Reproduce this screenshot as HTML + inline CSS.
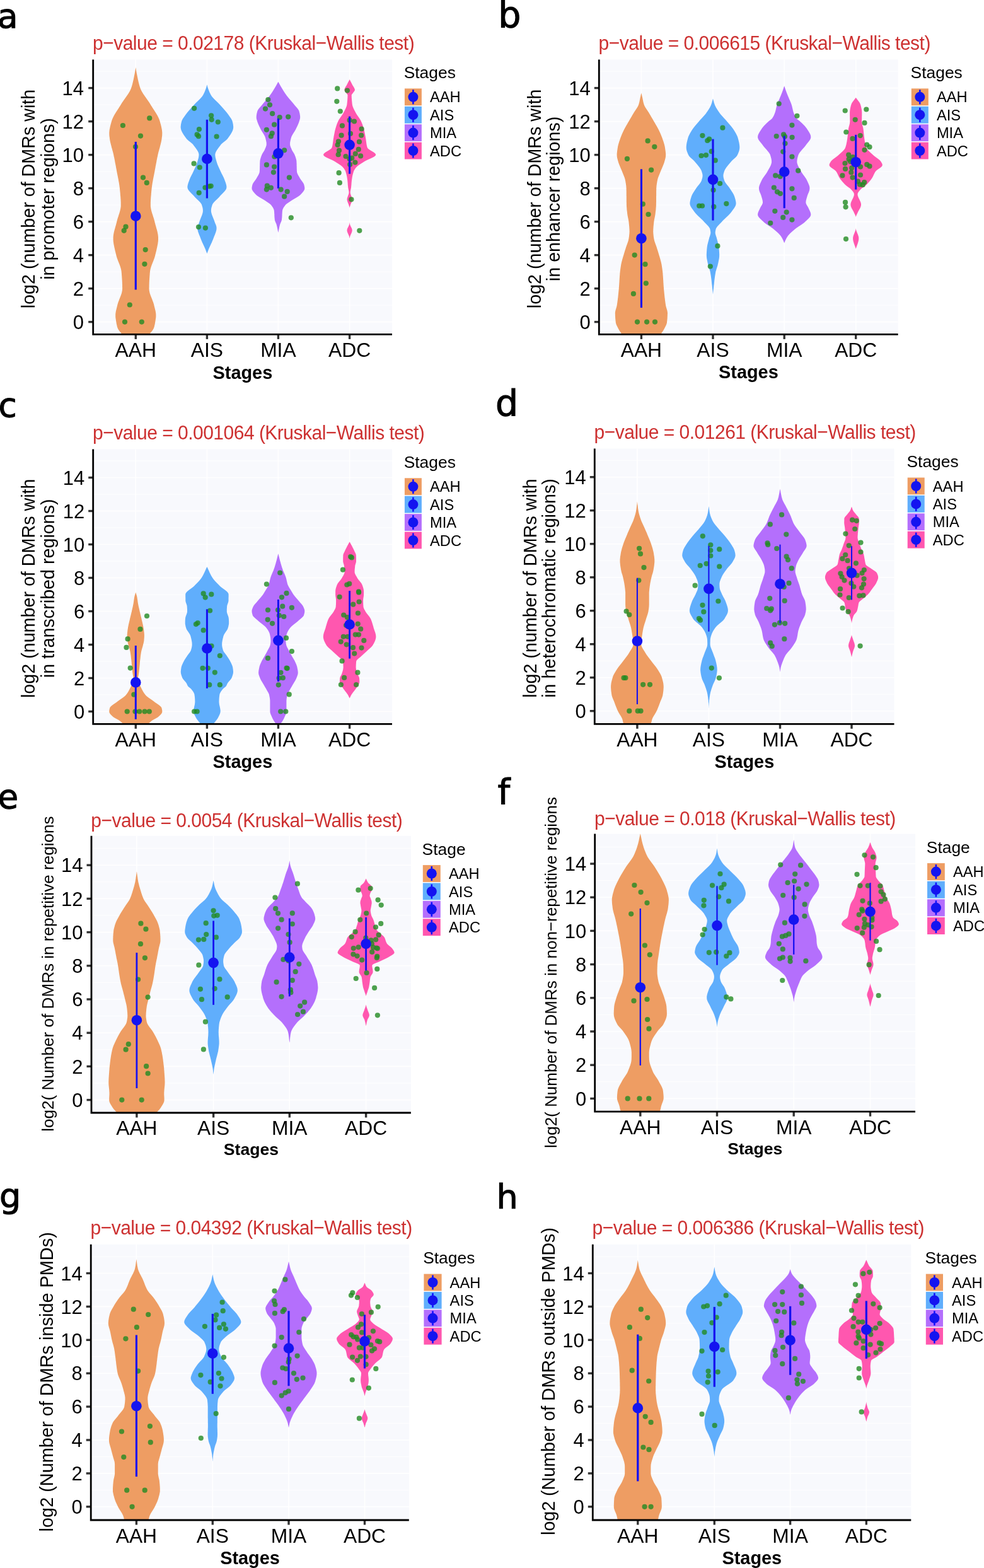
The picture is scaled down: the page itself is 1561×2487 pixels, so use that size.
<!DOCTYPE html>
<html><head><meta charset="utf-8"><title>Violin plots</title>
<style>
html,body{margin:0;padding:0;background:#fff;width:1561px;height:2487px;overflow:hidden}
svg{display:block}
circle.d{fill:#228B22;fill-opacity:.8}
</style></head><body>
<svg xmlns="http://www.w3.org/2000/svg" width="1561" height="2487" viewBox="0 0 1561 2487">
<clipPath id="c0"><rect x="147.7" y="94.5" width="474.3" height="435.9"/></clipPath>
<rect x="147.7" y="94.5" width="474.3" height="435.9" fill="#F8F9FD"/>
<g stroke="#FFFFFF"><line x1="147.7" x2="622" y1="510.6" y2="510.6" stroke-width="1.6"/><line x1="147.7" x2="622" y1="484.1" y2="484.1" stroke-width="0.9"/><line x1="147.7" x2="622" y1="457.6" y2="457.6" stroke-width="1.6"/><line x1="147.7" x2="622" y1="431.1" y2="431.1" stroke-width="0.9"/><line x1="147.7" x2="622" y1="404.6" y2="404.6" stroke-width="1.6"/><line x1="147.7" x2="622" y1="378.1" y2="378.1" stroke-width="0.9"/><line x1="147.7" x2="622" y1="351.6" y2="351.6" stroke-width="1.6"/><line x1="147.7" x2="622" y1="325.1" y2="325.1" stroke-width="0.9"/><line x1="147.7" x2="622" y1="298.6" y2="298.6" stroke-width="1.6"/><line x1="147.7" x2="622" y1="272.1" y2="272.1" stroke-width="0.9"/><line x1="147.7" x2="622" y1="245.6" y2="245.6" stroke-width="1.6"/><line x1="147.7" x2="622" y1="219.1" y2="219.1" stroke-width="0.9"/><line x1="147.7" x2="622" y1="192.6" y2="192.6" stroke-width="1.6"/><line x1="147.7" x2="622" y1="166.1" y2="166.1" stroke-width="0.9"/><line x1="147.7" x2="622" y1="139.6" y2="139.6" stroke-width="1.6"/><line x1="147.7" x2="622" y1="113.1" y2="113.1" stroke-width="0.9"/><line x1="215.3" x2="215.3" y1="94.5" y2="530.4" stroke-width="1.6"/><line x1="328.4" x2="328.4" y1="94.5" y2="530.4" stroke-width="1.6"/><line x1="441.4" x2="441.4" y1="94.5" y2="530.4" stroke-width="1.6"/><line x1="554.6" x2="554.6" y1="94.5" y2="530.4" stroke-width="1.6"/></g>
<g clip-path="url(#c0)">
<path d="M215.3,107 L215.5,108 L215.6,109 L215.8,110 L216,111 L216.1,112 L216.3,113 L216.5,114 L216.6,115 L216.8,116 L217,117 L217.2,118 L217.4,119 L217.6,120 L217.8,121 L218,122 L218.2,123 L218.4,124 L218.6,125 L218.8,126 L219,127 L219.3,128 L219.5,129 L219.7,130 L220,131 L220.2,132 L220.5,133 L220.7,134 L221,135 L221.3,136 L221.6,137 L221.9,138 L222.3,139 L222.6,140 L223,141 L223.4,142 L223.9,143 L224.4,144 L224.9,145 L225.5,146 L226.1,147 L226.7,148 L227.3,149 L228,150 L228.7,151.1 L229.4,152.1 L230.1,153.1 L230.8,154.1 L231.5,155.1 L232.2,156.1 L232.9,157.1 L233.6,158.1 L234.3,159.1 L235,160.1 L235.7,161.1 L236.4,162.1 L237.1,163.1 L237.7,164.1 L238.3,165.1 L238.9,166.1 L239.5,167.1 L240.1,168.1 L240.8,169.1 L241.4,170.1 L242,171.1 L242.7,172.1 L243.3,173.1 L244,174.1 L244.6,175.1 L245.3,176.1 L245.9,177.1 L246.6,178.1 L247.2,179.1 L247.8,180.1 L248.4,181.1 L249,182.1 L249.6,183.1 L250.1,184.1 L250.6,185.1 L251.1,186.1 L251.6,187.1 L252,188.1 L252.5,189.1 L252.8,190.1 L253.2,191.1 L253.5,192.1 L253.8,193.1 L254.1,194.1 L254.3,195.1 L254.6,196.1 L254.9,197.1 L255.2,198.1 L255.4,199.1 L255.7,200.1 L255.9,201.1 L256.1,202.1 L256.3,203.1 L256.5,204.1 L256.7,205.1 L256.9,206.1 L257,207.1 L257.1,208.1 L257.2,209.1 L257.3,210.1 L257.3,211.1 L257.3,212.1 L257.3,213.1 L257.2,214.1 L257.2,215.1 L257.1,216.1 L256.9,217.1 L256.8,218.1 L256.7,219.1 L256.6,220.1 L256.4,221.1 L256.3,222.1 L256.1,223.1 L255.9,224.1 L255.7,225.1 L255.5,226.1 L255.2,227.1 L255,228.1 L254.7,229.1 L254.5,230.1 L254.2,231.1 L253.9,232.1 L253.7,233.2 L253.4,234.2 L253.1,235.2 L252.8,236.2 L252.5,237.2 L252.3,238.2 L252,239.2 L251.7,240.2 L251.4,241.2 L251.2,242.2 L250.9,243.2 L250.7,244.2 L250.5,245.2 L250.3,246.2 L250.1,247.2 L249.9,248.2 L249.6,249.2 L249.4,250.2 L249.2,251.2 L249,252.2 L248.8,253.2 L248.6,254.2 L248.4,255.2 L248.3,256.2 L248.1,257.2 L247.9,258.2 L247.7,259.2 L247.5,260.2 L247.3,261.2 L247.1,262.2 L246.9,263.2 L246.7,264.2 L246.6,265.2 L246.4,266.2 L246.2,267.2 L246,268.2 L245.8,269.2 L245.6,270.2 L245.5,271.2 L245.3,272.2 L245.1,273.2 L244.9,274.2 L244.7,275.2 L244.5,276.2 L244.3,277.2 L244.1,278.2 L243.9,279.2 L243.7,280.2 L243.5,281.2 L243.3,282.2 L243.1,283.2 L242.9,284.2 L242.7,285.2 L242.6,286.2 L242.4,287.2 L242.2,288.2 L242,289.2 L241.8,290.2 L241.7,291.2 L241.5,292.2 L241.4,293.2 L241.2,294.2 L241.1,295.2 L241,296.2 L240.8,297.2 L240.7,298.2 L240.6,299.2 L240.5,300.2 L240.4,301.2 L240.3,302.2 L240.2,303.2 L240.1,304.2 L240,305.2 L239.9,306.2 L239.8,307.2 L239.8,308.2 L239.7,309.2 L239.6,310.2 L239.5,311.2 L239.4,312.2 L239.3,313.2 L239.3,314.3 L239.2,315.3 L239.1,316.3 L239.1,317.3 L239,318.3 L239,319.3 L238.9,320.3 L238.9,321.3 L238.9,322.3 L238.9,323.3 L238.9,324.3 L238.9,325.3 L238.9,326.3 L238.9,327.3 L239,328.3 L239.2,329.3 L239.3,330.3 L239.5,331.3 L239.7,332.3 L239.9,333.3 L240.2,334.3 L240.4,335.3 L240.7,336.3 L241,337.3 L241.3,338.3 L241.6,339.3 L242,340.3 L242.3,341.3 L242.6,342.3 L242.9,343.3 L243.2,344.3 L243.6,345.3 L243.9,346.3 L244.2,347.3 L244.5,348.3 L244.7,349.3 L245,350.3 L245.3,351.3 L245.5,352.3 L245.7,353.3 L246,354.3 L246.3,355.3 L246.5,356.3 L246.8,357.3 L247.1,358.3 L247.4,359.3 L247.7,360.3 L247.9,361.3 L248.2,362.3 L248.5,363.3 L248.8,364.3 L249.1,365.3 L249.3,366.3 L249.6,367.3 L249.8,368.3 L250,369.3 L250.2,370.3 L250.4,371.3 L250.6,372.3 L250.7,373.3 L250.8,374.3 L250.9,375.3 L251,376.3 L251,377.3 L251,378.3 L251,379.3 L251,380.3 L250.9,381.3 L250.9,382.3 L250.8,383.3 L250.6,384.3 L250.5,385.3 L250.4,386.3 L250.2,387.3 L250,388.3 L249.8,389.3 L249.6,390.3 L249.4,391.3 L249.2,392.3 L249,393.3 L248.7,394.3 L248.5,395.3 L248.3,396.4 L248,397.4 L247.8,398.4 L247.5,399.4 L247.3,400.4 L247,401.4 L246.8,402.4 L246.5,403.4 L246.3,404.4 L246.1,405.4 L245.8,406.4 L245.5,407.4 L245.2,408.4 L244.9,409.4 L244.5,410.4 L244.1,411.4 L243.8,412.4 L243.4,413.4 L243,414.4 L242.6,415.4 L242.2,416.4 L241.8,417.4 L241.4,418.4 L241,419.4 L240.6,420.4 L240.3,421.4 L239.9,422.4 L239.6,423.4 L239.3,424.4 L239,425.4 L238.7,426.4 L238.5,427.4 L238.3,428.4 L238.1,429.4 L238,430.4 L237.9,431.4 L237.8,432.4 L237.7,433.4 L237.6,434.4 L237.6,435.4 L237.5,436.4 L237.4,437.4 L237.3,438.4 L237.3,439.4 L237.2,440.4 L237.1,441.4 L237.1,442.4 L237,443.4 L236.9,444.4 L236.9,445.4 L236.8,446.4 L236.8,447.4 L236.7,448.4 L236.7,449.4 L236.7,450.4 L236.6,451.4 L236.6,452.4 L236.6,453.4 L236.6,454.4 L236.6,455.4 L236.5,456.4 L236.5,457.4 L236.6,458.4 L236.6,459.4 L236.7,460.4 L236.9,461.4 L237.1,462.4 L237.3,463.4 L237.5,464.4 L237.8,465.4 L238.1,466.4 L238.5,467.4 L238.8,468.4 L239.2,469.4 L239.6,470.4 L240,471.4 L240.4,472.4 L240.8,473.4 L241.2,474.4 L241.6,475.4 L241.9,476.4 L242.3,477.5 L242.7,478.5 L243.1,479.5 L243.4,480.5 L243.7,481.5 L244,482.5 L244.3,483.5 L244.5,484.5 L244.7,485.5 L245,486.5 L245.2,487.5 L245.5,488.5 L245.7,489.5 L246,490.5 L246.2,491.5 L246.5,492.5 L246.7,493.5 L246.9,494.5 L247,495.5 L247.2,496.5 L247.3,497.5 L247.4,498.5 L247.4,499.5 L247.4,500.5 L247.4,501.5 L247.4,502.5 L247.3,503.5 L247.2,504.5 L247,505.5 L246.9,506.5 L246.7,507.5 L246.6,508.5 L246.4,509.5 L246.3,510.5 L246.1,511.5 L245.9,512.5 L245.8,513.5 L245.6,514.5 L245.3,515.5 L245.1,516.5 L244.9,517.5 L244.6,518.5 L244.3,519.5 L243.9,520.5 L243.5,521.5 L242.9,522.5 L242.3,523.5 L241.6,524.5 L240.8,525.5 L240,526.5 L239.1,527.5 L238.3,528.5 L237.4,529.5 L236.6,530.5 L235.8,531.5 L235,532.5 L234.2,533.5 L233.4,534.5 L232.5,535.5 L231.6,536.5 L230.8,537.5 L229.9,538.5 L229,539.5 L228.2,540.5 L227.3,541.5 L226.5,542.5 L225.6,543.5 L224.7,544.5 L223.9,545.5 L223,546.5 L222.2,547.5 L221.3,548.5 L220.5,549.5 L219.6,550.5 L218.7,551.5 L217.9,552.5 L217,553.5 L216.2,554.5 L215.3,555.5 L215.3,555.5 L214.4,554.5 L213.6,553.5 L212.7,552.5 L211.9,551.5 L211,550.5 L210.1,549.5 L209.3,548.5 L208.4,547.5 L207.6,546.5 L206.7,545.5 L205.9,544.5 L205,543.5 L204.1,542.5 L203.3,541.5 L202.4,540.5 L201.6,539.5 L200.7,538.5 L199.8,537.5 L199,536.5 L198.1,535.5 L197.2,534.5 L196.4,533.5 L195.6,532.5 L194.8,531.5 L194,530.5 L193.2,529.5 L192.3,528.5 L191.5,527.5 L190.6,526.5 L189.8,525.5 L189,524.5 L188.3,523.5 L187.7,522.5 L187.1,521.5 L186.7,520.5 L186.3,519.5 L186,518.5 L185.7,517.5 L185.5,516.5 L185.3,515.5 L185,514.5 L184.8,513.5 L184.7,512.5 L184.5,511.5 L184.3,510.5 L184.2,509.5 L184,508.5 L183.9,507.5 L183.7,506.5 L183.6,505.5 L183.4,504.5 L183.3,503.5 L183.2,502.5 L183.2,501.5 L183.2,500.5 L183.2,499.5 L183.2,498.5 L183.3,497.5 L183.4,496.5 L183.6,495.5 L183.7,494.5 L183.9,493.5 L184.1,492.5 L184.4,491.5 L184.6,490.5 L184.9,489.5 L185.1,488.5 L185.4,487.5 L185.6,486.5 L185.9,485.5 L186.1,484.5 L186.3,483.5 L186.6,482.5 L186.9,481.5 L187.2,480.5 L187.5,479.5 L187.9,478.5 L188.3,477.5 L188.7,476.4 L189,475.4 L189.4,474.4 L189.8,473.4 L190.2,472.4 L190.6,471.4 L191,470.4 L191.4,469.4 L191.8,468.4 L192.1,467.4 L192.5,466.4 L192.8,465.4 L193.1,464.4 L193.3,463.4 L193.5,462.4 L193.7,461.4 L193.9,460.4 L194,459.4 L194,458.4 L194.1,457.4 L194.1,456.4 L194,455.4 L194,454.4 L194,453.4 L194,452.4 L194,451.4 L193.9,450.4 L193.9,449.4 L193.9,448.4 L193.8,447.4 L193.8,446.4 L193.7,445.4 L193.7,444.4 L193.6,443.4 L193.5,442.4 L193.5,441.4 L193.4,440.4 L193.3,439.4 L193.3,438.4 L193.2,437.4 L193.1,436.4 L193,435.4 L193,434.4 L192.9,433.4 L192.8,432.4 L192.7,431.4 L192.6,430.4 L192.5,429.4 L192.3,428.4 L192.1,427.4 L191.9,426.4 L191.6,425.4 L191.3,424.4 L191,423.4 L190.7,422.4 L190.3,421.4 L190,420.4 L189.6,419.4 L189.2,418.4 L188.8,417.4 L188.4,416.4 L188,415.4 L187.6,414.4 L187.2,413.4 L186.8,412.4 L186.5,411.4 L186.1,410.4 L185.7,409.4 L185.4,408.4 L185.1,407.4 L184.8,406.4 L184.5,405.4 L184.3,404.4 L184.1,403.4 L183.8,402.4 L183.6,401.4 L183.3,400.4 L183.1,399.4 L182.8,398.4 L182.6,397.4 L182.3,396.4 L182.1,395.3 L181.9,394.3 L181.6,393.3 L181.4,392.3 L181.2,391.3 L181,390.3 L180.8,389.3 L180.6,388.3 L180.4,387.3 L180.2,386.3 L180.1,385.3 L180,384.3 L179.8,383.3 L179.7,382.3 L179.7,381.3 L179.6,380.3 L179.6,379.3 L179.6,378.3 L179.6,377.3 L179.6,376.3 L179.7,375.3 L179.8,374.3 L179.9,373.3 L180,372.3 L180.2,371.3 L180.4,370.3 L180.6,369.3 L180.8,368.3 L181,367.3 L181.3,366.3 L181.5,365.3 L181.8,364.3 L182.1,363.3 L182.4,362.3 L182.7,361.3 L182.9,360.3 L183.2,359.3 L183.5,358.3 L183.8,357.3 L184.1,356.3 L184.3,355.3 L184.6,354.3 L184.9,353.3 L185.1,352.3 L185.3,351.3 L185.6,350.3 L185.9,349.3 L186.1,348.3 L186.4,347.3 L186.7,346.3 L187,345.3 L187.4,344.3 L187.7,343.3 L188,342.3 L188.3,341.3 L188.6,340.3 L189,339.3 L189.3,338.3 L189.6,337.3 L189.9,336.3 L190.2,335.3 L190.4,334.3 L190.7,333.3 L190.9,332.3 L191.1,331.3 L191.3,330.3 L191.4,329.3 L191.6,328.3 L191.7,327.3 L191.7,326.3 L191.7,325.3 L191.7,324.3 L191.7,323.3 L191.7,322.3 L191.7,321.3 L191.7,320.3 L191.6,319.3 L191.6,318.3 L191.5,317.3 L191.5,316.3 L191.4,315.3 L191.3,314.3 L191.3,313.2 L191.2,312.2 L191.1,311.2 L191,310.2 L190.9,309.2 L190.8,308.2 L190.8,307.2 L190.7,306.2 L190.6,305.2 L190.5,304.2 L190.4,303.2 L190.3,302.2 L190.2,301.2 L190.1,300.2 L190,299.2 L189.9,298.2 L189.8,297.2 L189.6,296.2 L189.5,295.2 L189.4,294.2 L189.2,293.2 L189.1,292.2 L188.9,291.2 L188.8,290.2 L188.6,289.2 L188.4,288.2 L188.2,287.2 L188,286.2 L187.9,285.2 L187.7,284.2 L187.5,283.2 L187.3,282.2 L187.1,281.2 L186.9,280.2 L186.7,279.2 L186.5,278.2 L186.3,277.2 L186.1,276.2 L185.9,275.2 L185.7,274.2 L185.5,273.2 L185.3,272.2 L185.1,271.2 L185,270.2 L184.8,269.2 L184.6,268.2 L184.4,267.2 L184.2,266.2 L184,265.2 L183.9,264.2 L183.7,263.2 L183.5,262.2 L183.3,261.2 L183.1,260.2 L182.9,259.2 L182.7,258.2 L182.5,257.2 L182.3,256.2 L182.2,255.2 L182,254.2 L181.8,253.2 L181.6,252.2 L181.4,251.2 L181.2,250.2 L181,249.2 L180.7,248.2 L180.5,247.2 L180.3,246.2 L180.1,245.2 L179.9,244.2 L179.7,243.2 L179.4,242.2 L179.2,241.2 L178.9,240.2 L178.6,239.2 L178.3,238.2 L178.1,237.2 L177.8,236.2 L177.5,235.2 L177.2,234.2 L176.9,233.2 L176.7,232.1 L176.4,231.1 L176.1,230.1 L175.9,229.1 L175.6,228.1 L175.4,227.1 L175.1,226.1 L174.9,225.1 L174.7,224.1 L174.5,223.1 L174.3,222.1 L174.2,221.1 L174,220.1 L173.9,219.1 L173.8,218.1 L173.7,217.1 L173.5,216.1 L173.4,215.1 L173.4,214.1 L173.3,213.1 L173.3,212.1 L173.3,211.1 L173.3,210.1 L173.4,209.1 L173.5,208.1 L173.6,207.1 L173.7,206.1 L173.9,205.1 L174.1,204.1 L174.3,203.1 L174.5,202.1 L174.7,201.1 L174.9,200.1 L175.2,199.1 L175.4,198.1 L175.7,197.1 L176,196.1 L176.3,195.1 L176.5,194.1 L176.8,193.1 L177.1,192.1 L177.4,191.1 L177.8,190.1 L178.1,189.1 L178.6,188.1 L179,187.1 L179.5,186.1 L180,185.1 L180.5,184.1 L181,183.1 L181.6,182.1 L182.2,181.1 L182.8,180.1 L183.4,179.1 L184,178.1 L184.7,177.1 L185.3,176.1 L186,175.1 L186.6,174.1 L187.3,173.1 L187.9,172.1 L188.6,171.1 L189.2,170.1 L189.8,169.1 L190.5,168.1 L191.1,167.1 L191.7,166.1 L192.3,165.1 L192.9,164.1 L193.5,163.1 L194.2,162.1 L194.9,161.1 L195.6,160.1 L196.3,159.1 L197,158.1 L197.7,157.1 L198.4,156.1 L199.1,155.1 L199.8,154.1 L200.5,153.1 L201.2,152.1 L201.9,151.1 L202.6,150 L203.3,149 L203.9,148 L204.5,147 L205.1,146 L205.7,145 L206.2,144 L206.7,143 L207.2,142 L207.6,141 L208,140 L208.3,139 L208.7,138 L209,137 L209.3,136 L209.6,135 L209.9,134 L210.1,133 L210.4,132 L210.6,131 L210.9,130 L211.1,129 L211.3,128 L211.6,127 L211.8,126 L212,125 L212.2,124 L212.4,123 L212.6,122 L212.8,121 L213,120 L213.2,119 L213.4,118 L213.6,117 L213.8,116 L214,115 L214.1,114 L214.3,113 L214.5,112 L214.6,111 L214.8,110 L215,109 L215.1,108 L215.3,107Z" fill="#EE9D63"/>
<path d="M328.4,134.3 L328.7,135.3 L328.9,136.3 L329.2,137.3 L329.5,138.4 L329.8,139.4 L330.2,140.4 L330.5,141.4 L330.9,142.4 L331.3,143.4 L331.7,144.4 L332.1,145.4 L332.5,146.4 L333,147.4 L333.5,148.4 L334,149.4 L334.5,150.4 L335.1,151.4 L335.8,152.4 L336.5,153.4 L337.4,154.4 L338.3,155.4 L339.2,156.4 L340.2,157.4 L341.2,158.4 L342.2,159.4 L343.3,160.4 L344.3,161.4 L345.4,162.4 L346.4,163.4 L347.3,164.4 L348.3,165.4 L349.2,166.4 L350.1,167.4 L351,168.4 L351.9,169.5 L352.8,170.5 L353.7,171.5 L354.6,172.5 L355.4,173.5 L356.3,174.5 L357.2,175.5 L358,176.5 L358.9,177.5 L359.7,178.5 L360.5,179.5 L361.2,180.5 L362,181.5 L362.7,182.5 L363.4,183.5 L364.1,184.5 L364.8,185.5 L365.5,186.5 L366.2,187.5 L366.9,188.5 L367.4,189.5 L367.9,190.5 L368.4,191.5 L368.7,192.5 L368.9,193.5 L369.2,194.5 L369.4,195.5 L369.6,196.5 L369.8,197.5 L369.9,198.5 L370,199.6 L370.1,200.6 L370.2,201.6 L370.1,202.6 L370,203.6 L369.8,204.6 L369.6,205.6 L369.2,206.6 L368.9,207.6 L368.4,208.6 L367.9,209.6 L367.4,210.6 L366.8,211.6 L366.2,212.6 L365.6,213.6 L364.9,214.6 L364.2,215.6 L363.5,216.6 L362.8,217.6 L362.1,218.6 L361.4,219.6 L360.6,220.6 L359.6,221.6 L358.5,222.6 L357.3,223.6 L356,224.6 L354.7,225.6 L353.5,226.6 L352.3,227.6 L351.2,228.6 L350.3,229.6 L349.5,230.7 L348.7,231.7 L347.9,232.7 L347.2,233.7 L346.4,234.7 L345.7,235.7 L345,236.7 L344.3,237.7 L343.7,238.7 L343.1,239.7 L342.6,240.7 L342.1,241.7 L341.8,242.7 L341.5,243.7 L341.4,244.7 L341.3,245.7 L341.4,246.7 L341.5,247.7 L341.6,248.7 L341.8,249.7 L342,250.7 L342.3,251.7 L342.6,252.7 L342.8,253.7 L343.1,254.7 L343.4,255.7 L343.7,256.7 L344,257.7 L344.3,258.7 L344.7,259.7 L345,260.7 L345.4,261.8 L345.9,262.8 L346.3,263.8 L346.7,264.8 L347.2,265.8 L347.6,266.8 L348.1,267.8 L348.6,268.8 L349,269.8 L349.5,270.8 L349.9,271.8 L350.4,272.8 L350.9,273.8 L351.3,274.8 L351.8,275.8 L352.4,276.8 L352.9,277.8 L353.4,278.8 L353.9,279.8 L354.4,280.8 L354.9,281.8 L355.3,282.8 L355.7,283.8 L356.1,284.8 L356.5,285.8 L356.8,286.8 L357.2,287.8 L357.6,288.8 L357.9,289.8 L358.3,290.8 L358.6,291.9 L358.9,292.9 L359.1,293.9 L359.3,294.9 L359.4,295.9 L359.4,296.9 L359.3,297.9 L359.1,298.9 L358.7,299.9 L358.1,300.9 L357.4,301.9 L356.6,302.9 L355.8,303.9 L354.8,304.9 L353.9,305.9 L352.9,306.9 L351.9,307.9 L350.9,308.9 L349.9,309.9 L349,310.9 L348.2,311.9 L347.3,312.9 L346.3,313.9 L345.3,314.9 L344.3,315.9 L343.2,316.9 L342.1,317.9 L341.1,318.9 L340.1,319.9 L339.2,320.9 L338.4,321.9 L337.7,323 L337.1,324 L336.7,325 L336.4,326 L336.1,327 L335.8,328 L335.5,329 L335.3,330 L335.1,331 L335,332 L334.9,333 L334.9,334 L334.9,335 L335,336 L335.2,337 L335.4,338 L335.7,339 L336,340 L336.3,341 L336.7,342 L337.1,343 L337.5,344 L337.9,345 L338.3,346 L338.7,347 L339.1,348 L339.5,349 L339.9,350 L340.2,351 L340.6,352 L340.9,353.1 L341.3,354.1 L341.7,355.1 L342.2,356.1 L342.6,357.1 L342.9,358.1 L343.2,359.1 L343.4,360.1 L343.5,361.1 L343.5,362.1 L343.5,363.1 L343.4,364.1 L343.2,365.1 L343,366.1 L342.7,367.1 L342.4,368.1 L342.1,369.1 L341.7,370.1 L341.3,371.1 L341,372.1 L340.6,373.1 L340.1,374.1 L339.7,375.1 L339.3,376.1 L339,377.1 L338.6,378.1 L338.2,379.1 L337.8,380.1 L337.4,381.1 L337,382.1 L336.5,383.1 L336.1,384.2 L335.6,385.2 L335.1,386.2 L334.6,387.2 L334.2,388.2 L333.7,389.2 L333.2,390.2 L332.8,391.2 L332.3,392.2 L331.9,393.2 L331.4,394.2 L331,395.2 L330.6,396.2 L330.3,397.2 L329.9,398.2 L329.5,399.2 L329.1,400.2 L328.8,401.2 L328.4,402.2 L328.4,402.2 L328,401.2 L327.7,400.2 L327.3,399.2 L326.9,398.2 L326.5,397.2 L326.2,396.2 L325.8,395.2 L325.4,394.2 L324.9,393.2 L324.5,392.2 L324,391.2 L323.6,390.2 L323.1,389.2 L322.6,388.2 L322.2,387.2 L321.7,386.2 L321.2,385.2 L320.7,384.2 L320.3,383.1 L319.8,382.1 L319.4,381.1 L319,380.1 L318.6,379.1 L318.2,378.1 L317.8,377.1 L317.5,376.1 L317.1,375.1 L316.7,374.1 L316.2,373.1 L315.8,372.1 L315.5,371.1 L315.1,370.1 L314.7,369.1 L314.4,368.1 L314.1,367.1 L313.8,366.1 L313.6,365.1 L313.4,364.1 L313.3,363.1 L313.3,362.1 L313.3,361.1 L313.4,360.1 L313.6,359.1 L313.9,358.1 L314.2,357.1 L314.6,356.1 L315.1,355.1 L315.5,354.1 L315.9,353.1 L316.2,352 L316.6,351 L316.9,350 L317.3,349 L317.7,348 L318.1,347 L318.5,346 L318.9,345 L319.3,344 L319.7,343 L320.1,342 L320.5,341 L320.8,340 L321.1,339 L321.4,338 L321.6,337 L321.8,336 L321.9,335 L321.9,334 L321.9,333 L321.8,332 L321.7,331 L321.5,330 L321.3,329 L321,328 L320.7,327 L320.4,326 L320.1,325 L319.7,324 L319.1,323 L318.4,321.9 L317.6,320.9 L316.7,319.9 L315.7,318.9 L314.7,317.9 L313.6,316.9 L312.5,315.9 L311.5,314.9 L310.5,313.9 L309.5,312.9 L308.6,311.9 L307.8,310.9 L306.9,309.9 L305.9,308.9 L304.9,307.9 L303.9,306.9 L302.9,305.9 L302,304.9 L301,303.9 L300.2,302.9 L299.4,301.9 L298.7,300.9 L298.1,299.9 L297.7,298.9 L297.5,297.9 L297.4,296.9 L297.4,295.9 L297.5,294.9 L297.7,293.9 L297.9,292.9 L298.2,291.9 L298.5,290.8 L298.9,289.8 L299.2,288.8 L299.6,287.8 L300,286.8 L300.3,285.8 L300.7,284.8 L301.1,283.8 L301.5,282.8 L301.9,281.8 L302.4,280.8 L302.9,279.8 L303.4,278.8 L303.9,277.8 L304.4,276.8 L305,275.8 L305.5,274.8 L305.9,273.8 L306.4,272.8 L306.9,271.8 L307.3,270.8 L307.8,269.8 L308.2,268.8 L308.7,267.8 L309.2,266.8 L309.6,265.8 L310.1,264.8 L310.5,263.8 L310.9,262.8 L311.4,261.8 L311.8,260.7 L312.1,259.7 L312.5,258.7 L312.8,257.7 L313.1,256.7 L313.4,255.7 L313.7,254.7 L314,253.7 L314.2,252.7 L314.5,251.7 L314.8,250.7 L315,249.7 L315.2,248.7 L315.3,247.7 L315.4,246.7 L315.5,245.7 L315.4,244.7 L315.3,243.7 L315,242.7 L314.7,241.7 L314.2,240.7 L313.7,239.7 L313.1,238.7 L312.5,237.7 L311.8,236.7 L311.1,235.7 L310.4,234.7 L309.6,233.7 L308.9,232.7 L308.1,231.7 L307.3,230.7 L306.5,229.6 L305.6,228.6 L304.5,227.6 L303.3,226.6 L302.1,225.6 L300.8,224.6 L299.5,223.6 L298.3,222.6 L297.2,221.6 L296.2,220.6 L295.4,219.6 L294.7,218.6 L294,217.6 L293.3,216.6 L292.6,215.6 L291.9,214.6 L291.2,213.6 L290.6,212.6 L290,211.6 L289.4,210.6 L288.9,209.6 L288.4,208.6 L287.9,207.6 L287.6,206.6 L287.2,205.6 L287,204.6 L286.8,203.6 L286.7,202.6 L286.6,201.6 L286.7,200.6 L286.8,199.6 L286.9,198.5 L287,197.5 L287.2,196.5 L287.4,195.5 L287.6,194.5 L287.9,193.5 L288.1,192.5 L288.4,191.5 L288.9,190.5 L289.4,189.5 L289.9,188.5 L290.6,187.5 L291.3,186.5 L292,185.5 L292.7,184.5 L293.4,183.5 L294.1,182.5 L294.8,181.5 L295.6,180.5 L296.3,179.5 L297.1,178.5 L297.9,177.5 L298.8,176.5 L299.6,175.5 L300.5,174.5 L301.4,173.5 L302.2,172.5 L303.1,171.5 L304,170.5 L304.9,169.5 L305.8,168.4 L306.7,167.4 L307.6,166.4 L308.5,165.4 L309.5,164.4 L310.4,163.4 L311.4,162.4 L312.5,161.4 L313.5,160.4 L314.6,159.4 L315.6,158.4 L316.6,157.4 L317.6,156.4 L318.5,155.4 L319.4,154.4 L320.3,153.4 L321,152.4 L321.7,151.4 L322.3,150.4 L322.8,149.4 L323.3,148.4 L323.8,147.4 L324.3,146.4 L324.7,145.4 L325.1,144.4 L325.5,143.4 L325.9,142.4 L326.3,141.4 L326.6,140.4 L327,139.4 L327.3,138.4 L327.6,137.3 L327.9,136.3 L328.1,135.3 L328.4,134.3Z" fill="#60AEFC"/>
<path d="M441.4,129.7 L442,130.7 L442.5,131.7 L443.1,132.7 L443.6,133.7 L444.2,134.7 L444.7,135.7 L445.3,136.7 L445.9,137.7 L446.5,138.7 L447.1,139.7 L447.7,140.7 L448.3,141.7 L448.9,142.7 L449.5,143.7 L450.1,144.7 L450.8,145.7 L451.4,146.7 L452.1,147.7 L452.8,148.7 L453.5,149.7 L454.2,150.7 L454.9,151.7 L455.7,152.7 L456.5,153.7 L457.3,154.7 L458.1,155.7 L459,156.7 L459.8,157.7 L460.7,158.7 L461.6,159.7 L462.4,160.8 L463.3,161.8 L464.1,162.8 L465,163.8 L465.8,164.8 L466.6,165.8 L467.4,166.8 L468.2,167.8 L469.1,168.8 L470,169.8 L470.9,170.8 L471.7,171.8 L472.5,172.8 L473.2,173.8 L473.8,174.8 L474.3,175.8 L474.6,176.8 L474.9,177.8 L475.1,178.8 L475.4,179.8 L475.6,180.8 L475.7,181.8 L475.9,182.8 L476,183.8 L476.1,184.8 L476.1,185.8 L476.1,186.8 L476,187.8 L475.8,188.8 L475.5,189.8 L475.2,190.8 L474.9,191.8 L474.6,192.8 L474.3,193.8 L473.9,194.8 L473.5,195.8 L473.1,196.8 L472.7,197.8 L472.2,198.8 L471.8,199.8 L471.3,200.8 L470.8,201.8 L470.3,202.8 L469.8,203.8 L469.4,204.8 L468.8,205.8 L468.3,206.8 L467.7,207.8 L467.1,208.8 L466.4,209.8 L465.8,210.8 L465.2,211.8 L464.5,212.8 L464,213.8 L463.4,214.8 L462.9,215.8 L462.4,216.8 L462.1,217.8 L461.8,218.8 L461.5,219.8 L461.3,220.8 L461,221.8 L460.8,222.8 L460.6,223.8 L460.4,224.8 L460.2,225.8 L460.1,226.8 L460.1,227.8 L460.1,228.8 L460.1,229.8 L460.3,230.8 L460.6,231.8 L460.9,232.8 L461.3,233.8 L461.7,234.8 L462.2,235.8 L462.6,236.8 L463,237.8 L463.5,238.8 L464.1,239.8 L464.7,240.8 L465.4,241.8 L466,242.8 L466.6,243.8 L467.1,244.8 L467.6,245.8 L467.9,246.8 L468.3,247.8 L468.7,248.8 L469,249.8 L469.3,250.8 L469.6,251.8 L469.9,252.8 L470.1,253.8 L470.3,254.8 L470.4,255.8 L470.4,256.8 L470.5,257.8 L470.5,258.8 L470.6,259.8 L470.6,260.9 L470.6,261.9 L470.6,262.9 L470.7,263.9 L470.7,264.9 L470.7,265.9 L470.7,266.9 L470.8,267.9 L470.8,268.9 L470.8,269.9 L470.9,270.9 L471,271.9 L471.1,272.9 L471.3,273.9 L471.7,274.9 L472.1,275.9 L472.6,276.9 L473.1,277.9 L473.7,278.9 L474.3,279.9 L474.9,280.9 L475.4,281.9 L476,282.9 L476.6,283.9 L477.3,284.9 L478,285.9 L478.8,286.9 L479.5,287.9 L480.2,288.9 L480.9,289.9 L481.5,290.9 L482,291.9 L482.3,292.9 L482.6,293.9 L482.8,294.9 L483,295.9 L483.2,296.9 L483.3,297.9 L483.3,298.9 L483.2,299.9 L482.8,300.9 L482.3,301.9 L481.7,302.9 L481,303.9 L480.1,304.9 L479.3,305.9 L478.4,306.9 L477.5,307.9 L476.5,308.9 L475.4,309.9 L474,310.9 L472.5,311.9 L470.9,312.9 L469.2,313.9 L467.5,314.9 L465.8,315.9 L464.1,316.9 L462.5,317.9 L461,318.9 L459.6,319.9 L458.1,320.9 L456.6,321.9 L455.1,322.9 L453.9,323.9 L452.9,324.9 L452.1,325.9 L451.4,326.9 L450.7,327.9 L450,328.9 L449.4,329.9 L449,330.9 L448.5,331.9 L448.2,332.9 L448,333.9 L447.9,334.9 L447.8,335.9 L447.7,336.9 L447.7,337.9 L447.6,338.9 L447.5,339.9 L447.5,340.9 L447.5,341.9 L447.4,342.9 L447.4,343.9 L447.3,344.9 L447.2,345.9 L447.1,346.9 L447,347.9 L446.9,348.9 L446.6,349.9 L446.3,350.9 L445.9,351.9 L445.4,352.9 L445,353.9 L444.5,354.9 L444.2,355.9 L443.9,356.9 L443.7,357.9 L443.4,358.9 L443.2,359.9 L443,361 L442.8,362 L442.6,363 L442.4,364 L442.2,365 L442,366 L441.8,367 L441.6,368 L441.4,369 L441.4,369 L441.2,368 L441,367 L440.8,366 L440.6,365 L440.4,364 L440.2,363 L440,362 L439.8,361 L439.6,359.9 L439.4,358.9 L439.1,357.9 L438.9,356.9 L438.6,355.9 L438.3,354.9 L437.8,353.9 L437.4,352.9 L436.9,351.9 L436.5,350.9 L436.2,349.9 L435.9,348.9 L435.8,347.9 L435.7,346.9 L435.6,345.9 L435.5,344.9 L435.4,343.9 L435.4,342.9 L435.3,341.9 L435.3,340.9 L435.3,339.9 L435.2,338.9 L435.1,337.9 L435.1,336.9 L435,335.9 L434.9,334.9 L434.8,333.9 L434.6,332.9 L434.3,331.9 L433.8,330.9 L433.4,329.9 L432.8,328.9 L432.1,327.9 L431.4,326.9 L430.7,325.9 L429.9,324.9 L428.9,323.9 L427.7,322.9 L426.2,321.9 L424.7,320.9 L423.2,319.9 L421.8,318.9 L420.3,317.9 L418.7,316.9 L417,315.9 L415.3,314.9 L413.6,313.9 L411.9,312.9 L410.3,311.9 L408.8,310.9 L407.4,309.9 L406.3,308.9 L405.3,307.9 L404.4,306.9 L403.5,305.9 L402.7,304.9 L401.8,303.9 L401.1,302.9 L400.5,301.9 L400,300.9 L399.6,299.9 L399.5,298.9 L399.5,297.9 L399.6,296.9 L399.8,295.9 L400,294.9 L400.2,293.9 L400.5,292.9 L400.8,291.9 L401.3,290.9 L401.9,289.9 L402.6,288.9 L403.3,287.9 L404,286.9 L404.8,285.9 L405.5,284.9 L406.2,283.9 L406.8,282.9 L407.4,281.9 L407.9,280.9 L408.5,279.9 L409.1,278.9 L409.7,277.9 L410.2,276.9 L410.7,275.9 L411.1,274.9 L411.5,273.9 L411.7,272.9 L411.8,271.9 L411.9,270.9 L412,269.9 L412,268.9 L412,267.9 L412.1,266.9 L412.1,265.9 L412.1,264.9 L412.1,263.9 L412.2,262.9 L412.2,261.9 L412.2,260.9 L412.2,259.8 L412.3,258.8 L412.3,257.8 L412.4,256.8 L412.4,255.8 L412.5,254.8 L412.7,253.8 L412.9,252.8 L413.2,251.8 L413.5,250.8 L413.8,249.8 L414.1,248.8 L414.5,247.8 L414.9,246.8 L415.2,245.8 L415.7,244.8 L416.2,243.8 L416.8,242.8 L417.4,241.8 L418.1,240.8 L418.7,239.8 L419.3,238.8 L419.8,237.8 L420.2,236.8 L420.6,235.8 L421.1,234.8 L421.5,233.8 L421.9,232.8 L422.2,231.8 L422.5,230.8 L422.7,229.8 L422.7,228.8 L422.7,227.8 L422.7,226.8 L422.6,225.8 L422.4,224.8 L422.2,223.8 L422,222.8 L421.8,221.8 L421.5,220.8 L421.3,219.8 L421,218.8 L420.7,217.8 L420.4,216.8 L419.9,215.8 L419.4,214.8 L418.8,213.8 L418.3,212.8 L417.6,211.8 L417,210.8 L416.4,209.8 L415.7,208.8 L415.1,207.8 L414.5,206.8 L414,205.8 L413.4,204.8 L413,203.8 L412.5,202.8 L412,201.8 L411.5,200.8 L411,199.8 L410.6,198.8 L410.1,197.8 L409.7,196.8 L409.3,195.8 L408.9,194.8 L408.5,193.8 L408.2,192.8 L407.9,191.8 L407.6,190.8 L407.3,189.8 L407,188.8 L406.8,187.8 L406.7,186.8 L406.7,185.8 L406.7,184.8 L406.8,183.8 L406.9,182.8 L407.1,181.8 L407.2,180.8 L407.4,179.8 L407.7,178.8 L407.9,177.8 L408.2,176.8 L408.5,175.8 L409,174.8 L409.6,173.8 L410.3,172.8 L411.1,171.8 L411.9,170.8 L412.8,169.8 L413.7,168.8 L414.6,167.8 L415.4,166.8 L416.2,165.8 L417,164.8 L417.8,163.8 L418.7,162.8 L419.5,161.8 L420.4,160.8 L421.2,159.7 L422.1,158.7 L423,157.7 L423.8,156.7 L424.7,155.7 L425.5,154.7 L426.3,153.7 L427.1,152.7 L427.9,151.7 L428.6,150.7 L429.3,149.7 L430,148.7 L430.7,147.7 L431.4,146.7 L432,145.7 L432.7,144.7 L433.3,143.7 L433.9,142.7 L434.5,141.7 L435.1,140.7 L435.7,139.7 L436.3,138.7 L436.9,137.7 L437.5,136.7 L438.1,135.7 L438.6,134.7 L439.2,133.7 L439.7,132.7 L440.3,131.7 L440.8,130.7 L441.4,129.7Z" fill="#B46FFC"/>
<path d="M554.6,126 L555.1,127 L555.6,128 L556.1,129 L556.7,130 L557.2,131 L557.7,132 L558.2,133 L558.7,134 L559.2,135 L559.8,136 L560.5,137 L561.1,138 L561.7,139 L562.2,140 L562.6,141 L562.9,142 L562.9,143 L562.5,144 L561.8,145 L561,146 L560.3,147 L559.6,148 L558.7,149 L558,150 L557.7,151 L557.7,152 L557.8,153 L557.8,154 L557.8,155 L557.9,156 L558,157 L558,158 L558.1,159 L558.2,160 L558.3,161 L558.4,162 L558.5,163 L558.6,164.1 L558.7,165.1 L558.9,166.1 L559,167.1 L559.3,168.1 L559.6,169.1 L560,170.1 L560.4,171.1 L560.8,172.1 L561.3,173.1 L561.8,174.1 L562.3,175.1 L562.8,176.1 L563.4,177.1 L563.9,178.1 L564.4,179.1 L565,180.1 L565.6,181.1 L566.2,182.1 L566.9,183.1 L567.6,184.1 L568.3,185.1 L569,186.1 L569.7,187.1 L570.3,188.1 L571,189.1 L571.6,190.1 L572.2,191.1 L572.7,192.1 L573.1,193.1 L573.6,194.1 L574,195.1 L574.4,196.1 L574.8,197.1 L575.1,198.1 L575.5,199.1 L575.8,200.1 L576.1,201.1 L576.4,202.1 L576.7,203.1 L577,204.1 L577.3,205.1 L577.5,206.1 L577.8,207.1 L578,208.1 L578.2,209.1 L578.4,210.1 L578.6,211.1 L578.8,212.1 L579,213.1 L579.2,214.1 L579.4,215.1 L579.6,216.1 L579.8,217.1 L579.9,218.1 L580.1,219.1 L580.3,220.1 L580.4,221.1 L580.6,222.1 L580.7,223.1 L580.8,224.1 L581,225.1 L581.1,226.1 L581.2,227.1 L581.4,228.1 L581.5,229.1 L581.7,230.1 L581.9,231.1 L582.1,232.1 L582.4,233.1 L582.7,234.1 L583.2,235.1 L584.2,236.1 L585.5,237.1 L587,238.1 L588.6,239.1 L590.3,240.1 L592,241.1 L593.5,242.1 L594.7,243.1 L595.6,244.1 L596.1,245.1 L596.1,246.1 L595.4,247.1 L594.3,248.1 L592.7,249.1 L590.8,250.1 L588.7,251.1 L586.5,252.1 L584.2,253.1 L582.1,254.1 L580.1,255.1 L578.3,256.1 L576.7,257.1 L575.2,258.1 L573.6,259.1 L572,260.1 L570.5,261.1 L569,262.1 L567.7,263.1 L566.5,264.1 L565.5,265.1 L564.6,266.1 L563.8,267.1 L563.1,268.1 L562.5,269.1 L561.9,270.1 L561.4,271.1 L561,272.1 L560.7,273.1 L560.4,274.1 L560.1,275.1 L559.8,276.1 L559.6,277.1 L559.3,278.1 L559.1,279.1 L558.9,280.1 L558.7,281.1 L558.6,282.1 L558.4,283.1 L558.3,284.1 L558.1,285.1 L558,286.1 L557.9,287.1 L557.8,288.1 L557.7,289.1 L557.6,290.1 L557.5,291.1 L557.5,292.1 L557.4,293.1 L557.3,294.1 L557.2,295.1 L557.1,296.1 L557,297.1 L556.9,298.1 L556.7,299.1 L556.5,300.1 L556.3,301.1 L556.1,302.1 L555.9,303.1 L555.8,304.1 L555.7,305.1 L555.8,306.1 L555.9,307.1 L556.2,308.1 L556.6,309.1 L556.9,310.1 L557.3,311.1 L557.7,312.2 L558.1,313.2 L558.4,314.2 L558.6,315.2 L558.7,316.2 L558.6,317.2 L558.4,318.2 L558.1,319.2 L557.8,320.2 L557.4,321.2 L557,322.2 L556.6,323.2 L556.2,324.2 L555.9,325.2 L555.6,326.2 L555.2,327.2 L554.9,328.2 L554.7,329.2 L554.6,330.2 L554.6,331.2 L554.6,332.2 L554.6,333.2 L554.6,334.2 L554.6,335.2 L554.6,336.2 L554.6,337.2 L554.6,338.2 L554.6,339.2 L554.6,340.2 L554.6,341.2 L554.6,342.2 L554.6,343.2 L554.6,344.2 L554.6,345.2 L554.6,346.2 L554.6,347.2 L554.6,348.2 L554.6,349.2 L554.6,350.2 L554.6,351.2 L554.6,352.2 L554.7,353.2 L554.8,354.2 L555,355.2 L555.2,356.2 L555.6,357.2 L556,358.2 L556.5,359.2 L557,360.2 L557.5,361.2 L558,362.2 L558.3,363.2 L558.6,364.2 L558.7,365.2 L558.6,366.2 L558.4,367.2 L558.1,368.2 L557.7,369.2 L557.3,370.2 L556.8,371.2 L556.4,372.2 L555.9,373.2 L555.5,374.2 L555.2,375.2 L555,376.2 L554.8,377.2 L554.6,378.2 L554.6,378.2 L554.4,377.2 L554.2,376.2 L554,375.2 L553.7,374.2 L553.3,373.2 L552.8,372.2 L552.4,371.2 L551.9,370.2 L551.5,369.2 L551.1,368.2 L550.8,367.2 L550.6,366.2 L550.5,365.2 L550.6,364.2 L550.9,363.2 L551.2,362.2 L551.7,361.2 L552.2,360.2 L552.7,359.2 L553.2,358.2 L553.6,357.2 L554,356.2 L554.2,355.2 L554.4,354.2 L554.5,353.2 L554.6,352.2 L554.6,351.2 L554.6,350.2 L554.6,349.2 L554.6,348.2 L554.6,347.2 L554.6,346.2 L554.6,345.2 L554.6,344.2 L554.6,343.2 L554.6,342.2 L554.6,341.2 L554.6,340.2 L554.6,339.2 L554.6,338.2 L554.6,337.2 L554.6,336.2 L554.6,335.2 L554.6,334.2 L554.6,333.2 L554.6,332.2 L554.6,331.2 L554.6,330.2 L554.5,329.2 L554.3,328.2 L554,327.2 L553.6,326.2 L553.3,325.2 L553,324.2 L552.6,323.2 L552.2,322.2 L551.8,321.2 L551.4,320.2 L551.1,319.2 L550.8,318.2 L550.6,317.2 L550.5,316.2 L550.6,315.2 L550.8,314.2 L551.1,313.2 L551.5,312.2 L551.9,311.1 L552.3,310.1 L552.6,309.1 L553,308.1 L553.3,307.1 L553.4,306.1 L553.5,305.1 L553.4,304.1 L553.3,303.1 L553.1,302.1 L552.9,301.1 L552.7,300.1 L552.5,299.1 L552.3,298.1 L552.2,297.1 L552.1,296.1 L552,295.1 L551.9,294.1 L551.8,293.1 L551.7,292.1 L551.7,291.1 L551.6,290.1 L551.5,289.1 L551.4,288.1 L551.3,287.1 L551.2,286.1 L551.1,285.1 L550.9,284.1 L550.8,283.1 L550.6,282.1 L550.5,281.1 L550.3,280.1 L550.1,279.1 L549.9,278.1 L549.6,277.1 L549.4,276.1 L549.1,275.1 L548.8,274.1 L548.5,273.1 L548.2,272.1 L547.8,271.1 L547.3,270.1 L546.7,269.1 L546.1,268.1 L545.4,267.1 L544.6,266.1 L543.7,265.1 L542.7,264.1 L541.5,263.1 L540.2,262.1 L538.7,261.1 L537.2,260.1 L535.6,259.1 L534,258.1 L532.5,257.1 L530.9,256.1 L529.1,255.1 L527.1,254.1 L525,253.1 L522.7,252.1 L520.5,251.1 L518.4,250.1 L516.5,249.1 L514.9,248.1 L513.8,247.1 L513.1,246.1 L513.1,245.1 L513.6,244.1 L514.5,243.1 L515.7,242.1 L517.2,241.1 L518.9,240.1 L520.6,239.1 L522.2,238.1 L523.7,237.1 L525,236.1 L526,235.1 L526.5,234.1 L526.8,233.1 L527.1,232.1 L527.3,231.1 L527.5,230.1 L527.7,229.1 L527.8,228.1 L528,227.1 L528.1,226.1 L528.2,225.1 L528.4,224.1 L528.5,223.1 L528.6,222.1 L528.8,221.1 L528.9,220.1 L529.1,219.1 L529.3,218.1 L529.4,217.1 L529.6,216.1 L529.8,215.1 L530,214.1 L530.2,213.1 L530.4,212.1 L530.6,211.1 L530.8,210.1 L531,209.1 L531.2,208.1 L531.4,207.1 L531.7,206.1 L531.9,205.1 L532.2,204.1 L532.5,203.1 L532.8,202.1 L533.1,201.1 L533.4,200.1 L533.7,199.1 L534.1,198.1 L534.4,197.1 L534.8,196.1 L535.2,195.1 L535.6,194.1 L536.1,193.1 L536.5,192.1 L537,191.1 L537.6,190.1 L538.2,189.1 L538.9,188.1 L539.5,187.1 L540.2,186.1 L540.9,185.1 L541.6,184.1 L542.3,183.1 L543,182.1 L543.6,181.1 L544.2,180.1 L544.8,179.1 L545.3,178.1 L545.8,177.1 L546.4,176.1 L546.9,175.1 L547.4,174.1 L547.9,173.1 L548.4,172.1 L548.8,171.1 L549.2,170.1 L549.6,169.1 L549.9,168.1 L550.2,167.1 L550.3,166.1 L550.5,165.1 L550.6,164.1 L550.7,163 L550.8,162 L550.9,161 L551,160 L551.1,159 L551.2,158 L551.2,157 L551.3,156 L551.4,155 L551.4,154 L551.4,153 L551.5,152 L551.5,151 L551.2,150 L550.5,149 L549.6,148 L548.9,147 L548.2,146 L547.4,145 L546.7,144 L546.3,143 L546.3,142 L546.6,141 L547,140 L547.5,139 L548.1,138 L548.7,137 L549.4,136 L550,135 L550.5,134 L551,133 L551.5,132 L552,131 L552.5,130 L553.1,129 L553.6,128 L554.1,127 L554.6,126Z" fill="#FF57AF"/>
<circle class="d" cx="194.9" cy="199" r="4.1"/>
<circle class="d" cx="237.2" cy="187.4" r="4.1"/>
<circle class="d" cx="223" cy="215.6" r="4.1"/>
<circle class="d" cx="215" cy="232.8" r="4.1"/>
<circle class="d" cx="227" cy="281.6" r="4.1"/>
<circle class="d" cx="232.8" cy="289.9" r="4.1"/>
<circle class="d" cx="199.5" cy="359.7" r="4.1"/>
<circle class="d" cx="196.7" cy="365.8" r="4.1"/>
<circle class="d" cx="230.7" cy="396.1" r="4.1"/>
<circle class="d" cx="229.4" cy="418.8" r="4.1"/>
<circle class="d" cx="205.8" cy="483.5" r="4.1"/>
<circle class="d" cx="198" cy="510.6" r="4.1"/>
<circle class="d" cx="224.8" cy="510.6" r="4.1"/>
<circle class="d" cx="308.1" cy="171.8" r="4.1"/>
<circle class="d" cx="335.1" cy="183.3" r="4.1"/>
<circle class="d" cx="335.7" cy="189.8" r="4.1"/>
<circle class="d" cx="345.8" cy="193.5" r="4.1"/>
<circle class="d" cx="315.9" cy="205.1" r="4.1"/>
<circle class="d" cx="312.6" cy="213.4" r="4.1"/>
<circle class="d" cx="315" cy="216.2" r="4.1"/>
<circle class="d" cx="343.6" cy="216.5" r="4.1"/>
<circle class="d" cx="307.6" cy="259.4" r="4.1"/>
<circle class="d" cx="316.8" cy="265.5" r="4.1"/>
<circle class="d" cx="325.5" cy="297.5" r="4.1"/>
<circle class="d" cx="332" cy="295.6" r="4.1"/>
<circle class="d" cx="334.7" cy="295.1" r="4.1"/>
<circle class="d" cx="315.7" cy="305.8" r="4.1"/>
<circle class="d" cx="315" cy="360.1" r="4.1"/>
<circle class="d" cx="325.9" cy="361.6" r="4.1"/>
<circle class="d" cx="425.3" cy="158" r="4.1"/>
<circle class="d" cx="428" cy="166.3" r="4.1"/>
<circle class="d" cx="421" cy="172.6" r="4.1"/>
<circle class="d" cx="432.1" cy="180.2" r="4.1"/>
<circle class="d" cx="443.7" cy="186.1" r="4.1"/>
<circle class="d" cx="457.2" cy="185.3" r="4.1"/>
<circle class="d" cx="435.1" cy="197.7" r="4.1"/>
<circle class="d" cx="422.9" cy="205.8" r="4.1"/>
<circle class="d" cx="431.7" cy="211.4" r="4.1"/>
<circle class="d" cx="429.9" cy="216.2" r="4.1"/>
<circle class="d" cx="451.1" cy="238.3" r="4.1"/>
<circle class="d" cx="435.4" cy="248.5" r="4.1"/>
<circle class="d" cx="422.9" cy="261.4" r="4.1"/>
<circle class="d" cx="435.1" cy="264.6" r="4.1"/>
<circle class="d" cx="433.9" cy="273.3" r="4.1"/>
<circle class="d" cx="458.9" cy="281.6" r="4.1"/>
<circle class="d" cx="423.8" cy="294.7" r="4.1"/>
<circle class="d" cx="422.9" cy="300.6" r="4.1"/>
<circle class="d" cx="429.9" cy="297.8" r="4.1"/>
<circle class="d" cx="445.6" cy="300.6" r="4.1"/>
<circle class="d" cx="455.7" cy="303.9" r="4.1"/>
<circle class="d" cx="451.1" cy="311.7" r="4.1"/>
<circle class="d" cx="461.8" cy="345.3" r="4.1"/>
<circle class="d" cx="535.2" cy="140.4" r="4.1"/>
<circle class="d" cx="550.9" cy="143.6" r="4.1"/>
<circle class="d" cx="534.3" cy="160.8" r="4.1"/>
<circle class="d" cx="539.8" cy="176.5" r="4.1"/>
<circle class="d" cx="554.6" cy="190.7" r="4.1"/>
<circle class="d" cx="562" cy="192.5" r="4.1"/>
<circle class="d" cx="542.9" cy="199.4" r="4.1"/>
<circle class="d" cx="573.6" cy="204.5" r="4.1"/>
<circle class="d" cx="541.6" cy="214.7" r="4.1"/>
<circle class="d" cx="555.9" cy="211.9" r="4.1"/>
<circle class="d" cx="573.1" cy="214.7" r="4.1"/>
<circle class="d" cx="537" cy="224.3" r="4.1"/>
<circle class="d" cx="535.6" cy="229.8" r="4.1"/>
<circle class="d" cx="569.9" cy="224.9" r="4.1"/>
<circle class="d" cx="538" cy="238.7" r="4.1"/>
<circle class="d" cx="536.7" cy="245.2" r="4.1"/>
<circle class="d" cx="568.8" cy="236.9" r="4.1"/>
<circle class="d" cx="563.8" cy="243.9" r="4.1"/>
<circle class="d" cx="548.5" cy="248" r="4.1"/>
<circle class="d" cx="554.6" cy="252.2" r="4.1"/>
<circle class="d" cx="558.3" cy="250.7" r="4.1"/>
<circle class="d" cx="572.1" cy="247.4" r="4.1"/>
<circle class="d" cx="563.4" cy="257.6" r="4.1"/>
<circle class="d" cx="555.1" cy="260.9" r="4.1"/>
<circle class="d" cx="537.6" cy="274.2" r="4.1"/>
<circle class="d" cx="538.9" cy="289.9" r="4.1"/>
<circle class="d" cx="557.4" cy="316.3" r="4.1"/>
<circle class="d" cx="570.3" cy="365.8" r="4.1"/>
</g>
<line x1="215.3" x2="215.3" y1="224.9" y2="459.5" stroke="#1610F0" stroke-width="3.2"/>
<circle cx="215.3" cy="342.7" r="8.3" fill="#1414F0"/>
<line x1="328.4" x2="328.4" y1="189.8" y2="314.5" stroke="#1610F0" stroke-width="3.2"/>
<circle cx="328.4" cy="252" r="8.3" fill="#1414F0"/>
<line x1="441.4" x2="441.4" y1="187.9" y2="298.8" stroke="#1610F0" stroke-width="3.2"/>
<circle cx="441.4" cy="243.3" r="8.3" fill="#1414F0"/>
<line x1="554.6" x2="554.6" y1="184.6" y2="275.7" stroke="#1610F0" stroke-width="3.2"/>
<circle cx="554.6" cy="229.8" r="8.3" fill="#1414F0"/>
<g stroke="#333333" stroke-width="3.4">
<line x1="140.2" x2="147.7" y1="510.6" y2="510.6"/>
<line x1="140.2" x2="147.7" y1="457.6" y2="457.6"/>
<line x1="140.2" x2="147.7" y1="404.6" y2="404.6"/>
<line x1="140.2" x2="147.7" y1="351.6" y2="351.6"/>
<line x1="140.2" x2="147.7" y1="298.6" y2="298.6"/>
<line x1="140.2" x2="147.7" y1="245.6" y2="245.6"/>
<line x1="140.2" x2="147.7" y1="192.6" y2="192.6"/>
<line x1="140.2" x2="147.7" y1="139.6" y2="139.6"/>
<line x1="215.3" x2="215.3" y1="530.4" y2="537.9"/>
<line x1="328.4" x2="328.4" y1="530.4" y2="537.9"/>
<line x1="441.4" x2="441.4" y1="530.4" y2="537.9"/>
<line x1="554.6" x2="554.6" y1="530.4" y2="537.9"/>
</g>
<path d="M147.7,94.5 V530.4 H622" fill="none" stroke="#000" stroke-width="2.8"/>
<g font-family="'Liberation Sans', Arial, Helvetica, sans-serif" font-size="31" fill="#000">
<text x="133.1" y="521.8" text-anchor="end">0</text>
<text x="133.1" y="468.8" text-anchor="end">2</text>
<text x="133.1" y="415.8" text-anchor="end">4</text>
<text x="133.1" y="362.8" text-anchor="end">6</text>
<text x="133.1" y="309.8" text-anchor="end">8</text>
<text x="133.1" y="256.8" text-anchor="end">10</text>
<text x="133.1" y="203.8" text-anchor="end">12</text>
<text x="133.1" y="150.8" text-anchor="end">14</text>
<text x="215.3" y="566" text-anchor="middle" font-size="31.8">AAH</text>
<text x="328.4" y="566" text-anchor="middle" font-size="31.8">AIS</text>
<text x="441.4" y="566" text-anchor="middle" font-size="31.8">MIA</text>
<text x="554.6" y="566" text-anchor="middle" font-size="31.8">ADC</text>
</g>
<text x="384.9" y="600.6" text-anchor="middle" font-family="'Liberation Sans', Arial, Helvetica, sans-serif" font-weight="bold" font-size="28.9">Stages</text>
<text transform="translate(54.9,315.5) rotate(-90)" text-anchor="middle" font-family="'Liberation Sans', Arial, Helvetica, sans-serif" font-size="28.7">log2 (number of DMRs with</text>
<text transform="translate(85.6,315.5) rotate(-90)" text-anchor="middle" font-family="'Liberation Sans', Arial, Helvetica, sans-serif" font-size="28.7">in promoter regions)</text>
<text transform="translate(147,78.9) scale(1,1.07)" font-family="'Liberation Sans', Arial, Helvetica, sans-serif" font-size="30" letter-spacing="-0.5" fill="#CD3131">p−value = 0.02178 (Kruskal−Wallis test)</text>
<text x="-4" y="43.9" font-family="'DejaVu Sans', 'Liberation Sans', sans-serif" font-size="53" fill="#000" stroke="#000" stroke-width="1.1">a</text>
<text x="640.7" y="124.1" font-family="'Liberation Sans', Arial, Helvetica, sans-serif" font-size="26.4">Stages</text>
<rect x="641.9" y="140.4" width="27" height="26.9" fill="#EE9D63"/>
<line x1="655.4" x2="655.4" y1="142.3" y2="165.3" stroke="#1010FF" stroke-width="2.6"/>
<circle cx="655.4" cy="153.8" r="8" fill="#1414F0"/>
<text x="682" y="162.4" font-family="'Liberation Sans', Arial, Helvetica, sans-serif" font-size="23.7">AAH</text>
<rect x="641.9" y="168.8" width="27" height="26.9" fill="#60AEFC"/>
<line x1="655.4" x2="655.4" y1="170.8" y2="193.8" stroke="#1010FF" stroke-width="2.6"/>
<circle cx="655.4" cy="182.2" r="8" fill="#1414F0"/>
<text x="682" y="190.8" font-family="'Liberation Sans', Arial, Helvetica, sans-serif" font-size="23.7">AIS</text>
<rect x="641.9" y="197.2" width="27" height="26.9" fill="#B46FFC"/>
<line x1="655.4" x2="655.4" y1="199.1" y2="222.1" stroke="#1010FF" stroke-width="2.6"/>
<circle cx="655.4" cy="210.6" r="8" fill="#1414F0"/>
<text x="682" y="219.2" font-family="'Liberation Sans', Arial, Helvetica, sans-serif" font-size="23.7">MIA</text>
<rect x="641.9" y="225.6" width="27" height="26.9" fill="#FF57AF"/>
<line x1="655.4" x2="655.4" y1="227.5" y2="250.5" stroke="#1010FF" stroke-width="2.6"/>
<circle cx="655.4" cy="239" r="8" fill="#1414F0"/>
<text x="682" y="247.6" font-family="'Liberation Sans', Arial, Helvetica, sans-serif" font-size="23.7">ADC</text>
<clipPath id="c1"><rect x="950.3" y="94.5" width="474.3" height="435.9"/></clipPath>
<rect x="950.3" y="94.5" width="474.3" height="435.9" fill="#F8F9FD"/>
<g stroke="#FFFFFF"><line x1="950.3" x2="1424.6" y1="510.6" y2="510.6" stroke-width="1.6"/><line x1="950.3" x2="1424.6" y1="484.1" y2="484.1" stroke-width="0.9"/><line x1="950.3" x2="1424.6" y1="457.6" y2="457.6" stroke-width="1.6"/><line x1="950.3" x2="1424.6" y1="431.1" y2="431.1" stroke-width="0.9"/><line x1="950.3" x2="1424.6" y1="404.6" y2="404.6" stroke-width="1.6"/><line x1="950.3" x2="1424.6" y1="378.1" y2="378.1" stroke-width="0.9"/><line x1="950.3" x2="1424.6" y1="351.6" y2="351.6" stroke-width="1.6"/><line x1="950.3" x2="1424.6" y1="325.1" y2="325.1" stroke-width="0.9"/><line x1="950.3" x2="1424.6" y1="298.6" y2="298.6" stroke-width="1.6"/><line x1="950.3" x2="1424.6" y1="272.1" y2="272.1" stroke-width="0.9"/><line x1="950.3" x2="1424.6" y1="245.6" y2="245.6" stroke-width="1.6"/><line x1="950.3" x2="1424.6" y1="219.1" y2="219.1" stroke-width="0.9"/><line x1="950.3" x2="1424.6" y1="192.6" y2="192.6" stroke-width="1.6"/><line x1="950.3" x2="1424.6" y1="166.1" y2="166.1" stroke-width="0.9"/><line x1="950.3" x2="1424.6" y1="139.6" y2="139.6" stroke-width="1.6"/><line x1="950.3" x2="1424.6" y1="113.1" y2="113.1" stroke-width="0.9"/><line x1="1017.4" x2="1017.4" y1="94.5" y2="530.4" stroke-width="1.6"/><line x1="1131" x2="1131" y1="94.5" y2="530.4" stroke-width="1.6"/><line x1="1244.2" x2="1244.2" y1="94.5" y2="530.4" stroke-width="1.6"/><line x1="1357.7" x2="1357.7" y1="94.5" y2="530.4" stroke-width="1.6"/></g>
<g clip-path="url(#c1)">
<path d="M1017.4,147.3 L1017.6,148.3 L1017.8,149.3 L1018.1,150.3 L1018.3,151.3 L1018.5,152.3 L1018.7,153.3 L1019,154.3 L1019.2,155.3 L1019.4,156.3 L1019.6,157.3 L1019.8,158.3 L1020,159.3 L1020.2,160.3 L1020.4,161.3 L1020.6,162.3 L1020.9,163.3 L1021.2,164.3 L1021.4,165.3 L1021.8,166.3 L1022.2,167.3 L1022.6,168.3 L1023.2,169.3 L1023.7,170.3 L1024.4,171.3 L1025,172.3 L1025.7,173.3 L1026.4,174.3 L1027,175.3 L1027.7,176.3 L1028.4,177.3 L1029,178.3 L1029.6,179.3 L1030.2,180.3 L1030.8,181.3 L1031.4,182.3 L1032,183.3 L1032.5,184.3 L1033.1,185.3 L1033.7,186.3 L1034.3,187.3 L1034.9,188.3 L1035.5,189.3 L1036.1,190.3 L1036.6,191.3 L1037.2,192.3 L1037.8,193.3 L1038.4,194.3 L1039,195.3 L1039.5,196.3 L1040.1,197.3 L1040.7,198.3 L1041.3,199.3 L1041.9,200.3 L1042.4,201.3 L1043,202.3 L1043.5,203.3 L1044.1,204.3 L1044.6,205.3 L1045.1,206.3 L1045.6,207.3 L1046,208.3 L1046.5,209.3 L1047,210.3 L1047.4,211.3 L1047.9,212.3 L1048.3,213.3 L1048.7,214.3 L1049.1,215.3 L1049.5,216.3 L1049.9,217.3 L1050.3,218.3 L1050.7,219.3 L1051,220.3 L1051.3,221.3 L1051.7,222.3 L1052,223.3 L1052.4,224.3 L1052.7,225.3 L1053,226.3 L1053.3,227.3 L1053.6,228.3 L1053.9,229.3 L1054.1,230.3 L1054.4,231.3 L1054.6,232.3 L1054.8,233.3 L1054.9,234.3 L1055.1,235.3 L1055.2,236.3 L1055.4,237.3 L1055.5,238.3 L1055.7,239.3 L1055.8,240.3 L1055.9,241.3 L1056,242.3 L1056.1,243.3 L1056.2,244.3 L1056.2,245.3 L1056.2,246.3 L1056.1,247.3 L1056,248.3 L1055.9,249.3 L1055.7,250.3 L1055.5,251.3 L1055.2,252.3 L1055,253.3 L1054.7,254.3 L1054.4,255.3 L1054.1,256.3 L1053.9,257.3 L1053.5,258.3 L1053.2,259.3 L1052.8,260.3 L1052.4,261.3 L1052,262.3 L1051.6,263.3 L1051.2,264.3 L1050.7,265.3 L1050.3,266.4 L1049.8,267.4 L1049.4,268.4 L1048.9,269.4 L1048.5,270.4 L1048.1,271.4 L1047.7,272.4 L1047.3,273.4 L1046.9,274.4 L1046.5,275.4 L1046.1,276.4 L1045.7,277.4 L1045.3,278.4 L1044.9,279.4 L1044.5,280.4 L1044.1,281.4 L1043.8,282.4 L1043.5,283.4 L1043.2,284.4 L1043,285.4 L1042.8,286.4 L1042.6,287.4 L1042.4,288.4 L1042.3,289.4 L1042.1,290.4 L1041.9,291.4 L1041.8,292.4 L1041.7,293.4 L1041.5,294.4 L1041.4,295.4 L1041.4,296.4 L1041.3,297.4 L1041.2,298.4 L1041.2,299.4 L1041.2,300.4 L1041.2,301.4 L1041.1,302.4 L1041.1,303.4 L1041.1,304.4 L1041.1,305.4 L1041.1,306.4 L1041.1,307.4 L1041.1,308.4 L1041.1,309.4 L1041.1,310.4 L1041,311.4 L1041,312.4 L1041,313.4 L1041,314.4 L1041,315.4 L1041,316.4 L1041,317.4 L1041,318.4 L1041,319.4 L1041,320.4 L1040.9,321.4 L1040.9,322.4 L1040.9,323.4 L1040.9,324.4 L1040.9,325.4 L1040.8,326.4 L1040.8,327.4 L1040.7,328.4 L1040.6,329.4 L1040.5,330.4 L1040.5,331.4 L1040.4,332.4 L1040.3,333.4 L1040.2,334.4 L1040,335.4 L1039.9,336.4 L1039.8,337.4 L1039.7,338.4 L1039.6,339.4 L1039.4,340.4 L1039.3,341.4 L1039.1,342.4 L1038.9,343.4 L1038.7,344.4 L1038.5,345.4 L1038.3,346.4 L1038.1,347.4 L1037.9,348.4 L1037.7,349.4 L1037.6,350.4 L1037.4,351.4 L1037.3,352.4 L1037.2,353.4 L1037.1,354.4 L1037,355.4 L1036.9,356.4 L1036.8,357.4 L1036.7,358.4 L1036.6,359.4 L1036.5,360.4 L1036.5,361.4 L1036.4,362.4 L1036.3,363.4 L1036.3,364.4 L1036.3,365.4 L1036.2,366.4 L1036.2,367.4 L1036.3,368.4 L1036.3,369.4 L1036.4,370.4 L1036.5,371.4 L1036.6,372.4 L1036.7,373.4 L1036.8,374.4 L1036.9,375.4 L1037.1,376.4 L1037.2,377.4 L1037.4,378.4 L1037.6,379.4 L1037.8,380.4 L1038,381.4 L1038.3,382.4 L1038.6,383.4 L1039,384.4 L1039.3,385.4 L1039.7,386.4 L1040,387.4 L1040.4,388.4 L1040.8,389.4 L1041.1,390.4 L1041.5,391.4 L1041.8,392.4 L1042.1,393.4 L1042.4,394.4 L1042.7,395.4 L1043.1,396.4 L1043.4,397.4 L1043.7,398.4 L1044,399.4 L1044.3,400.4 L1044.6,401.4 L1044.9,402.4 L1045.2,403.4 L1045.5,404.4 L1045.8,405.4 L1046.1,406.4 L1046.4,407.4 L1046.7,408.4 L1047,409.4 L1047.3,410.4 L1047.6,411.4 L1047.8,412.4 L1048.1,413.4 L1048.4,414.5 L1048.6,415.5 L1048.9,416.5 L1049.1,417.5 L1049.3,418.5 L1049.5,419.5 L1049.7,420.5 L1049.8,421.5 L1050,422.5 L1050.1,423.5 L1050.3,424.5 L1050.4,425.5 L1050.6,426.5 L1050.7,427.5 L1050.8,428.5 L1051,429.5 L1051.1,430.5 L1051.2,431.5 L1051.3,432.5 L1051.4,433.5 L1051.5,434.5 L1051.5,435.5 L1051.6,436.5 L1051.7,437.5 L1051.8,438.5 L1051.8,439.5 L1051.9,440.5 L1052,441.5 L1052,442.5 L1052.1,443.5 L1052.2,444.5 L1052.2,445.5 L1052.3,446.5 L1052.3,447.5 L1052.4,448.5 L1052.5,449.5 L1052.5,450.5 L1052.6,451.5 L1052.7,452.5 L1052.7,453.5 L1052.8,454.5 L1052.9,455.5 L1053,456.5 L1053,457.5 L1053.1,458.5 L1053.2,459.5 L1053.3,460.5 L1053.4,461.5 L1053.5,462.5 L1053.6,463.5 L1053.7,464.5 L1053.8,465.5 L1053.9,466.5 L1054,467.5 L1054.1,468.5 L1054.2,469.5 L1054.3,470.5 L1054.4,471.5 L1054.5,472.5 L1054.7,473.5 L1054.8,474.5 L1054.9,475.5 L1055,476.5 L1055.2,477.5 L1055.3,478.5 L1055.4,479.5 L1055.6,480.5 L1055.7,481.5 L1055.9,482.5 L1056,483.5 L1056.2,484.5 L1056.4,485.5 L1056.6,486.5 L1056.9,487.5 L1057.2,488.5 L1057.5,489.5 L1057.8,490.5 L1058.1,491.5 L1058.4,492.5 L1058.6,493.5 L1058.8,494.5 L1058.9,495.5 L1059,496.5 L1059,497.5 L1058.9,498.5 L1058.9,499.5 L1058.9,500.5 L1058.8,501.5 L1058.8,502.5 L1058.7,503.5 L1058.7,504.5 L1058.6,505.5 L1058.5,506.5 L1058.4,507.5 L1058.3,508.5 L1058.2,509.5 L1058.1,510.5 L1058,511.5 L1057.8,512.5 L1057.5,513.5 L1057.2,514.5 L1056.8,515.5 L1056.3,516.5 L1055.8,517.5 L1055.3,518.5 L1054.8,519.5 L1054.3,520.5 L1053.8,521.5 L1053.2,522.5 L1052.7,523.5 L1052.1,524.5 L1051.4,525.5 L1050.7,526.5 L1050.1,527.5 L1049.4,528.5 L1048.7,529.5 L1047.9,530.5 L1047.2,531.5 L1046.5,532.5 L1045.7,533.5 L1045,534.5 L1044.2,535.5 L1043.4,536.5 L1042.6,537.5 L1041.7,538.5 L1040.8,539.5 L1039.9,540.5 L1038.9,541.5 L1037.8,542.5 L1036.6,543.5 L1035.4,544.5 L1034,545.5 L1032.5,546.5 L1030.9,547.5 L1029.2,548.5 L1027.5,549.5 L1025.8,550.5 L1024.1,551.5 L1022.4,552.5 L1020.7,553.5 L1019,554.5 L1017.4,555.5 L1017.4,555.5 L1015.8,554.5 L1014.1,553.5 L1012.4,552.5 L1010.7,551.5 L1009,550.5 L1007.3,549.5 L1005.6,548.5 L1003.9,547.5 L1002.3,546.5 L1000.8,545.5 L999.4,544.5 L998.2,543.5 L997,542.5 L995.9,541.5 L994.9,540.5 L994,539.5 L993.1,538.5 L992.2,537.5 L991.4,536.5 L990.6,535.5 L989.8,534.5 L989.1,533.5 L988.3,532.5 L987.6,531.5 L986.9,530.5 L986.1,529.5 L985.4,528.5 L984.7,527.5 L984.1,526.5 L983.4,525.5 L982.7,524.5 L982.1,523.5 L981.6,522.5 L981,521.5 L980.5,520.5 L980,519.5 L979.5,518.5 L979,517.5 L978.5,516.5 L978,515.5 L977.6,514.5 L977.3,513.5 L977,512.5 L976.8,511.5 L976.7,510.5 L976.6,509.5 L976.5,508.5 L976.4,507.5 L976.3,506.5 L976.2,505.5 L976.1,504.5 L976.1,503.5 L976,502.5 L976,501.5 L975.9,500.5 L975.9,499.5 L975.9,498.5 L975.8,497.5 L975.8,496.5 L975.9,495.5 L976,494.5 L976.2,493.5 L976.4,492.5 L976.7,491.5 L977,490.5 L977.3,489.5 L977.6,488.5 L977.9,487.5 L978.2,486.5 L978.4,485.5 L978.6,484.5 L978.8,483.5 L978.9,482.5 L979.1,481.5 L979.2,480.5 L979.4,479.5 L979.5,478.5 L979.6,477.5 L979.8,476.5 L979.9,475.5 L980,474.5 L980.1,473.5 L980.3,472.5 L980.4,471.5 L980.5,470.5 L980.6,469.5 L980.7,468.5 L980.8,467.5 L980.9,466.5 L981,465.5 L981.1,464.5 L981.2,463.5 L981.3,462.5 L981.4,461.5 L981.5,460.5 L981.6,459.5 L981.7,458.5 L981.8,457.5 L981.8,456.5 L981.9,455.5 L982,454.5 L982.1,453.5 L982.1,452.5 L982.2,451.5 L982.3,450.5 L982.3,449.5 L982.4,448.5 L982.5,447.5 L982.5,446.5 L982.6,445.5 L982.6,444.5 L982.7,443.5 L982.8,442.5 L982.8,441.5 L982.9,440.5 L983,439.5 L983,438.5 L983.1,437.5 L983.2,436.5 L983.3,435.5 L983.3,434.5 L983.4,433.5 L983.5,432.5 L983.6,431.5 L983.7,430.5 L983.8,429.5 L984,428.5 L984.1,427.5 L984.2,426.5 L984.4,425.5 L984.5,424.5 L984.7,423.5 L984.8,422.5 L985,421.5 L985.1,420.5 L985.3,419.5 L985.5,418.5 L985.7,417.5 L985.9,416.5 L986.2,415.5 L986.4,414.5 L986.7,413.4 L987,412.4 L987.2,411.4 L987.5,410.4 L987.8,409.4 L988.1,408.4 L988.4,407.4 L988.7,406.4 L989,405.4 L989.3,404.4 L989.6,403.4 L989.9,402.4 L990.2,401.4 L990.5,400.4 L990.8,399.4 L991.1,398.4 L991.4,397.4 L991.7,396.4 L992.1,395.4 L992.4,394.4 L992.7,393.4 L993,392.4 L993.3,391.4 L993.7,390.4 L994,389.4 L994.4,388.4 L994.8,387.4 L995.1,386.4 L995.5,385.4 L995.8,384.4 L996.2,383.4 L996.5,382.4 L996.8,381.4 L997,380.4 L997.2,379.4 L997.4,378.4 L997.6,377.4 L997.7,376.4 L997.9,375.4 L998,374.4 L998.1,373.4 L998.2,372.4 L998.3,371.4 L998.4,370.4 L998.5,369.4 L998.5,368.4 L998.6,367.4 L998.6,366.4 L998.5,365.4 L998.5,364.4 L998.5,363.4 L998.4,362.4 L998.3,361.4 L998.3,360.4 L998.2,359.4 L998.1,358.4 L998,357.4 L997.9,356.4 L997.8,355.4 L997.7,354.4 L997.6,353.4 L997.5,352.4 L997.4,351.4 L997.2,350.4 L997.1,349.4 L996.9,348.4 L996.7,347.4 L996.5,346.4 L996.3,345.4 L996.1,344.4 L995.9,343.4 L995.7,342.4 L995.5,341.4 L995.4,340.4 L995.2,339.4 L995.1,338.4 L995,337.4 L994.9,336.4 L994.8,335.4 L994.6,334.4 L994.5,333.4 L994.4,332.4 L994.3,331.4 L994.3,330.4 L994.2,329.4 L994.1,328.4 L994,327.4 L994,326.4 L993.9,325.4 L993.9,324.4 L993.9,323.4 L993.9,322.4 L993.9,321.4 L993.8,320.4 L993.8,319.4 L993.8,318.4 L993.8,317.4 L993.8,316.4 L993.8,315.4 L993.8,314.4 L993.8,313.4 L993.8,312.4 L993.8,311.4 L993.7,310.4 L993.7,309.4 L993.7,308.4 L993.7,307.4 L993.7,306.4 L993.7,305.4 L993.7,304.4 L993.7,303.4 L993.7,302.4 L993.6,301.4 L993.6,300.4 L993.6,299.4 L993.6,298.4 L993.5,297.4 L993.4,296.4 L993.4,295.4 L993.3,294.4 L993.1,293.4 L993,292.4 L992.9,291.4 L992.7,290.4 L992.5,289.4 L992.4,288.4 L992.2,287.4 L992,286.4 L991.8,285.4 L991.6,284.4 L991.3,283.4 L991,282.4 L990.7,281.4 L990.3,280.4 L989.9,279.4 L989.5,278.4 L989.1,277.4 L988.7,276.4 L988.3,275.4 L987.9,274.4 L987.5,273.4 L987.1,272.4 L986.7,271.4 L986.3,270.4 L985.9,269.4 L985.4,268.4 L985,267.4 L984.5,266.4 L984.1,265.3 L983.6,264.3 L983.2,263.3 L982.8,262.3 L982.4,261.3 L982,260.3 L981.6,259.3 L981.3,258.3 L980.9,257.3 L980.7,256.3 L980.4,255.3 L980.1,254.3 L979.8,253.3 L979.6,252.3 L979.3,251.3 L979.1,250.3 L978.9,249.3 L978.8,248.3 L978.7,247.3 L978.6,246.3 L978.6,245.3 L978.6,244.3 L978.7,243.3 L978.8,242.3 L978.9,241.3 L979,240.3 L979.1,239.3 L979.3,238.3 L979.4,237.3 L979.6,236.3 L979.7,235.3 L979.9,234.3 L980,233.3 L980.2,232.3 L980.4,231.3 L980.7,230.3 L980.9,229.3 L981.2,228.3 L981.5,227.3 L981.8,226.3 L982.1,225.3 L982.4,224.3 L982.8,223.3 L983.1,222.3 L983.5,221.3 L983.8,220.3 L984.1,219.3 L984.5,218.3 L984.9,217.3 L985.3,216.3 L985.7,215.3 L986.1,214.3 L986.5,213.3 L986.9,212.3 L987.4,211.3 L987.8,210.3 L988.3,209.3 L988.8,208.3 L989.2,207.3 L989.7,206.3 L990.2,205.3 L990.7,204.3 L991.3,203.3 L991.8,202.3 L992.4,201.3 L992.9,200.3 L993.5,199.3 L994.1,198.3 L994.7,197.3 L995.3,196.3 L995.8,195.3 L996.4,194.3 L997,193.3 L997.6,192.3 L998.2,191.3 L998.7,190.3 L999.3,189.3 L999.9,188.3 L1000.5,187.3 L1001.1,186.3 L1001.7,185.3 L1002.3,184.3 L1002.8,183.3 L1003.4,182.3 L1004,181.3 L1004.6,180.3 L1005.2,179.3 L1005.8,178.3 L1006.4,177.3 L1007.1,176.3 L1007.8,175.3 L1008.4,174.3 L1009.1,173.3 L1009.8,172.3 L1010.4,171.3 L1011.1,170.3 L1011.6,169.3 L1012.2,168.3 L1012.6,167.3 L1013,166.3 L1013.4,165.3 L1013.6,164.3 L1013.9,163.3 L1014.2,162.3 L1014.4,161.3 L1014.6,160.3 L1014.8,159.3 L1015,158.3 L1015.2,157.3 L1015.4,156.3 L1015.6,155.3 L1015.8,154.3 L1016.1,153.3 L1016.3,152.3 L1016.5,151.3 L1016.7,150.3 L1017,149.3 L1017.2,148.3 L1017.4,147.3Z" fill="#EE9D63"/>
<path d="M1131,156.5 L1131.3,157.5 L1131.6,158.5 L1131.8,159.5 L1132.1,160.5 L1132.4,161.5 L1132.6,162.5 L1132.9,163.5 L1133.3,164.5 L1133.6,165.5 L1134,166.5 L1134.4,167.5 L1134.9,168.5 L1135.4,169.5 L1135.9,170.5 L1136.5,171.5 L1137.1,172.5 L1137.7,173.5 L1138.4,174.5 L1139,175.5 L1139.7,176.5 L1140.4,177.5 L1141.1,178.5 L1141.8,179.5 L1142.5,180.5 L1143.3,181.5 L1144.2,182.5 L1145.1,183.5 L1146,184.5 L1146.9,185.5 L1147.8,186.5 L1148.7,187.5 L1149.6,188.5 L1150.6,189.5 L1151.5,190.5 L1152.3,191.5 L1153.2,192.5 L1154,193.5 L1154.9,194.6 L1155.7,195.6 L1156.6,196.6 L1157.5,197.6 L1158.3,198.6 L1159.2,199.6 L1160,200.6 L1160.8,201.6 L1161.6,202.6 L1162.3,203.6 L1163.1,204.6 L1163.7,205.6 L1164.4,206.6 L1165,207.6 L1165.6,208.6 L1166.2,209.6 L1166.8,210.6 L1167.4,211.6 L1167.9,212.6 L1168.4,213.6 L1168.9,214.6 L1169.4,215.6 L1169.8,216.6 L1170.2,217.6 L1170.5,218.6 L1170.8,219.6 L1171,220.6 L1171.3,221.6 L1171.6,222.6 L1171.8,223.6 L1172,224.6 L1172.3,225.6 L1172.5,226.6 L1172.7,227.6 L1172.8,228.6 L1173,229.6 L1173.1,230.6 L1173.2,231.6 L1173.3,232.6 L1173.3,233.6 L1173.3,234.6 L1173.2,235.6 L1173.1,236.6 L1172.9,237.6 L1172.7,238.6 L1172.4,239.6 L1172.1,240.6 L1171.7,241.6 L1171.3,242.6 L1170.9,243.6 L1170.5,244.6 L1170,245.6 L1169.5,246.6 L1168.9,247.6 L1168,248.6 L1167.1,249.6 L1166,250.6 L1164.9,251.6 L1163.7,252.6 L1162.6,253.6 L1161.5,254.6 L1160.6,255.6 L1159.7,256.6 L1158.9,257.6 L1158,258.6 L1157.2,259.6 L1156.3,260.6 L1155.5,261.6 L1154.7,262.6 L1153.9,263.6 L1153.1,264.6 L1152.3,265.6 L1151.7,266.6 L1151,267.6 L1150.4,268.6 L1149.9,269.6 L1149.4,270.6 L1149,271.6 L1148.7,272.6 L1148.4,273.6 L1148.1,274.6 L1147.8,275.6 L1147.6,276.6 L1147.5,277.6 L1147.4,278.6 L1147.5,279.7 L1147.6,280.7 L1147.8,281.7 L1148,282.7 L1148.3,283.7 L1148.6,284.7 L1148.9,285.7 L1149.2,286.7 L1149.7,287.7 L1150.2,288.7 L1150.9,289.7 L1151.6,290.7 L1152.3,291.7 L1153.1,292.7 L1153.9,293.7 L1154.8,294.7 L1155.6,295.7 L1156.3,296.7 L1157.1,297.7 L1157.7,298.7 L1158.4,299.7 L1159,300.7 L1159.7,301.7 L1160.3,302.7 L1161,303.7 L1161.6,304.7 L1162.3,305.7 L1162.9,306.7 L1163.4,307.7 L1164,308.7 L1164.4,309.7 L1164.8,310.7 L1165.2,311.7 L1165.5,312.7 L1165.8,313.7 L1166.1,314.7 L1166.4,315.7 L1166.7,316.7 L1166.9,317.7 L1167.1,318.7 L1167.3,319.7 L1167.5,320.7 L1167.5,321.7 L1167.6,322.7 L1167.5,323.7 L1167.3,324.7 L1167,325.7 L1166.6,326.7 L1166.1,327.7 L1165.5,328.7 L1164.9,329.7 L1164.2,330.7 L1163.5,331.7 L1162.7,332.7 L1162,333.7 L1161.3,334.7 L1160.6,335.7 L1159.8,336.7 L1159,337.7 L1158.2,338.7 L1157.2,339.7 L1156.3,340.7 L1155.3,341.7 L1154.3,342.7 L1153.2,343.7 L1152.1,344.7 L1151.1,345.7 L1150,346.7 L1149,347.7 L1147.9,348.7 L1146.9,349.7 L1146,350.7 L1145.1,351.7 L1144.2,352.7 L1143.2,353.7 L1142.2,354.7 L1141.2,355.7 L1140.3,356.7 L1139.3,357.7 L1138.4,358.7 L1137.6,359.7 L1136.9,360.7 L1136.3,361.7 L1135.8,362.7 L1135.5,363.7 L1135.3,364.8 L1135.1,365.8 L1134.9,366.8 L1134.8,367.8 L1134.7,368.8 L1134.7,369.8 L1134.9,370.8 L1135.1,371.8 L1135.4,372.8 L1135.7,373.8 L1136,374.8 L1136.4,375.8 L1136.7,376.8 L1137,377.8 L1137.2,378.8 L1137.5,379.8 L1137.8,380.8 L1138,381.8 L1138.3,382.8 L1138.6,383.8 L1138.8,384.8 L1139.1,385.8 L1139.3,386.8 L1139.6,387.8 L1139.8,388.8 L1140,389.8 L1140.1,390.8 L1140.3,391.8 L1140.4,392.8 L1140.5,393.8 L1140.6,394.8 L1140.7,395.8 L1140.8,396.8 L1140.8,397.8 L1140.9,398.8 L1141,399.8 L1141,400.8 L1141.1,401.8 L1141.1,402.8 L1141.2,403.8 L1141.2,404.8 L1141.1,405.8 L1141.1,406.8 L1141,407.8 L1140.9,408.8 L1140.8,409.8 L1140.6,410.8 L1140.4,411.8 L1140.2,412.8 L1140,413.8 L1139.8,414.8 L1139.6,415.8 L1139.4,416.8 L1139.2,417.8 L1138.9,418.8 L1138.7,419.8 L1138.5,420.8 L1138.2,421.8 L1137.9,422.8 L1137.6,423.8 L1137.2,424.8 L1136.9,425.8 L1136.6,426.8 L1136.3,427.8 L1136,428.8 L1135.7,429.8 L1135.4,430.8 L1135.2,431.8 L1135.1,432.8 L1134.9,433.8 L1134.7,434.8 L1134.6,435.8 L1134.4,436.8 L1134.2,437.8 L1134.1,438.8 L1134,439.8 L1133.8,440.8 L1133.7,441.8 L1133.6,442.8 L1133.4,443.8 L1133.3,444.8 L1133.2,445.8 L1133.1,446.8 L1133,447.8 L1132.9,448.8 L1132.8,449.9 L1132.7,450.9 L1132.5,451.9 L1132.4,452.9 L1132.3,453.9 L1132.2,454.9 L1132.1,455.9 L1132,456.9 L1131.9,457.9 L1131.8,458.9 L1131.7,459.9 L1131.6,460.9 L1131.5,461.9 L1131.4,462.9 L1131.3,463.9 L1131.2,464.9 L1131.1,465.9 L1131,466.9 L1131,466.9 L1130.9,465.9 L1130.8,464.9 L1130.7,463.9 L1130.6,462.9 L1130.5,461.9 L1130.4,460.9 L1130.3,459.9 L1130.2,458.9 L1130.1,457.9 L1130,456.9 L1129.9,455.9 L1129.8,454.9 L1129.7,453.9 L1129.6,452.9 L1129.5,451.9 L1129.3,450.9 L1129.2,449.9 L1129.1,448.8 L1129,447.8 L1128.9,446.8 L1128.8,445.8 L1128.7,444.8 L1128.6,443.8 L1128.4,442.8 L1128.3,441.8 L1128.2,440.8 L1128,439.8 L1127.9,438.8 L1127.8,437.8 L1127.6,436.8 L1127.4,435.8 L1127.3,434.8 L1127.1,433.8 L1126.9,432.8 L1126.8,431.8 L1126.6,430.8 L1126.3,429.8 L1126,428.8 L1125.7,427.8 L1125.4,426.8 L1125.1,425.8 L1124.8,424.8 L1124.4,423.8 L1124.1,422.8 L1123.8,421.8 L1123.5,420.8 L1123.3,419.8 L1123.1,418.8 L1122.8,417.8 L1122.6,416.8 L1122.4,415.8 L1122.2,414.8 L1122,413.8 L1121.8,412.8 L1121.6,411.8 L1121.4,410.8 L1121.2,409.8 L1121.1,408.8 L1121,407.8 L1120.9,406.8 L1120.9,405.8 L1120.8,404.8 L1120.8,403.8 L1120.9,402.8 L1120.9,401.8 L1121,400.8 L1121,399.8 L1121.1,398.8 L1121.2,397.8 L1121.2,396.8 L1121.3,395.8 L1121.4,394.8 L1121.5,393.8 L1121.6,392.8 L1121.7,391.8 L1121.9,390.8 L1122,389.8 L1122.2,388.8 L1122.4,387.8 L1122.7,386.8 L1122.9,385.8 L1123.2,384.8 L1123.4,383.8 L1123.7,382.8 L1124,381.8 L1124.2,380.8 L1124.5,379.8 L1124.8,378.8 L1125,377.8 L1125.3,376.8 L1125.6,375.8 L1126,374.8 L1126.3,373.8 L1126.6,372.8 L1126.9,371.8 L1127.1,370.8 L1127.3,369.8 L1127.3,368.8 L1127.2,367.8 L1127.1,366.8 L1126.9,365.8 L1126.7,364.8 L1126.5,363.7 L1126.2,362.7 L1125.7,361.7 L1125.1,360.7 L1124.4,359.7 L1123.6,358.7 L1122.7,357.7 L1121.7,356.7 L1120.8,355.7 L1119.8,354.7 L1118.8,353.7 L1117.8,352.7 L1116.9,351.7 L1116,350.7 L1115.1,349.7 L1114.1,348.7 L1113,347.7 L1112,346.7 L1110.9,345.7 L1109.9,344.7 L1108.8,343.7 L1107.7,342.7 L1106.7,341.7 L1105.7,340.7 L1104.8,339.7 L1103.8,338.7 L1103,337.7 L1102.2,336.7 L1101.4,335.7 L1100.7,334.7 L1100,333.7 L1099.3,332.7 L1098.5,331.7 L1097.8,330.7 L1097.1,329.7 L1096.5,328.7 L1095.9,327.7 L1095.4,326.7 L1095,325.7 L1094.7,324.7 L1094.5,323.7 L1094.4,322.7 L1094.5,321.7 L1094.5,320.7 L1094.7,319.7 L1094.9,318.7 L1095.1,317.7 L1095.3,316.7 L1095.6,315.7 L1095.9,314.7 L1096.2,313.7 L1096.5,312.7 L1096.8,311.7 L1097.2,310.7 L1097.6,309.7 L1098,308.7 L1098.6,307.7 L1099.1,306.7 L1099.7,305.7 L1100.4,304.7 L1101,303.7 L1101.7,302.7 L1102.3,301.7 L1103,300.7 L1103.6,299.7 L1104.3,298.7 L1104.9,297.7 L1105.7,296.7 L1106.4,295.7 L1107.2,294.7 L1108.1,293.7 L1108.9,292.7 L1109.7,291.7 L1110.4,290.7 L1111.1,289.7 L1111.8,288.7 L1112.3,287.7 L1112.8,286.7 L1113.1,285.7 L1113.4,284.7 L1113.7,283.7 L1114,282.7 L1114.2,281.7 L1114.4,280.7 L1114.5,279.7 L1114.6,278.6 L1114.5,277.6 L1114.4,276.6 L1114.2,275.6 L1113.9,274.6 L1113.6,273.6 L1113.3,272.6 L1113,271.6 L1112.6,270.6 L1112.1,269.6 L1111.6,268.6 L1111,267.6 L1110.3,266.6 L1109.7,265.6 L1108.9,264.6 L1108.1,263.6 L1107.3,262.6 L1106.5,261.6 L1105.7,260.6 L1104.8,259.6 L1104,258.6 L1103.1,257.6 L1102.3,256.6 L1101.4,255.6 L1100.5,254.6 L1099.4,253.6 L1098.3,252.6 L1097.1,251.6 L1096,250.6 L1094.9,249.6 L1094,248.6 L1093.1,247.6 L1092.5,246.6 L1092,245.6 L1091.5,244.6 L1091.1,243.6 L1090.7,242.6 L1090.3,241.6 L1089.9,240.6 L1089.6,239.6 L1089.3,238.6 L1089.1,237.6 L1088.9,236.6 L1088.8,235.6 L1088.7,234.6 L1088.7,233.6 L1088.7,232.6 L1088.8,231.6 L1088.9,230.6 L1089,229.6 L1089.2,228.6 L1089.3,227.6 L1089.5,226.6 L1089.7,225.6 L1090,224.6 L1090.2,223.6 L1090.4,222.6 L1090.7,221.6 L1091,220.6 L1091.2,219.6 L1091.5,218.6 L1091.8,217.6 L1092.2,216.6 L1092.6,215.6 L1093.1,214.6 L1093.6,213.6 L1094.1,212.6 L1094.6,211.6 L1095.2,210.6 L1095.8,209.6 L1096.4,208.6 L1097,207.6 L1097.6,206.6 L1098.3,205.6 L1098.9,204.6 L1099.7,203.6 L1100.4,202.6 L1101.2,201.6 L1102,200.6 L1102.8,199.6 L1103.7,198.6 L1104.5,197.6 L1105.4,196.6 L1106.3,195.6 L1107.1,194.6 L1108,193.5 L1108.8,192.5 L1109.7,191.5 L1110.5,190.5 L1111.4,189.5 L1112.4,188.5 L1113.3,187.5 L1114.2,186.5 L1115.1,185.5 L1116,184.5 L1116.9,183.5 L1117.8,182.5 L1118.7,181.5 L1119.5,180.5 L1120.2,179.5 L1120.9,178.5 L1121.6,177.5 L1122.3,176.5 L1123,175.5 L1123.6,174.5 L1124.3,173.5 L1124.9,172.5 L1125.5,171.5 L1126.1,170.5 L1126.6,169.5 L1127.1,168.5 L1127.6,167.5 L1128,166.5 L1128.4,165.5 L1128.7,164.5 L1129.1,163.5 L1129.4,162.5 L1129.6,161.5 L1129.9,160.5 L1130.2,159.5 L1130.4,158.5 L1130.7,157.5 L1131,156.5Z" fill="#60AEFC"/>
<path d="M1244.2,136.2 L1244.5,137.2 L1244.9,138.2 L1245.2,139.2 L1245.5,140.2 L1245.9,141.2 L1246.2,142.2 L1246.5,143.2 L1246.9,144.2 L1247.3,145.2 L1247.6,146.2 L1248,147.2 L1248.4,148.2 L1248.8,149.2 L1249.2,150.2 L1249.6,151.2 L1250,152.2 L1250.4,153.2 L1250.9,154.2 L1251.3,155.2 L1251.7,156.2 L1252.1,157.2 L1252.6,158.2 L1253,159.2 L1253.4,160.2 L1253.9,161.2 L1254.3,162.2 L1254.7,163.2 L1255.1,164.2 L1255.4,165.2 L1255.8,166.2 L1256,167.2 L1256.3,168.2 L1256.6,169.2 L1256.8,170.2 L1257,171.2 L1257.3,172.2 L1257.5,173.2 L1257.7,174.2 L1258,175.2 L1258.2,176.2 L1258.5,177.3 L1258.8,178.3 L1259.2,179.3 L1259.6,180.3 L1259.9,181.3 L1260.4,182.3 L1260.8,183.3 L1261.3,184.3 L1261.9,185.3 L1262.5,186.3 L1263.1,187.3 L1263.9,188.3 L1265,189.3 L1266.2,190.3 L1267.6,191.3 L1268.9,192.3 L1269.9,193.3 L1271,194.3 L1272.1,195.3 L1273.1,196.3 L1274.1,197.3 L1275.1,198.3 L1276.1,199.3 L1277,200.3 L1277.8,201.3 L1278.6,202.3 L1279.4,203.3 L1280.1,204.3 L1280.7,205.3 L1281.4,206.3 L1282,207.3 L1282.7,208.3 L1283.3,209.3 L1283.9,210.3 L1284.4,211.3 L1285,212.3 L1285.4,213.3 L1285.8,214.3 L1286.1,215.3 L1286.2,216.3 L1286.3,217.3 L1286.3,218.3 L1286,219.3 L1285.7,220.3 L1285.2,221.3 L1284.6,222.3 L1283.9,223.3 L1283.1,224.3 L1282.4,225.3 L1281.5,226.3 L1280.7,227.3 L1279.9,228.3 L1279.1,229.3 L1278.4,230.3 L1277.7,231.3 L1276.9,232.3 L1276.1,233.3 L1275.2,234.3 L1274.3,235.3 L1273.4,236.3 L1272.5,237.3 L1271.6,238.3 L1270.7,239.4 L1269.8,240.4 L1269,241.4 L1268.3,242.4 L1267.6,243.4 L1267.1,244.4 L1266.6,245.4 L1266.3,246.4 L1266,247.4 L1265.7,248.4 L1265.4,249.4 L1265.2,250.4 L1264.9,251.4 L1264.7,252.4 L1264.6,253.4 L1264.4,254.4 L1264.4,255.4 L1264.3,256.4 L1264.4,257.4 L1264.5,258.4 L1264.8,259.4 L1265.1,260.4 L1265.4,261.4 L1265.8,262.4 L1266.3,263.4 L1266.8,264.4 L1267.3,265.4 L1267.9,266.4 L1268.4,267.4 L1269,268.4 L1269.6,269.4 L1270.1,270.4 L1270.7,271.4 L1271.2,272.4 L1271.8,273.4 L1272.4,274.4 L1273.1,275.4 L1273.8,276.4 L1274.5,277.4 L1275.3,278.4 L1276,279.4 L1276.7,280.4 L1277.4,281.4 L1278.1,282.4 L1278.8,283.4 L1279.3,284.4 L1279.9,285.4 L1280.3,286.4 L1280.8,287.4 L1281.3,288.4 L1281.7,289.4 L1282.2,290.4 L1282.6,291.4 L1283,292.4 L1283.4,293.4 L1283.8,294.4 L1284,295.4 L1284.3,296.4 L1284.4,297.4 L1284.5,298.4 L1284.4,299.4 L1284.3,300.4 L1284.1,301.4 L1283.9,302.5 L1283.5,303.5 L1283.2,304.5 L1282.8,305.5 L1282.3,306.5 L1281.9,307.5 L1281.5,308.5 L1281.1,309.5 L1280.8,310.5 L1280.5,311.5 L1280.2,312.5 L1279.9,313.5 L1279.6,314.5 L1279.3,315.5 L1279.1,316.5 L1278.8,317.5 L1278.6,318.5 L1278.5,319.5 L1278.4,320.5 L1278.4,321.5 L1278.6,322.5 L1279,323.5 L1279.4,324.5 L1280,325.5 L1280.6,326.5 L1281.2,327.5 L1281.8,328.5 L1282.3,329.5 L1282.8,330.5 L1283.2,331.5 L1283.7,332.5 L1284.2,333.5 L1284.7,334.5 L1285.1,335.5 L1285.5,336.5 L1285.9,337.5 L1286.1,338.5 L1286.3,339.5 L1286.3,340.5 L1286.2,341.5 L1285.8,342.5 L1285.3,343.5 L1284.6,344.5 L1283.7,345.5 L1282.8,346.5 L1281.8,347.5 L1280.7,348.5 L1279.7,349.5 L1278.6,350.5 L1277.5,351.5 L1276.5,352.5 L1275.3,353.5 L1274,354.5 L1272.6,355.5 L1271.1,356.5 L1269.6,357.5 L1268.1,358.5 L1266.5,359.5 L1265.1,360.5 L1263.6,361.5 L1262.3,362.5 L1261,363.5 L1259.9,364.6 L1258.7,365.6 L1257.5,366.6 L1256.4,367.6 L1255.2,368.6 L1254.2,369.6 L1253.1,370.6 L1252.2,371.6 L1251.3,372.6 L1250.4,373.6 L1249.7,374.6 L1249,375.6 L1248.4,376.6 L1247.8,377.6 L1247.3,378.6 L1246.8,379.6 L1246.3,380.6 L1245.8,381.6 L1245.4,382.6 L1245,383.6 L1244.6,384.6 L1244.2,385.6 L1244.2,385.6 L1243.8,384.6 L1243.4,383.6 L1243,382.6 L1242.6,381.6 L1242.1,380.6 L1241.6,379.6 L1241.1,378.6 L1240.6,377.6 L1240,376.6 L1239.4,375.6 L1238.7,374.6 L1238,373.6 L1237.1,372.6 L1236.2,371.6 L1235.3,370.6 L1234.2,369.6 L1233.2,368.6 L1232,367.6 L1230.9,366.6 L1229.7,365.6 L1228.5,364.6 L1227.4,363.5 L1226.1,362.5 L1224.8,361.5 L1223.3,360.5 L1221.9,359.5 L1220.3,358.5 L1218.8,357.5 L1217.3,356.5 L1215.8,355.5 L1214.4,354.5 L1213.1,353.5 L1211.9,352.5 L1210.9,351.5 L1209.8,350.5 L1208.7,349.5 L1207.7,348.5 L1206.6,347.5 L1205.6,346.5 L1204.7,345.5 L1203.8,344.5 L1203.1,343.5 L1202.6,342.5 L1202.2,341.5 L1202.1,340.5 L1202.1,339.5 L1202.3,338.5 L1202.5,337.5 L1202.9,336.5 L1203.3,335.5 L1203.7,334.5 L1204.2,333.5 L1204.7,332.5 L1205.2,331.5 L1205.6,330.5 L1206.1,329.5 L1206.6,328.5 L1207.2,327.5 L1207.8,326.5 L1208.4,325.5 L1209,324.5 L1209.4,323.5 L1209.8,322.5 L1210,321.5 L1210,320.5 L1209.9,319.5 L1209.8,318.5 L1209.6,317.5 L1209.3,316.5 L1209.1,315.5 L1208.8,314.5 L1208.5,313.5 L1208.2,312.5 L1207.9,311.5 L1207.6,310.5 L1207.3,309.5 L1206.9,308.5 L1206.5,307.5 L1206.1,306.5 L1205.6,305.5 L1205.2,304.5 L1204.9,303.5 L1204.5,302.5 L1204.3,301.4 L1204.1,300.4 L1204,299.4 L1203.9,298.4 L1204,297.4 L1204.1,296.4 L1204.4,295.4 L1204.6,294.4 L1205,293.4 L1205.4,292.4 L1205.8,291.4 L1206.2,290.4 L1206.7,289.4 L1207.1,288.4 L1207.6,287.4 L1208.1,286.4 L1208.5,285.4 L1209.1,284.4 L1209.6,283.4 L1210.3,282.4 L1211,281.4 L1211.7,280.4 L1212.4,279.4 L1213.1,278.4 L1213.9,277.4 L1214.6,276.4 L1215.3,275.4 L1216,274.4 L1216.6,273.4 L1217.2,272.4 L1217.7,271.4 L1218.3,270.4 L1218.8,269.4 L1219.4,268.4 L1220,267.4 L1220.5,266.4 L1221.1,265.4 L1221.6,264.4 L1222.1,263.4 L1222.6,262.4 L1223,261.4 L1223.3,260.4 L1223.6,259.4 L1223.9,258.4 L1224,257.4 L1224.1,256.4 L1224,255.4 L1224,254.4 L1223.8,253.4 L1223.7,252.4 L1223.5,251.4 L1223.2,250.4 L1223,249.4 L1222.7,248.4 L1222.4,247.4 L1222.1,246.4 L1221.8,245.4 L1221.3,244.4 L1220.8,243.4 L1220.1,242.4 L1219.4,241.4 L1218.6,240.4 L1217.7,239.4 L1216.8,238.3 L1215.9,237.3 L1215,236.3 L1214.1,235.3 L1213.2,234.3 L1212.3,233.3 L1211.5,232.3 L1210.7,231.3 L1210,230.3 L1209.3,229.3 L1208.5,228.3 L1207.7,227.3 L1206.9,226.3 L1206,225.3 L1205.3,224.3 L1204.5,223.3 L1203.8,222.3 L1203.2,221.3 L1202.7,220.3 L1202.4,219.3 L1202.1,218.3 L1202.1,217.3 L1202.2,216.3 L1202.3,215.3 L1202.6,214.3 L1203,213.3 L1203.4,212.3 L1204,211.3 L1204.5,210.3 L1205.1,209.3 L1205.7,208.3 L1206.4,207.3 L1207,206.3 L1207.7,205.3 L1208.3,204.3 L1209,203.3 L1209.8,202.3 L1210.6,201.3 L1211.4,200.3 L1212.3,199.3 L1213.3,198.3 L1214.3,197.3 L1215.3,196.3 L1216.3,195.3 L1217.4,194.3 L1218.5,193.3 L1219.5,192.3 L1220.8,191.3 L1222.2,190.3 L1223.4,189.3 L1224.5,188.3 L1225.3,187.3 L1225.9,186.3 L1226.5,185.3 L1227.1,184.3 L1227.6,183.3 L1228,182.3 L1228.5,181.3 L1228.8,180.3 L1229.2,179.3 L1229.6,178.3 L1229.9,177.3 L1230.2,176.2 L1230.4,175.2 L1230.7,174.2 L1230.9,173.2 L1231.1,172.2 L1231.4,171.2 L1231.6,170.2 L1231.8,169.2 L1232.1,168.2 L1232.4,167.2 L1232.6,166.2 L1233,165.2 L1233.3,164.2 L1233.7,163.2 L1234.1,162.2 L1234.5,161.2 L1235,160.2 L1235.4,159.2 L1235.8,158.2 L1236.3,157.2 L1236.7,156.2 L1237.1,155.2 L1237.5,154.2 L1238,153.2 L1238.4,152.2 L1238.8,151.2 L1239.2,150.2 L1239.6,149.2 L1240,148.2 L1240.4,147.2 L1240.8,146.2 L1241.1,145.2 L1241.5,144.2 L1241.9,143.2 L1242.2,142.2 L1242.5,141.2 L1242.9,140.2 L1243.2,139.2 L1243.5,138.2 L1243.9,137.2 L1244.2,136.2Z" fill="#B46FFC"/>
<path d="M1357.7,154.7 L1358.4,155.7 L1359.1,156.7 L1359.9,157.7 L1360.7,158.7 L1361.4,159.7 L1362.2,160.7 L1362.9,161.7 L1363.6,162.7 L1364.2,163.7 L1364.6,164.7 L1365,165.7 L1365.3,166.7 L1365.6,167.7 L1365.8,168.7 L1366.1,169.7 L1366.3,170.7 L1366.5,171.7 L1366.7,172.7 L1366.9,173.7 L1367,174.7 L1367.1,175.7 L1367.2,176.7 L1367.3,177.7 L1367.3,178.7 L1367.3,179.7 L1367.3,180.7 L1367.3,181.7 L1367.3,182.7 L1367.3,183.7 L1367.2,184.7 L1367.2,185.7 L1367.2,186.7 L1367.2,187.7 L1367.2,188.7 L1367.1,189.7 L1367.1,190.7 L1367.1,191.7 L1367.1,192.7 L1367.2,193.7 L1367.3,194.7 L1367.4,195.7 L1367.6,196.7 L1367.9,197.7 L1368.1,198.7 L1368.4,199.7 L1368.7,200.7 L1368.9,201.7 L1369.2,202.7 L1369.4,203.7 L1369.5,204.7 L1369.7,205.7 L1369.8,206.7 L1369.9,207.7 L1370,208.7 L1370.1,209.7 L1370.2,210.7 L1370.3,211.7 L1370.4,212.7 L1370.5,213.7 L1370.6,214.7 L1370.7,215.7 L1370.8,216.7 L1371,217.7 L1371.1,218.7 L1371.2,219.7 L1371.4,220.7 L1371.5,221.7 L1371.7,222.7 L1371.8,223.7 L1372,224.7 L1372.2,225.7 L1372.4,226.7 L1372.6,227.7 L1372.8,228.7 L1373,229.7 L1373.3,230.7 L1373.6,231.7 L1373.9,232.7 L1374.2,233.7 L1374.6,234.7 L1375.1,235.7 L1375.8,236.7 L1376.6,237.7 L1377.5,238.7 L1378.4,239.7 L1379.5,240.7 L1380.6,241.7 L1381.7,242.7 L1382.8,243.7 L1383.9,244.7 L1385,245.7 L1386.1,246.7 L1387.3,247.7 L1388.6,248.7 L1390,249.7 L1391.3,250.7 L1392.7,251.7 L1394,252.7 L1395.2,253.7 L1396.2,254.7 L1397.1,255.7 L1397.7,256.7 L1398.3,257.7 L1398.9,258.7 L1399.4,259.7 L1399.7,260.7 L1399.8,261.7 L1399.6,262.7 L1399,263.7 L1398.1,264.7 L1396.9,265.7 L1395.5,266.7 L1394,267.7 L1392.6,268.7 L1391.2,269.7 L1390,270.7 L1389.1,271.7 L1388.4,272.7 L1387.8,273.7 L1387.3,274.7 L1386.8,275.7 L1386.3,276.7 L1385.8,277.7 L1385.4,278.7 L1384.9,279.7 L1384.4,280.7 L1383.8,281.7 L1383.2,282.7 L1382.5,283.7 L1381.8,284.7 L1381,285.7 L1380.2,286.7 L1379.4,287.7 L1378.5,288.7 L1377.6,289.8 L1376.7,290.8 L1375.8,291.8 L1374.8,292.8 L1373.7,293.8 L1372.5,294.8 L1371.2,295.8 L1369.8,296.8 L1368.4,297.8 L1367,298.8 L1365.9,299.8 L1365,300.8 L1364.1,301.8 L1363.2,302.8 L1362.4,303.8 L1361.7,304.8 L1361.1,305.8 L1360.7,306.8 L1360.5,307.8 L1360.5,308.8 L1360.6,309.8 L1360.9,310.8 L1361.2,311.8 L1361.6,312.8 L1362,313.8 L1362.5,314.8 L1363,315.8 L1363.5,316.8 L1364,317.8 L1364.4,318.8 L1364.9,319.8 L1365.3,320.8 L1365.6,321.8 L1365.8,322.8 L1366,323.8 L1366,324.8 L1365.9,325.8 L1365.7,326.8 L1365.4,327.8 L1365,328.8 L1364.6,329.8 L1364.1,330.8 L1363.5,331.8 L1362.9,332.8 L1362.4,333.8 L1361.8,334.8 L1361.3,335.8 L1360.8,336.8 L1360.4,337.8 L1359.9,338.8 L1359.4,339.8 L1358.9,340.8 L1358.5,341.8 L1358.1,342.8 L1357.8,343.8 L1357.7,344.8 L1357.7,345.8 L1357.7,346.8 L1357.7,347.8 L1357.7,348.8 L1357.7,349.8 L1357.7,350.8 L1357.7,351.8 L1357.7,352.8 L1357.7,353.8 L1357.7,354.8 L1357.7,355.8 L1357.7,356.8 L1357.7,357.8 L1357.7,358.8 L1357.7,359.8 L1357.7,360.8 L1357.7,361.8 L1357.8,362.8 L1357.9,363.8 L1358.2,364.8 L1358.4,365.8 L1358.8,366.8 L1359.2,367.8 L1359.6,368.8 L1360,369.8 L1360.4,370.8 L1360.8,371.8 L1361.2,372.8 L1361.5,373.8 L1361.8,374.8 L1362.1,375.8 L1362.2,376.8 L1362.3,377.8 L1362.3,378.8 L1362.2,379.8 L1362.1,380.8 L1361.9,381.8 L1361.7,382.8 L1361.4,383.8 L1361.1,384.8 L1360.8,385.8 L1360.5,386.8 L1360.1,387.8 L1359.8,388.8 L1359.4,389.8 L1359,390.8 L1358.7,391.8 L1358.3,392.8 L1358,393.8 L1357.7,394.8 L1357.7,394.8 L1357.4,393.8 L1357.1,392.8 L1356.7,391.8 L1356.4,390.8 L1356,389.8 L1355.6,388.8 L1355.3,387.8 L1354.9,386.8 L1354.6,385.8 L1354.3,384.8 L1354,383.8 L1353.7,382.8 L1353.5,381.8 L1353.3,380.8 L1353.2,379.8 L1353.1,378.8 L1353.1,377.8 L1353.2,376.8 L1353.3,375.8 L1353.6,374.8 L1353.9,373.8 L1354.2,372.8 L1354.6,371.8 L1355,370.8 L1355.4,369.8 L1355.8,368.8 L1356.2,367.8 L1356.6,366.8 L1357,365.8 L1357.2,364.8 L1357.5,363.8 L1357.6,362.8 L1357.7,361.8 L1357.7,360.8 L1357.7,359.8 L1357.7,358.8 L1357.7,357.8 L1357.7,356.8 L1357.7,355.8 L1357.7,354.8 L1357.7,353.8 L1357.7,352.8 L1357.7,351.8 L1357.7,350.8 L1357.7,349.8 L1357.7,348.8 L1357.7,347.8 L1357.7,346.8 L1357.7,345.8 L1357.7,344.8 L1357.6,343.8 L1357.3,342.8 L1356.9,341.8 L1356.5,340.8 L1356,339.8 L1355.5,338.8 L1355,337.8 L1354.6,336.8 L1354.1,335.8 L1353.6,334.8 L1353,333.8 L1352.5,332.8 L1351.9,331.8 L1351.3,330.8 L1350.8,329.8 L1350.4,328.8 L1350,327.8 L1349.7,326.8 L1349.5,325.8 L1349.4,324.8 L1349.4,323.8 L1349.6,322.8 L1349.8,321.8 L1350.1,320.8 L1350.5,319.8 L1351,318.8 L1351.4,317.8 L1351.9,316.8 L1352.4,315.8 L1352.9,314.8 L1353.4,313.8 L1353.8,312.8 L1354.2,311.8 L1354.5,310.8 L1354.8,309.8 L1354.9,308.8 L1354.9,307.8 L1354.7,306.8 L1354.3,305.8 L1353.7,304.8 L1353,303.8 L1352.2,302.8 L1351.3,301.8 L1350.4,300.8 L1349.5,299.8 L1348.4,298.8 L1347,297.8 L1345.6,296.8 L1344.2,295.8 L1342.9,294.8 L1341.7,293.8 L1340.6,292.8 L1339.6,291.8 L1338.7,290.8 L1337.8,289.8 L1336.9,288.7 L1336,287.7 L1335.2,286.7 L1334.4,285.7 L1333.6,284.7 L1332.9,283.7 L1332.2,282.7 L1331.6,281.7 L1331,280.7 L1330.5,279.7 L1330,278.7 L1329.6,277.7 L1329.1,276.7 L1328.6,275.7 L1328.1,274.7 L1327.6,273.7 L1327,272.7 L1326.3,271.7 L1325.4,270.7 L1324.2,269.7 L1322.8,268.7 L1321.4,267.7 L1319.9,266.7 L1318.5,265.7 L1317.3,264.7 L1316.4,263.7 L1315.8,262.7 L1315.6,261.7 L1315.7,260.7 L1316,259.7 L1316.5,258.7 L1317.1,257.7 L1317.7,256.7 L1318.3,255.7 L1319.2,254.7 L1320.2,253.7 L1321.4,252.7 L1322.7,251.7 L1324.1,250.7 L1325.4,249.7 L1326.8,248.7 L1328.1,247.7 L1329.3,246.7 L1330.4,245.7 L1331.5,244.7 L1332.6,243.7 L1333.7,242.7 L1334.8,241.7 L1335.9,240.7 L1337,239.7 L1337.9,238.7 L1338.8,237.7 L1339.6,236.7 L1340.3,235.7 L1340.8,234.7 L1341.2,233.7 L1341.5,232.7 L1341.8,231.7 L1342.1,230.7 L1342.4,229.7 L1342.6,228.7 L1342.8,227.7 L1343,226.7 L1343.2,225.7 L1343.4,224.7 L1343.6,223.7 L1343.7,222.7 L1343.9,221.7 L1344,220.7 L1344.2,219.7 L1344.3,218.7 L1344.4,217.7 L1344.6,216.7 L1344.7,215.7 L1344.8,214.7 L1344.9,213.7 L1345,212.7 L1345.1,211.7 L1345.2,210.7 L1345.3,209.7 L1345.4,208.7 L1345.5,207.7 L1345.6,206.7 L1345.7,205.7 L1345.9,204.7 L1346,203.7 L1346.2,202.7 L1346.5,201.7 L1346.7,200.7 L1347,199.7 L1347.3,198.7 L1347.5,197.7 L1347.8,196.7 L1348,195.7 L1348.1,194.7 L1348.2,193.7 L1348.3,192.7 L1348.3,191.7 L1348.3,190.7 L1348.3,189.7 L1348.2,188.7 L1348.2,187.7 L1348.2,186.7 L1348.2,185.7 L1348.2,184.7 L1348.1,183.7 L1348.1,182.7 L1348.1,181.7 L1348.1,180.7 L1348.1,179.7 L1348.1,178.7 L1348.1,177.7 L1348.2,176.7 L1348.3,175.7 L1348.4,174.7 L1348.5,173.7 L1348.7,172.7 L1348.9,171.7 L1349.1,170.7 L1349.3,169.7 L1349.6,168.7 L1349.8,167.7 L1350.1,166.7 L1350.4,165.7 L1350.8,164.7 L1351.2,163.7 L1351.8,162.7 L1352.5,161.7 L1353.2,160.7 L1354,159.7 L1354.7,158.7 L1355.5,157.7 L1356.3,156.7 L1357,155.7 L1357.7,154.7Z" fill="#FF57AF"/>
<circle class="d" cx="1027.6" cy="223.4" r="4.1"/>
<circle class="d" cx="1038.3" cy="232.8" r="4.1"/>
<circle class="d" cx="994.9" cy="251.8" r="4.1"/>
<circle class="d" cx="1033.1" cy="269.6" r="4.1"/>
<circle class="d" cx="1019.8" cy="323.7" r="4.1"/>
<circle class="d" cx="1028.5" cy="340" r="4.1"/>
<circle class="d" cx="1006.7" cy="404.6" r="4.1"/>
<circle class="d" cx="1023.5" cy="419.2" r="4.1"/>
<circle class="d" cx="1024.8" cy="449.3" r="4.1"/>
<circle class="d" cx="1004.9" cy="465.9" r="4.1"/>
<circle class="d" cx="1011" cy="510.6" r="4.1"/>
<circle class="d" cx="1026.1" cy="510.6" r="4.1"/>
<circle class="d" cx="1039" cy="510.6" r="4.1"/>
<circle class="d" cx="1146.4" cy="202.7" r="4.1"/>
<circle class="d" cx="1114.4" cy="215.1" r="4.1"/>
<circle class="d" cx="1125.1" cy="220.6" r="4.1"/>
<circle class="d" cx="1122.2" cy="223" r="4.1"/>
<circle class="d" cx="1128.8" cy="240.2" r="4.1"/>
<circle class="d" cx="1112.6" cy="247" r="4.1"/>
<circle class="d" cx="1120" cy="246.1" r="4.1"/>
<circle class="d" cx="1134.7" cy="254.4" r="4.1"/>
<circle class="d" cx="1142.1" cy="291" r="4.1"/>
<circle class="d" cx="1131.6" cy="301.5" r="4.1"/>
<circle class="d" cx="1109.2" cy="326.5" r="4.1"/>
<circle class="d" cx="1114" cy="326.5" r="4.1"/>
<circle class="d" cx="1132.3" cy="327.9" r="4.1"/>
<circle class="d" cx="1152.3" cy="323.1" r="4.1"/>
<circle class="d" cx="1138.4" cy="390.2" r="4.1"/>
<circle class="d" cx="1126.8" cy="422.5" r="4.1"/>
<circle class="d" cx="1235.7" cy="164.5" r="4.1"/>
<circle class="d" cx="1264.4" cy="183.8" r="4.1"/>
<circle class="d" cx="1256.4" cy="198.6" r="4.1"/>
<circle class="d" cx="1231.7" cy="216" r="4.1"/>
<circle class="d" cx="1243.1" cy="213.4" r="4.1"/>
<circle class="d" cx="1245" cy="216.5" r="4.1"/>
<circle class="d" cx="1256.6" cy="217.8" r="4.1"/>
<circle class="d" cx="1245.5" cy="227.6" r="4.1"/>
<circle class="d" cx="1242.2" cy="240.6" r="4.1"/>
<circle class="d" cx="1256.4" cy="248.5" r="4.1"/>
<circle class="d" cx="1266.2" cy="270.7" r="4.1"/>
<circle class="d" cx="1230.2" cy="278.4" r="4.1"/>
<circle class="d" cx="1237.6" cy="279.9" r="4.1"/>
<circle class="d" cx="1227.8" cy="297.5" r="4.1"/>
<circle class="d" cx="1233" cy="304.3" r="4.1"/>
<circle class="d" cx="1237.9" cy="307.1" r="4.1"/>
<circle class="d" cx="1256.4" cy="299.3" r="4.1"/>
<circle class="d" cx="1259.7" cy="313.9" r="4.1"/>
<circle class="d" cx="1229.3" cy="334.8" r="4.1"/>
<circle class="d" cx="1247.7" cy="336.6" r="4.1"/>
<circle class="d" cx="1242.2" cy="344.9" r="4.1"/>
<circle class="d" cx="1256.4" cy="348.6" r="4.1"/>
<circle class="d" cx="1222.2" cy="353.8" r="4.1"/>
<circle class="d" cx="1340.7" cy="175.5" r="4.1"/>
<circle class="d" cx="1374.3" cy="173.5" r="4.1"/>
<circle class="d" cx="1356.7" cy="189.8" r="4.1"/>
<circle class="d" cx="1371.5" cy="194.9" r="4.1"/>
<circle class="d" cx="1342.3" cy="209.5" r="4.1"/>
<circle class="d" cx="1364.7" cy="215.1" r="4.1"/>
<circle class="d" cx="1352.5" cy="219.9" r="4.1"/>
<circle class="d" cx="1375.2" cy="229.5" r="4.1"/>
<circle class="d" cx="1379.5" cy="233.2" r="4.1"/>
<circle class="d" cx="1371.5" cy="237.8" r="4.1"/>
<circle class="d" cx="1346.2" cy="245.7" r="4.1"/>
<circle class="d" cx="1353" cy="249.2" r="4.1"/>
<circle class="d" cx="1346.6" cy="252.6" r="4.1"/>
<circle class="d" cx="1349" cy="256.3" r="4.1"/>
<circle class="d" cx="1340.5" cy="259" r="4.1"/>
<circle class="d" cx="1375.2" cy="260.9" r="4.1"/>
<circle class="d" cx="1379.5" cy="263.7" r="4.1"/>
<circle class="d" cx="1365" cy="264.6" r="4.1"/>
<circle class="d" cx="1351.2" cy="266.4" r="4.1"/>
<circle class="d" cx="1341" cy="267.9" r="4.1"/>
<circle class="d" cx="1350.3" cy="273.4" r="4.1"/>
<circle class="d" cx="1336.4" cy="278.4" r="4.1"/>
<circle class="d" cx="1365" cy="277.5" r="4.1"/>
<circle class="d" cx="1352.5" cy="281.6" r="4.1"/>
<circle class="d" cx="1361" cy="287.7" r="4.1"/>
<circle class="d" cx="1371.1" cy="289.2" r="4.1"/>
<circle class="d" cx="1364.1" cy="292.7" r="4.1"/>
<circle class="d" cx="1368.7" cy="293.2" r="4.1"/>
<circle class="d" cx="1341" cy="320.9" r="4.1"/>
<circle class="d" cx="1341.6" cy="328.3" r="4.1"/>
<circle class="d" cx="1342" cy="379.1" r="4.1"/>
</g>
<line x1="1017.4" x2="1017.4" y1="268.3" y2="488.1" stroke="#1610F0" stroke-width="3.2"/>
<circle cx="1017.4" cy="378.2" r="8.3" fill="#1414F0"/>
<line x1="1131" x2="1131" y1="220.6" y2="349.6" stroke="#1610F0" stroke-width="3.2"/>
<circle cx="1131" cy="284.9" r="8.3" fill="#1414F0"/>
<line x1="1244.2" x2="1244.2" y1="215.6" y2="330.2" stroke="#1610F0" stroke-width="3.2"/>
<circle cx="1244.2" cy="272.5" r="8.3" fill="#1414F0"/>
<line x1="1357.7" x2="1357.7" y1="213.8" y2="300.6" stroke="#1610F0" stroke-width="3.2"/>
<circle cx="1357.7" cy="257.2" r="8.3" fill="#1414F0"/>
<g stroke="#333333" stroke-width="3.4">
<line x1="942.8" x2="950.3" y1="510.6" y2="510.6"/>
<line x1="942.8" x2="950.3" y1="457.6" y2="457.6"/>
<line x1="942.8" x2="950.3" y1="404.6" y2="404.6"/>
<line x1="942.8" x2="950.3" y1="351.6" y2="351.6"/>
<line x1="942.8" x2="950.3" y1="298.6" y2="298.6"/>
<line x1="942.8" x2="950.3" y1="245.6" y2="245.6"/>
<line x1="942.8" x2="950.3" y1="192.6" y2="192.6"/>
<line x1="942.8" x2="950.3" y1="139.6" y2="139.6"/>
<line x1="1017.4" x2="1017.4" y1="530.4" y2="537.9"/>
<line x1="1131" x2="1131" y1="530.4" y2="537.9"/>
<line x1="1244.2" x2="1244.2" y1="530.4" y2="537.9"/>
<line x1="1357.7" x2="1357.7" y1="530.4" y2="537.9"/>
</g>
<path d="M950.3,94.5 V530.4 H1424.6" fill="none" stroke="#000" stroke-width="2.8"/>
<g font-family="'Liberation Sans', Arial, Helvetica, sans-serif" font-size="31" fill="#000">
<text x="936.8" y="521.8" text-anchor="end">0</text>
<text x="936.8" y="468.8" text-anchor="end">2</text>
<text x="936.8" y="415.8" text-anchor="end">4</text>
<text x="936.8" y="362.8" text-anchor="end">6</text>
<text x="936.8" y="309.8" text-anchor="end">8</text>
<text x="936.8" y="256.8" text-anchor="end">10</text>
<text x="936.8" y="203.8" text-anchor="end">12</text>
<text x="936.8" y="150.8" text-anchor="end">14</text>
<text x="1017.4" y="566" text-anchor="middle" font-size="31.8">AAH</text>
<text x="1131" y="566" text-anchor="middle" font-size="31.8">AIS</text>
<text x="1244.2" y="566" text-anchor="middle" font-size="31.8">MIA</text>
<text x="1357.7" y="566" text-anchor="middle" font-size="31.8">ADC</text>
</g>
<text x="1187.4" y="600" text-anchor="middle" font-family="'Liberation Sans', Arial, Helvetica, sans-serif" font-weight="bold" font-size="28.9">Stages</text>
<text transform="translate(857.5,315.4) rotate(-90)" text-anchor="middle" font-family="'Liberation Sans', Arial, Helvetica, sans-serif" font-size="28.7">log2 (number of DMRs with</text>
<text transform="translate(888.2,315.4) rotate(-90)" text-anchor="middle" font-family="'Liberation Sans', Arial, Helvetica, sans-serif" font-size="28.7">in enhancer regions)</text>
<text transform="translate(949.6,78.9) scale(1,1.07)" font-family="'Liberation Sans', Arial, Helvetica, sans-serif" font-size="30" letter-spacing="-0.5" fill="#CD3131">p−value = 0.006615 (Kruskal−Wallis test)</text>
<text x="790.2" y="42.8" font-family="'DejaVu Sans', 'Liberation Sans', sans-serif" font-size="57" fill="#000" stroke="#000" stroke-width="1.1">b</text>
<text x="1444.6" y="124.1" font-family="'Liberation Sans', Arial, Helvetica, sans-serif" font-size="26.4">Stages</text>
<rect x="1445.8" y="140.4" width="27" height="26.9" fill="#EE9D63"/>
<line x1="1459.3" x2="1459.3" y1="142.3" y2="165.3" stroke="#1010FF" stroke-width="2.6"/>
<circle cx="1459.3" cy="153.8" r="8" fill="#1414F0"/>
<text x="1485.9" y="162.4" font-family="'Liberation Sans', Arial, Helvetica, sans-serif" font-size="23.7">AAH</text>
<rect x="1445.8" y="168.8" width="27" height="26.9" fill="#60AEFC"/>
<line x1="1459.3" x2="1459.3" y1="170.8" y2="193.8" stroke="#1010FF" stroke-width="2.6"/>
<circle cx="1459.3" cy="182.2" r="8" fill="#1414F0"/>
<text x="1485.9" y="190.8" font-family="'Liberation Sans', Arial, Helvetica, sans-serif" font-size="23.7">AIS</text>
<rect x="1445.8" y="197.2" width="27" height="26.9" fill="#B46FFC"/>
<line x1="1459.3" x2="1459.3" y1="199.1" y2="222.1" stroke="#1010FF" stroke-width="2.6"/>
<circle cx="1459.3" cy="210.6" r="8" fill="#1414F0"/>
<text x="1485.9" y="219.2" font-family="'Liberation Sans', Arial, Helvetica, sans-serif" font-size="23.7">MIA</text>
<rect x="1445.8" y="225.6" width="27" height="26.9" fill="#FF57AF"/>
<line x1="1459.3" x2="1459.3" y1="227.5" y2="250.5" stroke="#1010FF" stroke-width="2.6"/>
<circle cx="1459.3" cy="239" r="8" fill="#1414F0"/>
<text x="1485.9" y="247.6" font-family="'Liberation Sans', Arial, Helvetica, sans-serif" font-size="23.7">ADC</text>
<clipPath id="c2"><rect x="147.7" y="712.4" width="474.3" height="435.9"/></clipPath>
<rect x="147.7" y="712.4" width="474.3" height="435.9" fill="#F8F9FD"/>
<g stroke="#FFFFFF"><line x1="147.7" x2="622" y1="1128.5" y2="1128.5" stroke-width="1.6"/><line x1="147.7" x2="622" y1="1102" y2="1102" stroke-width="0.9"/><line x1="147.7" x2="622" y1="1075.5" y2="1075.5" stroke-width="1.6"/><line x1="147.7" x2="622" y1="1049" y2="1049" stroke-width="0.9"/><line x1="147.7" x2="622" y1="1022.5" y2="1022.5" stroke-width="1.6"/><line x1="147.7" x2="622" y1="996" y2="996" stroke-width="0.9"/><line x1="147.7" x2="622" y1="969.5" y2="969.5" stroke-width="1.6"/><line x1="147.7" x2="622" y1="943" y2="943" stroke-width="0.9"/><line x1="147.7" x2="622" y1="916.5" y2="916.5" stroke-width="1.6"/><line x1="147.7" x2="622" y1="890" y2="890" stroke-width="0.9"/><line x1="147.7" x2="622" y1="863.5" y2="863.5" stroke-width="1.6"/><line x1="147.7" x2="622" y1="837" y2="837" stroke-width="0.9"/><line x1="147.7" x2="622" y1="810.5" y2="810.5" stroke-width="1.6"/><line x1="147.7" x2="622" y1="784" y2="784" stroke-width="0.9"/><line x1="147.7" x2="622" y1="757.5" y2="757.5" stroke-width="1.6"/><line x1="147.7" x2="622" y1="731" y2="731" stroke-width="0.9"/><line x1="215.3" x2="215.3" y1="712.4" y2="1148.3" stroke-width="1.6"/><line x1="328.4" x2="328.4" y1="712.4" y2="1148.3" stroke-width="1.6"/><line x1="441.4" x2="441.4" y1="712.4" y2="1148.3" stroke-width="1.6"/><line x1="554.6" x2="554.6" y1="712.4" y2="1148.3" stroke-width="1.6"/></g>
<g clip-path="url(#c2)">
<path d="M215.3,939.4 L215.6,940.4 L215.9,941.4 L216.2,942.4 L216.5,943.4 L216.8,944.4 L217.1,945.4 L217.3,946.4 L217.5,947.4 L217.7,948.4 L217.8,949.4 L218,950.4 L218.1,951.4 L218.3,952.4 L218.4,953.4 L218.5,954.4 L218.7,955.4 L218.8,956.4 L219,957.4 L219.2,958.4 L219.4,959.4 L219.6,960.4 L219.8,961.5 L220,962.5 L220.2,963.5 L220.5,964.5 L220.7,965.5 L220.9,966.5 L221.2,967.5 L221.4,968.5 L221.6,969.5 L221.8,970.5 L222.1,971.5 L222.3,972.5 L222.6,973.5 L222.8,974.5 L223,975.5 L223.3,976.5 L223.5,977.5 L223.8,978.5 L224,979.5 L224.3,980.5 L224.5,981.5 L224.7,982.5 L224.9,983.5 L225.2,984.5 L225.4,985.5 L225.7,986.5 L225.9,987.5 L226.1,988.5 L226.4,989.5 L226.6,990.5 L226.8,991.5 L227,992.5 L227.2,993.5 L227.4,994.5 L227.6,995.5 L227.7,996.5 L227.9,997.5 L228,998.5 L228.2,999.5 L228.3,1000.5 L228.4,1001.5 L228.5,1002.5 L228.7,1003.5 L228.7,1004.5 L228.8,1005.5 L228.9,1006.5 L228.9,1007.5 L228.9,1008.5 L228.9,1009.5 L228.8,1010.5 L228.8,1011.5 L228.7,1012.5 L228.6,1013.5 L228.5,1014.5 L228.5,1015.5 L228.4,1016.5 L228.2,1017.5 L228,1018.5 L227.8,1019.5 L227.6,1020.5 L227.3,1021.5 L227,1022.5 L226.8,1023.5 L226.6,1024.5 L226.3,1025.5 L226,1026.5 L225.7,1027.5 L225.4,1028.5 L225.1,1029.5 L224.8,1030.5 L224.6,1031.5 L224.3,1032.5 L224.1,1033.5 L223.9,1034.5 L223.7,1035.5 L223.6,1036.5 L223.4,1037.5 L223.3,1038.5 L223.1,1039.5 L223,1040.5 L222.9,1041.5 L222.8,1042.5 L222.7,1043.5 L222.6,1044.5 L222.5,1045.5 L222.3,1046.5 L222.2,1047.5 L222.1,1048.5 L222,1049.5 L221.9,1050.5 L221.8,1051.5 L221.8,1052.5 L221.7,1053.5 L221.6,1054.5 L221.5,1055.5 L221.4,1056.5 L221.3,1057.5 L221.2,1058.5 L221.1,1059.5 L221,1060.5 L220.9,1061.5 L220.8,1062.5 L220.7,1063.5 L220.6,1064.5 L220.5,1065.5 L220.4,1066.5 L220.2,1067.5 L220.1,1068.5 L219.9,1069.5 L219.8,1070.5 L219.6,1071.5 L219.4,1072.5 L219.1,1073.5 L218.8,1074.5 L218.6,1075.5 L218.6,1076.5 L218.8,1077.5 L219,1078.5 L219.3,1079.5 L219.6,1080.5 L219.9,1081.5 L220.2,1082.5 L220.6,1083.5 L221,1084.5 L221.4,1085.5 L221.8,1086.5 L222.2,1087.5 L222.7,1088.5 L223.2,1089.5 L223.7,1090.5 L224.2,1091.5 L224.7,1092.5 L225.2,1093.5 L225.7,1094.5 L226.3,1095.5 L226.8,1096.5 L227.4,1097.5 L228,1098.5 L228.7,1099.5 L229.4,1100.5 L230.2,1101.5 L231,1102.5 L231.9,1103.5 L233,1104.5 L234.3,1105.5 L235.6,1106.5 L237,1107.5 L238.5,1108.5 L239.9,1109.5 L241.4,1110.5 L242.7,1111.5 L244.1,1112.5 L245.3,1113.5 L246.7,1114.5 L248.2,1115.5 L249.7,1116.5 L251.1,1117.5 L252.5,1118.5 L253.7,1119.5 L254.8,1120.5 L255.7,1121.5 L256.3,1122.5 L256.6,1123.5 L256.8,1124.5 L257,1125.5 L257.2,1126.5 L257.3,1127.5 L257.3,1128.5 L257.3,1129.5 L256.9,1130.5 L256.4,1131.5 L255.7,1132.5 L254.8,1133.5 L253.8,1134.5 L252.8,1135.5 L251.7,1136.5 L250.5,1137.5 L248.9,1138.5 L247.1,1139.5 L245.2,1140.5 L243.4,1141.5 L241.7,1142.5 L240.3,1143.5 L239.1,1144.5 L238,1145.5 L236.8,1146.5 L235.5,1147.5 L234.2,1148.5 L232.7,1149.5 L231.3,1150.5 L229.8,1151.5 L228.3,1152.5 L226.8,1153.5 L225.3,1154.5 L223.9,1155.5 L222.4,1156.5 L221,1157.5 L219.6,1158.5 L218.2,1159.5 L216.7,1160.5 L215.3,1161.5 L215.3,1161.5 L213.9,1160.5 L212.4,1159.5 L211,1158.5 L209.6,1157.5 L208.2,1156.5 L206.7,1155.5 L205.3,1154.5 L203.8,1153.5 L202.3,1152.5 L200.8,1151.5 L199.3,1150.5 L197.9,1149.5 L196.4,1148.5 L195.1,1147.5 L193.8,1146.5 L192.6,1145.5 L191.5,1144.5 L190.3,1143.5 L188.9,1142.5 L187.2,1141.5 L185.4,1140.5 L183.5,1139.5 L181.7,1138.5 L180.1,1137.5 L178.9,1136.5 L177.8,1135.5 L176.8,1134.5 L175.8,1133.5 L174.9,1132.5 L174.2,1131.5 L173.7,1130.5 L173.3,1129.5 L173.3,1128.5 L173.3,1127.5 L173.4,1126.5 L173.6,1125.5 L173.8,1124.5 L174,1123.5 L174.3,1122.5 L174.9,1121.5 L175.8,1120.5 L176.9,1119.5 L178.1,1118.5 L179.5,1117.5 L180.9,1116.5 L182.4,1115.5 L183.9,1114.5 L185.3,1113.5 L186.5,1112.5 L187.9,1111.5 L189.2,1110.5 L190.7,1109.5 L192.1,1108.5 L193.6,1107.5 L195,1106.5 L196.3,1105.5 L197.6,1104.5 L198.7,1103.5 L199.6,1102.5 L200.4,1101.5 L201.2,1100.5 L201.9,1099.5 L202.6,1098.5 L203.2,1097.5 L203.8,1096.5 L204.3,1095.5 L204.9,1094.5 L205.4,1093.5 L205.9,1092.5 L206.4,1091.5 L206.9,1090.5 L207.4,1089.5 L207.9,1088.5 L208.4,1087.5 L208.8,1086.5 L209.2,1085.5 L209.6,1084.5 L210,1083.5 L210.4,1082.5 L210.7,1081.5 L211,1080.5 L211.3,1079.5 L211.6,1078.5 L211.8,1077.5 L212,1076.5 L212,1075.5 L211.8,1074.5 L211.5,1073.5 L211.2,1072.5 L211,1071.5 L210.8,1070.5 L210.7,1069.5 L210.5,1068.5 L210.4,1067.5 L210.2,1066.5 L210.1,1065.5 L210,1064.5 L209.9,1063.5 L209.8,1062.5 L209.7,1061.5 L209.6,1060.5 L209.5,1059.5 L209.4,1058.5 L209.3,1057.5 L209.2,1056.5 L209.1,1055.5 L209,1054.5 L208.9,1053.5 L208.8,1052.5 L208.8,1051.5 L208.7,1050.5 L208.6,1049.5 L208.5,1048.5 L208.4,1047.5 L208.3,1046.5 L208.1,1045.5 L208,1044.5 L207.9,1043.5 L207.8,1042.5 L207.7,1041.5 L207.6,1040.5 L207.5,1039.5 L207.3,1038.5 L207.2,1037.5 L207,1036.5 L206.9,1035.5 L206.7,1034.5 L206.5,1033.5 L206.3,1032.5 L206,1031.5 L205.8,1030.5 L205.5,1029.5 L205.2,1028.5 L204.9,1027.5 L204.6,1026.5 L204.3,1025.5 L204,1024.5 L203.8,1023.5 L203.6,1022.5 L203.3,1021.5 L203,1020.5 L202.8,1019.5 L202.6,1018.5 L202.4,1017.5 L202.2,1016.5 L202.1,1015.5 L202.1,1014.5 L202,1013.5 L201.9,1012.5 L201.8,1011.5 L201.8,1010.5 L201.7,1009.5 L201.7,1008.5 L201.7,1007.5 L201.7,1006.5 L201.8,1005.5 L201.9,1004.5 L201.9,1003.5 L202.1,1002.5 L202.2,1001.5 L202.3,1000.5 L202.4,999.5 L202.6,998.5 L202.7,997.5 L202.9,996.5 L203,995.5 L203.2,994.5 L203.4,993.5 L203.6,992.5 L203.8,991.5 L204,990.5 L204.2,989.5 L204.5,988.5 L204.7,987.5 L204.9,986.5 L205.2,985.5 L205.4,984.5 L205.7,983.5 L205.9,982.5 L206.1,981.5 L206.3,980.5 L206.6,979.5 L206.8,978.5 L207.1,977.5 L207.3,976.5 L207.6,975.5 L207.8,974.5 L208,973.5 L208.3,972.5 L208.5,971.5 L208.8,970.5 L209,969.5 L209.2,968.5 L209.4,967.5 L209.7,966.5 L209.9,965.5 L210.1,964.5 L210.4,963.5 L210.6,962.5 L210.8,961.5 L211,960.4 L211.2,959.4 L211.4,958.4 L211.6,957.4 L211.8,956.4 L211.9,955.4 L212.1,954.4 L212.2,953.4 L212.3,952.4 L212.5,951.4 L212.6,950.4 L212.8,949.4 L212.9,948.4 L213.1,947.4 L213.3,946.4 L213.5,945.4 L213.8,944.4 L214.1,943.4 L214.4,942.4 L214.7,941.4 L215,940.4 L215.3,939.4Z" fill="#EE9D63"/>
<path d="M328.4,899 L328.9,900 L329.4,901 L329.8,902 L330.3,903 L330.7,904 L331.2,905 L331.6,906 L332.1,907 L332.5,908 L333,909.1 L333.5,910.1 L334,911.1 L334.5,912.1 L335,913.1 L335.6,914.1 L336.2,915.1 L336.8,916.1 L337.5,917.1 L338.2,918.1 L338.9,919.1 L339.8,920.1 L340.6,921.1 L341.5,922.1 L342.5,923.1 L343.4,924.1 L344.4,925.1 L345.4,926.1 L346.4,927.1 L347.4,928.1 L348.3,929.1 L349.3,930.1 L350.5,931.1 L351.8,932.1 L353.1,933.1 L354.5,934.1 L355.9,935.1 L357.2,936.1 L358.5,937.1 L359.7,938.1 L360.7,939.1 L361.5,940.1 L362.1,941.1 L362.5,942.1 L362.6,943.1 L362.6,944.1 L362.6,945.1 L362.6,946.1 L362.6,947.1 L362.5,948.1 L362.5,949.1 L362.5,950.1 L362.5,951.1 L362.5,952.1 L362.5,953.1 L362.3,954.1 L362.1,955.1 L361.8,956.1 L361.4,957.1 L361.1,958.1 L360.7,959.1 L360.4,960.1 L360.2,961.1 L360.1,962.1 L360,963.1 L360,964.1 L359.9,965.1 L359.8,966.1 L359.8,967.1 L359.8,968.1 L359.8,969.1 L359.8,970.1 L359.9,971.1 L360.1,972.1 L360.4,973.1 L360.8,974.1 L361.1,975.1 L361.5,976.1 L361.9,977.1 L362.2,978.1 L362.5,979.1 L362.7,980.1 L362.8,981.1 L362.9,982.1 L363,983.1 L363,984.1 L363.1,985.1 L363.1,986.1 L363.1,987.1 L363.1,988.1 L363.1,989.1 L363,990.1 L362.8,991.1 L362.6,992.1 L362.4,993.1 L362.2,994.1 L361.9,995.1 L361.6,996.1 L361.3,997.1 L360.9,998.1 L360.3,999.1 L359.7,1000.1 L359,1001.1 L358.3,1002.1 L357.6,1003.1 L357,1004.1 L356.3,1005.1 L355.7,1006.1 L355.2,1007.1 L354.8,1008.1 L354.4,1009.1 L354.2,1010.1 L353.9,1011.1 L353.7,1012.1 L353.4,1013.1 L353.2,1014.1 L353,1015.1 L352.8,1016.1 L352.6,1017.1 L352.5,1018.1 L352.3,1019.1 L352.2,1020.1 L352.2,1021.1 L352.2,1022.1 L352.2,1023.1 L352.2,1024.1 L352.4,1025.1 L352.5,1026.1 L352.7,1027.1 L353,1028.1 L353.2,1029.1 L353.5,1030.1 L353.8,1031.1 L354.1,1032.1 L354.6,1033.1 L355.2,1034.1 L355.9,1035.1 L356.7,1036.1 L357.5,1037.1 L358.2,1038.1 L359,1039.1 L359.7,1040.1 L360.3,1041.1 L361,1042.1 L361.7,1043.1 L362.3,1044.1 L363,1045.1 L363.6,1046.1 L364.2,1047.1 L364.8,1048.1 L365.3,1049.1 L365.8,1050.1 L366.3,1051.1 L366.8,1052.1 L367.2,1053.1 L367.7,1054.1 L368.1,1055.1 L368.5,1056.1 L368.8,1057.1 L369.1,1058.1 L369.3,1059.1 L369.4,1060.1 L369.6,1061.1 L369.7,1062.1 L369.8,1063.1 L369.9,1064.1 L370,1065.1 L370,1066.1 L369.9,1067.1 L369.8,1068.1 L369.6,1069.1 L369.3,1070.1 L369,1071.1 L368.7,1072.1 L368.3,1073.1 L368,1074.1 L367.6,1075.1 L367.1,1076.1 L366.4,1077.1 L365.6,1078.1 L364.8,1079.1 L363.9,1080.1 L363,1081.1 L362.2,1082.1 L361.4,1083.1 L360.8,1084.1 L360.3,1085.1 L359.9,1086.1 L359.4,1087.1 L358.9,1088.1 L358.1,1089.1 L356.9,1090.1 L355.6,1091.1 L354.4,1092.1 L353.4,1093.1 L352.6,1094.1 L351.9,1095.1 L351.1,1096.1 L350.4,1097.1 L349.8,1098.1 L349.3,1099.1 L348.8,1100.1 L348.5,1101.1 L348.3,1102.1 L348.2,1103.1 L348,1104.1 L347.9,1105.1 L347.8,1106.1 L347.7,1107.1 L347.6,1108.1 L347.6,1109.1 L347.5,1110.1 L347.5,1111.1 L347.5,1112.1 L347.4,1113.1 L347.5,1114.1 L347.6,1115.1 L347.7,1116.1 L347.8,1117.1 L348,1118.1 L348.2,1119.1 L348.5,1120.1 L348.7,1121.1 L348.9,1122.1 L349.1,1123.1 L349.3,1124.1 L349.4,1125.1 L349.6,1126.1 L349.7,1127.1 L349.7,1128.1 L349.6,1129.1 L349.5,1130.1 L349.2,1131.1 L348.9,1132.1 L348.5,1133.1 L348.1,1134.1 L347.6,1135.1 L347.1,1136.1 L346.6,1137.1 L346.1,1138.1 L345.6,1139.1 L344.9,1140.1 L344.3,1141.1 L343.5,1142.1 L342.7,1143.1 L341.9,1144.1 L341.1,1145.1 L340.3,1146.1 L339.5,1147.1 L338.6,1148.1 L337.8,1149.1 L336.9,1150.1 L335.9,1151.1 L335,1152.1 L334.1,1153.1 L333.2,1154.1 L332.4,1155.1 L331.6,1156.1 L330.8,1157.1 L330,1158.1 L329.2,1159.1 L328.4,1160.1 L328.4,1160.1 L327.6,1159.1 L326.8,1158.1 L326,1157.1 L325.2,1156.1 L324.4,1155.1 L323.6,1154.1 L322.7,1153.1 L321.8,1152.1 L320.9,1151.1 L319.9,1150.1 L319,1149.1 L318.2,1148.1 L317.3,1147.1 L316.5,1146.1 L315.7,1145.1 L314.9,1144.1 L314.1,1143.1 L313.3,1142.1 L312.5,1141.1 L311.9,1140.1 L311.2,1139.1 L310.7,1138.1 L310.2,1137.1 L309.7,1136.1 L309.2,1135.1 L308.7,1134.1 L308.3,1133.1 L307.9,1132.1 L307.6,1131.1 L307.3,1130.1 L307.2,1129.1 L307.1,1128.1 L307.1,1127.1 L307.2,1126.1 L307.4,1125.1 L307.5,1124.1 L307.7,1123.1 L307.9,1122.1 L308.1,1121.1 L308.3,1120.1 L308.6,1119.1 L308.8,1118.1 L309,1117.1 L309.1,1116.1 L309.2,1115.1 L309.3,1114.1 L309.4,1113.1 L309.3,1112.1 L309.3,1111.1 L309.3,1110.1 L309.2,1109.1 L309.2,1108.1 L309.1,1107.1 L309,1106.1 L308.9,1105.1 L308.8,1104.1 L308.6,1103.1 L308.5,1102.1 L308.3,1101.1 L308,1100.1 L307.5,1099.1 L307,1098.1 L306.4,1097.1 L305.7,1096.1 L304.9,1095.1 L304.2,1094.1 L303.4,1093.1 L302.4,1092.1 L301.2,1091.1 L299.9,1090.1 L298.7,1089.1 L297.9,1088.1 L297.4,1087.1 L296.9,1086.1 L296.5,1085.1 L296,1084.1 L295.4,1083.1 L294.6,1082.1 L293.8,1081.1 L292.9,1080.1 L292,1079.1 L291.2,1078.1 L290.4,1077.1 L289.7,1076.1 L289.2,1075.1 L288.8,1074.1 L288.5,1073.1 L288.1,1072.1 L287.8,1071.1 L287.5,1070.1 L287.2,1069.1 L287,1068.1 L286.9,1067.1 L286.8,1066.1 L286.8,1065.1 L286.9,1064.1 L287,1063.1 L287.1,1062.1 L287.2,1061.1 L287.4,1060.1 L287.5,1059.1 L287.7,1058.1 L288,1057.1 L288.3,1056.1 L288.7,1055.1 L289.1,1054.1 L289.6,1053.1 L290,1052.1 L290.5,1051.1 L291,1050.1 L291.5,1049.1 L292,1048.1 L292.6,1047.1 L293.2,1046.1 L293.8,1045.1 L294.5,1044.1 L295.1,1043.1 L295.8,1042.1 L296.5,1041.1 L297.1,1040.1 L297.8,1039.1 L298.6,1038.1 L299.3,1037.1 L300.1,1036.1 L300.9,1035.1 L301.6,1034.1 L302.2,1033.1 L302.7,1032.1 L303,1031.1 L303.3,1030.1 L303.6,1029.1 L303.8,1028.1 L304.1,1027.1 L304.3,1026.1 L304.4,1025.1 L304.6,1024.1 L304.6,1023.1 L304.6,1022.1 L304.6,1021.1 L304.6,1020.1 L304.5,1019.1 L304.3,1018.1 L304.2,1017.1 L304,1016.1 L303.8,1015.1 L303.6,1014.1 L303.4,1013.1 L303.1,1012.1 L302.9,1011.1 L302.6,1010.1 L302.4,1009.1 L302,1008.1 L301.6,1007.1 L301.1,1006.1 L300.5,1005.1 L299.8,1004.1 L299.2,1003.1 L298.5,1002.1 L297.8,1001.1 L297.1,1000.1 L296.5,999.1 L295.9,998.1 L295.5,997.1 L295.2,996.1 L294.9,995.1 L294.6,994.1 L294.4,993.1 L294.2,992.1 L294,991.1 L293.8,990.1 L293.7,989.1 L293.7,988.1 L293.7,987.1 L293.7,986.1 L293.7,985.1 L293.8,984.1 L293.8,983.1 L293.9,982.1 L294,981.1 L294.1,980.1 L294.3,979.1 L294.6,978.1 L294.9,977.1 L295.3,976.1 L295.7,975.1 L296,974.1 L296.4,973.1 L296.7,972.1 L296.9,971.1 L297,970.1 L297,969.1 L297,968.1 L297,967.1 L297,966.1 L296.9,965.1 L296.8,964.1 L296.8,963.1 L296.7,962.1 L296.6,961.1 L296.4,960.1 L296.1,959.1 L295.7,958.1 L295.4,957.1 L295,956.1 L294.7,955.1 L294.5,954.1 L294.3,953.1 L294.3,952.1 L294.3,951.1 L294.3,950.1 L294.3,949.1 L294.3,948.1 L294.2,947.1 L294.2,946.1 L294.2,945.1 L294.2,944.1 L294.2,943.1 L294.3,942.1 L294.7,941.1 L295.3,940.1 L296.1,939.1 L297.1,938.1 L298.3,937.1 L299.6,936.1 L300.9,935.1 L302.3,934.1 L303.7,933.1 L305,932.1 L306.3,931.1 L307.5,930.1 L308.5,929.1 L309.4,928.1 L310.4,927.1 L311.4,926.1 L312.4,925.1 L313.4,924.1 L314.3,923.1 L315.3,922.1 L316.2,921.1 L317,920.1 L317.9,919.1 L318.6,918.1 L319.3,917.1 L320,916.1 L320.6,915.1 L321.2,914.1 L321.8,913.1 L322.3,912.1 L322.8,911.1 L323.3,910.1 L323.8,909.1 L324.3,908 L324.7,907 L325.2,906 L325.6,905 L326.1,904 L326.5,903 L327,902 L327.4,901 L327.9,900 L328.4,899Z" fill="#60AEFC"/>
<path d="M441.4,878.1 L441.6,879.1 L441.9,880.1 L442.1,881.1 L442.4,882.1 L442.6,883.1 L442.9,884.1 L443.1,885.1 L443.4,886.1 L443.6,887.1 L443.9,888.1 L444.1,889.1 L444.4,890.1 L444.7,891.1 L445,892.1 L445.2,893.1 L445.5,894.1 L445.8,895.1 L446.1,896.1 L446.4,897.1 L446.7,898.1 L447,899.1 L447.3,900.1 L447.7,901.1 L448,902.1 L448.4,903.1 L448.7,904.1 L449.1,905.1 L449.5,906.1 L450,907.1 L450.4,908.1 L450.8,909.1 L451.3,910.1 L451.7,911.1 L452.1,912.1 L452.5,913.1 L452.9,914.1 L453.2,915.1 L453.6,916.1 L453.9,917.1 L454.1,918.1 L454.4,919.1 L454.6,920.1 L454.8,921.1 L455,922.1 L455.3,923.1 L455.5,924.1 L455.7,925.1 L456,926.1 L456.3,927.1 L456.7,928.1 L457.2,929.1 L457.7,930.1 L458.2,931.1 L458.8,932.1 L459.4,933.1 L460,934.1 L460.7,935.1 L461.3,936.1 L461.9,937.1 L462.5,938.1 L463.1,939.1 L463.7,940.1 L464.3,941.1 L464.9,942.1 L465.6,943.1 L466.3,944.1 L467.1,945.1 L467.9,946.1 L468.7,947.1 L469.6,948.1 L470.4,949.1 L471.3,950.1 L472.2,951.1 L473,952.1 L473.9,953.1 L474.7,954.1 L475.5,955.1 L476.4,956.1 L477.3,957.1 L478.2,958.1 L479.1,959.1 L479.8,960.1 L480.5,961.1 L481,962.1 L481.5,963.1 L481.9,964.1 L482.3,965.1 L482.7,966.1 L483,967.1 L483.2,968.1 L483.3,969.1 L483.3,970.1 L483.2,971.1 L483,972.1 L482.8,973.1 L482.5,974.1 L482.2,975.2 L481.9,976.2 L481.3,977.2 L480.4,978.2 L479.4,979.2 L478.3,980.2 L477.2,981.2 L476,982.2 L474.8,983.2 L473.7,984.2 L472.6,985.2 L471.4,986.2 L470.2,987.2 L468.9,988.2 L467.6,989.2 L466.3,990.2 L465.1,991.2 L463.9,992.2 L462.7,993.2 L461.7,994.2 L460.8,995.2 L460,996.2 L459.2,997.2 L458.5,998.2 L457.9,999.2 L457.2,1000.2 L456.7,1001.2 L456.2,1002.2 L455.7,1003.2 L455.3,1004.2 L455,1005.2 L454.7,1006.2 L454.5,1007.2 L454.3,1008.2 L454.1,1009.2 L453.9,1010.2 L453.7,1011.2 L453.6,1012.2 L453.5,1013.2 L453.4,1014.2 L453.4,1015.2 L453.3,1016.2 L453.3,1017.2 L453.4,1018.2 L453.5,1019.2 L453.6,1020.2 L453.8,1021.2 L454,1022.2 L454.2,1023.2 L454.5,1024.2 L454.9,1025.2 L455.3,1026.2 L455.8,1027.2 L456.4,1028.2 L456.9,1029.2 L457.5,1030.2 L458,1031.2 L458.5,1032.2 L459,1033.2 L459.6,1034.2 L460.1,1035.2 L460.6,1036.2 L461.2,1037.2 L461.8,1038.2 L462.3,1039.2 L462.9,1040.2 L463.4,1041.2 L464,1042.2 L464.6,1043.2 L465.2,1044.2 L465.8,1045.2 L466.4,1046.2 L467,1047.2 L467.5,1048.2 L468,1049.2 L468.4,1050.2 L468.9,1051.2 L469.3,1052.2 L469.8,1053.2 L470.2,1054.2 L470.5,1055.2 L470.9,1056.2 L471.2,1057.2 L471.4,1058.2 L471.6,1059.2 L471.8,1060.2 L472,1061.2 L472.2,1062.2 L472.4,1063.2 L472.5,1064.2 L472.6,1065.2 L472.7,1066.2 L472.7,1067.2 L472.6,1068.2 L472.5,1069.2 L472.2,1070.2 L471.9,1071.2 L471.5,1072.2 L471.2,1073.2 L470.8,1074.2 L470.4,1075.2 L470,1076.2 L469.5,1077.2 L469,1078.3 L468.5,1079.3 L467.9,1080.3 L467.3,1081.3 L466.7,1082.3 L466.1,1083.3 L465.5,1084.3 L464.9,1085.3 L464.3,1086.3 L463.7,1087.3 L463.2,1088.3 L462.6,1089.3 L462,1090.3 L461.4,1091.3 L460.8,1092.3 L460.3,1093.3 L459.7,1094.3 L459.2,1095.3 L458.6,1096.3 L458,1097.3 L457.4,1098.3 L456.9,1099.3 L456.4,1100.3 L456,1101.3 L455.8,1102.3 L455.6,1103.3 L455.4,1104.3 L455.2,1105.3 L455,1106.3 L454.8,1107.3 L454.7,1108.3 L454.6,1109.3 L454.5,1110.3 L454.4,1111.3 L454.4,1112.3 L454.4,1113.3 L454.4,1114.3 L454.4,1115.3 L454.4,1116.3 L454.4,1117.3 L454.4,1118.3 L454.4,1119.3 L454.4,1120.3 L454.4,1121.3 L454.4,1122.3 L454.4,1123.3 L454.4,1124.3 L454.4,1125.3 L454.4,1126.3 L454.4,1127.3 L454.4,1128.3 L454.4,1129.3 L454.2,1130.3 L453.9,1131.3 L453.6,1132.3 L453.2,1133.3 L452.8,1134.3 L452.3,1135.3 L451.9,1136.3 L451.5,1137.3 L451,1138.3 L450.6,1139.3 L450.1,1140.3 L449.5,1141.3 L449,1142.3 L448.4,1143.3 L447.7,1144.3 L447.1,1145.3 L446.4,1146.3 L445.5,1147.3 L444.6,1148.3 L443.5,1149.3 L442.4,1150.3 L441.4,1151.3 L441.4,1151.3 L440.4,1150.3 L439.3,1149.3 L438.2,1148.3 L437.3,1147.3 L436.4,1146.3 L435.7,1145.3 L435.1,1144.3 L434.4,1143.3 L433.8,1142.3 L433.3,1141.3 L432.7,1140.3 L432.2,1139.3 L431.8,1138.3 L431.3,1137.3 L430.9,1136.3 L430.5,1135.3 L430,1134.3 L429.6,1133.3 L429.2,1132.3 L428.9,1131.3 L428.6,1130.3 L428.4,1129.3 L428.4,1128.3 L428.4,1127.3 L428.4,1126.3 L428.4,1125.3 L428.4,1124.3 L428.4,1123.3 L428.4,1122.3 L428.4,1121.3 L428.4,1120.3 L428.4,1119.3 L428.4,1118.3 L428.4,1117.3 L428.4,1116.3 L428.4,1115.3 L428.4,1114.3 L428.4,1113.3 L428.4,1112.3 L428.4,1111.3 L428.3,1110.3 L428.2,1109.3 L428.1,1108.3 L428,1107.3 L427.8,1106.3 L427.6,1105.3 L427.4,1104.3 L427.2,1103.3 L427,1102.3 L426.8,1101.3 L426.4,1100.3 L425.9,1099.3 L425.4,1098.3 L424.8,1097.3 L424.2,1096.3 L423.6,1095.3 L423.1,1094.3 L422.5,1093.3 L422,1092.3 L421.4,1091.3 L420.8,1090.3 L420.2,1089.3 L419.6,1088.3 L419.1,1087.3 L418.5,1086.3 L417.9,1085.3 L417.3,1084.3 L416.7,1083.3 L416.1,1082.3 L415.5,1081.3 L414.9,1080.3 L414.3,1079.3 L413.8,1078.3 L413.3,1077.2 L412.8,1076.2 L412.4,1075.2 L412,1074.2 L411.6,1073.2 L411.3,1072.2 L410.9,1071.2 L410.6,1070.2 L410.3,1069.2 L410.2,1068.2 L410.1,1067.2 L410.1,1066.2 L410.2,1065.2 L410.3,1064.2 L410.4,1063.2 L410.6,1062.2 L410.8,1061.2 L411,1060.2 L411.2,1059.2 L411.4,1058.2 L411.6,1057.2 L411.9,1056.2 L412.3,1055.2 L412.6,1054.2 L413,1053.2 L413.5,1052.2 L413.9,1051.2 L414.4,1050.2 L414.8,1049.2 L415.3,1048.2 L415.8,1047.2 L416.4,1046.2 L417,1045.2 L417.6,1044.2 L418.2,1043.2 L418.8,1042.2 L419.4,1041.2 L419.9,1040.2 L420.5,1039.2 L421,1038.2 L421.6,1037.2 L422.2,1036.2 L422.7,1035.2 L423.2,1034.2 L423.8,1033.2 L424.3,1032.2 L424.8,1031.2 L425.3,1030.2 L425.9,1029.2 L426.4,1028.2 L427,1027.2 L427.5,1026.2 L427.9,1025.2 L428.3,1024.2 L428.6,1023.2 L428.8,1022.2 L429,1021.2 L429.2,1020.2 L429.3,1019.2 L429.4,1018.2 L429.5,1017.2 L429.5,1016.2 L429.4,1015.2 L429.4,1014.2 L429.3,1013.2 L429.2,1012.2 L429.1,1011.2 L428.9,1010.2 L428.7,1009.2 L428.5,1008.2 L428.3,1007.2 L428.1,1006.2 L427.8,1005.2 L427.5,1004.2 L427.1,1003.2 L426.6,1002.2 L426.1,1001.2 L425.6,1000.2 L424.9,999.2 L424.3,998.2 L423.6,997.2 L422.8,996.2 L422,995.2 L421.1,994.2 L420.1,993.2 L418.9,992.2 L417.7,991.2 L416.5,990.2 L415.2,989.2 L413.9,988.2 L412.6,987.2 L411.4,986.2 L410.2,985.2 L409.1,984.2 L408,983.2 L406.8,982.2 L405.6,981.2 L404.5,980.2 L403.4,979.2 L402.4,978.2 L401.5,977.2 L400.9,976.2 L400.6,975.2 L400.3,974.1 L400,973.1 L399.8,972.1 L399.6,971.1 L399.5,970.1 L399.5,969.1 L399.6,968.1 L399.8,967.1 L400.1,966.1 L400.5,965.1 L400.9,964.1 L401.3,963.1 L401.8,962.1 L402.3,961.1 L403,960.1 L403.7,959.1 L404.6,958.1 L405.5,957.1 L406.4,956.1 L407.3,955.1 L408.1,954.1 L408.9,953.1 L409.8,952.1 L410.6,951.1 L411.5,950.1 L412.4,949.1 L413.2,948.1 L414.1,947.1 L414.9,946.1 L415.7,945.1 L416.5,944.1 L417.2,943.1 L417.9,942.1 L418.5,941.1 L419.1,940.1 L419.7,939.1 L420.3,938.1 L420.9,937.1 L421.5,936.1 L422.1,935.1 L422.8,934.1 L423.4,933.1 L424,932.1 L424.6,931.1 L425.1,930.1 L425.6,929.1 L426.1,928.1 L426.5,927.1 L426.8,926.1 L427.1,925.1 L427.3,924.1 L427.5,923.1 L427.8,922.1 L428,921.1 L428.2,920.1 L428.4,919.1 L428.7,918.1 L428.9,917.1 L429.2,916.1 L429.6,915.1 L429.9,914.1 L430.3,913.1 L430.7,912.1 L431.1,911.1 L431.5,910.1 L432,909.1 L432.4,908.1 L432.8,907.1 L433.3,906.1 L433.7,905.1 L434.1,904.1 L434.4,903.1 L434.8,902.1 L435.1,901.1 L435.5,900.1 L435.8,899.1 L436.1,898.1 L436.4,897.1 L436.7,896.1 L437,895.1 L437.3,894.1 L437.6,893.1 L437.8,892.1 L438.1,891.1 L438.4,890.1 L438.7,889.1 L438.9,888.1 L439.2,887.1 L439.4,886.1 L439.7,885.1 L439.9,884.1 L440.2,883.1 L440.4,882.1 L440.7,881.1 L440.9,880.1 L441.2,879.1 L441.4,878.1Z" fill="#B46FFC"/>
<path d="M554.6,859.3 L555.1,860.3 L555.7,861.3 L556.2,862.3 L556.8,863.3 L557.3,864.3 L557.9,865.3 L558.4,866.3 L558.9,867.3 L559.4,868.3 L559.9,869.3 L560.5,870.3 L560.9,871.3 L561.4,872.3 L561.9,873.3 L562.3,874.3 L562.8,875.3 L563.3,876.3 L563.8,877.3 L564.2,878.3 L564.6,879.3 L564.8,880.3 L564.9,881.3 L564.9,882.3 L564.9,883.3 L565,884.3 L565,885.3 L565,886.3 L565,887.3 L565,888.3 L565,889.3 L565,890.3 L564.9,891.3 L564.7,892.3 L564.4,893.3 L564.1,894.3 L563.8,895.3 L563.5,896.3 L563.3,897.3 L563.2,898.3 L563.1,899.3 L563,900.3 L562.9,901.3 L562.8,902.3 L562.7,903.3 L562.6,904.4 L562.6,905.4 L562.6,906.4 L562.6,907.4 L562.7,908.4 L563,909.4 L563.4,910.4 L563.9,911.4 L564.4,912.4 L565,913.4 L565.6,914.4 L566.2,915.4 L566.7,916.4 L567.3,917.4 L568,918.4 L568.7,919.4 L569.5,920.4 L570.4,921.4 L571.2,922.4 L572,923.4 L572.8,924.4 L573.5,925.4 L574,926.4 L574.5,927.4 L574.9,928.4 L575.2,929.4 L575.6,930.4 L575.9,931.4 L576.2,932.4 L576.5,933.4 L576.7,934.4 L576.9,935.4 L577,936.4 L577.1,937.4 L577.1,938.4 L577.1,939.4 L577.1,940.4 L577.1,941.4 L577.1,942.4 L577.1,943.4 L577,944.4 L576.9,945.4 L576.8,946.4 L576.6,947.4 L576.4,948.4 L576.3,949.4 L576.2,950.4 L576.1,951.4 L576.1,952.4 L576.1,953.4 L576.1,954.4 L576.1,955.4 L576.2,956.4 L576.2,957.4 L576.2,958.4 L576.3,959.4 L576.4,960.4 L576.4,961.4 L576.5,962.4 L576.7,963.4 L577,964.4 L577.4,965.4 L577.9,966.4 L578.5,967.4 L579.1,968.4 L579.6,969.4 L580.2,970.4 L580.8,971.4 L581.5,972.4 L582.3,973.4 L583.1,974.4 L583.9,975.4 L584.7,976.4 L585.5,977.4 L586.2,978.4 L586.9,979.4 L587.5,980.4 L588,981.4 L588.5,982.4 L588.9,983.4 L589.3,984.4 L589.6,985.4 L590,986.4 L590.3,987.5 L590.6,988.5 L590.9,989.5 L591.2,990.5 L591.5,991.5 L591.8,992.5 L592.1,993.5 L592.4,994.5 L592.6,995.5 L592.9,996.5 L593.2,997.5 L593.6,998.5 L593.9,999.5 L594.3,1000.5 L594.6,1001.5 L595,1002.5 L595.3,1003.5 L595.6,1004.5 L595.8,1005.5 L596.1,1006.5 L596.2,1007.5 L596.3,1008.5 L596.4,1009.5 L596.4,1010.5 L596.3,1011.5 L596.1,1012.5 L595.9,1013.5 L595.6,1014.5 L595.3,1015.5 L594.9,1016.5 L594.5,1017.5 L594,1018.5 L593.5,1019.5 L593,1020.5 L592.5,1021.5 L591.9,1022.5 L591.3,1023.5 L590.6,1024.5 L589.7,1025.5 L588.8,1026.5 L587.7,1027.5 L586.6,1028.5 L585.5,1029.5 L584.3,1030.5 L583.2,1031.5 L582.1,1032.5 L581.1,1033.5 L580,1034.5 L578.9,1035.5 L577.8,1036.5 L576.7,1037.5 L575.6,1038.5 L574.5,1039.5 L573.4,1040.5 L572.4,1041.5 L571.2,1042.5 L569.9,1043.5 L568.7,1044.5 L567.5,1045.5 L566.5,1046.5 L565.7,1047.5 L565.3,1048.5 L565.1,1049.5 L565,1050.5 L564.9,1051.5 L564.9,1052.5 L564.8,1053.5 L564.7,1054.5 L564.7,1055.5 L564.7,1056.5 L564.6,1057.5 L564.6,1058.5 L564.7,1059.5 L564.8,1060.5 L564.9,1061.5 L565.1,1062.5 L565.4,1063.5 L565.6,1064.5 L566,1065.5 L566.3,1066.5 L566.6,1067.5 L566.9,1068.5 L567.3,1069.5 L567.8,1070.5 L568.3,1071.6 L568.9,1072.6 L569.4,1073.6 L569.8,1074.6 L570,1075.6 L570.1,1076.6 L570.2,1077.6 L570.2,1078.6 L570.3,1079.6 L570.3,1080.6 L570.3,1081.6 L570.2,1082.6 L570,1083.6 L569.6,1084.6 L569.1,1085.6 L568.5,1086.6 L567.8,1087.6 L567.1,1088.6 L566.4,1089.6 L565.7,1090.6 L565.1,1091.6 L564.4,1092.6 L563.7,1093.6 L562.9,1094.6 L562.2,1095.6 L561.4,1096.6 L560.6,1097.6 L559.8,1098.6 L559.1,1099.6 L558.4,1100.6 L557.7,1101.6 L557.1,1102.6 L556.6,1103.6 L556.1,1104.6 L555.6,1105.6 L555.1,1106.6 L554.6,1107.6 L554.6,1107.6 L554.1,1106.6 L553.6,1105.6 L553.1,1104.6 L552.6,1103.6 L552.1,1102.6 L551.5,1101.6 L550.8,1100.6 L550.1,1099.6 L549.4,1098.6 L548.6,1097.6 L547.8,1096.6 L547,1095.6 L546.3,1094.6 L545.5,1093.6 L544.8,1092.6 L544.1,1091.6 L543.5,1090.6 L542.8,1089.6 L542.1,1088.6 L541.4,1087.6 L540.7,1086.6 L540.1,1085.6 L539.6,1084.6 L539.2,1083.6 L539,1082.6 L538.9,1081.6 L538.9,1080.6 L538.9,1079.6 L539,1078.6 L539,1077.6 L539.1,1076.6 L539.2,1075.6 L539.4,1074.6 L539.8,1073.6 L540.3,1072.6 L540.9,1071.6 L541.4,1070.5 L541.9,1069.5 L542.3,1068.5 L542.6,1067.5 L542.9,1066.5 L543.2,1065.5 L543.6,1064.5 L543.8,1063.5 L544.1,1062.5 L544.3,1061.5 L544.4,1060.5 L544.5,1059.5 L544.6,1058.5 L544.6,1057.5 L544.5,1056.5 L544.5,1055.5 L544.5,1054.5 L544.4,1053.5 L544.3,1052.5 L544.3,1051.5 L544.2,1050.5 L544.1,1049.5 L543.9,1048.5 L543.5,1047.5 L542.7,1046.5 L541.7,1045.5 L540.5,1044.5 L539.3,1043.5 L538,1042.5 L536.8,1041.5 L535.8,1040.5 L534.7,1039.5 L533.6,1038.5 L532.5,1037.5 L531.4,1036.5 L530.3,1035.5 L529.2,1034.5 L528.1,1033.5 L527.1,1032.5 L526,1031.5 L524.9,1030.5 L523.7,1029.5 L522.6,1028.5 L521.5,1027.5 L520.4,1026.5 L519.5,1025.5 L518.6,1024.5 L517.9,1023.5 L517.3,1022.5 L516.7,1021.5 L516.2,1020.5 L515.7,1019.5 L515.2,1018.5 L514.7,1017.5 L514.3,1016.5 L513.9,1015.5 L513.6,1014.5 L513.3,1013.5 L513.1,1012.5 L512.9,1011.5 L512.8,1010.5 L512.8,1009.5 L512.9,1008.5 L513,1007.5 L513.1,1006.5 L513.4,1005.5 L513.6,1004.5 L513.9,1003.5 L514.2,1002.5 L514.6,1001.5 L514.9,1000.5 L515.3,999.5 L515.6,998.5 L516,997.5 L516.3,996.5 L516.6,995.5 L516.8,994.5 L517.1,993.5 L517.4,992.5 L517.7,991.5 L518,990.5 L518.3,989.5 L518.6,988.5 L518.9,987.5 L519.2,986.4 L519.6,985.4 L519.9,984.4 L520.3,983.4 L520.7,982.4 L521.2,981.4 L521.7,980.4 L522.3,979.4 L523,978.4 L523.7,977.4 L524.5,976.4 L525.3,975.4 L526.1,974.4 L526.9,973.4 L527.7,972.4 L528.4,971.4 L529,970.4 L529.6,969.4 L530.1,968.4 L530.7,967.4 L531.3,966.4 L531.8,965.4 L532.2,964.4 L532.5,963.4 L532.7,962.4 L532.8,961.4 L532.8,960.4 L532.9,959.4 L533,958.4 L533,957.4 L533,956.4 L533.1,955.4 L533.1,954.4 L533.1,953.4 L533.1,952.4 L533.1,951.4 L533,950.4 L532.9,949.4 L532.8,948.4 L532.6,947.4 L532.4,946.4 L532.3,945.4 L532.2,944.4 L532.1,943.4 L532.1,942.4 L532.1,941.4 L532.1,940.4 L532.1,939.4 L532.1,938.4 L532.1,937.4 L532.2,936.4 L532.3,935.4 L532.5,934.4 L532.7,933.4 L533,932.4 L533.3,931.4 L533.6,930.4 L534,929.4 L534.3,928.4 L534.7,927.4 L535.2,926.4 L535.7,925.4 L536.4,924.4 L537.2,923.4 L538,922.4 L538.8,921.4 L539.7,920.4 L540.5,919.4 L541.2,918.4 L541.9,917.4 L542.5,916.4 L543,915.4 L543.6,914.4 L544.2,913.4 L544.8,912.4 L545.3,911.4 L545.8,910.4 L546.2,909.4 L546.5,908.4 L546.6,907.4 L546.6,906.4 L546.6,905.4 L546.6,904.4 L546.5,903.3 L546.4,902.3 L546.3,901.3 L546.2,900.3 L546.1,899.3 L546,898.3 L545.9,897.3 L545.7,896.3 L545.4,895.3 L545.1,894.3 L544.8,893.3 L544.5,892.3 L544.3,891.3 L544.2,890.3 L544.2,889.3 L544.2,888.3 L544.2,887.3 L544.2,886.3 L544.2,885.3 L544.2,884.3 L544.3,883.3 L544.3,882.3 L544.3,881.3 L544.4,880.3 L544.6,879.3 L545,878.3 L545.4,877.3 L545.9,876.3 L546.4,875.3 L546.9,874.3 L547.3,873.3 L547.8,872.3 L548.3,871.3 L548.7,870.3 L549.3,869.3 L549.8,868.3 L550.3,867.3 L550.8,866.3 L551.3,865.3 L551.9,864.3 L552.4,863.3 L553,862.3 L553.5,861.3 L554.1,860.3 L554.6,859.3Z" fill="#FF57AF"/>
<circle class="d" cx="233" cy="977" r="4.1"/>
<circle class="d" cx="222.5" cy="997.9" r="4.1"/>
<circle class="d" cx="202.6" cy="1013.4" r="4.1"/>
<circle class="d" cx="200.5" cy="1026.9" r="4.1"/>
<circle class="d" cx="206.7" cy="1059.6" r="4.1"/>
<circle class="d" cx="212.4" cy="1101.7" r="4.1"/>
<circle class="d" cx="201.7" cy="1128.5" r="4.1"/>
<circle class="d" cx="214.5" cy="1128.5" r="4.1"/>
<circle class="d" cx="221.2" cy="1128.5" r="4.1"/>
<circle class="d" cx="229.5" cy="1128.5" r="4.1"/>
<circle class="d" cx="236.8" cy="1128.5" r="4.1"/>
<circle class="d" cx="322.7" cy="941.4" r="4.1"/>
<circle class="d" cx="335.3" cy="942.7" r="4.1"/>
<circle class="d" cx="325.7" cy="947.6" r="4.1"/>
<circle class="d" cx="333.1" cy="968.5" r="4.1"/>
<circle class="d" cx="313.7" cy="988.1" r="4.1"/>
<circle class="d" cx="310.9" cy="990.1" r="4.1"/>
<circle class="d" cx="322.7" cy="999.7" r="4.1"/>
<circle class="d" cx="335.5" cy="1024.5" r="4.1"/>
<circle class="d" cx="348.8" cy="1040" r="4.1"/>
<circle class="d" cx="321.5" cy="1059.8" r="4.1"/>
<circle class="d" cx="329.9" cy="1059.8" r="4.1"/>
<circle class="d" cx="340.8" cy="1066.6" r="4.1"/>
<circle class="d" cx="332.2" cy="1086.2" r="4.1"/>
<circle class="d" cx="348.8" cy="1086.2" r="4.1"/>
<circle class="d" cx="308.1" cy="1128.5" r="4.1"/>
<circle class="d" cx="312.6" cy="1128.5" r="4.1"/>
<circle class="d" cx="444.2" cy="908.5" r="4.1"/>
<circle class="d" cx="422.9" cy="926.6" r="4.1"/>
<circle class="d" cx="454.5" cy="940.9" r="4.1"/>
<circle class="d" cx="447" cy="947.3" r="4.1"/>
<circle class="d" cx="448.2" cy="961.7" r="4.1"/>
<circle class="d" cx="462.9" cy="963.8" r="4.1"/>
<circle class="d" cx="425" cy="967.5" r="4.1"/>
<circle class="d" cx="441" cy="967.5" r="4.1"/>
<circle class="d" cx="442.8" cy="976.2" r="4.1"/>
<circle class="d" cx="450.3" cy="978" r="4.1"/>
<circle class="d" cx="424.7" cy="982.8" r="4.1"/>
<circle class="d" cx="432" cy="988.8" r="4.1"/>
<circle class="d" cx="454" cy="1011.9" r="4.1"/>
<circle class="d" cx="462.9" cy="1033.1" r="4.1"/>
<circle class="d" cx="425" cy="1043.9" r="4.1"/>
<circle class="d" cx="454.6" cy="1059.6" r="4.1"/>
<circle class="d" cx="455.7" cy="1060.1" r="4.1"/>
<circle class="d" cx="445.4" cy="1066.8" r="4.1"/>
<circle class="d" cx="448.8" cy="1075.2" r="4.1"/>
<circle class="d" cx="442.6" cy="1075.5" r="4.1"/>
<circle class="d" cx="441.8" cy="1086.3" r="4.1"/>
<circle class="d" cx="458.7" cy="1101.4" r="4.1"/>
<circle class="d" cx="445.2" cy="1128.5" r="4.1"/>
<circle class="d" cx="453.3" cy="1128.5" r="4.1"/>
<circle class="d" cx="556.1" cy="883.1" r="4.1"/>
<circle class="d" cx="558" cy="884.4" r="4.1"/>
<circle class="d" cx="543.9" cy="903.7" r="4.1"/>
<circle class="d" cx="550.3" cy="927.5" r="4.1"/>
<circle class="d" cx="554.2" cy="925.9" r="4.1"/>
<circle class="d" cx="569" cy="938.4" r="4.1"/>
<circle class="d" cx="569.2" cy="939.7" r="4.1"/>
<circle class="d" cx="538.7" cy="946.8" r="4.1"/>
<circle class="d" cx="569.6" cy="954.5" r="4.1"/>
<circle class="d" cx="560.2" cy="958.7" r="4.1"/>
<circle class="d" cx="567.9" cy="972.5" r="4.1"/>
<circle class="d" cx="545.2" cy="975.5" r="4.1"/>
<circle class="d" cx="551" cy="979.2" r="4.1"/>
<circle class="d" cx="549" cy="991.8" r="4.1"/>
<circle class="d" cx="567.7" cy="989.6" r="4.1"/>
<circle class="d" cx="572.2" cy="997.7" r="4.1"/>
<circle class="d" cx="563.8" cy="1006.6" r="4.1"/>
<circle class="d" cx="569" cy="1006.6" r="4.1"/>
<circle class="d" cx="544.8" cy="1009.8" r="4.1"/>
<circle class="d" cx="551.6" cy="1009.8" r="4.1"/>
<circle class="d" cx="577.3" cy="1015.9" r="4.1"/>
<circle class="d" cx="540.7" cy="1017.8" r="4.1"/>
<circle class="d" cx="549.7" cy="1022.3" r="4.1"/>
<circle class="d" cx="560" cy="1027.2" r="4.1"/>
<circle class="d" cx="573.5" cy="1027.6" r="4.1"/>
<circle class="d" cx="562.2" cy="1036.6" r="4.1"/>
<circle class="d" cx="542.6" cy="1048.4" r="4.1"/>
<circle class="d" cx="567.4" cy="1066.7" r="4.1"/>
<circle class="d" cx="546.1" cy="1074.9" r="4.1"/>
<circle class="d" cx="540.9" cy="1086" r="4.1"/>
<circle class="d" cx="565.1" cy="1086" r="4.1"/>
</g>
<line x1="215.3" x2="215.3" y1="1024" y2="1140.8" stroke="#1610F0" stroke-width="3.0"/>
<circle cx="215.3" cy="1082.4" r="8.3" fill="#1414F0"/>
<line x1="328.4" x2="328.4" y1="966.3" y2="1091.8" stroke="#1610F0" stroke-width="3.0"/>
<circle cx="328.4" cy="1028.5" r="8.3" fill="#1414F0"/>
<line x1="441.4" x2="441.4" y1="950.9" y2="1080.9" stroke="#1610F0" stroke-width="3.0"/>
<circle cx="441.4" cy="1015.9" r="8.3" fill="#1414F0"/>
<line x1="554.6" x2="554.6" y1="937.1" y2="1044.6" stroke="#1610F0" stroke-width="3.0"/>
<circle cx="554.6" cy="990.5" r="8.3" fill="#1414F0"/>
<g stroke="#333333" stroke-width="3.4">
<line x1="140.2" x2="147.7" y1="1128.5" y2="1128.5"/>
<line x1="140.2" x2="147.7" y1="1075.5" y2="1075.5"/>
<line x1="140.2" x2="147.7" y1="1022.5" y2="1022.5"/>
<line x1="140.2" x2="147.7" y1="969.5" y2="969.5"/>
<line x1="140.2" x2="147.7" y1="916.5" y2="916.5"/>
<line x1="140.2" x2="147.7" y1="863.5" y2="863.5"/>
<line x1="140.2" x2="147.7" y1="810.5" y2="810.5"/>
<line x1="140.2" x2="147.7" y1="757.5" y2="757.5"/>
<line x1="215.3" x2="215.3" y1="1148.3" y2="1155.8"/>
<line x1="328.4" x2="328.4" y1="1148.3" y2="1155.8"/>
<line x1="441.4" x2="441.4" y1="1148.3" y2="1155.8"/>
<line x1="554.6" x2="554.6" y1="1148.3" y2="1155.8"/>
</g>
<path d="M147.7,712.4 V1148.3 H622" fill="none" stroke="#000" stroke-width="2.8"/>
<g font-family="'Liberation Sans', Arial, Helvetica, sans-serif" font-size="31" fill="#000">
<text x="134.2" y="1139.7" text-anchor="end">0</text>
<text x="134.2" y="1086.7" text-anchor="end">2</text>
<text x="134.2" y="1033.7" text-anchor="end">4</text>
<text x="134.2" y="980.7" text-anchor="end">6</text>
<text x="134.2" y="927.7" text-anchor="end">8</text>
<text x="134.2" y="874.7" text-anchor="end">10</text>
<text x="134.2" y="821.7" text-anchor="end">12</text>
<text x="134.2" y="768.7" text-anchor="end">14</text>
<text x="215.3" y="1183.9" text-anchor="middle" font-size="31.8">AAH</text>
<text x="328.4" y="1183.9" text-anchor="middle" font-size="31.8">AIS</text>
<text x="441.4" y="1183.9" text-anchor="middle" font-size="31.8">MIA</text>
<text x="554.6" y="1183.9" text-anchor="middle" font-size="31.8">ADC</text>
</g>
<text x="384.9" y="1217.9" text-anchor="middle" font-family="'Liberation Sans', Arial, Helvetica, sans-serif" font-weight="bold" font-size="28.9">Stages</text>
<text transform="translate(54.9,933.3) rotate(-90)" text-anchor="middle" font-family="'Liberation Sans', Arial, Helvetica, sans-serif" font-size="28.7">log2 (number of DMRs with</text>
<text transform="translate(85.6,933.3) rotate(-90)" text-anchor="middle" font-family="'Liberation Sans', Arial, Helvetica, sans-serif" font-size="28.7">in transcribed regions)</text>
<text transform="translate(147,696.8) scale(1,1.07)" font-family="'Liberation Sans', Arial, Helvetica, sans-serif" font-size="30" letter-spacing="-0.5" fill="#CD3131">p−value = 0.001064 (Kruskal−Wallis test)</text>
<text x="-2.6" y="660.6" font-family="'DejaVu Sans', 'Liberation Sans', sans-serif" font-size="53" fill="#000" stroke="#000" stroke-width="1.1">c</text>
<text x="640.7" y="742" font-family="'Liberation Sans', Arial, Helvetica, sans-serif" font-size="26.4">Stages</text>
<rect x="641.9" y="758.3" width="27" height="26.9" fill="#EE9D63"/>
<line x1="655.4" x2="655.4" y1="760.2" y2="783.2" stroke="#1010FF" stroke-width="2.6"/>
<circle cx="655.4" cy="771.8" r="8" fill="#1414F0"/>
<text x="682" y="780.3" font-family="'Liberation Sans', Arial, Helvetica, sans-serif" font-size="23.7">AAH</text>
<rect x="641.9" y="786.7" width="27" height="26.9" fill="#60AEFC"/>
<line x1="655.4" x2="655.4" y1="788.6" y2="811.6" stroke="#1010FF" stroke-width="2.6"/>
<circle cx="655.4" cy="800.1" r="8" fill="#1414F0"/>
<text x="682" y="808.7" font-family="'Liberation Sans', Arial, Helvetica, sans-serif" font-size="23.7">AIS</text>
<rect x="641.9" y="815.1" width="27" height="26.9" fill="#B46FFC"/>
<line x1="655.4" x2="655.4" y1="817" y2="840" stroke="#1010FF" stroke-width="2.6"/>
<circle cx="655.4" cy="828.5" r="8" fill="#1414F0"/>
<text x="682" y="837.1" font-family="'Liberation Sans', Arial, Helvetica, sans-serif" font-size="23.7">MIA</text>
<rect x="641.9" y="843.5" width="27" height="26.9" fill="#FF57AF"/>
<line x1="655.4" x2="655.4" y1="845.5" y2="868.5" stroke="#1010FF" stroke-width="2.6"/>
<circle cx="655.4" cy="857" r="8" fill="#1414F0"/>
<text x="682" y="865.5" font-family="'Liberation Sans', Arial, Helvetica, sans-serif" font-size="23.7">ADC</text>
<clipPath id="c3"><rect x="943.3" y="711.6" width="475.2" height="436.7"/></clipPath>
<rect x="943.3" y="711.6" width="475.2" height="436.7" fill="#F8F9FD"/>
<g stroke="#FFFFFF"><line x1="943.3" x2="1418.5" y1="1127.7" y2="1127.7" stroke-width="1.6"/><line x1="943.3" x2="1418.5" y1="1101.2" y2="1101.2" stroke-width="0.9"/><line x1="943.3" x2="1418.5" y1="1074.7" y2="1074.7" stroke-width="1.6"/><line x1="943.3" x2="1418.5" y1="1048.2" y2="1048.2" stroke-width="0.9"/><line x1="943.3" x2="1418.5" y1="1021.7" y2="1021.7" stroke-width="1.6"/><line x1="943.3" x2="1418.5" y1="995.2" y2="995.2" stroke-width="0.9"/><line x1="943.3" x2="1418.5" y1="968.7" y2="968.7" stroke-width="1.6"/><line x1="943.3" x2="1418.5" y1="942.2" y2="942.2" stroke-width="0.9"/><line x1="943.3" x2="1418.5" y1="915.7" y2="915.7" stroke-width="1.6"/><line x1="943.3" x2="1418.5" y1="889.2" y2="889.2" stroke-width="0.9"/><line x1="943.3" x2="1418.5" y1="862.7" y2="862.7" stroke-width="1.6"/><line x1="943.3" x2="1418.5" y1="836.2" y2="836.2" stroke-width="0.9"/><line x1="943.3" x2="1418.5" y1="809.7" y2="809.7" stroke-width="1.6"/><line x1="943.3" x2="1418.5" y1="783.2" y2="783.2" stroke-width="0.9"/><line x1="943.3" x2="1418.5" y1="756.7" y2="756.7" stroke-width="1.6"/><line x1="943.3" x2="1418.5" y1="730.2" y2="730.2" stroke-width="0.9"/><line x1="1010.9" x2="1010.9" y1="711.6" y2="1148.3" stroke-width="1.6"/><line x1="1124.4" x2="1124.4" y1="711.6" y2="1148.3" stroke-width="1.6"/><line x1="1237.5" x2="1237.5" y1="711.6" y2="1148.3" stroke-width="1.6"/><line x1="1351" x2="1351" y1="711.6" y2="1148.3" stroke-width="1.6"/></g>
<g clip-path="url(#c3)">
<path d="M1010.9,795.2 L1011,796.2 L1011.1,797.2 L1011.2,798.2 L1011.3,799.2 L1011.4,800.2 L1011.6,801.2 L1011.7,802.3 L1011.8,803.3 L1011.9,804.3 L1012,805.3 L1012.1,806.3 L1012.3,807.3 L1012.4,808.3 L1012.6,809.3 L1012.7,810.3 L1012.9,811.3 L1013.1,812.3 L1013.3,813.3 L1013.6,814.3 L1013.8,815.3 L1014.1,816.3 L1014.4,817.3 L1014.7,818.3 L1015,819.3 L1015.3,820.3 L1015.6,821.3 L1016,822.3 L1016.3,823.3 L1016.7,824.3 L1017,825.3 L1017.4,826.3 L1017.8,827.3 L1018.3,828.3 L1018.7,829.3 L1019.2,830.3 L1019.7,831.3 L1020.1,832.3 L1020.6,833.3 L1021.1,834.3 L1021.5,835.3 L1022,836.3 L1022.4,837.3 L1022.9,838.3 L1023.3,839.3 L1023.7,840.3 L1024.2,841.3 L1024.6,842.3 L1025.1,843.3 L1025.5,844.3 L1026,845.3 L1026.4,846.3 L1026.8,847.4 L1027.2,848.4 L1027.7,849.4 L1028.1,850.4 L1028.5,851.4 L1028.9,852.4 L1029.4,853.4 L1029.8,854.4 L1030.2,855.4 L1030.6,856.4 L1031,857.4 L1031.4,858.4 L1031.8,859.4 L1032.2,860.4 L1032.5,861.4 L1032.9,862.4 L1033.2,863.4 L1033.5,864.4 L1033.8,865.4 L1034.2,866.4 L1034.5,867.4 L1034.8,868.4 L1035.1,869.4 L1035.4,870.4 L1035.6,871.4 L1035.9,872.4 L1036.1,873.4 L1036.4,874.4 L1036.6,875.4 L1036.8,876.4 L1037,877.4 L1037.1,878.4 L1037.3,879.4 L1037.4,880.4 L1037.6,881.4 L1037.8,882.4 L1037.9,883.4 L1038,884.4 L1038.1,885.4 L1038.2,886.4 L1038.3,887.4 L1038.3,888.4 L1038.3,889.4 L1038.3,890.4 L1038.3,891.4 L1038.2,892.4 L1038.1,893.5 L1038,894.5 L1037.9,895.5 L1037.8,896.5 L1037.7,897.5 L1037.5,898.5 L1037.4,899.5 L1037.2,900.5 L1037,901.5 L1036.9,902.5 L1036.7,903.5 L1036.5,904.5 L1036.3,905.5 L1036.1,906.5 L1035.8,907.5 L1035.6,908.5 L1035.3,909.5 L1034.9,910.5 L1034.6,911.5 L1034.3,912.5 L1034,913.5 L1033.8,914.5 L1033.5,915.5 L1033.3,916.5 L1033.1,917.5 L1032.8,918.5 L1032.6,919.5 L1032.4,920.5 L1032.2,921.5 L1032,922.5 L1031.8,923.5 L1031.6,924.5 L1031.4,925.5 L1031.3,926.5 L1031.1,927.5 L1031,928.5 L1030.8,929.5 L1030.7,930.5 L1030.6,931.5 L1030.4,932.5 L1030.3,933.5 L1030.2,934.5 L1030.1,935.5 L1030,936.5 L1029.9,937.5 L1029.8,938.5 L1029.7,939.6 L1029.7,940.6 L1029.7,941.6 L1029.7,942.6 L1029.7,943.6 L1029.7,944.6 L1029.7,945.6 L1029.7,946.6 L1029.7,947.6 L1029.7,948.6 L1029.7,949.6 L1029.7,950.6 L1029.7,951.6 L1029.7,952.6 L1029.7,953.6 L1029.7,954.6 L1029.7,955.6 L1029.7,956.6 L1029.7,957.6 L1029.7,958.6 L1029.7,959.6 L1029.6,960.6 L1029.6,961.6 L1029.5,962.6 L1029.4,963.6 L1029.3,964.6 L1029.2,965.6 L1029,966.6 L1028.9,967.6 L1028.7,968.6 L1028.6,969.6 L1028.4,970.6 L1028.1,971.6 L1027.9,972.6 L1027.6,973.6 L1027.3,974.6 L1027,975.6 L1026.6,976.6 L1026.3,977.6 L1026,978.6 L1025.6,979.6 L1025.3,980.6 L1025,981.6 L1024.7,982.6 L1024.4,983.6 L1024.1,984.7 L1023.7,985.7 L1023.4,986.7 L1023.1,987.7 L1022.7,988.7 L1022.4,989.7 L1022.1,990.7 L1021.8,991.7 L1021.5,992.7 L1021.2,993.7 L1021,994.7 L1020.7,995.7 L1020.5,996.7 L1020.3,997.7 L1020.1,998.7 L1019.9,999.7 L1019.7,1000.7 L1019.6,1001.7 L1019.4,1002.7 L1019.2,1003.7 L1019.1,1004.7 L1018.9,1005.7 L1018.8,1006.7 L1018.6,1007.7 L1018.5,1008.7 L1018.3,1009.7 L1018.2,1010.7 L1018,1011.7 L1017.9,1012.7 L1017.8,1013.7 L1017.6,1014.7 L1017.6,1015.7 L1017.5,1016.7 L1017.4,1017.7 L1017.3,1018.7 L1017.3,1019.7 L1017.2,1020.7 L1017.2,1021.7 L1017.3,1022.7 L1017.5,1023.7 L1017.7,1024.7 L1018.1,1025.7 L1018.6,1026.7 L1019.1,1027.7 L1019.6,1028.7 L1020.2,1029.7 L1020.9,1030.8 L1021.5,1031.8 L1022.2,1032.8 L1022.8,1033.8 L1023.4,1034.8 L1024,1035.8 L1024.6,1036.8 L1025.2,1037.8 L1025.9,1038.8 L1026.6,1039.8 L1027.4,1040.8 L1028.1,1041.8 L1028.9,1042.8 L1029.6,1043.8 L1030.4,1044.8 L1031.1,1045.8 L1031.9,1046.8 L1032.7,1047.8 L1033.4,1048.8 L1034.2,1049.8 L1034.9,1050.8 L1035.7,1051.8 L1036.5,1052.8 L1037.3,1053.8 L1038.1,1054.8 L1038.9,1055.8 L1039.7,1056.8 L1040.5,1057.8 L1041.2,1058.8 L1041.9,1059.8 L1042.6,1060.8 L1043.2,1061.8 L1043.9,1062.8 L1044.5,1063.8 L1045.1,1064.8 L1045.7,1065.8 L1046.3,1066.8 L1046.9,1067.8 L1047.5,1068.8 L1048,1069.8 L1048.5,1070.8 L1049,1071.8 L1049.4,1072.8 L1049.7,1073.8 L1050,1074.8 L1050.3,1075.8 L1050.6,1076.9 L1050.9,1077.9 L1051.2,1078.9 L1051.4,1079.9 L1051.7,1080.9 L1051.9,1081.9 L1052.1,1082.9 L1052.3,1083.9 L1052.4,1084.9 L1052.5,1085.9 L1052.6,1086.9 L1052.7,1087.9 L1052.7,1088.9 L1052.7,1089.9 L1052.7,1090.9 L1052.6,1091.9 L1052.5,1092.9 L1052.5,1093.9 L1052.4,1094.9 L1052.3,1095.9 L1052.2,1096.9 L1052,1097.9 L1051.9,1098.9 L1051.8,1099.9 L1051.6,1100.9 L1051.5,1101.9 L1051.3,1102.9 L1051,1103.9 L1050.7,1104.9 L1050.4,1105.9 L1050,1106.9 L1049.6,1107.9 L1049.2,1108.9 L1048.8,1109.9 L1048.3,1110.9 L1047.9,1111.9 L1047.5,1112.9 L1047.1,1113.9 L1046.8,1114.9 L1046.4,1115.9 L1046,1116.9 L1045.7,1117.9 L1045.3,1118.9 L1044.9,1119.9 L1044.5,1120.9 L1044.1,1122 L1043.7,1123 L1043.3,1124 L1042.9,1125 L1042.5,1126 L1042,1127 L1041.5,1128 L1041,1129 L1040.5,1130 L1039.9,1131 L1039.3,1132 L1038.7,1133 L1038.1,1134 L1037.4,1135 L1036.8,1136 L1036.3,1137 L1035.7,1138 L1035.2,1139 L1034.8,1140 L1034.4,1141 L1034.2,1142 L1033.9,1143 L1033.7,1144 L1033.5,1145 L1033.2,1146 L1032.9,1147 L1032.6,1148 L1032.1,1149 L1031.6,1150 L1031,1151 L1030.3,1152 L1029.5,1153 L1028.7,1154 L1027.9,1155 L1027,1156 L1026.1,1157 L1025.1,1158 L1024,1159 L1022.9,1160 L1021.6,1161 L1020.3,1162 L1019,1163 L1017.6,1164 L1016.2,1165 L1014.9,1166 L1013.5,1167 L1012.2,1168.1 L1010.9,1169.1 L1010.9,1169.1 L1009.6,1168.1 L1008.3,1167 L1006.9,1166 L1005.6,1165 L1004.2,1164 L1002.8,1163 L1001.5,1162 L1000.2,1161 L998.9,1160 L997.8,1159 L996.7,1158 L995.7,1157 L994.8,1156 L993.9,1155 L993.1,1154 L992.3,1153 L991.5,1152 L990.8,1151 L990.2,1150 L989.7,1149 L989.2,1148 L988.9,1147 L988.6,1146 L988.3,1145 L988.1,1144 L987.9,1143 L987.6,1142 L987.4,1141 L987,1140 L986.6,1139 L986.1,1138 L985.5,1137 L985,1136 L984.4,1135 L983.7,1134 L983.1,1133 L982.5,1132 L981.9,1131 L981.3,1130 L980.8,1129 L980.3,1128 L979.8,1127 L979.3,1126 L978.9,1125 L978.5,1124 L978.1,1123 L977.7,1122 L977.3,1120.9 L976.9,1119.9 L976.5,1118.9 L976.1,1117.9 L975.8,1116.9 L975.4,1115.9 L975,1114.9 L974.7,1113.9 L974.3,1112.9 L973.9,1111.9 L973.5,1110.9 L973,1109.9 L972.6,1108.9 L972.2,1107.9 L971.8,1106.9 L971.4,1105.9 L971.1,1104.9 L970.8,1103.9 L970.5,1102.9 L970.3,1101.9 L970.2,1100.9 L970,1099.9 L969.9,1098.9 L969.8,1097.9 L969.6,1096.9 L969.5,1095.9 L969.4,1094.9 L969.3,1093.9 L969.3,1092.9 L969.2,1091.9 L969.1,1090.9 L969.1,1089.9 L969.1,1088.9 L969.1,1087.9 L969.2,1086.9 L969.3,1085.9 L969.4,1084.9 L969.5,1083.9 L969.7,1082.9 L969.9,1081.9 L970.1,1080.9 L970.4,1079.9 L970.6,1078.9 L970.9,1077.9 L971.2,1076.9 L971.5,1075.8 L971.8,1074.8 L972.1,1073.8 L972.4,1072.8 L972.8,1071.8 L973.3,1070.8 L973.8,1069.8 L974.3,1068.8 L974.9,1067.8 L975.5,1066.8 L976.1,1065.8 L976.7,1064.8 L977.3,1063.8 L977.9,1062.8 L978.6,1061.8 L979.2,1060.8 L979.9,1059.8 L980.6,1058.8 L981.3,1057.8 L982.1,1056.8 L982.9,1055.8 L983.7,1054.8 L984.5,1053.8 L985.3,1052.8 L986.1,1051.8 L986.9,1050.8 L987.6,1049.8 L988.4,1048.8 L989.1,1047.8 L989.9,1046.8 L990.7,1045.8 L991.4,1044.8 L992.2,1043.8 L992.9,1042.8 L993.7,1041.8 L994.4,1040.8 L995.2,1039.8 L995.9,1038.8 L996.6,1037.8 L997.2,1036.8 L997.8,1035.8 L998.4,1034.8 L999,1033.8 L999.6,1032.8 L1000.3,1031.8 L1000.9,1030.8 L1001.6,1029.7 L1002.2,1028.7 L1002.7,1027.7 L1003.2,1026.7 L1003.7,1025.7 L1004.1,1024.7 L1004.3,1023.7 L1004.5,1022.7 L1004.6,1021.7 L1004.6,1020.7 L1004.5,1019.7 L1004.5,1018.7 L1004.4,1017.7 L1004.3,1016.7 L1004.2,1015.7 L1004.2,1014.7 L1004,1013.7 L1003.9,1012.7 L1003.8,1011.7 L1003.6,1010.7 L1003.5,1009.7 L1003.3,1008.7 L1003.2,1007.7 L1003,1006.7 L1002.9,1005.7 L1002.7,1004.7 L1002.6,1003.7 L1002.4,1002.7 L1002.2,1001.7 L1002.1,1000.7 L1001.9,999.7 L1001.7,998.7 L1001.5,997.7 L1001.3,996.7 L1001.1,995.7 L1000.8,994.7 L1000.6,993.7 L1000.3,992.7 L1000,991.7 L999.7,990.7 L999.4,989.7 L999.1,988.7 L998.7,987.7 L998.4,986.7 L998.1,985.7 L997.7,984.7 L997.4,983.6 L997.1,982.6 L996.8,981.6 L996.5,980.6 L996.2,979.6 L995.8,978.6 L995.5,977.6 L995.2,976.6 L994.8,975.6 L994.5,974.6 L994.2,973.6 L993.9,972.6 L993.7,971.6 L993.4,970.6 L993.2,969.6 L993.1,968.6 L992.9,967.6 L992.8,966.6 L992.6,965.6 L992.5,964.6 L992.4,963.6 L992.3,962.6 L992.2,961.6 L992.2,960.6 L992.1,959.6 L992.1,958.6 L992.1,957.6 L992.1,956.6 L992.1,955.6 L992.1,954.6 L992.1,953.6 L992.1,952.6 L992.1,951.6 L992.1,950.6 L992.1,949.6 L992.1,948.6 L992.1,947.6 L992.1,946.6 L992.1,945.6 L992.1,944.6 L992.1,943.6 L992.1,942.6 L992.1,941.6 L992.1,940.6 L992.1,939.6 L992,938.5 L991.9,937.5 L991.8,936.5 L991.7,935.5 L991.6,934.5 L991.5,933.5 L991.4,932.5 L991.2,931.5 L991.1,930.5 L991,929.5 L990.8,928.5 L990.7,927.5 L990.5,926.5 L990.4,925.5 L990.2,924.5 L990,923.5 L989.8,922.5 L989.6,921.5 L989.4,920.5 L989.2,919.5 L989,918.5 L988.7,917.5 L988.5,916.5 L988.3,915.5 L988,914.5 L987.8,913.5 L987.5,912.5 L987.2,911.5 L986.9,910.5 L986.5,909.5 L986.2,908.5 L986,907.5 L985.7,906.5 L985.5,905.5 L985.3,904.5 L985.1,903.5 L984.9,902.5 L984.8,901.5 L984.6,900.5 L984.4,899.5 L984.3,898.5 L984.1,897.5 L984,896.5 L983.9,895.5 L983.8,894.5 L983.7,893.5 L983.6,892.4 L983.5,891.4 L983.5,890.4 L983.5,889.4 L983.5,888.4 L983.5,887.4 L983.6,886.4 L983.7,885.4 L983.8,884.4 L983.9,883.4 L984,882.4 L984.2,881.4 L984.4,880.4 L984.5,879.4 L984.7,878.4 L984.8,877.4 L985,876.4 L985.2,875.4 L985.4,874.4 L985.7,873.4 L985.9,872.4 L986.2,871.4 L986.4,870.4 L986.7,869.4 L987,868.4 L987.3,867.4 L987.6,866.4 L988,865.4 L988.3,864.4 L988.6,863.4 L988.9,862.4 L989.3,861.4 L989.6,860.4 L990,859.4 L990.4,858.4 L990.8,857.4 L991.2,856.4 L991.6,855.4 L992,854.4 L992.4,853.4 L992.9,852.4 L993.3,851.4 L993.7,850.4 L994.1,849.4 L994.6,848.4 L995,847.4 L995.4,846.3 L995.8,845.3 L996.3,844.3 L996.7,843.3 L997.2,842.3 L997.6,841.3 L998.1,840.3 L998.5,839.3 L998.9,838.3 L999.4,837.3 L999.8,836.3 L1000.3,835.3 L1000.7,834.3 L1001.2,833.3 L1001.7,832.3 L1002.1,831.3 L1002.6,830.3 L1003.1,829.3 L1003.5,828.3 L1004,827.3 L1004.4,826.3 L1004.8,825.3 L1005.1,824.3 L1005.5,823.3 L1005.8,822.3 L1006.2,821.3 L1006.5,820.3 L1006.8,819.3 L1007.1,818.3 L1007.4,817.3 L1007.7,816.3 L1008,815.3 L1008.2,814.3 L1008.5,813.3 L1008.7,812.3 L1008.9,811.3 L1009.1,810.3 L1009.2,809.3 L1009.4,808.3 L1009.5,807.3 L1009.7,806.3 L1009.8,805.3 L1009.9,804.3 L1010,803.3 L1010.1,802.3 L1010.2,801.2 L1010.4,800.2 L1010.5,799.2 L1010.6,798.2 L1010.7,797.2 L1010.8,796.2 L1010.9,795.2Z" fill="#EE9D63"/>
<path d="M1124.4,802.7 L1124.5,803.7 L1124.7,804.7 L1124.8,805.7 L1124.9,806.7 L1125.1,807.7 L1125.2,808.7 L1125.3,809.7 L1125.5,810.7 L1125.6,811.7 L1125.8,812.7 L1126,813.7 L1126.2,814.7 L1126.5,815.7 L1126.7,816.7 L1127,817.7 L1127.4,818.7 L1127.7,819.7 L1128.1,820.7 L1128.5,821.7 L1128.9,822.7 L1129.4,823.7 L1129.8,824.7 L1130.3,825.7 L1130.8,826.7 L1131.4,827.7 L1132,828.7 L1132.7,829.7 L1133.4,830.7 L1134.2,831.7 L1135,832.7 L1135.8,833.7 L1136.7,834.7 L1137.5,835.7 L1138.3,836.7 L1139.2,837.7 L1140,838.7 L1140.8,839.7 L1141.7,840.7 L1142.6,841.7 L1143.5,842.7 L1144.4,843.7 L1145.3,844.7 L1146.2,845.7 L1147.1,846.7 L1148,847.7 L1148.8,848.7 L1149.7,849.7 L1150.5,850.7 L1151.3,851.7 L1152.1,852.7 L1152.9,853.7 L1153.7,854.7 L1154.5,855.7 L1155.3,856.7 L1156,857.7 L1156.8,858.7 L1157.5,859.7 L1158.2,860.7 L1158.9,861.7 L1159.5,862.7 L1160.2,863.7 L1160.8,864.7 L1161.4,865.7 L1162,866.7 L1162.7,867.7 L1163.2,868.7 L1163.8,869.7 L1164.2,870.7 L1164.7,871.7 L1165,872.8 L1165.3,873.8 L1165.6,874.8 L1165.8,875.8 L1166.1,876.8 L1166.3,877.8 L1166.4,878.8 L1166.5,879.8 L1166.6,880.8 L1166.5,881.8 L1166.3,882.8 L1166,883.8 L1165.7,884.8 L1165.2,885.8 L1164.7,886.8 L1164.2,887.8 L1163.6,888.8 L1163,889.8 L1162.5,890.8 L1161.9,891.8 L1161.2,892.8 L1160.5,893.8 L1159.7,894.8 L1158.8,895.8 L1158,896.8 L1157,897.8 L1156.1,898.8 L1155.2,899.8 L1154.4,900.8 L1153.5,901.8 L1152.8,902.8 L1152.1,903.8 L1151.4,904.8 L1150.6,905.8 L1149.9,906.8 L1149.2,907.8 L1148.5,908.8 L1147.8,909.8 L1147.2,910.8 L1146.6,911.8 L1146,912.8 L1145.5,913.8 L1145,914.8 L1144.6,915.8 L1144.2,916.8 L1143.7,917.8 L1143.3,918.8 L1142.9,919.8 L1142.5,920.8 L1142.2,921.8 L1141.9,922.8 L1141.7,923.8 L1141.5,924.8 L1141.4,925.8 L1141.4,926.8 L1141.4,927.8 L1141.4,928.8 L1141.5,929.8 L1141.5,930.8 L1141.6,931.8 L1141.7,932.8 L1141.9,933.8 L1142.1,934.8 L1142.4,935.8 L1142.8,936.8 L1143.2,937.8 L1143.7,938.8 L1144.1,939.8 L1144.6,940.8 L1145,941.8 L1145.4,942.8 L1145.9,943.8 L1146.4,944.8 L1146.9,945.8 L1147.4,946.8 L1148,947.8 L1148.6,948.8 L1149.1,949.8 L1149.6,950.8 L1150.1,951.8 L1150.6,952.8 L1151,953.8 L1151.3,954.8 L1151.7,955.8 L1152.1,956.8 L1152.4,957.8 L1152.8,958.8 L1153.1,959.8 L1153.4,960.8 L1153.8,961.8 L1154,962.8 L1154.3,963.8 L1154.5,964.8 L1154.7,965.8 L1154.8,966.8 L1154.9,967.8 L1154.9,968.8 L1154.8,969.8 L1154.6,970.8 L1154.4,971.8 L1154,972.8 L1153.6,973.8 L1153.1,974.8 L1152.6,975.8 L1152,976.8 L1151.4,977.8 L1150.8,978.8 L1150.2,979.8 L1149.6,980.9 L1148.9,981.9 L1148.1,982.9 L1147.2,983.9 L1146.2,984.9 L1145.1,985.9 L1143.9,986.9 L1142.7,987.9 L1141.5,988.9 L1140.3,989.9 L1139.2,990.9 L1138,991.9 L1137,992.9 L1136.1,993.9 L1135.2,994.9 L1134.5,995.9 L1133.8,996.9 L1133.1,997.9 L1132.5,998.9 L1131.8,999.9 L1131.2,1000.9 L1130.7,1001.9 L1130.2,1002.9 L1129.7,1003.9 L1129.3,1004.9 L1128.9,1005.9 L1128.6,1006.9 L1128.2,1007.9 L1127.9,1008.9 L1127.6,1009.9 L1127.4,1010.9 L1127.1,1011.9 L1127,1012.9 L1126.8,1013.9 L1126.8,1014.9 L1126.7,1015.9 L1126.7,1016.9 L1126.7,1017.9 L1126.6,1018.9 L1126.6,1019.9 L1126.6,1020.9 L1126.6,1021.9 L1126.7,1022.9 L1126.8,1023.9 L1127,1024.9 L1127.3,1025.9 L1127.6,1026.9 L1128,1027.9 L1128.4,1028.9 L1128.8,1029.9 L1129.2,1030.9 L1129.6,1031.9 L1130,1032.9 L1130.4,1033.9 L1130.8,1034.9 L1131.2,1035.9 L1131.5,1036.9 L1131.9,1037.9 L1132.3,1038.9 L1132.6,1039.9 L1133,1040.9 L1133.4,1041.9 L1133.8,1042.9 L1134.2,1043.9 L1134.5,1044.9 L1134.8,1045.9 L1135.1,1046.9 L1135.4,1047.9 L1135.6,1048.9 L1135.8,1049.9 L1136.1,1050.9 L1136.3,1051.9 L1136.5,1052.9 L1136.7,1053.9 L1136.9,1054.9 L1137.1,1055.9 L1137.2,1056.9 L1137.4,1057.9 L1137.5,1058.9 L1137.6,1059.9 L1137.6,1060.9 L1137.7,1061.9 L1137.7,1062.9 L1137.6,1063.9 L1137.5,1064.9 L1137.4,1065.9 L1137.3,1066.9 L1137.1,1067.9 L1137,1068.9 L1136.8,1069.9 L1136.6,1070.9 L1136.4,1071.9 L1136.2,1072.9 L1135.9,1073.9 L1135.7,1074.9 L1135.4,1075.9 L1135.1,1076.9 L1134.7,1077.9 L1134.3,1078.9 L1133.8,1079.9 L1133.4,1080.9 L1132.9,1081.9 L1132.4,1082.9 L1131.9,1083.9 L1131.5,1084.9 L1131,1085.9 L1130.7,1086.9 L1130.3,1087.9 L1130,1089 L1129.6,1090 L1129.3,1091 L1128.9,1092 L1128.6,1093 L1128.3,1094 L1128,1095 L1127.7,1096 L1127.4,1097 L1127.1,1098 L1126.9,1099 L1126.7,1100 L1126.5,1101 L1126.3,1102 L1126.2,1103 L1126,1104 L1125.9,1105 L1125.7,1106 L1125.6,1107 L1125.5,1108 L1125.4,1109 L1125.2,1110 L1125.1,1111 L1125,1112 L1125,1113 L1124.9,1114 L1124.8,1115 L1124.7,1116 L1124.7,1117 L1124.6,1118 L1124.6,1119 L1124.5,1120 L1124.5,1121 L1124.5,1122 L1124.4,1123 L1124.4,1124 L1124.4,1124 L1124.4,1123 L1124.3,1122 L1124.3,1121 L1124.3,1120 L1124.2,1119 L1124.2,1118 L1124.1,1117 L1124.1,1116 L1124,1115 L1123.9,1114 L1123.8,1113 L1123.8,1112 L1123.7,1111 L1123.6,1110 L1123.4,1109 L1123.3,1108 L1123.2,1107 L1123.1,1106 L1122.9,1105 L1122.8,1104 L1122.6,1103 L1122.5,1102 L1122.3,1101 L1122.1,1100 L1121.9,1099 L1121.7,1098 L1121.4,1097 L1121.1,1096 L1120.8,1095 L1120.5,1094 L1120.2,1093 L1119.9,1092 L1119.5,1091 L1119.2,1090 L1118.8,1089 L1118.5,1087.9 L1118.1,1086.9 L1117.8,1085.9 L1117.3,1084.9 L1116.9,1083.9 L1116.4,1082.9 L1115.9,1081.9 L1115.4,1080.9 L1115,1079.9 L1114.5,1078.9 L1114.1,1077.9 L1113.7,1076.9 L1113.4,1075.9 L1113.1,1074.9 L1112.9,1073.9 L1112.6,1072.9 L1112.4,1071.9 L1112.2,1070.9 L1112,1069.9 L1111.8,1068.9 L1111.7,1067.9 L1111.5,1066.9 L1111.4,1065.9 L1111.3,1064.9 L1111.2,1063.9 L1111.1,1062.9 L1111.1,1061.9 L1111.2,1060.9 L1111.2,1059.9 L1111.3,1058.9 L1111.4,1057.9 L1111.6,1056.9 L1111.7,1055.9 L1111.9,1054.9 L1112.1,1053.9 L1112.3,1052.9 L1112.5,1051.9 L1112.7,1050.9 L1113,1049.9 L1113.2,1048.9 L1113.4,1047.9 L1113.7,1046.9 L1114,1045.9 L1114.3,1044.9 L1114.6,1043.9 L1115,1042.9 L1115.4,1041.9 L1115.8,1040.9 L1116.2,1039.9 L1116.5,1038.9 L1116.9,1037.9 L1117.3,1036.9 L1117.6,1035.9 L1118,1034.9 L1118.4,1033.9 L1118.8,1032.9 L1119.2,1031.9 L1119.6,1030.9 L1120,1029.9 L1120.4,1028.9 L1120.8,1027.9 L1121.2,1026.9 L1121.5,1025.9 L1121.8,1024.9 L1122,1023.9 L1122.1,1022.9 L1122.2,1021.9 L1122.2,1020.9 L1122.2,1019.9 L1122.2,1018.9 L1122.1,1017.9 L1122.1,1016.9 L1122.1,1015.9 L1122,1014.9 L1122,1013.9 L1121.8,1012.9 L1121.7,1011.9 L1121.4,1010.9 L1121.2,1009.9 L1120.9,1008.9 L1120.6,1007.9 L1120.2,1006.9 L1119.9,1005.9 L1119.5,1004.9 L1119.1,1003.9 L1118.6,1002.9 L1118.1,1001.9 L1117.6,1000.9 L1117,999.9 L1116.3,998.9 L1115.7,997.9 L1115,996.9 L1114.3,995.9 L1113.6,994.9 L1112.7,993.9 L1111.8,992.9 L1110.8,991.9 L1109.6,990.9 L1108.5,989.9 L1107.3,988.9 L1106.1,987.9 L1104.9,986.9 L1103.7,985.9 L1102.6,984.9 L1101.6,983.9 L1100.7,982.9 L1099.9,981.9 L1099.2,980.9 L1098.6,979.8 L1098,978.8 L1097.4,977.8 L1096.8,976.8 L1096.2,975.8 L1095.7,974.8 L1095.2,973.8 L1094.8,972.8 L1094.4,971.8 L1094.2,970.8 L1094,969.8 L1093.9,968.8 L1093.9,967.8 L1094,966.8 L1094.1,965.8 L1094.3,964.8 L1094.5,963.8 L1094.8,962.8 L1095,961.8 L1095.4,960.8 L1095.7,959.8 L1096,958.8 L1096.4,957.8 L1096.7,956.8 L1097.1,955.8 L1097.5,954.8 L1097.8,953.8 L1098.2,952.8 L1098.7,951.8 L1099.2,950.8 L1099.7,949.8 L1100.2,948.8 L1100.8,947.8 L1101.4,946.8 L1101.9,945.8 L1102.4,944.8 L1102.9,943.8 L1103.4,942.8 L1103.8,941.8 L1104.2,940.8 L1104.7,939.8 L1105.1,938.8 L1105.6,937.8 L1106,936.8 L1106.4,935.8 L1106.7,934.8 L1106.9,933.8 L1107.1,932.8 L1107.2,931.8 L1107.3,930.8 L1107.3,929.8 L1107.4,928.8 L1107.4,927.8 L1107.4,926.8 L1107.4,925.8 L1107.3,924.8 L1107.1,923.8 L1106.9,922.8 L1106.6,921.8 L1106.3,920.8 L1105.9,919.8 L1105.5,918.8 L1105.1,917.8 L1104.6,916.8 L1104.2,915.8 L1103.8,914.8 L1103.3,913.8 L1102.8,912.8 L1102.2,911.8 L1101.6,910.8 L1101,909.8 L1100.3,908.8 L1099.6,907.8 L1098.9,906.8 L1098.2,905.8 L1097.4,904.8 L1096.7,903.8 L1096,902.8 L1095.3,901.8 L1094.4,900.8 L1093.6,899.8 L1092.7,898.8 L1091.8,897.8 L1090.8,896.8 L1090,895.8 L1089.1,894.8 L1088.3,893.8 L1087.6,892.8 L1086.9,891.8 L1086.3,890.8 L1085.8,889.8 L1085.2,888.8 L1084.6,887.8 L1084.1,886.8 L1083.6,885.8 L1083.1,884.8 L1082.8,883.8 L1082.5,882.8 L1082.3,881.8 L1082.2,880.8 L1082.3,879.8 L1082.4,878.8 L1082.5,877.8 L1082.7,876.8 L1083,875.8 L1083.2,874.8 L1083.5,873.8 L1083.8,872.8 L1084.1,871.7 L1084.6,870.7 L1085,869.7 L1085.6,868.7 L1086.1,867.7 L1086.8,866.7 L1087.4,865.7 L1088,864.7 L1088.6,863.7 L1089.3,862.7 L1089.9,861.7 L1090.6,860.7 L1091.3,859.7 L1092,858.7 L1092.8,857.7 L1093.5,856.7 L1094.3,855.7 L1095.1,854.7 L1095.9,853.7 L1096.7,852.7 L1097.5,851.7 L1098.3,850.7 L1099.1,849.7 L1100,848.7 L1100.8,847.7 L1101.7,846.7 L1102.6,845.7 L1103.5,844.7 L1104.4,843.7 L1105.3,842.7 L1106.2,841.7 L1107.1,840.7 L1108,839.7 L1108.8,838.7 L1109.6,837.7 L1110.5,836.7 L1111.3,835.7 L1112.1,834.7 L1113,833.7 L1113.8,832.7 L1114.6,831.7 L1115.4,830.7 L1116.1,829.7 L1116.8,828.7 L1117.4,827.7 L1118,826.7 L1118.5,825.7 L1119,824.7 L1119.4,823.7 L1119.9,822.7 L1120.3,821.7 L1120.7,820.7 L1121.1,819.7 L1121.4,818.7 L1121.8,817.7 L1122.1,816.7 L1122.3,815.7 L1122.6,814.7 L1122.8,813.7 L1123,812.7 L1123.2,811.7 L1123.3,810.7 L1123.5,809.7 L1123.6,808.7 L1123.7,807.7 L1123.9,806.7 L1124,805.7 L1124.1,804.7 L1124.3,803.7 L1124.4,802.7Z" fill="#60AEFC"/>
<path d="M1237.5,775.5 L1237.7,776.5 L1237.9,777.5 L1238.1,778.5 L1238.3,779.5 L1238.4,780.5 L1238.6,781.5 L1238.8,782.5 L1239,783.5 L1239.2,784.5 L1239.4,785.5 L1239.6,786.5 L1239.8,787.5 L1240,788.5 L1240.3,789.5 L1240.6,790.5 L1240.9,791.5 L1241.2,792.5 L1241.6,793.5 L1242.1,794.5 L1242.5,795.5 L1243.1,796.5 L1243.6,797.5 L1244.1,798.5 L1244.7,799.5 L1245.3,800.5 L1245.8,801.5 L1246.4,802.5 L1246.9,803.5 L1247.4,804.5 L1247.9,805.5 L1248.5,806.5 L1249,807.5 L1249.5,808.5 L1250,809.5 L1250.5,810.5 L1251,811.5 L1251.5,812.5 L1252,813.5 L1252.5,814.5 L1253,815.5 L1253.5,816.5 L1253.9,817.5 L1254.4,818.5 L1254.8,819.5 L1255.1,820.5 L1255.5,821.5 L1255.9,822.5 L1256.2,823.5 L1256.6,824.5 L1257,825.5 L1257.4,826.5 L1257.8,827.5 L1258.2,828.5 L1258.6,829.5 L1259.1,830.5 L1259.7,831.5 L1260.3,832.5 L1260.9,833.5 L1261.6,834.5 L1262.3,835.5 L1263,836.5 L1263.8,837.5 L1264.5,838.5 L1265.3,839.5 L1266.1,840.5 L1266.8,841.5 L1267.6,842.5 L1268.3,843.5 L1269,844.5 L1269.8,845.5 L1270.6,846.5 L1271.4,847.5 L1272.2,848.5 L1273,849.5 L1273.8,850.5 L1274.5,851.5 L1275.3,852.5 L1275.9,853.5 L1276.5,854.5 L1277,855.5 L1277.4,856.5 L1277.7,857.5 L1278.1,858.5 L1278.4,859.5 L1278.7,860.5 L1279,861.5 L1279.2,862.5 L1279.4,863.5 L1279.5,864.5 L1279.6,865.5 L1279.5,866.5 L1279.3,867.5 L1278.9,868.5 L1278.4,869.5 L1277.8,870.5 L1277.2,871.5 L1276.5,872.5 L1275.8,873.5 L1275.1,874.5 L1274.4,875.5 L1273.9,876.5 L1273.3,877.5 L1272.7,878.5 L1272.1,879.5 L1271.4,880.5 L1270.8,881.5 L1270.1,882.5 L1269.5,883.5 L1268.9,884.5 L1268.2,885.5 L1267.7,886.5 L1267.1,887.5 L1266.6,888.6 L1266.1,889.6 L1265.6,890.6 L1265.1,891.6 L1264.7,892.6 L1264.2,893.6 L1263.8,894.6 L1263.4,895.6 L1263.1,896.6 L1262.8,897.6 L1262.6,898.6 L1262.4,899.6 L1262.2,900.6 L1262,901.6 L1261.8,902.6 L1261.7,903.6 L1261.6,904.6 L1261.6,905.6 L1261.6,906.6 L1261.6,907.6 L1261.8,908.6 L1262,909.6 L1262.3,910.6 L1262.6,911.6 L1262.9,912.6 L1263.2,913.6 L1263.6,914.6 L1263.9,915.6 L1264.2,916.6 L1264.5,917.6 L1264.8,918.6 L1265.1,919.6 L1265.5,920.6 L1265.8,921.6 L1266.2,922.6 L1266.6,923.6 L1266.9,924.6 L1267.3,925.6 L1267.6,926.6 L1268,927.6 L1268.3,928.6 L1268.6,929.6 L1268.9,930.6 L1269.1,931.6 L1269.4,932.6 L1269.7,933.6 L1269.9,934.6 L1270.2,935.6 L1270.5,936.6 L1270.8,937.6 L1271,938.6 L1271.3,939.6 L1271.6,940.6 L1272,941.6 L1272.3,942.6 L1272.7,943.6 L1273.1,944.6 L1273.6,945.6 L1274.1,946.6 L1274.6,947.6 L1275.1,948.6 L1275.6,949.6 L1276.1,950.6 L1276.5,951.6 L1276.9,952.6 L1277.2,953.6 L1277.4,954.6 L1277.6,955.6 L1277.7,956.6 L1277.9,957.6 L1278,958.6 L1278.2,959.6 L1278.3,960.6 L1278.4,961.6 L1278.5,962.6 L1278.6,963.6 L1278.6,964.6 L1278.7,965.6 L1278.7,966.6 L1278.6,967.6 L1278.5,968.6 L1278.4,969.6 L1278.2,970.6 L1278,971.6 L1277.7,972.6 L1277.5,973.6 L1277.3,974.6 L1277,975.6 L1276.6,976.6 L1276.2,977.6 L1275.7,978.6 L1275.2,979.6 L1274.6,980.6 L1274.1,981.6 L1273.5,982.6 L1273,983.6 L1272.5,984.6 L1272,985.6 L1271.5,986.6 L1271.1,987.6 L1270.7,988.6 L1270.3,989.6 L1269.9,990.6 L1269.5,991.6 L1269.1,992.6 L1268.7,993.6 L1268.3,994.6 L1268,995.6 L1267.6,996.6 L1267.3,997.6 L1267,998.6 L1266.7,999.6 L1266.4,1000.6 L1266.2,1001.6 L1266,1002.6 L1265.8,1003.6 L1265.6,1004.6 L1265.5,1005.6 L1265.3,1006.6 L1265.2,1007.6 L1265,1008.6 L1264.8,1009.6 L1264.6,1010.6 L1264.4,1011.6 L1264.1,1012.7 L1263.8,1013.7 L1263.5,1014.7 L1263.1,1015.7 L1262.6,1016.7 L1262.1,1017.7 L1261.5,1018.7 L1261,1019.7 L1260.3,1020.7 L1259.7,1021.7 L1259,1022.7 L1258.4,1023.7 L1257.7,1024.7 L1257,1025.7 L1256.3,1026.7 L1255.6,1027.7 L1254.8,1028.7 L1254,1029.7 L1253.2,1030.7 L1252.3,1031.7 L1251.4,1032.7 L1250.5,1033.7 L1249.6,1034.7 L1248.8,1035.7 L1248,1036.7 L1247.2,1037.7 L1246.5,1038.7 L1245.9,1039.7 L1245.4,1040.7 L1244.9,1041.7 L1244.4,1042.7 L1243.9,1043.7 L1243.5,1044.7 L1243.1,1045.7 L1242.7,1046.7 L1242.3,1047.7 L1241.9,1048.7 L1241.5,1049.7 L1241.1,1050.7 L1240.8,1051.7 L1240.4,1052.7 L1240.1,1053.7 L1239.7,1054.7 L1239.4,1055.7 L1239.1,1056.7 L1238.9,1057.7 L1238.6,1058.7 L1238.4,1059.7 L1238.3,1060.7 L1238.1,1061.7 L1237.9,1062.7 L1237.8,1063.7 L1237.7,1064.7 L1237.5,1065.7 L1237.5,1065.7 L1237.3,1064.7 L1237.2,1063.7 L1237.1,1062.7 L1236.9,1061.7 L1236.7,1060.7 L1236.6,1059.7 L1236.4,1058.7 L1236.1,1057.7 L1235.9,1056.7 L1235.6,1055.7 L1235.3,1054.7 L1234.9,1053.7 L1234.6,1052.7 L1234.2,1051.7 L1233.9,1050.7 L1233.5,1049.7 L1233.1,1048.7 L1232.7,1047.7 L1232.3,1046.7 L1231.9,1045.7 L1231.5,1044.7 L1231.1,1043.7 L1230.6,1042.7 L1230.1,1041.7 L1229.6,1040.7 L1229.1,1039.7 L1228.5,1038.7 L1227.8,1037.7 L1227,1036.7 L1226.2,1035.7 L1225.4,1034.7 L1224.5,1033.7 L1223.6,1032.7 L1222.7,1031.7 L1221.8,1030.7 L1221,1029.7 L1220.2,1028.7 L1219.4,1027.7 L1218.7,1026.7 L1218,1025.7 L1217.3,1024.7 L1216.6,1023.7 L1216,1022.7 L1215.3,1021.7 L1214.7,1020.7 L1214,1019.7 L1213.5,1018.7 L1212.9,1017.7 L1212.4,1016.7 L1211.9,1015.7 L1211.5,1014.7 L1211.2,1013.7 L1210.9,1012.7 L1210.6,1011.6 L1210.4,1010.6 L1210.2,1009.6 L1210,1008.6 L1209.8,1007.6 L1209.7,1006.6 L1209.5,1005.6 L1209.4,1004.6 L1209.2,1003.6 L1209,1002.6 L1208.8,1001.6 L1208.6,1000.6 L1208.3,999.6 L1208,998.6 L1207.7,997.6 L1207.4,996.6 L1207,995.6 L1206.7,994.6 L1206.3,993.6 L1205.9,992.6 L1205.5,991.6 L1205.1,990.6 L1204.7,989.6 L1204.3,988.6 L1203.9,987.6 L1203.5,986.6 L1203,985.6 L1202.5,984.6 L1202,983.6 L1201.5,982.6 L1200.9,981.6 L1200.4,980.6 L1199.8,979.6 L1199.3,978.6 L1198.8,977.6 L1198.4,976.6 L1198,975.6 L1197.7,974.6 L1197.5,973.6 L1197.3,972.6 L1197,971.6 L1196.8,970.6 L1196.6,969.6 L1196.5,968.6 L1196.4,967.6 L1196.3,966.6 L1196.3,965.6 L1196.4,964.6 L1196.4,963.6 L1196.5,962.6 L1196.6,961.6 L1196.7,960.6 L1196.8,959.6 L1197,958.6 L1197.1,957.6 L1197.3,956.6 L1197.4,955.6 L1197.6,954.6 L1197.8,953.6 L1198.1,952.6 L1198.5,951.6 L1198.9,950.6 L1199.4,949.6 L1199.9,948.6 L1200.4,947.6 L1200.9,946.6 L1201.4,945.6 L1201.9,944.6 L1202.3,943.6 L1202.7,942.6 L1203,941.6 L1203.4,940.6 L1203.7,939.6 L1204,938.6 L1204.2,937.6 L1204.5,936.6 L1204.8,935.6 L1205.1,934.6 L1205.3,933.6 L1205.6,932.6 L1205.9,931.6 L1206.1,930.6 L1206.4,929.6 L1206.7,928.6 L1207,927.6 L1207.4,926.6 L1207.7,925.6 L1208.1,924.6 L1208.4,923.6 L1208.8,922.6 L1209.2,921.6 L1209.5,920.6 L1209.9,919.6 L1210.2,918.6 L1210.5,917.6 L1210.8,916.6 L1211.1,915.6 L1211.4,914.6 L1211.8,913.6 L1212.1,912.6 L1212.4,911.6 L1212.7,910.6 L1213,909.6 L1213.2,908.6 L1213.4,907.6 L1213.4,906.6 L1213.4,905.6 L1213.4,904.6 L1213.3,903.6 L1213.2,902.6 L1213,901.6 L1212.8,900.6 L1212.6,899.6 L1212.4,898.6 L1212.2,897.6 L1211.9,896.6 L1211.6,895.6 L1211.2,894.6 L1210.8,893.6 L1210.3,892.6 L1209.9,891.6 L1209.4,890.6 L1208.9,889.6 L1208.4,888.6 L1207.9,887.5 L1207.3,886.5 L1206.8,885.5 L1206.1,884.5 L1205.5,883.5 L1204.9,882.5 L1204.2,881.5 L1203.6,880.5 L1202.9,879.5 L1202.3,878.5 L1201.7,877.5 L1201.1,876.5 L1200.6,875.5 L1199.9,874.5 L1199.2,873.5 L1198.5,872.5 L1197.8,871.5 L1197.2,870.5 L1196.6,869.5 L1196.1,868.5 L1195.7,867.5 L1195.5,866.5 L1195.4,865.5 L1195.5,864.5 L1195.6,863.5 L1195.8,862.5 L1196,861.5 L1196.3,860.5 L1196.6,859.5 L1196.9,858.5 L1197.3,857.5 L1197.6,856.5 L1198,855.5 L1198.5,854.5 L1199.1,853.5 L1199.7,852.5 L1200.5,851.5 L1201.2,850.5 L1202,849.5 L1202.8,848.5 L1203.6,847.5 L1204.4,846.5 L1205.2,845.5 L1206,844.5 L1206.7,843.5 L1207.4,842.5 L1208.2,841.5 L1208.9,840.5 L1209.7,839.5 L1210.5,838.5 L1211.2,837.5 L1212,836.5 L1212.7,835.5 L1213.4,834.5 L1214.1,833.5 L1214.7,832.5 L1215.3,831.5 L1215.9,830.5 L1216.4,829.5 L1216.8,828.5 L1217.2,827.5 L1217.6,826.5 L1218,825.5 L1218.4,824.5 L1218.8,823.5 L1219.1,822.5 L1219.5,821.5 L1219.9,820.5 L1220.2,819.5 L1220.6,818.5 L1221.1,817.5 L1221.5,816.5 L1222,815.5 L1222.5,814.5 L1223,813.5 L1223.5,812.5 L1224,811.5 L1224.5,810.5 L1225,809.5 L1225.5,808.5 L1226,807.5 L1226.5,806.5 L1227.1,805.5 L1227.6,804.5 L1228.1,803.5 L1228.6,802.5 L1229.2,801.5 L1229.7,800.5 L1230.3,799.5 L1230.9,798.5 L1231.4,797.5 L1231.9,796.5 L1232.5,795.5 L1232.9,794.5 L1233.4,793.5 L1233.8,792.5 L1234.1,791.5 L1234.4,790.5 L1234.7,789.5 L1235,788.5 L1235.2,787.5 L1235.4,786.5 L1235.6,785.5 L1235.8,784.5 L1236,783.5 L1236.2,782.5 L1236.4,781.5 L1236.6,780.5 L1236.7,779.5 L1236.9,778.5 L1237.1,777.5 L1237.3,776.5 L1237.5,775.5Z" fill="#B46FFC"/>
<path d="M1351,803.4 L1351.3,804.5 L1351.7,805.5 L1352,806.5 L1352.3,807.5 L1352.7,808.5 L1353.2,809.5 L1353.7,810.5 L1354.4,811.5 L1355.2,812.5 L1356.1,813.5 L1356.9,814.5 L1357.7,815.5 L1358.5,816.5 L1359.4,817.5 L1360.3,818.5 L1361.2,819.5 L1361.9,820.5 L1362.4,821.5 L1362.7,822.5 L1362.7,823.5 L1362.7,824.5 L1362.7,825.5 L1362.7,826.5 L1362.8,827.5 L1362.8,828.5 L1362.8,829.5 L1362.7,830.5 L1362.6,831.5 L1362.5,832.5 L1362.3,833.5 L1362.1,834.5 L1362,835.5 L1361.8,836.5 L1361.7,837.5 L1361.6,838.6 L1361.5,839.6 L1361.4,840.6 L1361.3,841.6 L1361.2,842.6 L1361.1,843.6 L1361,844.6 L1360.9,845.6 L1360.8,846.6 L1360.8,847.6 L1360.7,848.6 L1360.6,849.6 L1360.6,850.6 L1360.5,851.6 L1360.5,852.6 L1360.6,853.6 L1360.7,854.6 L1360.9,855.6 L1361.2,856.6 L1361.6,857.6 L1362,858.6 L1362.4,859.6 L1362.8,860.6 L1363.2,861.6 L1363.6,862.6 L1363.9,863.6 L1364.2,864.6 L1364.5,865.6 L1364.9,866.6 L1365.2,867.6 L1365.6,868.6 L1366,869.6 L1366.3,870.6 L1366.8,871.7 L1367.2,872.7 L1367.7,873.7 L1368.2,874.7 L1368.7,875.7 L1369.2,876.7 L1369.6,877.7 L1370,878.7 L1370.3,879.7 L1370.5,880.7 L1370.7,881.7 L1370.9,882.7 L1371.1,883.7 L1371.2,884.7 L1371.4,885.7 L1371.6,886.7 L1371.8,887.7 L1372,888.7 L1372.1,889.7 L1372.3,890.7 L1372.5,891.7 L1372.7,892.7 L1372.9,893.7 L1373.2,894.7 L1373.6,895.7 L1374.4,896.7 L1375.7,897.7 L1377.2,898.7 L1378.8,899.7 L1380.4,900.7 L1381.9,901.7 L1383.3,902.7 L1384.8,903.7 L1386.3,904.7 L1387.8,905.8 L1389.2,906.8 L1390.3,907.8 L1391,908.8 L1391.5,909.8 L1391.9,910.8 L1392.3,911.8 L1392.7,912.8 L1392.9,913.8 L1393.1,914.8 L1393.1,915.8 L1393.1,916.8 L1392.9,917.8 L1392.6,918.8 L1392.3,919.8 L1391.9,920.8 L1391.4,921.8 L1391,922.8 L1390.5,923.8 L1390.1,924.8 L1389.6,925.8 L1388.9,926.8 L1388.3,927.8 L1387.6,928.8 L1386.8,929.8 L1386,930.8 L1385.3,931.8 L1384.5,932.8 L1383.8,933.8 L1383.1,934.8 L1382.3,935.8 L1381.6,936.8 L1380.9,937.8 L1380.1,938.9 L1379.3,939.9 L1378.5,940.9 L1377.6,941.9 L1376.7,942.9 L1375.6,943.9 L1374.5,944.9 L1373.3,945.9 L1372.1,946.9 L1370.9,947.9 L1369.8,948.9 L1368.6,949.9 L1367.4,950.9 L1366.1,951.9 L1364.9,952.9 L1363.8,953.9 L1362.9,954.9 L1362.4,955.9 L1362.1,956.9 L1361.9,957.9 L1361.7,958.9 L1361.6,959.9 L1361.4,960.9 L1361.2,961.9 L1361,962.9 L1360.8,963.9 L1360.6,964.9 L1360.4,965.9 L1360.1,966.9 L1359.9,967.9 L1359.5,968.9 L1359.1,969.9 L1358.4,970.9 L1357.6,971.9 L1356.7,973 L1355.8,974 L1355,975 L1354.4,976 L1354,977 L1353.5,978 L1353.2,979 L1352.9,980 L1352.6,981 L1352.3,982 L1352.1,983 L1351.8,984 L1351.6,985 L1351.4,986 L1351.2,987 L1351.1,988 L1351,989 L1351,990 L1351,991 L1351,992 L1351,993 L1351,994 L1351,995 L1351,996 L1351,997 L1351,998 L1351,999 L1351,1000 L1351,1001 L1351,1002 L1351,1003 L1351,1004 L1351,1005 L1351,1006.1 L1351,1007.1 L1351.2,1008.1 L1351.5,1009.1 L1351.8,1010.1 L1352.2,1011.1 L1352.5,1012.1 L1352.9,1013.1 L1353.2,1014.1 L1353.5,1015.1 L1353.9,1016.1 L1354.2,1017.1 L1354.6,1018.1 L1355,1019.1 L1355.3,1020.1 L1355.6,1021.1 L1355.8,1022.1 L1356,1023.1 L1356,1024.1 L1356,1025.1 L1355.8,1026.1 L1355.5,1027.1 L1355.2,1028.1 L1354.8,1029.1 L1354.4,1030.1 L1354,1031.1 L1353.6,1032.1 L1353.3,1033.1 L1353,1034.1 L1352.7,1035.1 L1352.5,1036.1 L1352.2,1037.1 L1352,1038.1 L1351.7,1039.1 L1351.5,1040.2 L1351.2,1041.2 L1351,1042.2 L1351,1042.2 L1350.8,1041.2 L1350.5,1040.2 L1350.3,1039.1 L1350,1038.1 L1349.8,1037.1 L1349.5,1036.1 L1349.3,1035.1 L1349,1034.1 L1348.7,1033.1 L1348.4,1032.1 L1348,1031.1 L1347.6,1030.1 L1347.2,1029.1 L1346.8,1028.1 L1346.5,1027.1 L1346.2,1026.1 L1346,1025.1 L1346,1024.1 L1346,1023.1 L1346.2,1022.1 L1346.4,1021.1 L1346.7,1020.1 L1347,1019.1 L1347.4,1018.1 L1347.8,1017.1 L1348.1,1016.1 L1348.5,1015.1 L1348.8,1014.1 L1349.1,1013.1 L1349.5,1012.1 L1349.8,1011.1 L1350.2,1010.1 L1350.5,1009.1 L1350.8,1008.1 L1351,1007.1 L1351,1006.1 L1351,1005 L1351,1004 L1351,1003 L1351,1002 L1351,1001 L1351,1000 L1351,999 L1351,998 L1351,997 L1351,996 L1351,995 L1351,994 L1351,993 L1351,992 L1351,991 L1351,990 L1351,989 L1350.9,988 L1350.8,987 L1350.6,986 L1350.4,985 L1350.2,984 L1349.9,983 L1349.7,982 L1349.4,981 L1349.1,980 L1348.8,979 L1348.5,978 L1348,977 L1347.6,976 L1347,975 L1346.2,974 L1345.3,973 L1344.4,971.9 L1343.6,970.9 L1342.9,969.9 L1342.5,968.9 L1342.1,967.9 L1341.9,966.9 L1341.6,965.9 L1341.4,964.9 L1341.2,963.9 L1341,962.9 L1340.8,961.9 L1340.6,960.9 L1340.4,959.9 L1340.3,958.9 L1340.1,957.9 L1339.9,956.9 L1339.6,955.9 L1339.1,954.9 L1338.2,953.9 L1337.1,952.9 L1335.9,951.9 L1334.6,950.9 L1333.4,949.9 L1332.2,948.9 L1331.1,947.9 L1329.9,946.9 L1328.7,945.9 L1327.5,944.9 L1326.4,943.9 L1325.3,942.9 L1324.4,941.9 L1323.5,940.9 L1322.7,939.9 L1321.9,938.9 L1321.1,937.8 L1320.4,936.8 L1319.7,935.8 L1318.9,934.8 L1318.2,933.8 L1317.5,932.8 L1316.7,931.8 L1316,930.8 L1315.2,929.8 L1314.4,928.8 L1313.7,927.8 L1313.1,926.8 L1312.4,925.8 L1311.9,924.8 L1311.5,923.8 L1311,922.8 L1310.6,921.8 L1310.1,920.8 L1309.7,919.8 L1309.4,918.8 L1309.1,917.8 L1308.9,916.8 L1308.9,915.8 L1308.9,914.8 L1309.1,913.8 L1309.3,912.8 L1309.7,911.8 L1310.1,910.8 L1310.5,909.8 L1311,908.8 L1311.7,907.8 L1312.8,906.8 L1314.2,905.8 L1315.7,904.7 L1317.2,903.7 L1318.7,902.7 L1320.1,901.7 L1321.6,900.7 L1323.2,899.7 L1324.8,898.7 L1326.3,897.7 L1327.6,896.7 L1328.4,895.7 L1328.8,894.7 L1329.1,893.7 L1329.3,892.7 L1329.5,891.7 L1329.7,890.7 L1329.9,889.7 L1330,888.7 L1330.2,887.7 L1330.4,886.7 L1330.6,885.7 L1330.8,884.7 L1330.9,883.7 L1331.1,882.7 L1331.3,881.7 L1331.5,880.7 L1331.7,879.7 L1332,878.7 L1332.4,877.7 L1332.8,876.7 L1333.3,875.7 L1333.8,874.7 L1334.3,873.7 L1334.8,872.7 L1335.2,871.7 L1335.7,870.6 L1336,869.6 L1336.4,868.6 L1336.8,867.6 L1337.1,866.6 L1337.5,865.6 L1337.8,864.6 L1338.1,863.6 L1338.4,862.6 L1338.8,861.6 L1339.2,860.6 L1339.6,859.6 L1340,858.6 L1340.4,857.6 L1340.8,856.6 L1341.1,855.6 L1341.3,854.6 L1341.4,853.6 L1341.5,852.6 L1341.5,851.6 L1341.4,850.6 L1341.4,849.6 L1341.3,848.6 L1341.2,847.6 L1341.2,846.6 L1341.1,845.6 L1341,844.6 L1340.9,843.6 L1340.8,842.6 L1340.7,841.6 L1340.6,840.6 L1340.5,839.6 L1340.4,838.6 L1340.3,837.5 L1340.2,836.5 L1340,835.5 L1339.9,834.5 L1339.7,833.5 L1339.5,832.5 L1339.4,831.5 L1339.3,830.5 L1339.2,829.5 L1339.2,828.5 L1339.2,827.5 L1339.3,826.5 L1339.3,825.5 L1339.3,824.5 L1339.3,823.5 L1339.3,822.5 L1339.6,821.5 L1340.1,820.5 L1340.8,819.5 L1341.7,818.5 L1342.6,817.5 L1343.5,816.5 L1344.3,815.5 L1345.1,814.5 L1345.9,813.5 L1346.8,812.5 L1347.6,811.5 L1348.3,810.5 L1348.8,809.5 L1349.3,808.5 L1349.7,807.5 L1350,806.5 L1350.3,805.5 L1350.7,804.5 L1351,803.4Z" fill="#FF57AF"/>
<circle class="d" cx="1014.1" cy="869.8" r="4.1"/>
<circle class="d" cx="1016" cy="878.4" r="4.1"/>
<circle class="d" cx="1021.5" cy="900.1" r="4.1"/>
<circle class="d" cx="1013.3" cy="920.6" r="4.1"/>
<circle class="d" cx="993.6" cy="969.5" r="4.1"/>
<circle class="d" cx="998.3" cy="975" r="4.1"/>
<circle class="d" cx="989.6" cy="1075.2" r="4.1"/>
<circle class="d" cx="992.3" cy="1075.2" r="4.1"/>
<circle class="d" cx="1020.1" cy="1085.8" r="4.1"/>
<circle class="d" cx="1031" cy="1085.8" r="4.1"/>
<circle class="d" cx="998.3" cy="1127.7" r="4.1"/>
<circle class="d" cx="1011.7" cy="1127.7" r="4.1"/>
<circle class="d" cx="1016.5" cy="1127.7" r="4.1"/>
<circle class="d" cx="1114.8" cy="850.3" r="4.1"/>
<circle class="d" cx="1127.3" cy="864.3" r="4.1"/>
<circle class="d" cx="1141.2" cy="871.2" r="4.1"/>
<circle class="d" cx="1127.3" cy="873.1" r="4.1"/>
<circle class="d" cx="1127.3" cy="881.5" r="4.1"/>
<circle class="d" cx="1120.6" cy="894.1" r="4.1"/>
<circle class="d" cx="1110.7" cy="897" r="4.1"/>
<circle class="d" cx="1141.2" cy="898.5" r="4.1"/>
<circle class="d" cx="1102.6" cy="928.7" r="4.1"/>
<circle class="d" cx="1139.4" cy="953.5" r="4.1"/>
<circle class="d" cx="1114.5" cy="959.8" r="4.1"/>
<circle class="d" cx="1116.3" cy="970.4" r="4.1"/>
<circle class="d" cx="1108.9" cy="981" r="4.1"/>
<circle class="d" cx="1111" cy="983.7" r="4.1"/>
<circle class="d" cx="1128.8" cy="1059.6" r="4.1"/>
<circle class="d" cx="1140.9" cy="1075.3" r="4.1"/>
<circle class="d" cx="1240.1" cy="816.4" r="4.1"/>
<circle class="d" cx="1221.8" cy="831.7" r="4.1"/>
<circle class="d" cx="1247.3" cy="847.6" r="4.1"/>
<circle class="d" cx="1217.5" cy="861.4" r="4.1"/>
<circle class="d" cx="1218.2" cy="864" r="4.1"/>
<circle class="d" cx="1232.2" cy="870" r="4.1"/>
<circle class="d" cx="1247.6" cy="882.7" r="4.1"/>
<circle class="d" cx="1250" cy="887.9" r="4.1"/>
<circle class="d" cx="1255.7" cy="901.4" r="4.1"/>
<circle class="d" cx="1251.5" cy="924.9" r="4.1"/>
<circle class="d" cx="1243.7" cy="931" r="4.1"/>
<circle class="d" cx="1221.2" cy="949.1" r="4.1"/>
<circle class="d" cx="1244.7" cy="952.9" r="4.1"/>
<circle class="d" cx="1216.2" cy="965" r="4.1"/>
<circle class="d" cx="1223.8" cy="965.7" r="4.1"/>
<circle class="d" cx="1222.1" cy="968.3" r="4.1"/>
<circle class="d" cx="1228.9" cy="990.8" r="4.1"/>
<circle class="d" cx="1236.9" cy="987.9" r="4.1"/>
<circle class="d" cx="1245.2" cy="988.8" r="4.1"/>
<circle class="d" cx="1244.3" cy="1013.4" r="4.1"/>
<circle class="d" cx="1222.1" cy="1019.7" r="4.1"/>
<circle class="d" cx="1224.7" cy="1024.9" r="4.1"/>
<circle class="d" cx="1352.1" cy="824.7" r="4.1"/>
<circle class="d" cx="1358.8" cy="826.1" r="4.1"/>
<circle class="d" cx="1356.2" cy="839" r="4.1"/>
<circle class="d" cx="1341.4" cy="846.6" r="4.1"/>
<circle class="d" cx="1365.5" cy="860.6" r="4.1"/>
<circle class="d" cx="1346.7" cy="865.3" r="4.1"/>
<circle class="d" cx="1365.5" cy="875.5" r="4.1"/>
<circle class="d" cx="1341.2" cy="880" r="4.1"/>
<circle class="d" cx="1336.4" cy="886.2" r="4.1"/>
<circle class="d" cx="1344.6" cy="889.2" r="4.1"/>
<circle class="d" cx="1357.9" cy="893.3" r="4.1"/>
<circle class="d" cx="1347" cy="901.5" r="4.1"/>
<circle class="d" cx="1370.8" cy="904.1" r="4.1"/>
<circle class="d" cx="1367.5" cy="909" r="4.1"/>
<circle class="d" cx="1333.4" cy="909.6" r="4.1"/>
<circle class="d" cx="1359.6" cy="912.7" r="4.1"/>
<circle class="d" cx="1335.6" cy="915" r="4.1"/>
<circle class="d" cx="1370.6" cy="918.1" r="4.1"/>
<circle class="d" cx="1339.5" cy="920.6" r="4.1"/>
<circle class="d" cx="1350.4" cy="925" r="4.1"/>
<circle class="d" cx="1354.3" cy="930.6" r="4.1"/>
<circle class="d" cx="1370" cy="926.5" r="4.1"/>
<circle class="d" cx="1367" cy="932.3" r="4.1"/>
<circle class="d" cx="1333" cy="934.2" r="4.1"/>
<circle class="d" cx="1332.5" cy="943.5" r="4.1"/>
<circle class="d" cx="1346.7" cy="948" r="4.1"/>
<circle class="d" cx="1363.3" cy="944.9" r="4.1"/>
<circle class="d" cx="1369.4" cy="944.4" r="4.1"/>
<circle class="d" cx="1336.6" cy="964.5" r="4.1"/>
<circle class="d" cx="1345.6" cy="970.2" r="4.1"/>
<circle class="d" cx="1364.6" cy="1024.6" r="4.1"/>
</g>
<line x1="1010.9" x2="1010.9" y1="916.7" y2="1117" stroke="#1610F0" stroke-width="2.1"/>
<circle cx="1010.9" cy="1016.8" r="8.3" fill="#1414F0"/>
<line x1="1124.4" x2="1124.4" y1="865.8" y2="1001.7" stroke="#1610F0" stroke-width="2.1"/>
<circle cx="1124.4" cy="933.9" r="8.3" fill="#1414F0"/>
<line x1="1237.5" x2="1237.5" y1="863.7" y2="988.6" stroke="#1610F0" stroke-width="2.1"/>
<circle cx="1237.5" cy="926.2" r="8.3" fill="#1414F0"/>
<line x1="1351" x2="1351" y1="866.2" y2="951.4" stroke="#1610F0" stroke-width="2.1"/>
<circle cx="1351" cy="908.8" r="8.3" fill="#1414F0"/>
<g stroke="#333333" stroke-width="3.4">
<line x1="935.8" x2="943.3" y1="1127.7" y2="1127.7"/>
<line x1="935.8" x2="943.3" y1="1074.7" y2="1074.7"/>
<line x1="935.8" x2="943.3" y1="1021.7" y2="1021.7"/>
<line x1="935.8" x2="943.3" y1="968.7" y2="968.7"/>
<line x1="935.8" x2="943.3" y1="915.7" y2="915.7"/>
<line x1="935.8" x2="943.3" y1="862.7" y2="862.7"/>
<line x1="935.8" x2="943.3" y1="809.7" y2="809.7"/>
<line x1="935.8" x2="943.3" y1="756.7" y2="756.7"/>
<line x1="1010.9" x2="1010.9" y1="1148.3" y2="1155.8"/>
<line x1="1124.4" x2="1124.4" y1="1148.3" y2="1155.8"/>
<line x1="1237.5" x2="1237.5" y1="1148.3" y2="1155.8"/>
<line x1="1351" x2="1351" y1="1148.3" y2="1155.8"/>
</g>
<path d="M943.3,711.6 V1148.3 H1418.5" fill="none" stroke="#000" stroke-width="2.8"/>
<g font-family="'Liberation Sans', Arial, Helvetica, sans-serif" font-size="31" fill="#000">
<text x="929.8" y="1138.9" text-anchor="end">0</text>
<text x="929.8" y="1085.9" text-anchor="end">2</text>
<text x="929.8" y="1032.9" text-anchor="end">4</text>
<text x="929.8" y="979.9" text-anchor="end">6</text>
<text x="929.8" y="926.9" text-anchor="end">8</text>
<text x="929.8" y="873.9" text-anchor="end">10</text>
<text x="929.8" y="820.9" text-anchor="end">12</text>
<text x="929.8" y="767.9" text-anchor="end">14</text>
<text x="1010.9" y="1183.9" text-anchor="middle" font-size="31.8">AAH</text>
<text x="1124.4" y="1183.9" text-anchor="middle" font-size="31.8">AIS</text>
<text x="1237.5" y="1183.9" text-anchor="middle" font-size="31.8">MIA</text>
<text x="1351" y="1183.9" text-anchor="middle" font-size="31.8">ADC</text>
</g>
<text x="1180.9" y="1217.9" text-anchor="middle" font-family="'Liberation Sans', Arial, Helvetica, sans-serif" font-weight="bold" font-size="28.9">Stages</text>
<text transform="translate(850.5,933) rotate(-90)" text-anchor="middle" font-family="'Liberation Sans', Arial, Helvetica, sans-serif" font-size="28.7">log2 (number of DMRs with</text>
<text transform="translate(881.2,933) rotate(-90)" text-anchor="middle" font-family="'Liberation Sans', Arial, Helvetica, sans-serif" font-size="28.7">in heterochromatic regions)</text>
<text transform="translate(942.6,696) scale(1,1.07)" font-family="'Liberation Sans', Arial, Helvetica, sans-serif" font-size="30" letter-spacing="-0.5" fill="#CD3131">p−value = 0.01261 (Kruskal−Wallis test)</text>
<text x="786.1" y="659.4" font-family="'DejaVu Sans', 'Liberation Sans', sans-serif" font-size="57" fill="#000" stroke="#000" stroke-width="1.1">d</text>
<text x="1438.5" y="741.2" font-family="'Liberation Sans', Arial, Helvetica, sans-serif" font-size="26.4">Stages</text>
<rect x="1439.7" y="757.5" width="27" height="26.9" fill="#EE9D63"/>
<line x1="1453.2" x2="1453.2" y1="759.5" y2="782.5" stroke="#1010FF" stroke-width="2.6"/>
<circle cx="1453.2" cy="771" r="8" fill="#1414F0"/>
<text x="1479.8" y="779.5" font-family="'Liberation Sans', Arial, Helvetica, sans-serif" font-size="23.7">AAH</text>
<rect x="1439.7" y="785.9" width="27" height="26.9" fill="#60AEFC"/>
<line x1="1453.2" x2="1453.2" y1="787.9" y2="810.9" stroke="#1010FF" stroke-width="2.6"/>
<circle cx="1453.2" cy="799.4" r="8" fill="#1414F0"/>
<text x="1479.8" y="807.9" font-family="'Liberation Sans', Arial, Helvetica, sans-serif" font-size="23.7">AIS</text>
<rect x="1439.7" y="814.3" width="27" height="26.9" fill="#B46FFC"/>
<line x1="1453.2" x2="1453.2" y1="816.2" y2="839.2" stroke="#1010FF" stroke-width="2.6"/>
<circle cx="1453.2" cy="827.8" r="8" fill="#1414F0"/>
<text x="1479.8" y="836.3" font-family="'Liberation Sans', Arial, Helvetica, sans-serif" font-size="23.7">MIA</text>
<rect x="1439.7" y="842.7" width="27" height="26.9" fill="#FF57AF"/>
<line x1="1453.2" x2="1453.2" y1="844.7" y2="867.7" stroke="#1010FF" stroke-width="2.6"/>
<circle cx="1453.2" cy="856.2" r="8" fill="#1414F0"/>
<text x="1479.8" y="864.7" font-family="'Liberation Sans', Arial, Helvetica, sans-serif" font-size="23.7">ADC</text>
<clipPath id="c4"><rect x="145" y="1325.8" width="506.9" height="439.2"/></clipPath>
<rect x="145" y="1325.8" width="506.9" height="439.2" fill="#F8F9FD"/>
<g stroke="#FFFFFF"><line x1="145" x2="651.9" y1="1744.6" y2="1744.6" stroke-width="1.6"/><line x1="145" x2="651.9" y1="1718" y2="1718" stroke-width="0.9"/><line x1="145" x2="651.9" y1="1691.4" y2="1691.4" stroke-width="1.6"/><line x1="145" x2="651.9" y1="1664.8" y2="1664.8" stroke-width="0.9"/><line x1="145" x2="651.9" y1="1638.2" y2="1638.2" stroke-width="1.6"/><line x1="145" x2="651.9" y1="1611.6" y2="1611.6" stroke-width="0.9"/><line x1="145" x2="651.9" y1="1585" y2="1585" stroke-width="1.6"/><line x1="145" x2="651.9" y1="1558.4" y2="1558.4" stroke-width="0.9"/><line x1="145" x2="651.9" y1="1531.8" y2="1531.8" stroke-width="1.6"/><line x1="145" x2="651.9" y1="1505.2" y2="1505.2" stroke-width="0.9"/><line x1="145" x2="651.9" y1="1478.6" y2="1478.6" stroke-width="1.6"/><line x1="145" x2="651.9" y1="1452" y2="1452" stroke-width="0.9"/><line x1="145" x2="651.9" y1="1425.4" y2="1425.4" stroke-width="1.6"/><line x1="145" x2="651.9" y1="1398.8" y2="1398.8" stroke-width="0.9"/><line x1="145" x2="651.9" y1="1372.2" y2="1372.2" stroke-width="1.6"/><line x1="145" x2="651.9" y1="1345.6" y2="1345.6" stroke-width="0.9"/><line x1="216.9" x2="216.9" y1="1325.8" y2="1765" stroke-width="1.6"/><line x1="338.6" x2="338.6" y1="1325.8" y2="1765" stroke-width="1.6"/><line x1="459.3" x2="459.3" y1="1325.8" y2="1765" stroke-width="1.6"/><line x1="580.6" x2="580.6" y1="1325.8" y2="1765" stroke-width="1.6"/></g>
<g clip-path="url(#c4)">
<path d="M216.9,1382.1 L217,1383.1 L217.2,1384.1 L217.3,1385.1 L217.4,1386.1 L217.6,1387.1 L217.7,1388.1 L217.8,1389.1 L218,1390.1 L218.1,1391.1 L218.3,1392.1 L218.4,1393.1 L218.5,1394.1 L218.7,1395.1 L218.9,1396.1 L219,1397.1 L219.2,1398.1 L219.4,1399.1 L219.6,1400.1 L219.9,1401.1 L220.1,1402.1 L220.4,1403.1 L220.6,1404.1 L220.9,1405.2 L221.2,1406.2 L221.5,1407.2 L221.8,1408.2 L222.1,1409.2 L222.4,1410.2 L222.7,1411.2 L223,1412.2 L223.3,1413.2 L223.6,1414.2 L223.9,1415.2 L224.2,1416.2 L224.5,1417.2 L224.9,1418.2 L225.2,1419.2 L225.5,1420.2 L225.9,1421.2 L226.3,1422.2 L226.7,1423.2 L227.1,1424.2 L227.5,1425.2 L228,1426.2 L228.5,1427.2 L229.1,1428.2 L229.7,1429.2 L230.4,1430.2 L231.1,1431.2 L231.8,1432.2 L232.5,1433.2 L233.2,1434.2 L233.9,1435.2 L234.6,1436.2 L235.2,1437.2 L235.9,1438.2 L236.5,1439.2 L237.2,1440.2 L237.8,1441.2 L238.4,1442.2 L239.1,1443.2 L239.7,1444.2 L240.3,1445.2 L241,1446.2 L241.6,1447.2 L242.2,1448.2 L242.8,1449.2 L243.4,1450.2 L243.9,1451.2 L244.5,1452.2 L245,1453.2 L245.6,1454.2 L246.1,1455.2 L246.7,1456.2 L247.2,1457.2 L247.8,1458.2 L248.3,1459.2 L248.8,1460.2 L249.3,1461.2 L249.7,1462.2 L250.1,1463.2 L250.5,1464.2 L250.8,1465.2 L251.2,1466.2 L251.5,1467.2 L251.8,1468.2 L252,1469.2 L252.3,1470.2 L252.6,1471.2 L252.8,1472.2 L253.1,1473.2 L253.3,1474.2 L253.5,1475.2 L253.6,1476.2 L253.7,1477.2 L253.8,1478.2 L253.9,1479.2 L254,1480.2 L254.1,1481.2 L254.2,1482.2 L254.2,1483.2 L254.3,1484.2 L254.4,1485.2 L254.4,1486.2 L254.4,1487.2 L254.5,1488.2 L254.5,1489.2 L254.5,1490.2 L254.5,1491.2 L254.5,1492.2 L254.4,1493.2 L254.3,1494.2 L254.1,1495.2 L253.9,1496.2 L253.6,1497.2 L253.4,1498.2 L253.1,1499.2 L252.9,1500.2 L252.6,1501.2 L252.3,1502.2 L252.1,1503.2 L251.9,1504.3 L251.7,1505.3 L251.5,1506.3 L251.3,1507.3 L251.1,1508.3 L250.9,1509.3 L250.7,1510.3 L250.6,1511.3 L250.4,1512.3 L250.2,1513.3 L250,1514.3 L249.8,1515.3 L249.6,1516.3 L249.4,1517.3 L249.2,1518.3 L249.1,1519.3 L248.9,1520.3 L248.6,1521.3 L248.4,1522.3 L248.2,1523.3 L248,1524.3 L247.8,1525.3 L247.6,1526.3 L247.4,1527.3 L247.2,1528.3 L247,1529.3 L246.9,1530.3 L246.7,1531.3 L246.5,1532.3 L246.4,1533.3 L246.2,1534.3 L246,1535.3 L245.9,1536.3 L245.8,1537.3 L245.6,1538.3 L245.5,1539.3 L245.3,1540.3 L245.2,1541.3 L245.1,1542.3 L244.9,1543.3 L244.8,1544.3 L244.6,1545.3 L244.5,1546.3 L244.3,1547.3 L244.1,1548.3 L244,1549.3 L243.8,1550.3 L243.6,1551.3 L243.5,1552.3 L243.3,1553.3 L243.1,1554.3 L242.9,1555.3 L242.7,1556.3 L242.5,1557.3 L242.3,1558.3 L242.1,1559.3 L241.9,1560.3 L241.6,1561.3 L241.4,1562.3 L241.1,1563.3 L240.8,1564.3 L240.6,1565.3 L240.3,1566.3 L240,1567.3 L239.7,1568.3 L239.4,1569.3 L239.2,1570.3 L238.9,1571.3 L238.6,1572.3 L238.4,1573.3 L238.1,1574.3 L237.9,1575.3 L237.6,1576.3 L237.4,1577.3 L237.1,1578.3 L236.8,1579.3 L236.6,1580.3 L236.3,1581.3 L236.1,1582.3 L235.9,1583.3 L235.6,1584.3 L235.4,1585.3 L235.1,1586.3 L234.9,1587.3 L234.6,1588.3 L234.4,1589.3 L234.1,1590.3 L233.9,1591.3 L233.6,1592.3 L233.4,1593.3 L233.2,1594.3 L233,1595.3 L232.8,1596.3 L232.7,1597.3 L232.6,1598.3 L232.4,1599.3 L232.3,1600.3 L232.2,1601.3 L232.1,1602.3 L232,1603.3 L231.9,1604.4 L231.8,1605.4 L231.7,1606.4 L231.7,1607.4 L231.6,1608.4 L231.6,1609.4 L231.5,1610.4 L231.5,1611.4 L231.6,1612.4 L231.6,1613.4 L231.7,1614.4 L231.9,1615.4 L232,1616.4 L232.2,1617.4 L232.3,1618.4 L232.5,1619.4 L232.7,1620.4 L233,1621.4 L233.3,1622.4 L233.7,1623.4 L234.2,1624.4 L234.8,1625.4 L235.4,1626.4 L236.1,1627.4 L236.8,1628.4 L237.5,1629.4 L238.3,1630.4 L239.1,1631.4 L239.8,1632.4 L240.6,1633.4 L241.3,1634.4 L242,1635.4 L242.6,1636.4 L243.2,1637.4 L243.8,1638.4 L244.4,1639.4 L244.9,1640.4 L245.5,1641.4 L246,1642.4 L246.6,1643.4 L247.1,1644.4 L247.6,1645.4 L248.1,1646.4 L248.6,1647.4 L249.1,1648.4 L249.6,1649.4 L250.1,1650.4 L250.5,1651.4 L251,1652.4 L251.5,1653.4 L251.9,1654.4 L252.4,1655.4 L252.8,1656.4 L253.3,1657.4 L253.7,1658.4 L254.1,1659.4 L254.4,1660.4 L254.8,1661.4 L255.1,1662.4 L255.4,1663.4 L255.6,1664.4 L255.9,1665.4 L256.1,1666.4 L256.3,1667.4 L256.5,1668.4 L256.8,1669.4 L256.9,1670.4 L257.1,1671.4 L257.3,1672.4 L257.5,1673.4 L257.7,1674.4 L257.8,1675.4 L258,1676.4 L258.1,1677.4 L258.3,1678.4 L258.4,1679.4 L258.6,1680.4 L258.7,1681.4 L258.8,1682.4 L258.9,1683.4 L259.1,1684.4 L259.2,1685.4 L259.3,1686.4 L259.4,1687.4 L259.5,1688.4 L259.7,1689.4 L259.8,1690.4 L259.9,1691.4 L260,1692.4 L260.1,1693.4 L260.2,1694.4 L260.3,1695.4 L260.3,1696.4 L260.4,1697.4 L260.5,1698.4 L260.6,1699.4 L260.6,1700.4 L260.7,1701.4 L260.8,1702.4 L260.9,1703.4 L260.9,1704.5 L261,1705.5 L261.1,1706.5 L261.1,1707.5 L261.2,1708.5 L261.3,1709.5 L261.3,1710.5 L261.4,1711.5 L261.4,1712.5 L261.4,1713.5 L261.5,1714.5 L261.5,1715.5 L261.5,1716.5 L261.5,1717.5 L261.5,1718.5 L261.4,1719.5 L261.4,1720.5 L261.3,1721.5 L261.2,1722.5 L261.1,1723.5 L261,1724.5 L260.9,1725.5 L260.8,1726.5 L260.7,1727.5 L260.6,1728.5 L260.5,1729.5 L260.5,1730.5 L260.4,1731.5 L260.3,1732.5 L260.3,1733.5 L260.3,1734.5 L260.3,1735.5 L260.3,1736.5 L260.4,1737.5 L260.4,1738.5 L260.5,1739.5 L260.5,1740.5 L260.6,1741.5 L260.6,1742.5 L260.6,1743.5 L260.6,1744.5 L260.6,1745.5 L260.4,1746.5 L260.2,1747.5 L259.8,1748.5 L259.4,1749.5 L258.9,1750.5 L258.3,1751.5 L257.8,1752.5 L257.1,1753.5 L256.5,1754.5 L255.9,1755.5 L255.3,1756.5 L254.6,1757.5 L253.9,1758.5 L253.1,1759.5 L252.2,1760.5 L251.3,1761.5 L250.3,1762.5 L249.4,1763.5 L248.5,1764.5 L247.5,1765.5 L246.6,1766.5 L245.7,1767.5 L244.8,1768.5 L243.9,1769.5 L242.9,1770.5 L241.9,1771.5 L240.8,1772.5 L239.6,1773.5 L238.4,1774.5 L237,1775.5 L235.5,1776.5 L233.8,1777.5 L231.9,1778.5 L229.8,1779.5 L227.7,1780.5 L225.5,1781.5 L223.3,1782.5 L221.1,1783.5 L219,1784.5 L216.9,1785.5 L216.9,1785.5 L214.8,1784.5 L212.7,1783.5 L210.5,1782.5 L208.3,1781.5 L206.1,1780.5 L204,1779.5 L201.9,1778.5 L200,1777.5 L198.3,1776.5 L196.8,1775.5 L195.4,1774.5 L194.2,1773.5 L193,1772.5 L191.9,1771.5 L190.9,1770.5 L189.9,1769.5 L189,1768.5 L188.1,1767.5 L187.2,1766.5 L186.3,1765.5 L185.3,1764.5 L184.4,1763.5 L183.5,1762.5 L182.5,1761.5 L181.6,1760.5 L180.7,1759.5 L179.9,1758.5 L179.2,1757.5 L178.5,1756.5 L177.9,1755.5 L177.3,1754.5 L176.7,1753.5 L176,1752.5 L175.5,1751.5 L174.9,1750.5 L174.4,1749.5 L174,1748.5 L173.6,1747.5 L173.4,1746.5 L173.2,1745.5 L173.2,1744.5 L173.2,1743.5 L173.2,1742.5 L173.2,1741.5 L173.3,1740.5 L173.3,1739.5 L173.4,1738.5 L173.4,1737.5 L173.5,1736.5 L173.5,1735.5 L173.5,1734.5 L173.5,1733.5 L173.5,1732.5 L173.4,1731.5 L173.3,1730.5 L173.3,1729.5 L173.2,1728.5 L173.1,1727.5 L173,1726.5 L172.9,1725.5 L172.8,1724.5 L172.7,1723.5 L172.6,1722.5 L172.5,1721.5 L172.4,1720.5 L172.4,1719.5 L172.3,1718.5 L172.3,1717.5 L172.3,1716.5 L172.3,1715.5 L172.3,1714.5 L172.4,1713.5 L172.4,1712.5 L172.4,1711.5 L172.5,1710.5 L172.5,1709.5 L172.6,1708.5 L172.7,1707.5 L172.7,1706.5 L172.8,1705.5 L172.9,1704.5 L172.9,1703.4 L173,1702.4 L173.1,1701.4 L173.2,1700.4 L173.2,1699.4 L173.3,1698.4 L173.4,1697.4 L173.5,1696.4 L173.5,1695.4 L173.6,1694.4 L173.7,1693.4 L173.8,1692.4 L173.9,1691.4 L174,1690.4 L174.1,1689.4 L174.3,1688.4 L174.4,1687.4 L174.5,1686.4 L174.6,1685.4 L174.7,1684.4 L174.9,1683.4 L175,1682.4 L175.1,1681.4 L175.2,1680.4 L175.4,1679.4 L175.5,1678.4 L175.7,1677.4 L175.8,1676.4 L176,1675.4 L176.1,1674.4 L176.3,1673.4 L176.5,1672.4 L176.7,1671.4 L176.9,1670.4 L177,1669.4 L177.3,1668.4 L177.5,1667.4 L177.7,1666.4 L177.9,1665.4 L178.2,1664.4 L178.4,1663.4 L178.7,1662.4 L179,1661.4 L179.4,1660.4 L179.7,1659.4 L180.1,1658.4 L180.5,1657.4 L181,1656.4 L181.4,1655.4 L181.9,1654.4 L182.3,1653.4 L182.8,1652.4 L183.3,1651.4 L183.7,1650.4 L184.2,1649.4 L184.7,1648.4 L185.2,1647.4 L185.7,1646.4 L186.2,1645.4 L186.7,1644.4 L187.2,1643.4 L187.8,1642.4 L188.3,1641.4 L188.9,1640.4 L189.4,1639.4 L190,1638.4 L190.6,1637.4 L191.2,1636.4 L191.8,1635.4 L192.5,1634.4 L193.2,1633.4 L194,1632.4 L194.7,1631.4 L195.5,1630.4 L196.3,1629.4 L197,1628.4 L197.7,1627.4 L198.4,1626.4 L199,1625.4 L199.6,1624.4 L200.1,1623.4 L200.5,1622.4 L200.8,1621.4 L201.1,1620.4 L201.3,1619.4 L201.5,1618.4 L201.6,1617.4 L201.8,1616.4 L201.9,1615.4 L202.1,1614.4 L202.2,1613.4 L202.2,1612.4 L202.3,1611.4 L202.3,1610.4 L202.2,1609.4 L202.2,1608.4 L202.1,1607.4 L202.1,1606.4 L202,1605.4 L201.9,1604.4 L201.8,1603.3 L201.7,1602.3 L201.6,1601.3 L201.5,1600.3 L201.4,1599.3 L201.2,1598.3 L201.1,1597.3 L201,1596.3 L200.8,1595.3 L200.6,1594.3 L200.4,1593.3 L200.2,1592.3 L199.9,1591.3 L199.7,1590.3 L199.4,1589.3 L199.2,1588.3 L198.9,1587.3 L198.7,1586.3 L198.4,1585.3 L198.2,1584.3 L197.9,1583.3 L197.7,1582.3 L197.5,1581.3 L197.2,1580.3 L197,1579.3 L196.7,1578.3 L196.4,1577.3 L196.2,1576.3 L195.9,1575.3 L195.7,1574.3 L195.4,1573.3 L195.2,1572.3 L194.9,1571.3 L194.6,1570.3 L194.4,1569.3 L194.1,1568.3 L193.8,1567.3 L193.5,1566.3 L193.2,1565.3 L193,1564.3 L192.7,1563.3 L192.4,1562.3 L192.2,1561.3 L191.9,1560.3 L191.7,1559.3 L191.5,1558.3 L191.3,1557.3 L191.1,1556.3 L190.9,1555.3 L190.7,1554.3 L190.5,1553.3 L190.3,1552.3 L190.2,1551.3 L190,1550.3 L189.8,1549.3 L189.7,1548.3 L189.5,1547.3 L189.3,1546.3 L189.2,1545.3 L189,1544.3 L188.9,1543.3 L188.7,1542.3 L188.6,1541.3 L188.5,1540.3 L188.3,1539.3 L188.2,1538.3 L188,1537.3 L187.9,1536.3 L187.8,1535.3 L187.6,1534.3 L187.4,1533.3 L187.3,1532.3 L187.1,1531.3 L186.9,1530.3 L186.8,1529.3 L186.6,1528.3 L186.4,1527.3 L186.2,1526.3 L186,1525.3 L185.8,1524.3 L185.6,1523.3 L185.4,1522.3 L185.2,1521.3 L184.9,1520.3 L184.7,1519.3 L184.6,1518.3 L184.4,1517.3 L184.2,1516.3 L184,1515.3 L183.8,1514.3 L183.6,1513.3 L183.4,1512.3 L183.2,1511.3 L183.1,1510.3 L182.9,1509.3 L182.7,1508.3 L182.5,1507.3 L182.3,1506.3 L182.1,1505.3 L181.9,1504.3 L181.7,1503.2 L181.5,1502.2 L181.2,1501.2 L180.9,1500.2 L180.7,1499.2 L180.4,1498.2 L180.2,1497.2 L179.9,1496.2 L179.7,1495.2 L179.5,1494.2 L179.4,1493.2 L179.3,1492.2 L179.3,1491.2 L179.3,1490.2 L179.3,1489.2 L179.3,1488.2 L179.4,1487.2 L179.4,1486.2 L179.4,1485.2 L179.5,1484.2 L179.6,1483.2 L179.6,1482.2 L179.7,1481.2 L179.8,1480.2 L179.9,1479.2 L180,1478.2 L180.1,1477.2 L180.2,1476.2 L180.3,1475.2 L180.5,1474.2 L180.7,1473.2 L181,1472.2 L181.2,1471.2 L181.5,1470.2 L181.8,1469.2 L182,1468.2 L182.3,1467.2 L182.6,1466.2 L183,1465.2 L183.3,1464.2 L183.7,1463.2 L184.1,1462.2 L184.5,1461.2 L185,1460.2 L185.5,1459.2 L186,1458.2 L186.6,1457.2 L187.1,1456.2 L187.7,1455.2 L188.2,1454.2 L188.8,1453.2 L189.3,1452.2 L189.9,1451.2 L190.4,1450.2 L191,1449.2 L191.6,1448.2 L192.2,1447.2 L192.8,1446.2 L193.5,1445.2 L194.1,1444.2 L194.7,1443.2 L195.4,1442.2 L196,1441.2 L196.6,1440.2 L197.3,1439.2 L197.9,1438.2 L198.6,1437.2 L199.2,1436.2 L199.9,1435.2 L200.6,1434.2 L201.3,1433.2 L202,1432.2 L202.7,1431.2 L203.4,1430.2 L204.1,1429.2 L204.7,1428.2 L205.3,1427.2 L205.8,1426.2 L206.3,1425.2 L206.7,1424.2 L207.1,1423.2 L207.5,1422.2 L207.9,1421.2 L208.3,1420.2 L208.6,1419.2 L208.9,1418.2 L209.3,1417.2 L209.6,1416.2 L209.9,1415.2 L210.2,1414.2 L210.5,1413.2 L210.8,1412.2 L211.1,1411.2 L211.4,1410.2 L211.7,1409.2 L212,1408.2 L212.3,1407.2 L212.6,1406.2 L212.9,1405.2 L213.2,1404.1 L213.4,1403.1 L213.7,1402.1 L213.9,1401.1 L214.2,1400.1 L214.4,1399.1 L214.6,1398.1 L214.8,1397.1 L214.9,1396.1 L215.1,1395.1 L215.3,1394.1 L215.4,1393.1 L215.5,1392.1 L215.7,1391.1 L215.8,1390.1 L216,1389.1 L216.1,1388.1 L216.2,1387.1 L216.4,1386.1 L216.5,1385.1 L216.6,1384.1 L216.8,1383.1 L216.9,1382.1Z" fill="#EE9D63"/>
<path d="M338.6,1396.6 L338.8,1397.6 L339,1398.6 L339.2,1399.6 L339.4,1400.6 L339.6,1401.6 L339.8,1402.6 L340,1403.6 L340.2,1404.6 L340.5,1405.6 L340.7,1406.6 L341,1407.6 L341.4,1408.6 L341.7,1409.6 L342.1,1410.6 L342.6,1411.6 L343,1412.6 L343.5,1413.6 L344,1414.6 L344.5,1415.6 L345,1416.6 L345.5,1417.6 L346,1418.6 L346.6,1419.6 L347.2,1420.6 L347.8,1421.6 L348.4,1422.6 L349.1,1423.6 L349.9,1424.6 L350.7,1425.6 L351.6,1426.6 L352.5,1427.6 L353.6,1428.6 L354.8,1429.6 L355.9,1430.6 L357.1,1431.6 L358.3,1432.6 L359.4,1433.6 L360.6,1434.6 L361.6,1435.6 L362.6,1436.6 L363.6,1437.6 L364.6,1438.6 L365.6,1439.6 L366.5,1440.6 L367.5,1441.6 L368.4,1442.6 L369.3,1443.6 L370.1,1444.6 L371,1445.6 L371.8,1446.6 L372.6,1447.6 L373.4,1448.6 L374.3,1449.6 L375.1,1450.6 L375.9,1451.6 L376.6,1452.6 L377.3,1453.6 L378,1454.6 L378.6,1455.6 L379.1,1456.6 L379.6,1457.6 L380,1458.6 L380.3,1459.6 L380.7,1460.6 L381,1461.6 L381.4,1462.6 L381.7,1463.6 L381.9,1464.6 L382.2,1465.6 L382.4,1466.6 L382.6,1467.6 L382.8,1468.6 L383,1469.6 L383.1,1470.6 L383.3,1471.6 L383.4,1472.6 L383.6,1473.6 L383.7,1474.6 L383.8,1475.6 L383.9,1476.6 L383.9,1477.6 L383.9,1478.6 L383.8,1479.6 L383.6,1480.6 L383.2,1481.6 L382.8,1482.6 L382.4,1483.6 L381.9,1484.6 L381.3,1485.6 L380.8,1486.6 L380.1,1487.6 L379.3,1488.6 L378.4,1489.6 L377.3,1490.6 L376.2,1491.6 L375,1492.6 L373.9,1493.6 L372.8,1494.6 L371.8,1495.6 L370.8,1496.6 L369.9,1497.6 L368.9,1498.6 L367.9,1499.6 L366.9,1500.6 L366,1501.6 L365.1,1502.6 L364.2,1503.6 L363.4,1504.6 L362.6,1505.6 L361.7,1506.6 L360.9,1507.6 L360,1508.6 L359.2,1509.6 L358.4,1510.6 L357.7,1511.6 L357,1512.6 L356.4,1513.6 L356,1514.6 L355.6,1515.6 L355.4,1516.6 L355.1,1517.6 L354.9,1518.6 L354.7,1519.6 L354.5,1520.6 L354.3,1521.6 L354.2,1522.6 L354.2,1523.6 L354.1,1524.6 L354.2,1525.6 L354.2,1526.6 L354.3,1527.6 L354.5,1528.6 L354.6,1529.6 L354.8,1530.6 L354.9,1531.6 L355.2,1532.6 L355.7,1533.6 L356.2,1534.6 L356.8,1535.6 L357.5,1536.6 L358.3,1537.6 L359,1538.6 L359.8,1539.6 L360.5,1540.6 L361.2,1541.6 L361.9,1542.6 L362.6,1543.6 L363.3,1544.6 L364,1545.6 L364.8,1546.6 L365.6,1547.6 L366.3,1548.6 L367.1,1549.6 L367.8,1550.6 L368.6,1551.6 L369.3,1552.6 L370,1553.6 L370.6,1554.6 L371.2,1555.6 L371.8,1556.6 L372.3,1557.6 L372.7,1558.6 L373.2,1559.6 L373.6,1560.6 L374.1,1561.6 L374.6,1562.6 L375,1563.6 L375.4,1564.6 L375.8,1565.6 L376.1,1566.6 L376.4,1567.6 L376.6,1568.6 L376.7,1569.6 L376.8,1570.6 L376.8,1571.6 L376.7,1572.6 L376.5,1573.6 L376.2,1574.6 L375.9,1575.6 L375.5,1576.6 L375.1,1577.6 L374.6,1578.6 L374.1,1579.6 L373.6,1580.6 L373,1581.6 L372.5,1582.6 L372,1583.6 L371.4,1584.6 L370.8,1585.6 L370.1,1586.6 L369.4,1587.6 L368.5,1588.6 L367.7,1589.6 L366.8,1590.6 L365.8,1591.6 L364.9,1592.6 L364,1593.6 L363.1,1594.6 L362.3,1595.6 L361.5,1596.6 L360.7,1597.6 L360,1598.6 L359.2,1599.6 L358.5,1600.6 L357.8,1601.6 L357,1602.6 L356.3,1603.6 L355.6,1604.6 L354.9,1605.6 L354.3,1606.6 L353.7,1607.6 L353.1,1608.6 L352.6,1609.6 L352.1,1610.6 L351.7,1611.6 L351.2,1612.6 L350.8,1613.6 L350.4,1614.6 L350,1615.6 L349.7,1616.6 L349.3,1617.6 L349,1618.6 L348.7,1619.6 L348.4,1620.6 L348.1,1621.6 L347.9,1622.6 L347.8,1623.6 L347.6,1624.6 L347.5,1625.6 L347.4,1626.6 L347.3,1627.6 L347.2,1628.6 L347.1,1629.6 L347,1630.6 L347,1631.6 L346.9,1632.6 L346.8,1633.6 L346.8,1634.6 L346.8,1635.6 L346.7,1636.6 L346.7,1637.6 L346.8,1638.6 L346.8,1639.6 L346.8,1640.6 L346.9,1641.6 L346.9,1642.6 L347,1643.6 L347.1,1644.6 L347.2,1645.6 L347.3,1646.6 L347.3,1647.6 L347.4,1648.6 L347.5,1649.6 L347.5,1650.6 L347.6,1651.6 L347.6,1652.6 L347.6,1653.6 L347.6,1654.6 L347.6,1655.6 L347.5,1656.6 L347.4,1657.6 L347.3,1658.6 L347.2,1659.6 L347,1660.6 L346.9,1661.6 L346.8,1662.6 L346.6,1663.6 L346.5,1664.6 L346.3,1665.6 L346.2,1666.6 L346,1667.6 L345.8,1668.6 L345.5,1669.6 L345.3,1670.6 L345,1671.6 L344.8,1672.6 L344.5,1673.6 L344.3,1674.6 L344,1675.6 L343.7,1676.6 L343.5,1677.6 L343.2,1678.6 L343,1679.6 L342.7,1680.6 L342.5,1681.6 L342.3,1682.6 L342.1,1683.6 L341.8,1684.6 L341.6,1685.6 L341.4,1686.6 L341.2,1687.6 L340.9,1688.6 L340.7,1689.6 L340.5,1690.6 L340.3,1691.6 L340.1,1692.6 L339.9,1693.6 L339.7,1694.6 L339.6,1695.6 L339.4,1696.6 L339.3,1697.6 L339.2,1698.6 L339.1,1699.6 L339,1700.6 L338.9,1701.6 L338.8,1702.6 L338.7,1703.6 L338.6,1704.6 L338.6,1704.6 L338.5,1703.6 L338.4,1702.6 L338.3,1701.6 L338.2,1700.6 L338.1,1699.6 L338,1698.6 L337.9,1697.6 L337.8,1696.6 L337.6,1695.6 L337.5,1694.6 L337.3,1693.6 L337.1,1692.6 L336.9,1691.6 L336.7,1690.6 L336.5,1689.6 L336.3,1688.6 L336,1687.6 L335.8,1686.6 L335.6,1685.6 L335.4,1684.6 L335.1,1683.6 L334.9,1682.6 L334.7,1681.6 L334.5,1680.6 L334.2,1679.6 L334,1678.6 L333.7,1677.6 L333.5,1676.6 L333.2,1675.6 L332.9,1674.6 L332.7,1673.6 L332.4,1672.6 L332.2,1671.6 L331.9,1670.6 L331.7,1669.6 L331.4,1668.6 L331.2,1667.6 L331,1666.6 L330.9,1665.6 L330.7,1664.6 L330.6,1663.6 L330.4,1662.6 L330.3,1661.6 L330.2,1660.6 L330,1659.6 L329.9,1658.6 L329.8,1657.6 L329.7,1656.6 L329.6,1655.6 L329.6,1654.6 L329.6,1653.6 L329.6,1652.6 L329.6,1651.6 L329.7,1650.6 L329.7,1649.6 L329.8,1648.6 L329.9,1647.6 L329.9,1646.6 L330,1645.6 L330.1,1644.6 L330.2,1643.6 L330.3,1642.6 L330.3,1641.6 L330.4,1640.6 L330.4,1639.6 L330.4,1638.6 L330.5,1637.6 L330.5,1636.6 L330.4,1635.6 L330.4,1634.6 L330.4,1633.6 L330.3,1632.6 L330.2,1631.6 L330.2,1630.6 L330.1,1629.6 L330,1628.6 L329.9,1627.6 L329.8,1626.6 L329.7,1625.6 L329.6,1624.6 L329.4,1623.6 L329.3,1622.6 L329.1,1621.6 L328.8,1620.6 L328.5,1619.6 L328.2,1618.6 L327.9,1617.6 L327.5,1616.6 L327.2,1615.6 L326.8,1614.6 L326.4,1613.6 L326,1612.6 L325.5,1611.6 L325.1,1610.6 L324.6,1609.6 L324.1,1608.6 L323.5,1607.6 L322.9,1606.6 L322.3,1605.6 L321.6,1604.6 L320.9,1603.6 L320.2,1602.6 L319.4,1601.6 L318.7,1600.6 L318,1599.6 L317.2,1598.6 L316.5,1597.6 L315.7,1596.6 L314.9,1595.6 L314.1,1594.6 L313.2,1593.6 L312.3,1592.6 L311.4,1591.6 L310.4,1590.6 L309.5,1589.6 L308.7,1588.6 L307.8,1587.6 L307.1,1586.6 L306.4,1585.6 L305.8,1584.6 L305.2,1583.6 L304.7,1582.6 L304.2,1581.6 L303.6,1580.6 L303.1,1579.6 L302.6,1578.6 L302.1,1577.6 L301.7,1576.6 L301.3,1575.6 L301,1574.6 L300.7,1573.6 L300.5,1572.6 L300.4,1571.6 L300.4,1570.6 L300.5,1569.6 L300.6,1568.6 L300.8,1567.6 L301.1,1566.6 L301.4,1565.6 L301.8,1564.6 L302.2,1563.6 L302.6,1562.6 L303.1,1561.6 L303.6,1560.6 L304,1559.6 L304.5,1558.6 L304.9,1557.6 L305.4,1556.6 L306,1555.6 L306.6,1554.6 L307.2,1553.6 L307.9,1552.6 L308.6,1551.6 L309.4,1550.6 L310.1,1549.6 L310.9,1548.6 L311.6,1547.6 L312.4,1546.6 L313.2,1545.6 L313.9,1544.6 L314.6,1543.6 L315.3,1542.6 L316,1541.6 L316.7,1540.6 L317.4,1539.6 L318.2,1538.6 L318.9,1537.6 L319.7,1536.6 L320.4,1535.6 L321,1534.6 L321.5,1533.6 L322,1532.6 L322.3,1531.6 L322.4,1530.6 L322.6,1529.6 L322.7,1528.6 L322.9,1527.6 L323,1526.6 L323,1525.6 L323.1,1524.6 L323,1523.6 L323,1522.6 L322.9,1521.6 L322.7,1520.6 L322.5,1519.6 L322.3,1518.6 L322.1,1517.6 L321.8,1516.6 L321.6,1515.6 L321.2,1514.6 L320.8,1513.6 L320.2,1512.6 L319.5,1511.6 L318.8,1510.6 L318,1509.6 L317.2,1508.6 L316.3,1507.6 L315.5,1506.6 L314.6,1505.6 L313.8,1504.6 L313,1503.6 L312.1,1502.6 L311.2,1501.6 L310.3,1500.6 L309.3,1499.6 L308.3,1498.6 L307.3,1497.6 L306.4,1496.6 L305.4,1495.6 L304.4,1494.6 L303.3,1493.6 L302.2,1492.6 L301,1491.6 L299.9,1490.6 L298.8,1489.6 L297.9,1488.6 L297.1,1487.6 L296.4,1486.6 L295.9,1485.6 L295.3,1484.6 L294.8,1483.6 L294.4,1482.6 L294,1481.6 L293.6,1480.6 L293.4,1479.6 L293.3,1478.6 L293.3,1477.6 L293.3,1476.6 L293.4,1475.6 L293.5,1474.6 L293.6,1473.6 L293.8,1472.6 L293.9,1471.6 L294.1,1470.6 L294.2,1469.6 L294.4,1468.6 L294.6,1467.6 L294.8,1466.6 L295,1465.6 L295.3,1464.6 L295.5,1463.6 L295.8,1462.6 L296.2,1461.6 L296.5,1460.6 L296.9,1459.6 L297.2,1458.6 L297.6,1457.6 L298.1,1456.6 L298.6,1455.6 L299.2,1454.6 L299.9,1453.6 L300.6,1452.6 L301.3,1451.6 L302.1,1450.6 L302.9,1449.6 L303.8,1448.6 L304.6,1447.6 L305.4,1446.6 L306.2,1445.6 L307.1,1444.6 L307.9,1443.6 L308.8,1442.6 L309.7,1441.6 L310.7,1440.6 L311.6,1439.6 L312.6,1438.6 L313.6,1437.6 L314.6,1436.6 L315.6,1435.6 L316.6,1434.6 L317.8,1433.6 L318.9,1432.6 L320.1,1431.6 L321.3,1430.6 L322.4,1429.6 L323.6,1428.6 L324.7,1427.6 L325.6,1426.6 L326.5,1425.6 L327.3,1424.6 L328.1,1423.6 L328.8,1422.6 L329.4,1421.6 L330,1420.6 L330.6,1419.6 L331.2,1418.6 L331.7,1417.6 L332.2,1416.6 L332.7,1415.6 L333.2,1414.6 L333.7,1413.6 L334.2,1412.6 L334.6,1411.6 L335.1,1410.6 L335.5,1409.6 L335.8,1408.6 L336.2,1407.6 L336.5,1406.6 L336.7,1405.6 L337,1404.6 L337.2,1403.6 L337.4,1402.6 L337.6,1401.6 L337.8,1400.6 L338,1399.6 L338.2,1398.6 L338.4,1397.6 L338.6,1396.6Z" fill="#60AEFC"/>
<path d="M459.3,1365 L459.5,1366 L459.6,1367 L459.8,1368 L459.9,1369 L460.1,1370 L460.3,1371 L460.5,1372 L460.7,1373 L461,1374 L461.3,1375 L461.6,1376 L461.9,1377 L462.3,1378 L462.7,1379 L463,1380 L463.4,1381 L463.8,1382 L464.2,1383 L464.6,1384 L464.9,1385 L465.2,1386 L465.6,1387 L465.9,1388 L466.2,1389 L466.5,1390 L466.8,1391 L467.1,1392 L467.4,1393.1 L467.7,1394.1 L468,1395.1 L468.3,1396.1 L468.6,1397.1 L468.9,1398.1 L469.2,1399.1 L469.5,1400.1 L469.9,1401.1 L470.2,1402.1 L470.6,1403.1 L470.9,1404.1 L471.2,1405.1 L471.6,1406.1 L471.9,1407.1 L472.3,1408.1 L472.7,1409.1 L473,1410.1 L473.4,1411.1 L473.8,1412.1 L474.1,1413.1 L474.4,1414.1 L474.8,1415.1 L475.1,1416.1 L475.5,1417.1 L475.8,1418.1 L476.2,1419.1 L476.7,1420.1 L477.2,1421.1 L477.7,1422.1 L478.3,1423.1 L479,1424.2 L479.9,1425.2 L480.8,1426.2 L481.8,1427.2 L482.8,1428.2 L483.7,1429.2 L484.6,1430.2 L485.5,1431.2 L486.5,1432.2 L487.5,1433.2 L488.6,1434.2 L489.6,1435.2 L490.6,1436.2 L491.5,1437.2 L492.5,1438.2 L493.3,1439.2 L494.1,1440.2 L494.8,1441.2 L495.4,1442.2 L496,1443.2 L496.5,1444.2 L496.9,1445.2 L497.4,1446.2 L497.8,1447.2 L498.2,1448.2 L498.5,1449.2 L498.8,1450.2 L499.1,1451.2 L499.3,1452.2 L499.6,1453.2 L499.8,1454.2 L500,1455.2 L500.1,1456.3 L500.1,1457.3 L500.1,1458.3 L499.9,1459.3 L499.6,1460.3 L499.3,1461.3 L498.9,1462.3 L498.5,1463.3 L498,1464.3 L497.5,1465.3 L497,1466.3 L496.6,1467.3 L496.1,1468.3 L495.5,1469.3 L494.9,1470.3 L494.2,1471.3 L493.5,1472.3 L492.8,1473.3 L492.1,1474.3 L491.4,1475.3 L490.7,1476.3 L490,1477.3 L489.4,1478.3 L488.8,1479.3 L488.1,1480.3 L487.5,1481.3 L486.9,1482.3 L486.3,1483.3 L485.6,1484.3 L485.1,1485.3 L484.5,1486.3 L484,1487.4 L483.5,1488.4 L483,1489.4 L482.6,1490.4 L482.1,1491.4 L481.7,1492.4 L481.2,1493.4 L480.8,1494.4 L480.4,1495.4 L480,1496.4 L479.7,1497.4 L479.5,1498.4 L479.3,1499.4 L479.2,1500.4 L479.2,1501.4 L479.3,1502.4 L479.4,1503.4 L479.6,1504.4 L479.7,1505.4 L480,1506.4 L480.4,1507.4 L480.9,1508.4 L481.5,1509.4 L482.1,1510.4 L482.8,1511.4 L483.5,1512.4 L484.2,1513.4 L484.9,1514.4 L485.6,1515.4 L486.2,1516.4 L486.8,1517.4 L487.4,1518.4 L488,1519.5 L488.6,1520.5 L489.2,1521.5 L489.9,1522.5 L490.5,1523.5 L491.1,1524.5 L491.8,1525.5 L492.4,1526.5 L492.9,1527.5 L493.5,1528.5 L494,1529.5 L494.5,1530.5 L494.9,1531.5 L495.3,1532.5 L495.7,1533.5 L496.1,1534.5 L496.4,1535.5 L496.7,1536.5 L497.1,1537.5 L497.4,1538.5 L497.7,1539.5 L498,1540.5 L498.3,1541.5 L498.6,1542.5 L498.9,1543.5 L499.2,1544.5 L499.5,1545.5 L499.9,1546.5 L500.2,1547.5 L500.6,1548.5 L501,1549.5 L501.4,1550.6 L501.8,1551.6 L502.1,1552.6 L502.5,1553.6 L502.8,1554.6 L503.1,1555.6 L503.3,1556.6 L503.5,1557.6 L503.6,1558.6 L503.8,1559.6 L503.9,1560.6 L504,1561.6 L504.1,1562.6 L504.2,1563.6 L504.3,1564.6 L504.4,1565.6 L504.4,1566.6 L504.4,1567.6 L504.3,1568.6 L504.2,1569.6 L504.1,1570.6 L504,1571.6 L503.8,1572.6 L503.6,1573.6 L503.4,1574.6 L503.2,1575.6 L502.9,1576.6 L502.7,1577.6 L502.4,1578.6 L502.1,1579.6 L501.8,1580.6 L501.5,1581.7 L501.3,1582.7 L501,1583.7 L500.6,1584.7 L500.3,1585.7 L499.9,1586.7 L499.5,1587.7 L499.1,1588.7 L498.6,1589.7 L498.1,1590.7 L497.6,1591.7 L497,1592.7 L496.5,1593.7 L495.9,1594.7 L495.3,1595.7 L494.6,1596.7 L494,1597.7 L493.4,1598.7 L492.7,1599.7 L491.9,1600.7 L491.1,1601.7 L490.3,1602.7 L489.4,1603.7 L488.6,1604.7 L487.7,1605.7 L486.8,1606.7 L485.8,1607.7 L484.9,1608.7 L483.9,1609.7 L483,1610.7 L482,1611.7 L481,1612.7 L479.9,1613.8 L478.8,1614.8 L477.6,1615.8 L476.5,1616.8 L475.4,1617.8 L474.3,1618.8 L473.2,1619.8 L472.2,1620.8 L471.3,1621.8 L470.5,1622.8 L469.7,1623.8 L468.9,1624.8 L468.1,1625.8 L467.4,1626.8 L466.6,1627.8 L465.9,1628.8 L465.2,1629.8 L464.5,1630.8 L463.9,1631.8 L463.4,1632.8 L462.9,1633.8 L462.4,1634.8 L462,1635.8 L461.7,1636.8 L461.5,1637.8 L461.2,1638.8 L461.1,1639.8 L460.9,1640.8 L460.7,1641.8 L460.6,1642.8 L460.5,1643.8 L460.3,1644.9 L460.2,1645.9 L460.1,1646.9 L460,1647.9 L459.9,1648.9 L459.8,1649.9 L459.7,1650.9 L459.6,1651.9 L459.4,1652.9 L459.3,1653.9 L459.3,1653.9 L459.2,1652.9 L459,1651.9 L458.9,1650.9 L458.8,1649.9 L458.7,1648.9 L458.6,1647.9 L458.5,1646.9 L458.4,1645.9 L458.3,1644.9 L458.1,1643.8 L458,1642.8 L457.9,1641.8 L457.7,1640.8 L457.5,1639.8 L457.4,1638.8 L457.1,1637.8 L456.9,1636.8 L456.6,1635.8 L456.2,1634.8 L455.7,1633.8 L455.2,1632.8 L454.7,1631.8 L454.1,1630.8 L453.4,1629.8 L452.7,1628.8 L452,1627.8 L451.2,1626.8 L450.5,1625.8 L449.7,1624.8 L448.9,1623.8 L448.1,1622.8 L447.3,1621.8 L446.4,1620.8 L445.4,1619.8 L444.3,1618.8 L443.2,1617.8 L442.1,1616.8 L441,1615.8 L439.8,1614.8 L438.7,1613.8 L437.6,1612.7 L436.6,1611.7 L435.6,1610.7 L434.7,1609.7 L433.7,1608.7 L432.8,1607.7 L431.8,1606.7 L430.9,1605.7 L430,1604.7 L429.2,1603.7 L428.3,1602.7 L427.5,1601.7 L426.7,1600.7 L425.9,1599.7 L425.2,1598.7 L424.6,1597.7 L424,1596.7 L423.3,1595.7 L422.7,1594.7 L422.1,1593.7 L421.6,1592.7 L421,1591.7 L420.5,1590.7 L420,1589.7 L419.5,1588.7 L419.1,1587.7 L418.7,1586.7 L418.3,1585.7 L418,1584.7 L417.6,1583.7 L417.3,1582.7 L417.1,1581.7 L416.8,1580.6 L416.5,1579.6 L416.2,1578.6 L415.9,1577.6 L415.7,1576.6 L415.4,1575.6 L415.2,1574.6 L415,1573.6 L414.8,1572.6 L414.6,1571.6 L414.5,1570.6 L414.4,1569.6 L414.3,1568.6 L414.2,1567.6 L414.2,1566.6 L414.2,1565.6 L414.3,1564.6 L414.4,1563.6 L414.5,1562.6 L414.6,1561.6 L414.7,1560.6 L414.8,1559.6 L415,1558.6 L415.1,1557.6 L415.3,1556.6 L415.5,1555.6 L415.8,1554.6 L416.1,1553.6 L416.5,1552.6 L416.8,1551.6 L417.2,1550.6 L417.6,1549.5 L418,1548.5 L418.4,1547.5 L418.7,1546.5 L419.1,1545.5 L419.4,1544.5 L419.7,1543.5 L420,1542.5 L420.3,1541.5 L420.6,1540.5 L420.9,1539.5 L421.2,1538.5 L421.5,1537.5 L421.9,1536.5 L422.2,1535.5 L422.5,1534.5 L422.9,1533.5 L423.3,1532.5 L423.7,1531.5 L424.1,1530.5 L424.6,1529.5 L425.1,1528.5 L425.7,1527.5 L426.2,1526.5 L426.8,1525.5 L427.5,1524.5 L428.1,1523.5 L428.7,1522.5 L429.4,1521.5 L430,1520.5 L430.6,1519.5 L431.2,1518.4 L431.8,1517.4 L432.4,1516.4 L433,1515.4 L433.7,1514.4 L434.4,1513.4 L435.1,1512.4 L435.8,1511.4 L436.5,1510.4 L437.1,1509.4 L437.7,1508.4 L438.2,1507.4 L438.6,1506.4 L438.9,1505.4 L439,1504.4 L439.2,1503.4 L439.3,1502.4 L439.4,1501.4 L439.4,1500.4 L439.3,1499.4 L439.1,1498.4 L438.9,1497.4 L438.6,1496.4 L438.2,1495.4 L437.8,1494.4 L437.4,1493.4 L436.9,1492.4 L436.5,1491.4 L436,1490.4 L435.6,1489.4 L435.1,1488.4 L434.6,1487.4 L434.1,1486.3 L433.5,1485.3 L433,1484.3 L432.3,1483.3 L431.7,1482.3 L431.1,1481.3 L430.5,1480.3 L429.8,1479.3 L429.2,1478.3 L428.6,1477.3 L427.9,1476.3 L427.2,1475.3 L426.5,1474.3 L425.8,1473.3 L425.1,1472.3 L424.4,1471.3 L423.7,1470.3 L423.1,1469.3 L422.5,1468.3 L422,1467.3 L421.6,1466.3 L421.1,1465.3 L420.6,1464.3 L420.1,1463.3 L419.7,1462.3 L419.3,1461.3 L419,1460.3 L418.7,1459.3 L418.5,1458.3 L418.5,1457.3 L418.5,1456.3 L418.6,1455.2 L418.8,1454.2 L419,1453.2 L419.3,1452.2 L419.5,1451.2 L419.8,1450.2 L420.1,1449.2 L420.4,1448.2 L420.8,1447.2 L421.2,1446.2 L421.7,1445.2 L422.1,1444.2 L422.6,1443.2 L423.2,1442.2 L423.8,1441.2 L424.5,1440.2 L425.3,1439.2 L426.1,1438.2 L427.1,1437.2 L428,1436.2 L429,1435.2 L430,1434.2 L431.1,1433.2 L432.1,1432.2 L433.1,1431.2 L434,1430.2 L434.9,1429.2 L435.8,1428.2 L436.8,1427.2 L437.8,1426.2 L438.7,1425.2 L439.6,1424.2 L440.3,1423.1 L440.9,1422.1 L441.4,1421.1 L441.9,1420.1 L442.4,1419.1 L442.8,1418.1 L443.1,1417.1 L443.5,1416.1 L443.8,1415.1 L444.2,1414.1 L444.5,1413.1 L444.8,1412.1 L445.2,1411.1 L445.6,1410.1 L445.9,1409.1 L446.3,1408.1 L446.7,1407.1 L447,1406.1 L447.4,1405.1 L447.7,1404.1 L448,1403.1 L448.4,1402.1 L448.7,1401.1 L449.1,1400.1 L449.4,1399.1 L449.7,1398.1 L450,1397.1 L450.3,1396.1 L450.6,1395.1 L450.9,1394.1 L451.2,1393.1 L451.5,1392 L451.8,1391 L452.1,1390 L452.4,1389 L452.7,1388 L453,1387 L453.4,1386 L453.7,1385 L454,1384 L454.4,1383 L454.8,1382 L455.2,1381 L455.6,1380 L455.9,1379 L456.3,1378 L456.7,1377 L457,1376 L457.3,1375 L457.6,1374 L457.9,1373 L458.1,1372 L458.3,1371 L458.5,1370 L458.7,1369 L458.8,1368 L459,1367 L459.1,1366 L459.3,1365Z" fill="#B46FFC"/>
<path d="M580.6,1393.5 L581.1,1394.5 L581.5,1395.5 L582,1396.5 L582.5,1397.5 L583,1398.5 L583.6,1399.5 L584.3,1400.5 L585.3,1401.5 L586.5,1402.5 L587.7,1403.5 L588.7,1404.5 L589.4,1405.5 L589.6,1406.5 L589.7,1407.5 L589.8,1408.5 L589.9,1409.5 L589.9,1410.5 L589.9,1411.5 L589.7,1412.5 L589.2,1413.5 L588.6,1414.6 L588,1415.6 L587.5,1416.6 L587.2,1417.6 L586.9,1418.6 L586.7,1419.6 L586.5,1420.6 L586.6,1421.6 L586.9,1422.6 L587.4,1423.6 L587.9,1424.6 L588.2,1425.6 L588.5,1426.6 L588.9,1427.6 L589.2,1428.6 L589.5,1429.6 L589.6,1430.6 L589.7,1431.6 L589.7,1432.6 L589.6,1433.6 L589.4,1434.6 L589.2,1435.6 L589.1,1436.6 L588.9,1437.6 L588.7,1438.6 L588.5,1439.7 L588.3,1440.7 L588.1,1441.7 L587.9,1442.7 L587.8,1443.7 L587.8,1444.7 L587.9,1445.7 L588,1446.7 L588.2,1447.7 L588.4,1448.7 L588.6,1449.7 L588.8,1450.7 L589.1,1451.7 L589.4,1452.7 L589.9,1453.7 L590.3,1454.7 L590.9,1455.7 L591.4,1456.7 L591.9,1457.7 L592.3,1458.7 L592.7,1459.7 L593,1460.7 L593.3,1461.7 L593.6,1462.7 L593.8,1463.7 L594.1,1464.8 L594.4,1465.8 L594.6,1466.8 L595,1467.8 L595.3,1468.8 L595.6,1469.8 L595.9,1470.8 L596.2,1471.8 L596.5,1472.8 L597,1473.8 L597.4,1474.8 L598.1,1475.8 L599,1476.8 L600.1,1477.8 L601.2,1478.8 L602.3,1479.8 L603.4,1480.8 L604.6,1481.8 L605.8,1482.8 L607.1,1483.8 L608.2,1484.8 L609.1,1485.8 L609.8,1486.8 L610.4,1487.8 L610.8,1488.9 L611.2,1489.9 L611.5,1490.9 L611.8,1491.9 L612.2,1492.9 L612.5,1493.9 L613,1494.9 L613.5,1495.9 L614.1,1496.9 L615.1,1497.9 L616.1,1498.9 L617.3,1499.9 L618.6,1500.9 L619.8,1501.9 L620.9,1502.9 L621.9,1503.9 L622.6,1504.9 L623.3,1505.9 L624,1506.9 L624.6,1507.9 L625.1,1508.9 L625.5,1509.9 L625.6,1510.9 L625.3,1511.9 L624.4,1512.9 L623.1,1514 L621.6,1515 L619.9,1516 L618.2,1517 L616.6,1518 L614.8,1519 L612.8,1520 L610.7,1521 L608.6,1522 L606.4,1523 L604.3,1524 L602.3,1525 L600,1526 L597.4,1527 L594.9,1528 L592.7,1529 L591.1,1530 L590.4,1531 L590.4,1532 L590.4,1533 L590.6,1534 L590.7,1535 L590.9,1536 L591.1,1537 L591.3,1538 L591.4,1539.1 L591.5,1540.1 L591.6,1541.1 L591.6,1542.1 L591.3,1543.1 L590.9,1544.1 L590.3,1545.1 L589.6,1546.1 L588.9,1547.1 L588.3,1548.1 L587.8,1549.1 L587.5,1550.1 L587.3,1551.1 L587.2,1552.1 L587,1553.1 L586.9,1554.1 L586.8,1555.1 L586.7,1556.1 L586.6,1557.1 L586.5,1558.1 L586.3,1559.1 L586.2,1560.1 L586,1561.1 L585.9,1562.1 L585.7,1563.1 L585.5,1564.2 L585.3,1565.2 L585.1,1566.2 L584.8,1567.2 L584.5,1568.2 L584.1,1569.2 L583.8,1570.2 L583.4,1571.2 L583.1,1572.2 L582.8,1573.2 L582.5,1574.2 L582.1,1575.2 L581.7,1576.2 L581.4,1577.2 L581,1578.2 L580.8,1579.2 L580.6,1580.2 L580.6,1581.2 L580.6,1582.2 L580.6,1583.2 L580.6,1584.2 L580.6,1585.2 L580.6,1586.2 L580.6,1587.2 L580.6,1588.2 L580.6,1589.3 L580.6,1590.3 L580.6,1591.3 L580.6,1592.3 L580.6,1593.3 L580.8,1594.3 L581,1595.3 L581.3,1596.3 L581.6,1597.3 L581.9,1598.3 L582.3,1599.3 L582.7,1600.3 L583,1601.3 L583.3,1602.3 L583.7,1603.3 L584.1,1604.3 L584.5,1605.3 L584.9,1606.3 L585.3,1607.3 L585.6,1608.3 L585.8,1609.3 L585.9,1610.3 L585.8,1611.3 L585.5,1612.3 L585,1613.3 L584.5,1614.4 L583.9,1615.4 L583.3,1616.4 L582.9,1617.4 L582.6,1618.4 L582.3,1619.4 L582.1,1620.4 L581.8,1621.4 L581.6,1622.4 L581.4,1623.4 L581.2,1624.4 L581,1625.4 L580.8,1626.4 L580.6,1627.4 L580.6,1627.4 L580.4,1626.4 L580.2,1625.4 L580,1624.4 L579.8,1623.4 L579.6,1622.4 L579.4,1621.4 L579.1,1620.4 L578.9,1619.4 L578.6,1618.4 L578.3,1617.4 L577.9,1616.4 L577.3,1615.4 L576.7,1614.4 L576.2,1613.3 L575.7,1612.3 L575.4,1611.3 L575.3,1610.3 L575.4,1609.3 L575.6,1608.3 L575.9,1607.3 L576.3,1606.3 L576.7,1605.3 L577.1,1604.3 L577.5,1603.3 L577.9,1602.3 L578.2,1601.3 L578.5,1600.3 L578.9,1599.3 L579.3,1598.3 L579.6,1597.3 L579.9,1596.3 L580.2,1595.3 L580.4,1594.3 L580.6,1593.3 L580.6,1592.3 L580.6,1591.3 L580.6,1590.3 L580.6,1589.3 L580.6,1588.2 L580.6,1587.2 L580.6,1586.2 L580.6,1585.2 L580.6,1584.2 L580.6,1583.2 L580.6,1582.2 L580.6,1581.2 L580.6,1580.2 L580.4,1579.2 L580.2,1578.2 L579.8,1577.2 L579.5,1576.2 L579.1,1575.2 L578.7,1574.2 L578.4,1573.2 L578.1,1572.2 L577.8,1571.2 L577.4,1570.2 L577.1,1569.2 L576.7,1568.2 L576.4,1567.2 L576.1,1566.2 L575.9,1565.2 L575.7,1564.2 L575.5,1563.1 L575.3,1562.1 L575.2,1561.1 L575,1560.1 L574.9,1559.1 L574.7,1558.1 L574.6,1557.1 L574.5,1556.1 L574.4,1555.1 L574.3,1554.1 L574.2,1553.1 L574,1552.1 L573.9,1551.1 L573.7,1550.1 L573.4,1549.1 L572.9,1548.1 L572.3,1547.1 L571.6,1546.1 L570.9,1545.1 L570.3,1544.1 L569.9,1543.1 L569.6,1542.1 L569.6,1541.1 L569.7,1540.1 L569.8,1539.1 L569.9,1538 L570.1,1537 L570.3,1536 L570.5,1535 L570.6,1534 L570.8,1533 L570.8,1532 L570.8,1531 L570.1,1530 L568.5,1529 L566.3,1528 L563.8,1527 L561.2,1526 L558.9,1525 L556.9,1524 L554.8,1523 L552.6,1522 L550.5,1521 L548.4,1520 L546.4,1519 L544.6,1518 L543,1517 L541.3,1516 L539.6,1515 L538.1,1514 L536.8,1512.9 L535.9,1511.9 L535.6,1510.9 L535.7,1509.9 L536.1,1508.9 L536.6,1507.9 L537.2,1506.9 L537.9,1505.9 L538.6,1504.9 L539.3,1503.9 L540.3,1502.9 L541.4,1501.9 L542.6,1500.9 L543.9,1499.9 L545.1,1498.9 L546.1,1497.9 L547.1,1496.9 L547.7,1495.9 L548.2,1494.9 L548.7,1493.9 L549,1492.9 L549.4,1491.9 L549.7,1490.9 L550,1489.9 L550.4,1488.9 L550.8,1487.8 L551.4,1486.8 L552.1,1485.8 L553,1484.8 L554.1,1483.8 L555.4,1482.8 L556.6,1481.8 L557.8,1480.8 L558.9,1479.8 L560,1478.8 L561.1,1477.8 L562.2,1476.8 L563.1,1475.8 L563.8,1474.8 L564.2,1473.8 L564.7,1472.8 L565,1471.8 L565.3,1470.8 L565.6,1469.8 L565.9,1468.8 L566.2,1467.8 L566.6,1466.8 L566.8,1465.8 L567.1,1464.8 L567.4,1463.7 L567.6,1462.7 L567.9,1461.7 L568.2,1460.7 L568.5,1459.7 L568.9,1458.7 L569.3,1457.7 L569.8,1456.7 L570.3,1455.7 L570.9,1454.7 L571.3,1453.7 L571.8,1452.7 L572.1,1451.7 L572.4,1450.7 L572.6,1449.7 L572.8,1448.7 L573,1447.7 L573.2,1446.7 L573.3,1445.7 L573.4,1444.7 L573.4,1443.7 L573.3,1442.7 L573.1,1441.7 L572.9,1440.7 L572.7,1439.7 L572.5,1438.6 L572.3,1437.6 L572.1,1436.6 L572,1435.6 L571.8,1434.6 L571.6,1433.6 L571.5,1432.6 L571.5,1431.6 L571.6,1430.6 L571.7,1429.6 L572,1428.6 L572.3,1427.6 L572.7,1426.6 L573,1425.6 L573.3,1424.6 L573.8,1423.6 L574.3,1422.6 L574.6,1421.6 L574.7,1420.6 L574.5,1419.6 L574.3,1418.6 L574,1417.6 L573.7,1416.6 L573.2,1415.6 L572.6,1414.6 L572,1413.5 L571.5,1412.5 L571.3,1411.5 L571.3,1410.5 L571.3,1409.5 L571.4,1408.5 L571.5,1407.5 L571.6,1406.5 L571.8,1405.5 L572.5,1404.5 L573.5,1403.5 L574.7,1402.5 L575.9,1401.5 L576.9,1400.5 L577.6,1399.5 L578.2,1398.5 L578.7,1397.5 L579.2,1396.5 L579.7,1395.5 L580.1,1394.5 L580.6,1393.5Z" fill="#FF57AF"/>
<circle class="d" cx="223.4" cy="1464.7" r="4.1"/>
<circle class="d" cx="231.4" cy="1473.7" r="4.1"/>
<circle class="d" cx="223" cy="1497.2" r="4.1"/>
<circle class="d" cx="229.9" cy="1519.3" r="4.1"/>
<circle class="d" cx="219.1" cy="1553.5" r="4.1"/>
<circle class="d" cx="234.6" cy="1581.6" r="4.1"/>
<circle class="d" cx="203.8" cy="1656.2" r="4.1"/>
<circle class="d" cx="199.6" cy="1664.7" r="4.1"/>
<circle class="d" cx="232.1" cy="1691.2" r="4.1"/>
<circle class="d" cx="234.6" cy="1702.5" r="4.1"/>
<circle class="d" cx="193.3" cy="1744.6" r="4.1"/>
<circle class="d" cx="224.7" cy="1744.6" r="4.1"/>
<circle class="d" cx="338.6" cy="1444.3" r="4.1"/>
<circle class="d" cx="339.3" cy="1452.6" r="4.1"/>
<circle class="d" cx="344.7" cy="1451.8" r="4.1"/>
<circle class="d" cx="326.7" cy="1464.2" r="4.1"/>
<circle class="d" cx="327.2" cy="1482.1" r="4.1"/>
<circle class="d" cx="315" cy="1490.6" r="4.1"/>
<circle class="d" cx="323.3" cy="1489.9" r="4.1"/>
<circle class="d" cx="342.9" cy="1486.7" r="4.1"/>
<circle class="d" cx="315.3" cy="1530.7" r="4.1"/>
<circle class="d" cx="348.4" cy="1553.2" r="4.1"/>
<circle class="d" cx="317.9" cy="1568.8" r="4.1"/>
<circle class="d" cx="340.6" cy="1568.1" r="4.1"/>
<circle class="d" cx="320" cy="1585.2" r="4.1"/>
<circle class="d" cx="360.7" cy="1581.4" r="4.1"/>
<circle class="d" cx="325.9" cy="1620.7" r="4.1"/>
<circle class="d" cx="322.9" cy="1664.4" r="4.1"/>
<circle class="d" cx="471.9" cy="1401.7" r="4.1"/>
<circle class="d" cx="436.4" cy="1423.5" r="4.1"/>
<circle class="d" cx="437.2" cy="1441.2" r="4.1"/>
<circle class="d" cx="441" cy="1448.6" r="4.1"/>
<circle class="d" cx="463.8" cy="1448.4" r="4.1"/>
<circle class="d" cx="446.6" cy="1458.7" r="4.1"/>
<circle class="d" cx="463.8" cy="1465.5" r="4.1"/>
<circle class="d" cx="441.1" cy="1472.3" r="4.1"/>
<circle class="d" cx="457.5" cy="1482" r="4.1"/>
<circle class="d" cx="459.6" cy="1494.7" r="4.1"/>
<circle class="d" cx="449.4" cy="1521.9" r="4.1"/>
<circle class="d" cx="457.5" cy="1523.7" r="4.1"/>
<circle class="d" cx="474.3" cy="1529.1" r="4.1"/>
<circle class="d" cx="468.7" cy="1541.2" r="4.1"/>
<circle class="d" cx="463.8" cy="1554.9" r="4.1"/>
<circle class="d" cx="438.6" cy="1557.7" r="4.1"/>
<circle class="d" cx="460.9" cy="1569.8" r="4.1"/>
<circle class="d" cx="461.3" cy="1574.2" r="4.1"/>
<circle class="d" cx="446.6" cy="1580.8" r="4.1"/>
<circle class="d" cx="483.1" cy="1589.7" r="4.1"/>
<circle class="d" cx="476.2" cy="1595.6" r="4.1"/>
<circle class="d" cx="480.9" cy="1604.7" r="4.1"/>
<circle class="d" cx="472.1" cy="1609" r="4.1"/>
<circle class="d" cx="568.4" cy="1411.7" r="4.1"/>
<circle class="d" cx="587.7" cy="1409.1" r="4.1"/>
<circle class="d" cx="599.6" cy="1427.3" r="4.1"/>
<circle class="d" cx="604.7" cy="1435.6" r="4.1"/>
<circle class="d" cx="581.2" cy="1448.5" r="4.1"/>
<circle class="d" cx="571.3" cy="1458.8" r="4.1"/>
<circle class="d" cx="604.2" cy="1464.9" r="4.1"/>
<circle class="d" cx="596" cy="1470.5" r="4.1"/>
<circle class="d" cx="563.6" cy="1477.9" r="4.1"/>
<circle class="d" cx="600.7" cy="1482.9" r="4.1"/>
<circle class="d" cx="557.8" cy="1486.1" r="4.1"/>
<circle class="d" cx="580.3" cy="1487.7" r="4.1"/>
<circle class="d" cx="588.6" cy="1491.4" r="4.1"/>
<circle class="d" cx="596.2" cy="1490.3" r="4.1"/>
<circle class="d" cx="589.9" cy="1496.7" r="4.1"/>
<circle class="d" cx="560.8" cy="1504.1" r="4.1"/>
<circle class="d" cx="568.7" cy="1502.3" r="4.1"/>
<circle class="d" cx="592" cy="1502.7" r="4.1"/>
<circle class="d" cx="597.3" cy="1503.6" r="4.1"/>
<circle class="d" cx="598.9" cy="1504.3" r="4.1"/>
<circle class="d" cx="590.2" cy="1509.9" r="4.1"/>
<circle class="d" cx="560.4" cy="1513.6" r="4.1"/>
<circle class="d" cx="566.6" cy="1516.3" r="4.1"/>
<circle class="d" cx="598.3" cy="1516.8" r="4.1"/>
<circle class="d" cx="597.8" cy="1519.2" r="4.1"/>
<circle class="d" cx="574.2" cy="1522.6" r="4.1"/>
<circle class="d" cx="598.3" cy="1536.9" r="4.1"/>
<circle class="d" cx="581.6" cy="1543" r="4.1"/>
<circle class="d" cx="564.7" cy="1552" r="4.1"/>
<circle class="d" cx="594.1" cy="1566.9" r="4.1"/>
<circle class="d" cx="598.9" cy="1610.3" r="4.1"/>
</g>
<line x1="216.9" x2="216.9" y1="1511.1" y2="1726" stroke="#1610F0" stroke-width="2.8"/>
<circle cx="216.9" cy="1618.2" r="8.3" fill="#1414F0"/>
<line x1="338.6" x2="338.6" y1="1460.5" y2="1593.8" stroke="#1610F0" stroke-width="2.8"/>
<circle cx="338.6" cy="1527.1" r="8.3" fill="#1414F0"/>
<line x1="459.3" x2="459.3" y1="1456.5" y2="1580.4" stroke="#1610F0" stroke-width="2.8"/>
<circle cx="459.3" cy="1518.5" r="8.3" fill="#1414F0"/>
<line x1="580.6" x2="580.6" y1="1454.9" y2="1539.5" stroke="#1610F0" stroke-width="2.8"/>
<circle cx="580.6" cy="1497" r="8.3" fill="#1414F0"/>
<g stroke="#333333" stroke-width="3.4">
<line x1="137.5" x2="145" y1="1744.6" y2="1744.6"/>
<line x1="137.5" x2="145" y1="1691.4" y2="1691.4"/>
<line x1="137.5" x2="145" y1="1638.2" y2="1638.2"/>
<line x1="137.5" x2="145" y1="1585" y2="1585"/>
<line x1="137.5" x2="145" y1="1531.8" y2="1531.8"/>
<line x1="137.5" x2="145" y1="1478.6" y2="1478.6"/>
<line x1="137.5" x2="145" y1="1425.4" y2="1425.4"/>
<line x1="137.5" x2="145" y1="1372.2" y2="1372.2"/>
<line x1="216.9" x2="216.9" y1="1765" y2="1772.5"/>
<line x1="338.6" x2="338.6" y1="1765" y2="1772.5"/>
<line x1="459.3" x2="459.3" y1="1765" y2="1772.5"/>
<line x1="580.6" x2="580.6" y1="1765" y2="1772.5"/>
</g>
<path d="M145,1325.8 V1765 H651.9" fill="none" stroke="#000" stroke-width="2.8"/>
<g font-family="'Liberation Sans', Arial, Helvetica, sans-serif" font-size="31" fill="#000">
<text x="131.5" y="1755.8" text-anchor="end">0</text>
<text x="131.5" y="1702.6" text-anchor="end">2</text>
<text x="131.5" y="1649.4" text-anchor="end">4</text>
<text x="131.5" y="1596.2" text-anchor="end">6</text>
<text x="131.5" y="1543" text-anchor="end">8</text>
<text x="131.5" y="1489.8" text-anchor="end">10</text>
<text x="131.5" y="1436.6" text-anchor="end">12</text>
<text x="131.5" y="1383.4" text-anchor="end">14</text>
<text x="216.9" y="1800" text-anchor="middle" font-size="31.8">AAH</text>
<text x="338.6" y="1800" text-anchor="middle" font-size="31.8">AIS</text>
<text x="459.3" y="1800" text-anchor="middle" font-size="31.8">MIA</text>
<text x="580.6" y="1800" text-anchor="middle" font-size="31.8">ADC</text>
</g>
<text x="398.4" y="1832.3" text-anchor="middle" font-family="'Liberation Sans', Arial, Helvetica, sans-serif" font-weight="bold" font-size="26.6">Stages</text>
<text transform="translate(84.7,1544.6) rotate(-90)" text-anchor="middle" font-family="'Liberation Sans', Arial, Helvetica, sans-serif" font-size="26.1">log2( Number of DMRs in repetitive regions</text>
<text transform="translate(144.3,1312) scale(1,1.07)" font-family="'Liberation Sans', Arial, Helvetica, sans-serif" font-size="30" letter-spacing="-0.5" fill="#CD3131">p−value = 0.0054 (Kruskal−Wallis test)</text>
<text x="-3.5" y="1281.5" font-family="'DejaVu Sans', 'Liberation Sans', sans-serif" font-size="53" fill="#000" stroke="#000" stroke-width="1.1">e</text>
<text x="669.6" y="1356.1" font-family="'Liberation Sans', Arial, Helvetica, sans-serif" font-size="26.4">Stage</text>
<rect x="670.8" y="1372.1" width="28" height="26.9" fill="#EE9D63"/>
<line x1="684.8" x2="684.8" y1="1374" y2="1397" stroke="#1010FF" stroke-width="2.6"/>
<circle cx="684.8" cy="1385.5" r="8" fill="#1414F0"/>
<text x="712" y="1394.1" font-family="'Liberation Sans', Arial, Helvetica, sans-serif" font-size="23.7">AAH</text>
<rect x="670.8" y="1400.5" width="28" height="26.9" fill="#60AEFC"/>
<line x1="684.8" x2="684.8" y1="1402.5" y2="1425.5" stroke="#1010FF" stroke-width="2.6"/>
<circle cx="684.8" cy="1414" r="8" fill="#1414F0"/>
<text x="712" y="1422.5" font-family="'Liberation Sans', Arial, Helvetica, sans-serif" font-size="23.7">AIS</text>
<rect x="670.8" y="1428.9" width="28" height="26.9" fill="#B46FFC"/>
<line x1="684.8" x2="684.8" y1="1430.8" y2="1453.8" stroke="#1010FF" stroke-width="2.6"/>
<circle cx="684.8" cy="1442.3" r="8" fill="#1414F0"/>
<text x="712" y="1450.9" font-family="'Liberation Sans', Arial, Helvetica, sans-serif" font-size="23.7">MIA</text>
<rect x="670.8" y="1457.3" width="28" height="26.9" fill="#FF57AF"/>
<line x1="684.8" x2="684.8" y1="1459.2" y2="1482.2" stroke="#1010FF" stroke-width="2.6"/>
<circle cx="684.8" cy="1470.8" r="8" fill="#1414F0"/>
<text x="712" y="1479.3" font-family="'Liberation Sans', Arial, Helvetica, sans-serif" font-size="23.7">ADC</text>
<clipPath id="c5"><rect x="943.7" y="1322.6" width="508.3" height="440.6"/></clipPath>
<rect x="943.7" y="1322.6" width="508.3" height="440.6" fill="#F8F9FD"/>
<g stroke="#FFFFFF"><line x1="943.7" x2="1452" y1="1742.4" y2="1742.4" stroke-width="1.6"/><line x1="943.7" x2="1452" y1="1715.8" y2="1715.8" stroke-width="0.9"/><line x1="943.7" x2="1452" y1="1689.2" y2="1689.2" stroke-width="1.6"/><line x1="943.7" x2="1452" y1="1662.6" y2="1662.6" stroke-width="0.9"/><line x1="943.7" x2="1452" y1="1636" y2="1636" stroke-width="1.6"/><line x1="943.7" x2="1452" y1="1609.4" y2="1609.4" stroke-width="0.9"/><line x1="943.7" x2="1452" y1="1582.8" y2="1582.8" stroke-width="1.6"/><line x1="943.7" x2="1452" y1="1556.2" y2="1556.2" stroke-width="0.9"/><line x1="943.7" x2="1452" y1="1529.6" y2="1529.6" stroke-width="1.6"/><line x1="943.7" x2="1452" y1="1503" y2="1503" stroke-width="0.9"/><line x1="943.7" x2="1452" y1="1476.4" y2="1476.4" stroke-width="1.6"/><line x1="943.7" x2="1452" y1="1449.8" y2="1449.8" stroke-width="0.9"/><line x1="943.7" x2="1452" y1="1423.2" y2="1423.2" stroke-width="1.6"/><line x1="943.7" x2="1452" y1="1396.6" y2="1396.6" stroke-width="0.9"/><line x1="943.7" x2="1452" y1="1370" y2="1370" stroke-width="1.6"/><line x1="943.7" x2="1452" y1="1343.4" y2="1343.4" stroke-width="0.9"/><line x1="1015.8" x2="1015.8" y1="1322.6" y2="1763.2" stroke-width="1.6"/><line x1="1137.5" x2="1137.5" y1="1322.6" y2="1763.2" stroke-width="1.6"/><line x1="1259.2" x2="1259.2" y1="1322.6" y2="1763.2" stroke-width="1.6"/><line x1="1380.5" x2="1380.5" y1="1322.6" y2="1763.2" stroke-width="1.6"/></g>
<g clip-path="url(#c5)">
<path d="M1015.8,1321.8 L1016,1322.8 L1016.2,1323.8 L1016.4,1324.8 L1016.6,1325.8 L1016.9,1326.9 L1017.1,1327.9 L1017.3,1328.9 L1017.5,1329.9 L1017.7,1330.9 L1017.9,1331.9 L1018.1,1332.9 L1018.3,1333.9 L1018.6,1334.9 L1018.8,1335.9 L1019.1,1336.9 L1019.3,1337.9 L1019.6,1338.9 L1019.9,1339.9 L1020.2,1340.9 L1020.5,1341.9 L1020.8,1342.9 L1021.1,1343.9 L1021.4,1344.9 L1021.8,1345.9 L1022.1,1346.9 L1022.5,1347.9 L1022.9,1348.9 L1023.3,1349.9 L1023.7,1350.9 L1024.1,1351.9 L1024.5,1352.9 L1024.9,1353.9 L1025.4,1354.9 L1025.8,1355.9 L1026.3,1356.9 L1026.8,1357.9 L1027.3,1358.9 L1027.9,1359.9 L1028.6,1360.9 L1029.2,1361.9 L1029.9,1362.9 L1030.6,1363.9 L1031.3,1364.9 L1032.1,1365.9 L1032.8,1366.9 L1033.5,1367.9 L1034.3,1368.9 L1035,1369.9 L1035.8,1370.9 L1036.5,1371.9 L1037.2,1372.9 L1037.9,1373.9 L1038.6,1374.9 L1039.2,1375.9 L1039.8,1376.9 L1040.4,1377.9 L1041.1,1378.9 L1041.7,1379.9 L1042.3,1380.9 L1042.9,1381.9 L1043.5,1382.9 L1044.1,1383.9 L1044.7,1384.9 L1045.3,1385.9 L1045.9,1386.9 L1046.5,1387.9 L1047.1,1388.9 L1047.6,1389.9 L1048.2,1390.9 L1048.7,1391.9 L1049.3,1392.9 L1049.8,1393.9 L1050.3,1394.9 L1050.8,1395.9 L1051.3,1396.9 L1051.8,1397.9 L1052.3,1398.9 L1052.8,1399.9 L1053.3,1400.9 L1053.8,1401.9 L1054.2,1402.9 L1054.7,1403.9 L1055.2,1404.9 L1055.6,1405.9 L1056,1406.9 L1056.4,1407.9 L1056.8,1408.9 L1057.2,1409.9 L1057.5,1410.9 L1057.8,1411.9 L1058.1,1412.9 L1058.3,1413.9 L1058.6,1414.9 L1058.9,1415.9 L1059.2,1416.9 L1059.4,1417.9 L1059.7,1418.9 L1059.9,1419.9 L1060.1,1420.9 L1060.3,1421.9 L1060.5,1422.9 L1060.7,1423.9 L1060.8,1424.9 L1060.8,1425.9 L1060.9,1426.9 L1060.9,1427.9 L1060.8,1428.9 L1060.8,1429.9 L1060.7,1430.9 L1060.7,1431.9 L1060.6,1432.9 L1060.5,1433.9 L1060.4,1434.9 L1060.3,1435.9 L1060.1,1436.9 L1060,1437.9 L1059.9,1438.9 L1059.8,1439.9 L1059.6,1440.9 L1059.5,1441.9 L1059.3,1442.9 L1059.1,1443.9 L1058.8,1444.9 L1058.6,1445.9 L1058.3,1446.9 L1058.1,1447.9 L1057.8,1448.9 L1057.5,1449.9 L1057.2,1451 L1056.9,1452 L1056.6,1453 L1056.3,1454 L1056,1455 L1055.8,1456 L1055.5,1457 L1055.3,1458 L1055,1459 L1054.8,1460 L1054.6,1461 L1054.3,1462 L1054.1,1463 L1053.9,1464 L1053.7,1465 L1053.5,1466 L1053.3,1467 L1053,1468 L1052.8,1469 L1052.6,1470 L1052.4,1471 L1052.2,1472 L1052,1473 L1051.8,1474 L1051.6,1475 L1051.4,1476 L1051.2,1477 L1051,1478 L1050.8,1479 L1050.6,1480 L1050.4,1481 L1050.2,1482 L1050,1483 L1049.8,1484 L1049.6,1485 L1049.4,1486 L1049.2,1487 L1049.1,1488 L1048.9,1489 L1048.7,1490 L1048.5,1491 L1048.3,1492 L1048.2,1493 L1048,1494 L1047.8,1495 L1047.7,1496 L1047.5,1497 L1047.3,1498 L1047.2,1499 L1047,1500 L1046.9,1501 L1046.7,1502 L1046.6,1503 L1046.4,1504 L1046.3,1505 L1046.1,1506 L1046,1507 L1045.8,1508 L1045.7,1509 L1045.5,1510 L1045.4,1511 L1045.2,1512 L1045.1,1513 L1045,1514 L1044.8,1515 L1044.7,1516 L1044.5,1517 L1044.3,1518 L1044.2,1519 L1044,1520 L1043.8,1521 L1043.7,1522 L1043.5,1523 L1043.4,1524 L1043.3,1525 L1043.2,1526 L1043.1,1527 L1043,1528 L1042.9,1529 L1042.9,1530 L1042.8,1531 L1042.8,1532 L1042.8,1533 L1042.7,1534 L1042.7,1535 L1042.7,1536 L1042.6,1537 L1042.6,1538 L1042.6,1539 L1042.6,1540 L1042.6,1541 L1042.6,1542 L1042.6,1543 L1042.6,1544 L1042.7,1545 L1042.8,1546 L1042.9,1547 L1043,1548 L1043.2,1549 L1043.3,1550 L1043.5,1551 L1043.6,1552 L1043.8,1553 L1044,1554 L1044.2,1555 L1044.4,1556 L1044.6,1557 L1044.8,1558 L1045.1,1559 L1045.5,1560 L1045.8,1561 L1046.2,1562 L1046.6,1563 L1047,1564 L1047.4,1565 L1047.8,1566 L1048.2,1567 L1048.6,1568 L1048.9,1569 L1049.3,1570 L1049.7,1571 L1050.1,1572 L1050.4,1573 L1050.8,1574 L1051.2,1575.1 L1051.6,1576.1 L1052,1577.1 L1052.3,1578.1 L1052.7,1579.1 L1053,1580.1 L1053.4,1581.1 L1053.7,1582.1 L1054,1583.1 L1054.3,1584.1 L1054.6,1585.1 L1054.9,1586.1 L1055.2,1587.1 L1055.5,1588.1 L1055.8,1589.1 L1056.1,1590.1 L1056.3,1591.1 L1056.6,1592.1 L1056.8,1593.1 L1057,1594.1 L1057.1,1595.1 L1057.3,1596.1 L1057.4,1597.1 L1057.4,1598.1 L1057.5,1599.1 L1057.6,1600.1 L1057.6,1601.1 L1057.7,1602.1 L1057.8,1603.1 L1057.8,1604.1 L1057.8,1605.1 L1057.9,1606.1 L1057.9,1607.1 L1057.9,1608.1 L1057.9,1609.1 L1057.8,1610.1 L1057.7,1611.1 L1057.5,1612.1 L1057.3,1613.1 L1057,1614.1 L1056.7,1615.1 L1056.4,1616.1 L1056,1617.1 L1055.6,1618.1 L1055.1,1619.1 L1054.7,1620.1 L1054.2,1621.1 L1053.7,1622.1 L1053.2,1623.1 L1052.7,1624.1 L1052.2,1625.1 L1051.5,1626.1 L1050.8,1627.1 L1049.9,1628.1 L1049,1629.1 L1048.1,1630.1 L1047.1,1631.1 L1046.2,1632.1 L1045.2,1633.1 L1044.4,1634.1 L1043.6,1635.1 L1042.9,1636.1 L1042.2,1637.1 L1041.5,1638.1 L1040.8,1639.1 L1040.1,1640.1 L1039.4,1641.1 L1038.7,1642.1 L1038,1643.1 L1037.4,1644.1 L1036.8,1645.1 L1036.2,1646.1 L1035.6,1647.1 L1035.1,1648.1 L1034.6,1649.1 L1034.2,1650.1 L1033.8,1651.1 L1033.4,1652.1 L1033.1,1653.1 L1032.8,1654.1 L1032.5,1655.1 L1032.2,1656.1 L1032,1657.1 L1031.7,1658.1 L1031.4,1659.1 L1031.2,1660.1 L1030.9,1661.1 L1030.7,1662.1 L1030.5,1663.1 L1030.3,1664.1 L1030.1,1665.1 L1030,1666.1 L1029.9,1667.1 L1029.8,1668.1 L1029.7,1669.1 L1029.7,1670.1 L1029.7,1671.1 L1029.7,1672.1 L1029.7,1673.1 L1029.7,1674.1 L1029.7,1675.1 L1029.7,1676.1 L1029.7,1677.1 L1029.8,1678.1 L1029.8,1679.1 L1029.8,1680.1 L1029.9,1681.1 L1030,1682.1 L1030.1,1683.1 L1030.3,1684.1 L1030.5,1685.1 L1030.7,1686.1 L1031,1687.1 L1031.3,1688.1 L1031.6,1689.1 L1031.9,1690.1 L1032.3,1691.1 L1032.7,1692.1 L1033,1693.1 L1033.4,1694.1 L1033.8,1695.1 L1034.2,1696.1 L1034.6,1697.1 L1035,1698.1 L1035.4,1699.1 L1035.9,1700.2 L1036.4,1701.2 L1036.9,1702.2 L1037.5,1703.2 L1038.2,1704.2 L1038.8,1705.2 L1039.5,1706.2 L1040.1,1707.2 L1040.8,1708.2 L1041.5,1709.2 L1042.2,1710.2 L1042.8,1711.2 L1043.5,1712.2 L1044.1,1713.2 L1044.6,1714.2 L1045.2,1715.2 L1045.7,1716.2 L1046.2,1717.2 L1046.8,1718.2 L1047.4,1719.2 L1047.9,1720.2 L1048.5,1721.2 L1049,1722.2 L1049.5,1723.2 L1050,1724.2 L1050.4,1725.2 L1050.8,1726.2 L1051.2,1727.2 L1051.5,1728.2 L1051.7,1729.2 L1051.8,1730.2 L1052,1731.2 L1052.1,1732.2 L1052.2,1733.2 L1052.3,1734.2 L1052.4,1735.2 L1052.5,1736.2 L1052.6,1737.2 L1052.6,1738.2 L1052.7,1739.2 L1052.7,1740.2 L1052.7,1741.2 L1052.7,1742.2 L1052.6,1743.2 L1052.4,1744.2 L1052.1,1745.2 L1051.8,1746.2 L1051.5,1747.2 L1051.1,1748.2 L1050.7,1749.2 L1050.3,1750.2 L1050,1751.2 L1049.6,1752.2 L1049.3,1753.2 L1049,1754.2 L1048.7,1755.2 L1048.5,1756.2 L1048.3,1757.2 L1048.1,1758.2 L1047.9,1759.2 L1047.6,1760.2 L1047.3,1761.2 L1046.8,1762.2 L1046.2,1763.2 L1045.5,1764.2 L1044.7,1765.2 L1043.7,1766.2 L1042.7,1767.2 L1041.6,1768.2 L1040.4,1769.2 L1039.2,1770.2 L1038,1771.2 L1036.8,1772.2 L1035.6,1773.2 L1034.4,1774.2 L1033.2,1775.2 L1031.9,1776.2 L1030.5,1777.2 L1029.1,1778.2 L1027.7,1779.2 L1026.2,1780.2 L1024.8,1781.2 L1023.2,1782.2 L1021.7,1783.2 L1020.2,1784.2 L1018.7,1785.2 L1017.2,1786.2 L1015.8,1787.2 L1015.8,1787.2 L1014.4,1786.2 L1012.9,1785.2 L1011.4,1784.2 L1009.9,1783.2 L1008.4,1782.2 L1006.8,1781.2 L1005.4,1780.2 L1003.9,1779.2 L1002.5,1778.2 L1001.1,1777.2 L999.7,1776.2 L998.4,1775.2 L997.2,1774.2 L996,1773.2 L994.8,1772.2 L993.6,1771.2 L992.4,1770.2 L991.2,1769.2 L990,1768.2 L988.9,1767.2 L987.9,1766.2 L986.9,1765.2 L986.1,1764.2 L985.4,1763.2 L984.8,1762.2 L984.3,1761.2 L984,1760.2 L983.7,1759.2 L983.5,1758.2 L983.3,1757.2 L983.1,1756.2 L982.9,1755.2 L982.6,1754.2 L982.3,1753.2 L982,1752.2 L981.6,1751.2 L981.3,1750.2 L980.9,1749.2 L980.5,1748.2 L980.1,1747.2 L979.8,1746.2 L979.5,1745.2 L979.2,1744.2 L979,1743.2 L978.9,1742.2 L978.9,1741.2 L978.9,1740.2 L978.9,1739.2 L979,1738.2 L979,1737.2 L979.1,1736.2 L979.2,1735.2 L979.3,1734.2 L979.4,1733.2 L979.5,1732.2 L979.6,1731.2 L979.8,1730.2 L979.9,1729.2 L980.1,1728.2 L980.4,1727.2 L980.8,1726.2 L981.2,1725.2 L981.6,1724.2 L982.1,1723.2 L982.6,1722.2 L983.1,1721.2 L983.7,1720.2 L984.2,1719.2 L984.8,1718.2 L985.4,1717.2 L985.9,1716.2 L986.4,1715.2 L987,1714.2 L987.5,1713.2 L988.1,1712.2 L988.8,1711.2 L989.4,1710.2 L990.1,1709.2 L990.8,1708.2 L991.5,1707.2 L992.1,1706.2 L992.8,1705.2 L993.4,1704.2 L994.1,1703.2 L994.7,1702.2 L995.2,1701.2 L995.7,1700.2 L996.2,1699.1 L996.6,1698.1 L997,1697.1 L997.4,1696.1 L997.8,1695.1 L998.2,1694.1 L998.6,1693.1 L998.9,1692.1 L999.3,1691.1 L999.7,1690.1 L1000,1689.1 L1000.3,1688.1 L1000.6,1687.1 L1000.9,1686.1 L1001.1,1685.1 L1001.3,1684.1 L1001.5,1683.1 L1001.6,1682.1 L1001.7,1681.1 L1001.8,1680.1 L1001.8,1679.1 L1001.8,1678.1 L1001.9,1677.1 L1001.9,1676.1 L1001.9,1675.1 L1001.9,1674.1 L1001.9,1673.1 L1001.9,1672.1 L1001.9,1671.1 L1001.9,1670.1 L1001.9,1669.1 L1001.8,1668.1 L1001.7,1667.1 L1001.6,1666.1 L1001.5,1665.1 L1001.3,1664.1 L1001.1,1663.1 L1000.9,1662.1 L1000.7,1661.1 L1000.4,1660.1 L1000.2,1659.1 L999.9,1658.1 L999.6,1657.1 L999.4,1656.1 L999.1,1655.1 L998.8,1654.1 L998.5,1653.1 L998.2,1652.1 L997.8,1651.1 L997.4,1650.1 L997,1649.1 L996.5,1648.1 L996,1647.1 L995.4,1646.1 L994.8,1645.1 L994.2,1644.1 L993.6,1643.1 L992.9,1642.1 L992.2,1641.1 L991.5,1640.1 L990.8,1639.1 L990.1,1638.1 L989.4,1637.1 L988.7,1636.1 L988,1635.1 L987.2,1634.1 L986.4,1633.1 L985.4,1632.1 L984.5,1631.1 L983.5,1630.1 L982.6,1629.1 L981.7,1628.1 L980.8,1627.1 L980.1,1626.1 L979.4,1625.1 L978.9,1624.1 L978.4,1623.1 L977.9,1622.1 L977.4,1621.1 L976.9,1620.1 L976.5,1619.1 L976,1618.1 L975.6,1617.1 L975.2,1616.1 L974.9,1615.1 L974.6,1614.1 L974.3,1613.1 L974.1,1612.1 L973.9,1611.1 L973.8,1610.1 L973.7,1609.1 L973.7,1608.1 L973.7,1607.1 L973.7,1606.1 L973.8,1605.1 L973.8,1604.1 L973.8,1603.1 L973.9,1602.1 L974,1601.1 L974,1600.1 L974.1,1599.1 L974.2,1598.1 L974.2,1597.1 L974.3,1596.1 L974.5,1595.1 L974.6,1594.1 L974.8,1593.1 L975,1592.1 L975.3,1591.1 L975.5,1590.1 L975.8,1589.1 L976.1,1588.1 L976.4,1587.1 L976.7,1586.1 L977,1585.1 L977.3,1584.1 L977.6,1583.1 L977.9,1582.1 L978.2,1581.1 L978.6,1580.1 L978.9,1579.1 L979.3,1578.1 L979.6,1577.1 L980,1576.1 L980.4,1575.1 L980.8,1574 L981.2,1573 L981.5,1572 L981.9,1571 L982.3,1570 L982.7,1569 L983,1568 L983.4,1567 L983.8,1566 L984.2,1565 L984.6,1564 L985,1563 L985.4,1562 L985.8,1561 L986.1,1560 L986.5,1559 L986.8,1558 L987,1557 L987.2,1556 L987.4,1555 L987.6,1554 L987.8,1553 L988,1552 L988.1,1551 L988.3,1550 L988.4,1549 L988.6,1548 L988.7,1547 L988.8,1546 L988.9,1545 L989,1544 L989,1543 L989,1542 L989,1541 L989,1540 L989,1539 L989,1538 L989,1537 L988.9,1536 L988.9,1535 L988.9,1534 L988.8,1533 L988.8,1532 L988.8,1531 L988.7,1530 L988.7,1529 L988.6,1528 L988.5,1527 L988.4,1526 L988.3,1525 L988.2,1524 L988.1,1523 L987.9,1522 L987.8,1521 L987.6,1520 L987.4,1519 L987.3,1518 L987.1,1517 L986.9,1516 L986.8,1515 L986.6,1514 L986.5,1513 L986.4,1512 L986.2,1511 L986.1,1510 L985.9,1509 L985.8,1508 L985.6,1507 L985.5,1506 L985.3,1505 L985.2,1504 L985,1503 L984.9,1502 L984.7,1501 L984.6,1500 L984.4,1499 L984.3,1498 L984.1,1497 L983.9,1496 L983.8,1495 L983.6,1494 L983.4,1493 L983.3,1492 L983.1,1491 L982.9,1490 L982.7,1489 L982.5,1488 L982.4,1487 L982.2,1486 L982,1485 L981.8,1484 L981.6,1483 L981.4,1482 L981.2,1481 L981,1480 L980.8,1479 L980.6,1478 L980.4,1477 L980.2,1476 L980,1475 L979.8,1474 L979.6,1473 L979.4,1472 L979.2,1471 L979,1470 L978.8,1469 L978.6,1468 L978.3,1467 L978.1,1466 L977.9,1465 L977.7,1464 L977.5,1463 L977.3,1462 L977,1461 L976.8,1460 L976.6,1459 L976.3,1458 L976.1,1457 L975.8,1456 L975.6,1455 L975.3,1454 L975,1453 L974.7,1452 L974.4,1451 L974.1,1449.9 L973.8,1448.9 L973.5,1447.9 L973.3,1446.9 L973,1445.9 L972.8,1444.9 L972.5,1443.9 L972.3,1442.9 L972.1,1441.9 L972,1440.9 L971.8,1439.9 L971.7,1438.9 L971.6,1437.9 L971.5,1436.9 L971.3,1435.9 L971.2,1434.9 L971.1,1433.9 L971,1432.9 L970.9,1431.9 L970.9,1430.9 L970.8,1429.9 L970.8,1428.9 L970.7,1427.9 L970.7,1426.9 L970.8,1425.9 L970.8,1424.9 L970.9,1423.9 L971.1,1422.9 L971.3,1421.9 L971.5,1420.9 L971.7,1419.9 L971.9,1418.9 L972.2,1417.9 L972.4,1416.9 L972.7,1415.9 L973,1414.9 L973.3,1413.9 L973.5,1412.9 L973.8,1411.9 L974.1,1410.9 L974.4,1409.9 L974.8,1408.9 L975.2,1407.9 L975.6,1406.9 L976,1405.9 L976.4,1404.9 L976.9,1403.9 L977.4,1402.9 L977.8,1401.9 L978.3,1400.9 L978.8,1399.9 L979.3,1398.9 L979.8,1397.9 L980.3,1396.9 L980.8,1395.9 L981.3,1394.9 L981.8,1393.9 L982.3,1392.9 L982.9,1391.9 L983.4,1390.9 L984,1389.9 L984.5,1388.9 L985.1,1387.9 L985.7,1386.9 L986.3,1385.9 L986.9,1384.9 L987.5,1383.9 L988.1,1382.9 L988.7,1381.9 L989.3,1380.9 L989.9,1379.9 L990.5,1378.9 L991.2,1377.9 L991.8,1376.9 L992.4,1375.9 L993,1374.9 L993.7,1373.9 L994.4,1372.9 L995.1,1371.9 L995.8,1370.9 L996.6,1369.9 L997.3,1368.9 L998.1,1367.9 L998.8,1366.9 L999.5,1365.9 L1000.3,1364.9 L1001,1363.9 L1001.7,1362.9 L1002.4,1361.9 L1003,1360.9 L1003.7,1359.9 L1004.3,1358.9 L1004.8,1357.9 L1005.3,1356.9 L1005.8,1355.9 L1006.2,1354.9 L1006.7,1353.9 L1007.1,1352.9 L1007.5,1351.9 L1007.9,1350.9 L1008.3,1349.9 L1008.7,1348.9 L1009.1,1347.9 L1009.5,1346.9 L1009.8,1345.9 L1010.2,1344.9 L1010.5,1343.9 L1010.8,1342.9 L1011.1,1341.9 L1011.4,1340.9 L1011.7,1339.9 L1012,1338.9 L1012.3,1337.9 L1012.5,1336.9 L1012.8,1335.9 L1013,1334.9 L1013.3,1333.9 L1013.5,1332.9 L1013.7,1331.9 L1013.9,1330.9 L1014.1,1329.9 L1014.3,1328.9 L1014.5,1327.9 L1014.7,1326.9 L1015,1325.8 L1015.2,1324.8 L1015.4,1323.8 L1015.6,1322.8 L1015.8,1321.8Z" fill="#EE9D63"/>
<path d="M1137.5,1345.5 L1137.7,1346.5 L1137.8,1347.5 L1138,1348.5 L1138.1,1349.5 L1138.3,1350.5 L1138.4,1351.5 L1138.6,1352.5 L1138.8,1353.5 L1139,1354.5 L1139.3,1355.5 L1139.6,1356.5 L1140,1357.5 L1140.4,1358.5 L1140.8,1359.5 L1141.2,1360.5 L1141.7,1361.5 L1142.3,1362.5 L1142.8,1363.5 L1143.4,1364.5 L1144,1365.5 L1144.6,1366.5 L1145.2,1367.5 L1145.9,1368.5 L1146.7,1369.5 L1147.5,1370.5 L1148.4,1371.5 L1149.3,1372.5 L1150.3,1373.5 L1151.3,1374.5 L1152.4,1375.5 L1153.4,1376.5 L1154.5,1377.5 L1155.5,1378.5 L1156.6,1379.5 L1157.6,1380.5 L1158.5,1381.5 L1159.6,1382.6 L1160.6,1383.6 L1161.6,1384.6 L1162.7,1385.6 L1163.7,1386.6 L1164.8,1387.6 L1165.8,1388.6 L1166.8,1389.6 L1167.8,1390.6 L1168.8,1391.6 L1169.7,1392.6 L1170.6,1393.6 L1171.5,1394.6 L1172.4,1395.6 L1173.2,1396.6 L1174.1,1397.6 L1174.9,1398.6 L1175.8,1399.6 L1176.6,1400.6 L1177.3,1401.6 L1178,1402.6 L1178.6,1403.6 L1179.1,1404.6 L1179.6,1405.6 L1180,1406.6 L1180.4,1407.6 L1180.8,1408.6 L1181.2,1409.6 L1181.5,1410.6 L1181.9,1411.6 L1182.2,1412.6 L1182.4,1413.6 L1182.6,1414.6 L1182.8,1415.6 L1182.8,1416.6 L1182.9,1417.6 L1182.8,1418.6 L1182.6,1419.6 L1182.4,1420.6 L1182.1,1421.6 L1181.7,1422.6 L1181.3,1423.7 L1180.9,1424.7 L1180.4,1425.7 L1179.9,1426.7 L1179.3,1427.7 L1178.6,1428.7 L1177.7,1429.7 L1176.7,1430.7 L1175.6,1431.7 L1174.5,1432.7 L1173.3,1433.7 L1172.2,1434.7 L1171.1,1435.7 L1170.1,1436.7 L1169.1,1437.7 L1168.1,1438.7 L1167,1439.7 L1166,1440.7 L1164.9,1441.7 L1163.9,1442.7 L1162.8,1443.7 L1161.9,1444.7 L1160.9,1445.7 L1160,1446.7 L1159.2,1447.7 L1158.4,1448.7 L1157.8,1449.7 L1157.2,1450.7 L1156.6,1451.7 L1156,1452.7 L1155.5,1453.7 L1154.9,1454.7 L1154.4,1455.7 L1154,1456.7 L1153.6,1457.7 L1153.4,1458.7 L1153.2,1459.7 L1153.2,1460.7 L1153.3,1461.7 L1153.4,1462.7 L1153.6,1463.7 L1153.8,1464.8 L1154.1,1465.8 L1154.3,1466.8 L1154.6,1467.8 L1154.9,1468.8 L1155.2,1469.8 L1155.5,1470.8 L1155.9,1471.8 L1156.3,1472.8 L1156.7,1473.8 L1157.1,1474.8 L1157.5,1475.8 L1158,1476.8 L1158.4,1477.8 L1158.8,1478.8 L1159.2,1479.8 L1159.7,1480.8 L1160.1,1481.8 L1160.5,1482.8 L1161,1483.8 L1161.5,1484.8 L1161.9,1485.8 L1162.4,1486.8 L1162.9,1487.8 L1163.4,1488.8 L1163.9,1489.8 L1164.5,1490.8 L1165.1,1491.8 L1165.8,1492.8 L1166.4,1493.8 L1167.1,1494.8 L1167.8,1495.8 L1168.4,1496.8 L1169.1,1497.8 L1169.7,1498.8 L1170.2,1499.8 L1170.7,1500.8 L1171.1,1501.8 L1171.5,1502.8 L1171.7,1503.8 L1172,1504.9 L1172.2,1505.9 L1172.4,1506.9 L1172.6,1507.9 L1172.7,1508.9 L1172.8,1509.9 L1172.8,1510.9 L1172.5,1511.9 L1172.2,1512.9 L1171.7,1513.9 L1171.2,1514.9 L1170.5,1515.9 L1169.9,1516.9 L1169.2,1517.9 L1168.5,1518.9 L1167.6,1519.9 L1166.6,1520.9 L1165.5,1521.9 L1164.3,1522.9 L1163,1523.9 L1161.7,1524.9 L1160.4,1525.9 L1159,1526.9 L1157.8,1527.9 L1156.5,1528.9 L1155.4,1529.9 L1154.1,1530.9 L1152.8,1531.9 L1151.5,1532.9 L1150.2,1533.9 L1149,1534.9 L1147.8,1535.9 L1146.8,1536.9 L1146,1537.9 L1145.4,1538.9 L1144.9,1539.9 L1144.4,1540.9 L1143.9,1541.9 L1143.5,1542.9 L1143.1,1543.9 L1142.8,1544.9 L1142.5,1546 L1142.3,1547 L1142.2,1548 L1142.1,1549 L1142.1,1550 L1142.2,1551 L1142.3,1552 L1142.5,1553 L1142.8,1554 L1143,1555 L1143.3,1556 L1143.6,1557 L1144.1,1558 L1144.6,1559 L1145.2,1560 L1145.9,1561 L1146.5,1562 L1147.2,1563 L1147.9,1564 L1148.6,1565 L1149.1,1566 L1149.6,1567 L1150,1568 L1150.4,1569 L1150.8,1570 L1151.1,1571 L1151.5,1572 L1151.8,1573 L1152.2,1574 L1152.5,1575 L1152.8,1576 L1153.1,1577 L1153.3,1578 L1153.5,1579 L1153.7,1580 L1153.8,1581 L1153.8,1582 L1153.8,1583 L1153.7,1584 L1153.6,1585 L1153.3,1586.1 L1152.9,1587.1 L1152.5,1588.1 L1152.1,1589.1 L1151.6,1590.1 L1151,1591.1 L1150.5,1592.1 L1149.9,1593.1 L1149.4,1594.1 L1148.9,1595.1 L1148.4,1596.1 L1147.9,1597.1 L1147.5,1598.1 L1147,1599.1 L1146.5,1600.1 L1146,1601.1 L1145.5,1602.1 L1144.9,1603.1 L1144.4,1604.1 L1143.9,1605.1 L1143.5,1606.1 L1143,1607.1 L1142.6,1608.1 L1142.2,1609.1 L1141.8,1610.1 L1141.5,1611.1 L1141.1,1612.1 L1140.8,1613.1 L1140.5,1614.1 L1140.1,1615.1 L1139.8,1616.1 L1139.5,1617.1 L1139.3,1618.1 L1139,1619.1 L1138.8,1620.1 L1138.6,1621.1 L1138.4,1622.1 L1138.2,1623.1 L1138.1,1624.1 L1137.9,1625.1 L1137.8,1626.1 L1137.7,1627.2 L1137.6,1628.2 L1137.5,1629.2 L1137.5,1629.2 L1137.4,1628.2 L1137.3,1627.2 L1137.2,1626.1 L1137.1,1625.1 L1136.9,1624.1 L1136.8,1623.1 L1136.6,1622.1 L1136.4,1621.1 L1136.2,1620.1 L1136,1619.1 L1135.7,1618.1 L1135.5,1617.1 L1135.2,1616.1 L1134.9,1615.1 L1134.5,1614.1 L1134.2,1613.1 L1133.9,1612.1 L1133.5,1611.1 L1133.2,1610.1 L1132.8,1609.1 L1132.4,1608.1 L1132,1607.1 L1131.5,1606.1 L1131.1,1605.1 L1130.6,1604.1 L1130.1,1603.1 L1129.5,1602.1 L1129,1601.1 L1128.5,1600.1 L1128,1599.1 L1127.5,1598.1 L1127.1,1597.1 L1126.6,1596.1 L1126.1,1595.1 L1125.6,1594.1 L1125.1,1593.1 L1124.5,1592.1 L1124,1591.1 L1123.4,1590.1 L1122.9,1589.1 L1122.5,1588.1 L1122.1,1587.1 L1121.7,1586.1 L1121.4,1585 L1121.3,1584 L1121.2,1583 L1121.2,1582 L1121.2,1581 L1121.3,1580 L1121.5,1579 L1121.7,1578 L1121.9,1577 L1122.2,1576 L1122.5,1575 L1122.8,1574 L1123.2,1573 L1123.5,1572 L1123.9,1571 L1124.2,1570 L1124.6,1569 L1125,1568 L1125.4,1567 L1125.9,1566 L1126.4,1565 L1127.1,1564 L1127.8,1563 L1128.5,1562 L1129.1,1561 L1129.8,1560 L1130.4,1559 L1130.9,1558 L1131.4,1557 L1131.7,1556 L1132,1555 L1132.2,1554 L1132.5,1553 L1132.7,1552 L1132.8,1551 L1132.9,1550 L1132.9,1549 L1132.8,1548 L1132.7,1547 L1132.5,1546 L1132.2,1544.9 L1131.9,1543.9 L1131.5,1542.9 L1131.1,1541.9 L1130.6,1540.9 L1130.1,1539.9 L1129.6,1538.9 L1129,1537.9 L1128.2,1536.9 L1127.2,1535.9 L1126,1534.9 L1124.8,1533.9 L1123.5,1532.9 L1122.2,1531.9 L1120.9,1530.9 L1119.6,1529.9 L1118.5,1528.9 L1117.2,1527.9 L1116,1526.9 L1114.6,1525.9 L1113.3,1524.9 L1112,1523.9 L1110.7,1522.9 L1109.5,1521.9 L1108.4,1520.9 L1107.4,1519.9 L1106.5,1518.9 L1105.8,1517.9 L1105.1,1516.9 L1104.5,1515.9 L1103.8,1514.9 L1103.3,1513.9 L1102.8,1512.9 L1102.5,1511.9 L1102.2,1510.9 L1102.2,1509.9 L1102.3,1508.9 L1102.4,1507.9 L1102.6,1506.9 L1102.8,1505.9 L1103,1504.9 L1103.3,1503.8 L1103.5,1502.8 L1103.9,1501.8 L1104.3,1500.8 L1104.8,1499.8 L1105.3,1498.8 L1105.9,1497.8 L1106.6,1496.8 L1107.2,1495.8 L1107.9,1494.8 L1108.6,1493.8 L1109.2,1492.8 L1109.9,1491.8 L1110.5,1490.8 L1111.1,1489.8 L1111.6,1488.8 L1112.1,1487.8 L1112.6,1486.8 L1113.1,1485.8 L1113.5,1484.8 L1114,1483.8 L1114.5,1482.8 L1114.9,1481.8 L1115.3,1480.8 L1115.8,1479.8 L1116.2,1478.8 L1116.6,1477.8 L1117,1476.8 L1117.5,1475.8 L1117.9,1474.8 L1118.3,1473.8 L1118.7,1472.8 L1119.1,1471.8 L1119.5,1470.8 L1119.8,1469.8 L1120.1,1468.8 L1120.4,1467.8 L1120.7,1466.8 L1120.9,1465.8 L1121.2,1464.8 L1121.4,1463.7 L1121.6,1462.7 L1121.7,1461.7 L1121.8,1460.7 L1121.8,1459.7 L1121.6,1458.7 L1121.4,1457.7 L1121,1456.7 L1120.6,1455.7 L1120.1,1454.7 L1119.5,1453.7 L1119,1452.7 L1118.4,1451.7 L1117.8,1450.7 L1117.2,1449.7 L1116.6,1448.7 L1115.8,1447.7 L1115,1446.7 L1114.1,1445.7 L1113.1,1444.7 L1112.2,1443.7 L1111.1,1442.7 L1110.1,1441.7 L1109,1440.7 L1108,1439.7 L1106.9,1438.7 L1105.9,1437.7 L1104.9,1436.7 L1103.9,1435.7 L1102.8,1434.7 L1101.7,1433.7 L1100.5,1432.7 L1099.4,1431.7 L1098.3,1430.7 L1097.3,1429.7 L1096.4,1428.7 L1095.7,1427.7 L1095.1,1426.7 L1094.6,1425.7 L1094.1,1424.7 L1093.7,1423.7 L1093.3,1422.6 L1092.9,1421.6 L1092.6,1420.6 L1092.4,1419.6 L1092.2,1418.6 L1092.1,1417.6 L1092.2,1416.6 L1092.2,1415.6 L1092.4,1414.6 L1092.6,1413.6 L1092.8,1412.6 L1093.1,1411.6 L1093.5,1410.6 L1093.8,1409.6 L1094.2,1408.6 L1094.6,1407.6 L1095,1406.6 L1095.4,1405.6 L1095.9,1404.6 L1096.4,1403.6 L1097,1402.6 L1097.7,1401.6 L1098.4,1400.6 L1099.2,1399.6 L1100.1,1398.6 L1100.9,1397.6 L1101.8,1396.6 L1102.6,1395.6 L1103.5,1394.6 L1104.4,1393.6 L1105.3,1392.6 L1106.2,1391.6 L1107.2,1390.6 L1108.2,1389.6 L1109.2,1388.6 L1110.2,1387.6 L1111.3,1386.6 L1112.3,1385.6 L1113.4,1384.6 L1114.4,1383.6 L1115.4,1382.6 L1116.5,1381.5 L1117.4,1380.5 L1118.4,1379.5 L1119.5,1378.5 L1120.5,1377.5 L1121.6,1376.5 L1122.6,1375.5 L1123.7,1374.5 L1124.7,1373.5 L1125.7,1372.5 L1126.6,1371.5 L1127.5,1370.5 L1128.3,1369.5 L1129.1,1368.5 L1129.8,1367.5 L1130.4,1366.5 L1131,1365.5 L1131.6,1364.5 L1132.2,1363.5 L1132.7,1362.5 L1133.3,1361.5 L1133.8,1360.5 L1134.2,1359.5 L1134.6,1358.5 L1135,1357.5 L1135.4,1356.5 L1135.7,1355.5 L1136,1354.5 L1136.2,1353.5 L1136.4,1352.5 L1136.6,1351.5 L1136.7,1350.5 L1136.9,1349.5 L1137,1348.5 L1137.2,1347.5 L1137.3,1346.5 L1137.5,1345.5Z" fill="#60AEFC"/>
<path d="M1259.2,1331.9 L1259.4,1332.9 L1259.5,1333.9 L1259.7,1334.9 L1259.8,1335.9 L1259.9,1336.9 L1260.1,1337.9 L1260.2,1338.9 L1260.4,1339.9 L1260.6,1340.9 L1260.8,1341.9 L1261,1342.9 L1261.3,1343.9 L1261.6,1344.9 L1262.1,1345.9 L1262.6,1346.9 L1263.1,1347.9 L1263.7,1348.9 L1264.4,1349.9 L1265.1,1350.9 L1265.7,1351.9 L1266.4,1352.9 L1267.1,1353.9 L1267.7,1354.9 L1268.5,1355.9 L1269.2,1356.9 L1270,1357.9 L1270.8,1358.9 L1271.6,1359.9 L1272.4,1360.9 L1273.2,1361.9 L1273.9,1362.9 L1274.8,1363.9 L1275.6,1364.9 L1276.4,1365.9 L1277.2,1366.9 L1278,1367.9 L1278.9,1368.9 L1279.6,1369.9 L1280.4,1370.9 L1281.2,1371.9 L1282,1372.9 L1282.7,1373.9 L1283.5,1374.9 L1284.2,1375.9 L1285,1376.9 L1285.7,1377.9 L1286.5,1378.9 L1287.2,1379.9 L1288,1380.9 L1288.8,1381.9 L1289.5,1382.9 L1290.3,1383.9 L1291.1,1384.9 L1291.9,1385.9 L1292.6,1386.9 L1293.3,1387.9 L1294,1388.9 L1294.6,1389.9 L1295.3,1390.9 L1295.9,1391.9 L1296.6,1392.9 L1297.1,1393.9 L1297.6,1394.9 L1298,1395.9 L1298.3,1396.9 L1298.6,1397.9 L1298.8,1398.9 L1299,1399.9 L1299.1,1400.9 L1299.3,1401.9 L1299.4,1402.9 L1299.4,1403.9 L1299.3,1404.9 L1299.1,1405.9 L1298.9,1406.9 L1298.5,1407.9 L1298.1,1408.9 L1297.7,1409.9 L1297.3,1410.9 L1296.8,1411.9 L1296.4,1412.9 L1295.8,1413.9 L1295.1,1414.9 L1294.4,1415.9 L1293.7,1416.9 L1292.9,1417.9 L1292.2,1418.9 L1291.4,1419.9 L1290.7,1420.9 L1290,1421.9 L1289.3,1422.9 L1288.7,1423.9 L1288.1,1424.9 L1287.5,1425.9 L1286.9,1426.9 L1286.3,1427.9 L1285.8,1428.9 L1285.2,1429.9 L1284.7,1430.9 L1284.3,1431.9 L1283.9,1432.9 L1283.6,1433.9 L1283.3,1434.9 L1283,1435.9 L1282.7,1436.9 L1282.5,1437.9 L1282.2,1438.9 L1282.1,1439.9 L1281.9,1440.9 L1281.8,1441.9 L1281.8,1442.9 L1281.9,1443.9 L1282,1444.9 L1282.2,1445.9 L1282.4,1446.9 L1282.7,1447.9 L1282.9,1448.9 L1283.2,1449.9 L1283.5,1450.9 L1283.8,1451.9 L1284.2,1452.9 L1284.6,1453.9 L1285.1,1454.9 L1285.6,1455.9 L1286,1456.9 L1286.5,1457.9 L1287,1458.9 L1287.4,1459.9 L1287.9,1460.9 L1288.3,1461.9 L1288.6,1462.9 L1289,1463.9 L1289.3,1464.9 L1289.7,1465.9 L1290,1466.9 L1290.4,1467.9 L1290.7,1468.9 L1291,1469.9 L1291.3,1470.9 L1291.6,1471.9 L1291.9,1472.9 L1292.2,1473.9 L1292.5,1474.9 L1292.7,1475.9 L1293,1476.9 L1293.3,1477.9 L1293.5,1478.9 L1293.8,1479.9 L1294,1480.9 L1294.3,1481.9 L1294.5,1482.9 L1294.7,1483.9 L1294.9,1484.9 L1295,1485.9 L1295.1,1486.9 L1295.2,1487.9 L1295.3,1488.9 L1295.4,1489.9 L1295.4,1490.9 L1295.4,1491.9 L1295.5,1492.9 L1295.5,1493.9 L1295.6,1494.9 L1295.7,1495.9 L1295.8,1496.9 L1296,1497.9 L1296.2,1498.9 L1296.4,1499.9 L1296.7,1500.9 L1297,1501.9 L1297.4,1502.9 L1297.8,1503.9 L1298.5,1504.9 L1299.2,1505.9 L1300,1506.9 L1300.7,1507.9 L1301.4,1508.9 L1302,1509.9 L1302.4,1510.9 L1302.8,1511.9 L1303.3,1512.9 L1303.7,1513.9 L1304,1514.9 L1304.3,1515.9 L1304.5,1516.9 L1304.5,1517.9 L1304.4,1518.9 L1304.1,1519.9 L1303.6,1520.9 L1302.9,1521.9 L1302.1,1522.9 L1301.2,1523.9 L1300.2,1524.9 L1299.2,1525.9 L1298.1,1526.9 L1297,1527.9 L1295.9,1528.9 L1294.9,1529.9 L1293.7,1530.9 L1292.4,1531.9 L1291.1,1532.9 L1289.6,1533.9 L1288.1,1534.9 L1286.6,1535.9 L1285.1,1536.9 L1283.7,1537.9 L1282.4,1538.9 L1281.2,1539.9 L1280,1540.9 L1278.9,1541.9 L1277.8,1542.9 L1276.7,1543.9 L1275.6,1544.9 L1274.6,1545.9 L1273.7,1546.9 L1272.9,1547.9 L1272.3,1548.9 L1271.7,1549.9 L1271.2,1550.9 L1270.7,1551.9 L1270.3,1552.9 L1269.9,1553.9 L1269.4,1554.9 L1269,1555.9 L1268.6,1556.9 L1268.2,1557.9 L1267.8,1558.9 L1267.4,1559.9 L1267,1560.9 L1266.5,1561.9 L1266.2,1562.9 L1265.8,1563.9 L1265.4,1564.9 L1265,1565.9 L1264.6,1566.9 L1264.3,1567.9 L1263.9,1568.9 L1263.6,1569.9 L1263.3,1570.9 L1263,1571.9 L1262.7,1572.9 L1262.4,1573.9 L1262.1,1574.9 L1261.8,1575.9 L1261.5,1576.9 L1261.2,1577.9 L1260.9,1578.9 L1260.7,1579.9 L1260.5,1580.9 L1260.3,1581.9 L1260.1,1582.9 L1259.9,1583.9 L1259.8,1584.9 L1259.7,1585.9 L1259.6,1586.9 L1259.4,1587.9 L1259.3,1588.9 L1259.2,1589.9 L1259.2,1589.9 L1259.1,1588.9 L1259,1587.9 L1258.8,1586.9 L1258.7,1585.9 L1258.6,1584.9 L1258.5,1583.9 L1258.3,1582.9 L1258.1,1581.9 L1257.9,1580.9 L1257.7,1579.9 L1257.5,1578.9 L1257.2,1577.9 L1256.9,1576.9 L1256.6,1575.9 L1256.3,1574.9 L1256,1573.9 L1255.7,1572.9 L1255.4,1571.9 L1255.1,1570.9 L1254.8,1569.9 L1254.5,1568.9 L1254.1,1567.9 L1253.8,1566.9 L1253.4,1565.9 L1253,1564.9 L1252.6,1563.9 L1252.2,1562.9 L1251.9,1561.9 L1251.4,1560.9 L1251,1559.9 L1250.6,1558.9 L1250.2,1557.9 L1249.8,1556.9 L1249.4,1555.9 L1249,1554.9 L1248.5,1553.9 L1248.1,1552.9 L1247.7,1551.9 L1247.2,1550.9 L1246.7,1549.9 L1246.1,1548.9 L1245.5,1547.9 L1244.7,1546.9 L1243.8,1545.9 L1242.8,1544.9 L1241.7,1543.9 L1240.6,1542.9 L1239.5,1541.9 L1238.4,1540.9 L1237.2,1539.9 L1236,1538.9 L1234.7,1537.9 L1233.3,1536.9 L1231.8,1535.9 L1230.3,1534.9 L1228.8,1533.9 L1227.3,1532.9 L1226,1531.9 L1224.7,1530.9 L1223.5,1529.9 L1222.5,1528.9 L1221.4,1527.9 L1220.3,1526.9 L1219.2,1525.9 L1218.2,1524.9 L1217.2,1523.9 L1216.3,1522.9 L1215.5,1521.9 L1214.8,1520.9 L1214.3,1519.9 L1214,1518.9 L1213.9,1517.9 L1213.9,1516.9 L1214.1,1515.9 L1214.4,1514.9 L1214.7,1513.9 L1215.1,1512.9 L1215.6,1511.9 L1216,1510.9 L1216.4,1509.9 L1217,1508.9 L1217.7,1507.9 L1218.4,1506.9 L1219.2,1505.9 L1219.9,1504.9 L1220.6,1503.9 L1221,1502.9 L1221.4,1501.9 L1221.7,1500.9 L1222,1499.9 L1222.2,1498.9 L1222.4,1497.9 L1222.6,1496.9 L1222.7,1495.9 L1222.8,1494.9 L1222.9,1493.9 L1222.9,1492.9 L1223,1491.9 L1223,1490.9 L1223,1489.9 L1223.1,1488.9 L1223.2,1487.9 L1223.3,1486.9 L1223.4,1485.9 L1223.5,1484.9 L1223.7,1483.9 L1223.9,1482.9 L1224.1,1481.9 L1224.4,1480.9 L1224.6,1479.9 L1224.9,1478.9 L1225.1,1477.9 L1225.4,1476.9 L1225.7,1475.9 L1225.9,1474.9 L1226.2,1473.9 L1226.5,1472.9 L1226.8,1471.9 L1227.1,1470.9 L1227.4,1469.9 L1227.7,1468.9 L1228,1467.9 L1228.4,1466.9 L1228.7,1465.9 L1229.1,1464.9 L1229.4,1463.9 L1229.8,1462.9 L1230.1,1461.9 L1230.5,1460.9 L1231,1459.9 L1231.4,1458.9 L1231.9,1457.9 L1232.4,1456.9 L1232.8,1455.9 L1233.3,1454.9 L1233.8,1453.9 L1234.2,1452.9 L1234.6,1451.9 L1234.9,1450.9 L1235.2,1449.9 L1235.5,1448.9 L1235.7,1447.9 L1236,1446.9 L1236.2,1445.9 L1236.4,1444.9 L1236.5,1443.9 L1236.6,1442.9 L1236.6,1441.9 L1236.5,1440.9 L1236.3,1439.9 L1236.2,1438.9 L1235.9,1437.9 L1235.7,1436.9 L1235.4,1435.9 L1235.1,1434.9 L1234.8,1433.9 L1234.5,1432.9 L1234.1,1431.9 L1233.7,1430.9 L1233.2,1429.9 L1232.6,1428.9 L1232.1,1427.9 L1231.5,1426.9 L1230.9,1425.9 L1230.3,1424.9 L1229.7,1423.9 L1229.1,1422.9 L1228.4,1421.9 L1227.7,1420.9 L1227,1419.9 L1226.2,1418.9 L1225.5,1417.9 L1224.7,1416.9 L1224,1415.9 L1223.3,1414.9 L1222.6,1413.9 L1222,1412.9 L1221.6,1411.9 L1221.1,1410.9 L1220.7,1409.9 L1220.3,1408.9 L1219.9,1407.9 L1219.5,1406.9 L1219.3,1405.9 L1219.1,1404.9 L1219,1403.9 L1219,1402.9 L1219.1,1401.9 L1219.3,1400.9 L1219.4,1399.9 L1219.6,1398.9 L1219.8,1397.9 L1220.1,1396.9 L1220.4,1395.9 L1220.8,1394.9 L1221.3,1393.9 L1221.8,1392.9 L1222.5,1391.9 L1223.1,1390.9 L1223.8,1389.9 L1224.4,1388.9 L1225.1,1387.9 L1225.8,1386.9 L1226.5,1385.9 L1227.3,1384.9 L1228.1,1383.9 L1228.9,1382.9 L1229.6,1381.9 L1230.4,1380.9 L1231.2,1379.9 L1231.9,1378.9 L1232.7,1377.9 L1233.4,1376.9 L1234.2,1375.9 L1234.9,1374.9 L1235.7,1373.9 L1236.4,1372.9 L1237.2,1371.9 L1238,1370.9 L1238.8,1369.9 L1239.5,1368.9 L1240.4,1367.9 L1241.2,1366.9 L1242,1365.9 L1242.8,1364.9 L1243.6,1363.9 L1244.5,1362.9 L1245.2,1361.9 L1246,1360.9 L1246.8,1359.9 L1247.6,1358.9 L1248.4,1357.9 L1249.2,1356.9 L1249.9,1355.9 L1250.7,1354.9 L1251.3,1353.9 L1252,1352.9 L1252.7,1351.9 L1253.3,1350.9 L1254,1349.9 L1254.7,1348.9 L1255.3,1347.9 L1255.8,1346.9 L1256.3,1345.9 L1256.8,1344.9 L1257.1,1343.9 L1257.4,1342.9 L1257.6,1341.9 L1257.8,1340.9 L1258,1339.9 L1258.2,1338.9 L1258.3,1337.9 L1258.5,1336.9 L1258.6,1335.9 L1258.7,1334.9 L1258.9,1333.9 L1259,1332.9 L1259.2,1331.9Z" fill="#B46FFC"/>
<path d="M1380.5,1335.8 L1380.8,1336.8 L1381.2,1337.8 L1381.5,1338.8 L1381.8,1339.8 L1382.2,1340.8 L1382.6,1341.8 L1383,1342.8 L1383.4,1343.8 L1383.9,1344.8 L1384.5,1345.8 L1385.2,1346.8 L1385.8,1347.8 L1386.5,1348.8 L1387.1,1349.8 L1387.7,1350.8 L1388.2,1351.8 L1388.6,1352.8 L1389,1353.8 L1389.4,1354.9 L1389.8,1355.9 L1390.1,1356.9 L1390.4,1357.9 L1390.5,1358.9 L1390.6,1359.9 L1390.6,1360.9 L1390.4,1361.9 L1390.2,1362.9 L1389.9,1363.9 L1389.7,1364.9 L1389.4,1365.9 L1389.1,1366.9 L1388.9,1367.9 L1388.7,1368.9 L1388.7,1369.9 L1388.7,1370.9 L1388.7,1371.9 L1388.8,1372.9 L1388.8,1373.9 L1388.9,1374.9 L1388.9,1375.9 L1389,1376.9 L1389,1377.9 L1389.1,1378.9 L1389.1,1379.9 L1389.2,1380.9 L1389.2,1381.9 L1389.2,1382.9 L1389.3,1383.9 L1389.3,1384.9 L1389.3,1385.9 L1389.4,1386.9 L1389.4,1387.9 L1389.5,1388.9 L1389.5,1389.9 L1389.7,1390.9 L1390.1,1391.9 L1390.7,1392.9 L1391.4,1393.9 L1392.2,1394.9 L1392.9,1395.9 L1393.7,1396.9 L1394.5,1397.9 L1395.5,1398.9 L1396.5,1399.9 L1397.6,1400.9 L1398.5,1401.9 L1399.4,1402.9 L1400.1,1403.9 L1400.5,1404.9 L1400.9,1405.9 L1401.2,1406.9 L1401.5,1407.9 L1401.8,1408.9 L1402,1409.9 L1402.3,1410.9 L1402.5,1411.9 L1402.8,1412.9 L1403.1,1413.9 L1403.3,1414.9 L1403.6,1415.9 L1403.9,1416.9 L1404.1,1417.9 L1404.4,1418.9 L1404.7,1419.9 L1405,1420.9 L1405.3,1421.9 L1405.7,1422.9 L1406.1,1423.9 L1406.6,1424.9 L1407.2,1425.9 L1407.8,1426.9 L1408.5,1427.9 L1409.1,1428.9 L1409.7,1429.9 L1410.3,1430.9 L1410.8,1431.9 L1411.3,1432.9 L1411.6,1433.9 L1412,1434.9 L1412.3,1435.9 L1412.6,1436.9 L1412.8,1437.9 L1413.1,1438.9 L1413.3,1439.9 L1413.6,1440.9 L1413.8,1441.9 L1414,1442.9 L1414.2,1443.9 L1414.4,1444.9 L1414.5,1445.9 L1414.7,1446.9 L1414.8,1447.9 L1414.9,1448.9 L1415.1,1449.9 L1415.3,1450.9 L1415.5,1451.9 L1415.8,1452.9 L1416.2,1453.9 L1416.6,1454.9 L1417.3,1455.9 L1418.5,1456.9 L1420,1457.9 L1421.5,1458.9 L1422.8,1459.9 L1423.8,1460.9 L1424.4,1461.9 L1425,1462.9 L1425.5,1463.9 L1425.8,1464.9 L1425.9,1465.9 L1425.6,1466.9 L1424.8,1467.9 L1423.8,1468.9 L1422.5,1469.9 L1421.1,1471 L1419.7,1472 L1418,1473 L1415.9,1474 L1413.6,1475 L1411.4,1476 L1409.2,1477 L1407,1478 L1404.7,1479 L1402.4,1480 L1400.1,1481 L1398.1,1482 L1396.4,1483 L1395.1,1484 L1394,1485 L1393,1486 L1392.1,1487 L1391.2,1488 L1390.5,1489 L1390,1490 L1389.6,1491 L1389.3,1492 L1389.1,1493 L1388.9,1494 L1388.8,1495 L1388.6,1496 L1388.5,1497 L1388.4,1498 L1388.3,1499 L1388.2,1500 L1388.1,1501 L1387.9,1502 L1387.7,1503 L1387.5,1504 L1387.2,1505 L1386.9,1506 L1386.6,1507 L1386.3,1508 L1386,1509 L1385.7,1510 L1385.4,1511 L1385.1,1512 L1384.9,1513 L1384.7,1514 L1384.5,1515 L1384.3,1516 L1384.1,1517 L1383.9,1518 L1383.8,1519 L1383.8,1520 L1383.8,1521 L1384,1522 L1384.2,1523 L1384.4,1524 L1384.7,1525 L1385,1526 L1385.2,1527 L1385.4,1528 L1385.5,1529 L1385.5,1530 L1385.4,1531 L1385.2,1532 L1384.9,1533 L1384.5,1534 L1384.1,1535 L1383.7,1536 L1383.3,1537 L1382.9,1538 L1382.6,1539 L1382.3,1540 L1382,1541 L1381.7,1542 L1381.4,1543 L1381.1,1544 L1380.8,1545 L1380.6,1546 L1380.5,1547 L1380.5,1548 L1380.5,1549 L1380.5,1550 L1380.5,1551 L1380.5,1552 L1380.5,1553 L1380.5,1554 L1380.5,1555 L1380.5,1556 L1380.5,1557 L1380.5,1558 L1380.5,1559 L1380.6,1560 L1380.7,1561 L1380.9,1562 L1381.2,1563 L1381.5,1564 L1381.8,1565 L1382.1,1566 L1382.5,1567 L1382.8,1568 L1383.1,1569 L1383.3,1570 L1383.7,1571 L1384,1572 L1384.4,1573 L1384.8,1574 L1385.1,1575 L1385.4,1576 L1385.5,1577 L1385.6,1578 L1385.5,1579 L1385.3,1580 L1385,1581 L1384.6,1582 L1384.2,1583 L1383.9,1584 L1383.5,1585 L1383.2,1586.1 L1382.9,1587.1 L1382.7,1588.1 L1382.4,1589.1 L1382.2,1590.1 L1381.9,1591.1 L1381.7,1592.1 L1381.5,1593.1 L1381.2,1594.1 L1381,1595.1 L1380.7,1596.1 L1380.5,1597.1 L1380.5,1597.1 L1380.3,1596.1 L1380,1595.1 L1379.8,1594.1 L1379.5,1593.1 L1379.3,1592.1 L1379.1,1591.1 L1378.8,1590.1 L1378.6,1589.1 L1378.3,1588.1 L1378.1,1587.1 L1377.8,1586.1 L1377.5,1585 L1377.1,1584 L1376.8,1583 L1376.4,1582 L1376,1581 L1375.7,1580 L1375.5,1579 L1375.4,1578 L1375.5,1577 L1375.6,1576 L1375.9,1575 L1376.2,1574 L1376.6,1573 L1377,1572 L1377.3,1571 L1377.7,1570 L1377.9,1569 L1378.2,1568 L1378.5,1567 L1378.9,1566 L1379.2,1565 L1379.5,1564 L1379.8,1563 L1380.1,1562 L1380.3,1561 L1380.4,1560 L1380.5,1559 L1380.5,1558 L1380.5,1557 L1380.5,1556 L1380.5,1555 L1380.5,1554 L1380.5,1553 L1380.5,1552 L1380.5,1551 L1380.5,1550 L1380.5,1549 L1380.5,1548 L1380.5,1547 L1380.4,1546 L1380.2,1545 L1379.9,1544 L1379.6,1543 L1379.3,1542 L1379,1541 L1378.7,1540 L1378.4,1539 L1378.1,1538 L1377.7,1537 L1377.3,1536 L1376.9,1535 L1376.5,1534 L1376.1,1533 L1375.8,1532 L1375.6,1531 L1375.5,1530 L1375.5,1529 L1375.6,1528 L1375.8,1527 L1376,1526 L1376.3,1525 L1376.6,1524 L1376.8,1523 L1377,1522 L1377.2,1521 L1377.2,1520 L1377.2,1519 L1377.1,1518 L1376.9,1517 L1376.7,1516 L1376.5,1515 L1376.3,1514 L1376.1,1513 L1375.9,1512 L1375.6,1511 L1375.3,1510 L1375,1509 L1374.7,1508 L1374.4,1507 L1374.1,1506 L1373.8,1505 L1373.5,1504 L1373.3,1503 L1373.1,1502 L1372.9,1501 L1372.8,1500 L1372.7,1499 L1372.6,1498 L1372.5,1497 L1372.4,1496 L1372.2,1495 L1372.1,1494 L1371.9,1493 L1371.7,1492 L1371.4,1491 L1371,1490 L1370.5,1489 L1369.8,1488 L1368.9,1487 L1368,1486 L1367,1485 L1365.9,1484 L1364.6,1483 L1362.9,1482 L1360.9,1481 L1358.6,1480 L1356.3,1479 L1354,1478 L1351.8,1477 L1349.6,1476 L1347.4,1475 L1345.1,1474 L1343,1473 L1341.3,1472 L1339.9,1471 L1338.5,1469.9 L1337.2,1468.9 L1336.2,1467.9 L1335.4,1466.9 L1335.1,1465.9 L1335.2,1464.9 L1335.5,1463.9 L1336,1462.9 L1336.6,1461.9 L1337.2,1460.9 L1338.2,1459.9 L1339.5,1458.9 L1341,1457.9 L1342.5,1456.9 L1343.7,1455.9 L1344.4,1454.9 L1344.8,1453.9 L1345.2,1452.9 L1345.5,1451.9 L1345.7,1450.9 L1345.9,1449.9 L1346.1,1448.9 L1346.2,1447.9 L1346.3,1446.9 L1346.5,1445.9 L1346.6,1444.9 L1346.8,1443.9 L1347,1442.9 L1347.2,1441.9 L1347.4,1440.9 L1347.7,1439.9 L1347.9,1438.9 L1348.2,1437.9 L1348.4,1436.9 L1348.7,1435.9 L1349,1434.9 L1349.4,1433.9 L1349.7,1432.9 L1350.2,1431.9 L1350.7,1430.9 L1351.3,1429.9 L1351.9,1428.9 L1352.5,1427.9 L1353.2,1426.9 L1353.8,1425.9 L1354.4,1424.9 L1354.9,1423.9 L1355.3,1422.9 L1355.7,1421.9 L1356,1420.9 L1356.3,1419.9 L1356.6,1418.9 L1356.9,1417.9 L1357.1,1416.9 L1357.4,1415.9 L1357.7,1414.9 L1357.9,1413.9 L1358.2,1412.9 L1358.5,1411.9 L1358.7,1410.9 L1359,1409.9 L1359.2,1408.9 L1359.5,1407.9 L1359.8,1406.9 L1360.1,1405.9 L1360.5,1404.9 L1360.9,1403.9 L1361.6,1402.9 L1362.5,1401.9 L1363.4,1400.9 L1364.5,1399.9 L1365.5,1398.9 L1366.5,1397.9 L1367.3,1396.9 L1368.1,1395.9 L1368.8,1394.9 L1369.6,1393.9 L1370.3,1392.9 L1370.9,1391.9 L1371.3,1390.9 L1371.5,1389.9 L1371.5,1388.9 L1371.6,1387.9 L1371.6,1386.9 L1371.7,1385.9 L1371.7,1384.9 L1371.7,1383.9 L1371.8,1382.9 L1371.8,1381.9 L1371.8,1380.9 L1371.9,1379.9 L1371.9,1378.9 L1372,1377.9 L1372,1376.9 L1372.1,1375.9 L1372.1,1374.9 L1372.2,1373.9 L1372.2,1372.9 L1372.3,1371.9 L1372.3,1370.9 L1372.3,1369.9 L1372.3,1368.9 L1372.1,1367.9 L1371.9,1366.9 L1371.6,1365.9 L1371.3,1364.9 L1371.1,1363.9 L1370.8,1362.9 L1370.6,1361.9 L1370.4,1360.9 L1370.4,1359.9 L1370.5,1358.9 L1370.6,1357.9 L1370.9,1356.9 L1371.2,1355.9 L1371.6,1354.9 L1372,1353.8 L1372.4,1352.8 L1372.8,1351.8 L1373.3,1350.8 L1373.9,1349.8 L1374.5,1348.8 L1375.2,1347.8 L1375.8,1346.8 L1376.5,1345.8 L1377.1,1344.8 L1377.6,1343.8 L1378,1342.8 L1378.4,1341.8 L1378.8,1340.8 L1379.2,1339.8 L1379.5,1338.8 L1379.8,1337.8 L1380.2,1336.8 L1380.5,1335.8Z" fill="#FF57AF"/>
<circle class="d" cx="1006.4" cy="1404" r="4.1"/>
<circle class="d" cx="1016.6" cy="1415.1" r="4.1"/>
<circle class="d" cx="1026.5" cy="1432.1" r="4.1"/>
<circle class="d" cx="1001.2" cy="1449.6" r="4.1"/>
<circle class="d" cx="1022.9" cy="1499.5" r="4.1"/>
<circle class="d" cx="1030.8" cy="1514.3" r="4.1"/>
<circle class="d" cx="1005.5" cy="1587.4" r="4.1"/>
<circle class="d" cx="1026.5" cy="1585" r="4.1"/>
<circle class="d" cx="1027.1" cy="1617" r="4.1"/>
<circle class="d" cx="1029.5" cy="1631.7" r="4.1"/>
<circle class="d" cx="995.7" cy="1742.4" r="4.1"/>
<circle class="d" cx="1014.5" cy="1742.4" r="4.1"/>
<circle class="d" cx="1029.3" cy="1742.4" r="4.1"/>
<circle class="d" cx="1142.5" cy="1386" r="4.1"/>
<circle class="d" cx="1130" cy="1404.3" r="4.1"/>
<circle class="d" cx="1148.6" cy="1402.7" r="4.1"/>
<circle class="d" cx="1144.4" cy="1408.2" r="4.1"/>
<circle class="d" cx="1140.1" cy="1422.3" r="4.1"/>
<circle class="d" cx="1116.8" cy="1427.8" r="4.1"/>
<circle class="d" cx="1156" cy="1429.4" r="4.1"/>
<circle class="d" cx="1116.4" cy="1436.3" r="4.1"/>
<circle class="d" cx="1117.6" cy="1474" r="4.1"/>
<circle class="d" cx="1114.6" cy="1482.5" r="4.1"/>
<circle class="d" cx="1124.8" cy="1510.8" r="4.1"/>
<circle class="d" cx="1136.2" cy="1510.2" r="4.1"/>
<circle class="d" cx="1157.4" cy="1511.2" r="4.1"/>
<circle class="d" cx="1152.3" cy="1516.5" r="4.1"/>
<circle class="d" cx="1152.3" cy="1581.4" r="4.1"/>
<circle class="d" cx="1159.4" cy="1584.4" r="4.1"/>
<circle class="d" cx="1238.2" cy="1371.6" r="4.1"/>
<circle class="d" cx="1270.1" cy="1372.4" r="4.1"/>
<circle class="d" cx="1261.2" cy="1386.3" r="4.1"/>
<circle class="d" cx="1249.6" cy="1400" r="4.1"/>
<circle class="d" cx="1260.1" cy="1397.5" r="4.1"/>
<circle class="d" cx="1279.5" cy="1402.6" r="4.1"/>
<circle class="d" cx="1266.6" cy="1409.8" r="4.1"/>
<circle class="d" cx="1242.2" cy="1420" r="4.1"/>
<circle class="d" cx="1259.7" cy="1423.4" r="4.1"/>
<circle class="d" cx="1276.6" cy="1434.4" r="4.1"/>
<circle class="d" cx="1276.4" cy="1453.1" r="4.1"/>
<circle class="d" cx="1244.9" cy="1463.7" r="4.1"/>
<circle class="d" cx="1251.5" cy="1481.4" r="4.1"/>
<circle class="d" cx="1246.4" cy="1483.9" r="4.1"/>
<circle class="d" cx="1240.9" cy="1485.4" r="4.1"/>
<circle class="d" cx="1235.8" cy="1496.8" r="4.1"/>
<circle class="d" cx="1241.8" cy="1505.4" r="4.1"/>
<circle class="d" cx="1241.8" cy="1518.5" r="4.1"/>
<circle class="d" cx="1237" cy="1520.5" r="4.1"/>
<circle class="d" cx="1253.5" cy="1519.1" r="4.1"/>
<circle class="d" cx="1253.6" cy="1524.8" r="4.1"/>
<circle class="d" cx="1278.3" cy="1524.2" r="4.1"/>
<circle class="d" cx="1241.2" cy="1555" r="4.1"/>
<circle class="d" cx="1371.5" cy="1356.3" r="4.1"/>
<circle class="d" cx="1385" cy="1359.3" r="4.1"/>
<circle class="d" cx="1389.6" cy="1376.2" r="4.1"/>
<circle class="d" cx="1359.5" cy="1386.8" r="4.1"/>
<circle class="d" cx="1364.5" cy="1404.8" r="4.1"/>
<circle class="d" cx="1376.8" cy="1404.8" r="4.1"/>
<circle class="d" cx="1396.4" cy="1405.3" r="4.1"/>
<circle class="d" cx="1397.6" cy="1414.3" r="4.1"/>
<circle class="d" cx="1401.5" cy="1419.1" r="4.1"/>
<circle class="d" cx="1403.9" cy="1426.1" r="4.1"/>
<circle class="d" cx="1397.6" cy="1429.7" r="4.1"/>
<circle class="d" cx="1368.5" cy="1428.8" r="4.1"/>
<circle class="d" cx="1379.8" cy="1432.7" r="4.1"/>
<circle class="d" cx="1367.2" cy="1442.4" r="4.1"/>
<circle class="d" cx="1368.2" cy="1444.8" r="4.1"/>
<circle class="d" cx="1362.7" cy="1450.8" r="4.1"/>
<circle class="d" cx="1383.4" cy="1455.6" r="4.1"/>
<circle class="d" cx="1371.4" cy="1457.8" r="4.1"/>
<circle class="d" cx="1383.4" cy="1459.6" r="4.1"/>
<circle class="d" cx="1372" cy="1464.9" r="4.1"/>
<circle class="d" cx="1377.2" cy="1467" r="4.1"/>
<circle class="d" cx="1382.6" cy="1470.1" r="4.1"/>
<circle class="d" cx="1359.7" cy="1472.1" r="4.1"/>
<circle class="d" cx="1370.8" cy="1470.9" r="4.1"/>
<circle class="d" cx="1368.2" cy="1479.7" r="4.1"/>
<circle class="d" cx="1390.1" cy="1492.9" r="4.1"/>
<circle class="d" cx="1395.5" cy="1506.2" r="4.1"/>
<circle class="d" cx="1378.6" cy="1530.2" r="4.1"/>
<circle class="d" cx="1393.7" cy="1579" r="4.1"/>
</g>
<line x1="1015.8" x2="1015.8" y1="1441" y2="1689.9" stroke="#1610F0" stroke-width="2.3"/>
<circle cx="1015.8" cy="1566.2" r="8.3" fill="#1414F0"/>
<line x1="1137.5" x2="1137.5" y1="1405.3" y2="1530.7" stroke="#1610F0" stroke-width="2.3"/>
<circle cx="1137.5" cy="1468.1" r="8.3" fill="#1414F0"/>
<line x1="1259.2" x2="1259.2" y1="1403.5" y2="1513.9" stroke="#1610F0" stroke-width="2.3"/>
<circle cx="1259.2" cy="1458.6" r="8.3" fill="#1414F0"/>
<line x1="1380.5" x2="1380.5" y1="1400.2" y2="1491.7" stroke="#1610F0" stroke-width="2.3"/>
<circle cx="1380.5" cy="1446" r="8.3" fill="#1414F0"/>
<g stroke="#333333" stroke-width="3.4">
<line x1="936.2" x2="943.7" y1="1742.4" y2="1742.4"/>
<line x1="936.2" x2="943.7" y1="1689.2" y2="1689.2"/>
<line x1="936.2" x2="943.7" y1="1636" y2="1636"/>
<line x1="936.2" x2="943.7" y1="1582.8" y2="1582.8"/>
<line x1="936.2" x2="943.7" y1="1529.6" y2="1529.6"/>
<line x1="936.2" x2="943.7" y1="1476.4" y2="1476.4"/>
<line x1="936.2" x2="943.7" y1="1423.2" y2="1423.2"/>
<line x1="936.2" x2="943.7" y1="1370" y2="1370"/>
<line x1="1015.8" x2="1015.8" y1="1763.2" y2="1770.7"/>
<line x1="1137.5" x2="1137.5" y1="1763.2" y2="1770.7"/>
<line x1="1259.2" x2="1259.2" y1="1763.2" y2="1770.7"/>
<line x1="1380.5" x2="1380.5" y1="1763.2" y2="1770.7"/>
</g>
<path d="M943.7,1322.6 V1763.2 H1452" fill="none" stroke="#000" stroke-width="2.8"/>
<g font-family="'Liberation Sans', Arial, Helvetica, sans-serif" font-size="31" fill="#000">
<text x="930.2" y="1753.6" text-anchor="end">0</text>
<text x="930.2" y="1700.4" text-anchor="end">2</text>
<text x="930.2" y="1647.2" text-anchor="end">4</text>
<text x="930.2" y="1594" text-anchor="end">6</text>
<text x="930.2" y="1540.8" text-anchor="end">8</text>
<text x="930.2" y="1487.6" text-anchor="end">10</text>
<text x="930.2" y="1434.4" text-anchor="end">12</text>
<text x="930.2" y="1381.2" text-anchor="end">14</text>
<text x="1015.8" y="1798.5" text-anchor="middle" font-size="31.8">AAH</text>
<text x="1137.5" y="1798.5" text-anchor="middle" font-size="31.8">AIS</text>
<text x="1259.2" y="1798.5" text-anchor="middle" font-size="31.8">MIA</text>
<text x="1380.5" y="1798.5" text-anchor="middle" font-size="31.8">ADC</text>
</g>
<text x="1197.8" y="1830.8" text-anchor="middle" font-family="'Liberation Sans', Arial, Helvetica, sans-serif" font-weight="bold" font-size="26.6">Stages</text>
<text transform="translate(883.2,1542.5) rotate(-90)" text-anchor="middle" font-family="'Liberation Sans', Arial, Helvetica, sans-serif" font-size="26.0">log2( Number of DMRs in non−repetitive regions</text>
<text transform="translate(943,1308.8) scale(1,1.07)" font-family="'Liberation Sans', Arial, Helvetica, sans-serif" font-size="30" letter-spacing="-0.5" fill="#CD3131">p−value = 0.018 (Kruskal−Wallis test)</text>
<text x="789.6" y="1274.8" font-family="'DejaVu Sans', 'Liberation Sans', sans-serif" font-size="56" fill="#000" stroke="#000" stroke-width="1.1">f</text>
<text x="1469.8" y="1353.3" font-family="'Liberation Sans', Arial, Helvetica, sans-serif" font-size="26.4">Stage</text>
<rect x="1471" y="1369.1" width="27.8" height="27.1" fill="#EE9D63"/>
<line x1="1484.9" x2="1484.9" y1="1371.1" y2="1394.1" stroke="#1010FF" stroke-width="2.6"/>
<circle cx="1484.9" cy="1382.6" r="8" fill="#1414F0"/>
<text x="1512" y="1391.2" font-family="'Liberation Sans', Arial, Helvetica, sans-serif" font-size="23.7">AAH</text>
<rect x="1471" y="1397.7" width="27.8" height="27.1" fill="#60AEFC"/>
<line x1="1484.9" x2="1484.9" y1="1399.7" y2="1422.7" stroke="#1010FF" stroke-width="2.6"/>
<circle cx="1484.9" cy="1411.2" r="8" fill="#1414F0"/>
<text x="1512" y="1419.8" font-family="'Liberation Sans', Arial, Helvetica, sans-serif" font-size="23.7">AIS</text>
<rect x="1471" y="1426.3" width="27.8" height="27.1" fill="#B46FFC"/>
<line x1="1484.9" x2="1484.9" y1="1428.3" y2="1451.3" stroke="#1010FF" stroke-width="2.6"/>
<circle cx="1484.9" cy="1439.8" r="8" fill="#1414F0"/>
<text x="1512" y="1448.4" font-family="'Liberation Sans', Arial, Helvetica, sans-serif" font-size="23.7">MIA</text>
<rect x="1471" y="1454.9" width="27.8" height="27.1" fill="#FF57AF"/>
<line x1="1484.9" x2="1484.9" y1="1456.9" y2="1479.9" stroke="#1010FF" stroke-width="2.6"/>
<circle cx="1484.9" cy="1468.4" r="8" fill="#1414F0"/>
<text x="1512" y="1477" font-family="'Liberation Sans', Arial, Helvetica, sans-serif" font-size="23.7">ADC</text>
<clipPath id="c6"><rect x="144.2" y="1973.8" width="504.6" height="437.2"/></clipPath>
<rect x="144.2" y="1973.8" width="504.6" height="437.2" fill="#F8F9FD"/>
<g stroke="#FFFFFF"><line x1="144.2" x2="648.8" y1="2389.8" y2="2389.8" stroke-width="1.6"/><line x1="144.2" x2="648.8" y1="2363.4" y2="2363.4" stroke-width="0.9"/><line x1="144.2" x2="648.8" y1="2336.9" y2="2336.9" stroke-width="1.6"/><line x1="144.2" x2="648.8" y1="2310.5" y2="2310.5" stroke-width="0.9"/><line x1="144.2" x2="648.8" y1="2284" y2="2284" stroke-width="1.6"/><line x1="144.2" x2="648.8" y1="2257.6" y2="2257.6" stroke-width="0.9"/><line x1="144.2" x2="648.8" y1="2231.1" y2="2231.1" stroke-width="1.6"/><line x1="144.2" x2="648.8" y1="2204.7" y2="2204.7" stroke-width="0.9"/><line x1="144.2" x2="648.8" y1="2178.2" y2="2178.2" stroke-width="1.6"/><line x1="144.2" x2="648.8" y1="2151.8" y2="2151.8" stroke-width="0.9"/><line x1="144.2" x2="648.8" y1="2125.3" y2="2125.3" stroke-width="1.6"/><line x1="144.2" x2="648.8" y1="2098.9" y2="2098.9" stroke-width="0.9"/><line x1="144.2" x2="648.8" y1="2072.4" y2="2072.4" stroke-width="1.6"/><line x1="144.2" x2="648.8" y1="2046" y2="2046" stroke-width="0.9"/><line x1="144.2" x2="648.8" y1="2019.5" y2="2019.5" stroke-width="1.6"/><line x1="144.2" x2="648.8" y1="1993.1" y2="1993.1" stroke-width="0.9"/><line x1="216.4" x2="216.4" y1="1973.8" y2="2411" stroke-width="1.6"/><line x1="337.3" x2="337.3" y1="1973.8" y2="2411" stroke-width="1.6"/><line x1="458" x2="458" y1="1973.8" y2="2411" stroke-width="1.6"/><line x1="578.5" x2="578.5" y1="1973.8" y2="2411" stroke-width="1.6"/></g>
<g clip-path="url(#c6)">
<path d="M216.4,1996.9 L216.5,1997.9 L216.7,1998.9 L216.8,1999.9 L216.9,2000.9 L217.1,2001.9 L217.2,2002.9 L217.3,2003.9 L217.5,2004.9 L217.6,2005.9 L217.7,2006.9 L217.9,2007.9 L218.1,2008.9 L218.3,2009.9 L218.5,2010.9 L218.7,2011.9 L218.9,2012.9 L219.3,2013.9 L219.6,2014.9 L220,2015.9 L220.4,2016.9 L220.9,2017.9 L221.3,2018.9 L221.8,2019.9 L222.3,2020.9 L222.9,2021.9 L223.4,2022.9 L223.9,2023.9 L224.4,2024.9 L225,2025.9 L225.5,2026.9 L226,2027.9 L226.4,2028.9 L226.9,2029.9 L227.3,2030.9 L227.7,2031.9 L228.1,2032.9 L228.5,2033.9 L228.9,2034.9 L229.3,2035.9 L229.6,2037 L230,2038 L230.4,2039 L230.8,2040 L231.3,2041 L231.7,2042 L232.2,2043 L232.6,2044 L233.2,2045 L233.7,2046 L234.3,2047 L235,2048 L235.7,2049 L236.5,2050 L237.3,2051 L238.2,2052 L239.1,2053 L240,2054 L240.9,2055 L241.7,2056 L242.6,2057 L243.4,2058 L244.1,2059 L244.8,2060 L245.6,2061 L246.3,2062 L246.9,2063 L247.6,2064 L248.3,2065 L249,2066 L249.6,2067 L250.2,2068 L250.9,2069 L251.5,2070 L252,2071 L252.6,2072 L253.2,2073 L253.7,2074 L254.3,2075 L254.9,2076 L255.5,2077 L256,2078 L256.6,2079 L257.1,2080 L257.5,2081 L257.9,2082 L258.3,2083 L258.6,2084 L258.9,2085 L259.1,2086 L259.3,2087 L259.6,2088 L259.8,2089 L260,2090 L260.2,2091 L260.3,2092 L260.5,2093 L260.6,2094 L260.8,2095 L260.8,2096 L260.9,2097 L261,2098 L261,2099 L260.9,2100 L260.8,2101 L260.7,2102 L260.5,2103 L260.2,2104 L260,2105 L259.7,2106 L259.4,2107 L259.1,2108 L258.8,2109 L258.5,2110 L258.3,2111 L258,2112 L257.8,2113 L257.6,2114 L257.4,2115 L257.2,2116 L257,2117 L256.8,2118 L256.6,2119 L256.4,2120 L256.2,2121 L256,2122 L255.8,2123 L255.6,2124 L255.4,2125 L255.1,2126 L254.9,2127 L254.6,2128 L254.4,2129 L254.1,2130 L253.8,2131 L253.5,2132 L253.2,2133 L252.9,2134 L252.7,2135 L252.4,2136 L252.2,2137 L251.9,2138 L251.7,2139 L251.5,2140 L251.4,2141 L251.2,2142 L251,2143 L250.9,2144 L250.7,2145 L250.6,2146 L250.5,2147 L250.3,2148 L250.2,2149 L250.1,2150 L249.9,2151 L249.8,2152 L249.7,2153 L249.5,2154 L249.4,2155 L249.3,2156 L249.2,2157 L249.1,2158 L248.9,2159 L248.8,2160.1 L248.7,2161.1 L248.6,2162.1 L248.5,2163.1 L248.4,2164.1 L248.2,2165.1 L248.1,2166.1 L248,2167.1 L247.8,2168.1 L247.7,2169.1 L247.6,2170.1 L247.4,2171.1 L247.3,2172.1 L247.1,2173.1 L247,2174.1 L246.8,2175.1 L246.6,2176.1 L246.4,2177.1 L246.2,2178.1 L246,2179.1 L245.7,2180.1 L245.4,2181.1 L245.1,2182.1 L244.7,2183.1 L244.3,2184.1 L243.9,2185.1 L243.5,2186.1 L243,2187.1 L242.6,2188.1 L242.1,2189.1 L241.7,2190.1 L241.3,2191.1 L240.9,2192.1 L240.5,2193.1 L240.2,2194.1 L239.8,2195.1 L239.5,2196.1 L239.2,2197.1 L238.9,2198.1 L238.6,2199.1 L238.3,2200.1 L238,2201.1 L237.7,2202.1 L237.4,2203.1 L237.2,2204.1 L236.9,2205.1 L236.7,2206.1 L236.4,2207.1 L236.1,2208.1 L235.8,2209.1 L235.6,2210.1 L235.3,2211.1 L235.1,2212.1 L234.8,2213.1 L234.7,2214.1 L234.5,2215.1 L234.4,2216.1 L234.3,2217.1 L234.3,2218.1 L234.3,2219.1 L234.3,2220.1 L234.4,2221.1 L234.5,2222.1 L234.5,2223.1 L234.6,2224.1 L234.7,2225.1 L234.8,2226.1 L235,2227.1 L235.1,2228.1 L235.3,2229.1 L235.4,2230.1 L235.6,2231.1 L235.8,2232.1 L236.2,2233.1 L236.7,2234.1 L237.2,2235.1 L237.9,2236.1 L238.6,2237.1 L239.4,2238.1 L240.2,2239.1 L241,2240.1 L241.9,2241.1 L242.7,2242.1 L243.6,2243.1 L244.4,2244.1 L245.1,2245.1 L245.8,2246.1 L246.6,2247.1 L247.4,2248.1 L248.3,2249.1 L249.1,2250.1 L250,2251.1 L250.8,2252.1 L251.6,2253.1 L252.4,2254.1 L253.1,2255.1 L253.7,2256.1 L254.2,2257.1 L254.6,2258.1 L255,2259.1 L255.4,2260.1 L255.8,2261.1 L256.2,2262.1 L256.5,2263.1 L256.8,2264.1 L257.1,2265.1 L257.4,2266.1 L257.6,2267.1 L257.9,2268.1 L258.1,2269.1 L258.3,2270.1 L258.4,2271.1 L258.6,2272.1 L258.8,2273.1 L258.9,2274.1 L259.1,2275.1 L259.2,2276.1 L259.4,2277.1 L259.5,2278.1 L259.6,2279.1 L259.7,2280.1 L259.8,2281.1 L259.8,2282.1 L259.9,2283.2 L259.9,2284.2 L259.8,2285.2 L259.8,2286.2 L259.6,2287.2 L259.5,2288.2 L259.3,2289.2 L259,2290.2 L258.8,2291.2 L258.5,2292.2 L258.2,2293.2 L257.9,2294.2 L257.6,2295.2 L257.3,2296.2 L257,2297.2 L256.7,2298.2 L256.5,2299.2 L256.2,2300.2 L256,2301.2 L255.7,2302.2 L255.4,2303.2 L255.2,2304.2 L254.9,2305.2 L254.6,2306.2 L254.4,2307.2 L254.1,2308.2 L253.8,2309.2 L253.6,2310.2 L253.3,2311.2 L253,2312.2 L252.7,2313.2 L252.4,2314.2 L252.1,2315.2 L251.8,2316.2 L251.5,2317.2 L251.2,2318.2 L251,2319.2 L250.9,2320.2 L250.8,2321.2 L250.7,2322.2 L250.7,2323.2 L250.7,2324.2 L250.7,2325.2 L250.7,2326.2 L250.7,2327.2 L250.7,2328.2 L250.7,2329.2 L250.7,2330.2 L250.7,2331.2 L250.7,2332.2 L250.7,2333.2 L250.7,2334.2 L250.7,2335.2 L250.7,2336.2 L250.7,2337.2 L250.8,2338.2 L250.9,2339.2 L251.1,2340.2 L251.3,2341.2 L251.5,2342.2 L251.7,2343.2 L251.9,2344.2 L252.2,2345.2 L252.4,2346.2 L252.6,2347.2 L252.8,2348.2 L252.9,2349.2 L253,2350.2 L253.1,2351.2 L253.2,2352.2 L253.3,2353.2 L253.4,2354.2 L253.5,2355.2 L253.5,2356.2 L253.6,2357.2 L253.7,2358.2 L253.7,2359.2 L253.8,2360.2 L253.8,2361.2 L253.8,2362.2 L253.8,2363.2 L253.8,2364.2 L253.8,2365.2 L253.7,2366.2 L253.5,2367.2 L253.3,2368.2 L253.1,2369.2 L252.9,2370.2 L252.7,2371.2 L252.4,2372.2 L252.1,2373.2 L251.8,2374.2 L251.6,2375.2 L251.3,2376.2 L251,2377.2 L250.7,2378.2 L250.3,2379.2 L250,2380.2 L249.6,2381.2 L249.2,2382.2 L248.7,2383.2 L248.3,2384.2 L247.8,2385.2 L247.3,2386.2 L246.9,2387.2 L246.4,2388.2 L245.9,2389.2 L245.4,2390.2 L244.9,2391.2 L244.3,2392.2 L243.7,2393.2 L243.1,2394.2 L242.5,2395.2 L241.8,2396.2 L241.2,2397.2 L240.5,2398.2 L239.9,2399.2 L239.3,2400.2 L238.8,2401.2 L238.3,2402.2 L237.8,2403.2 L237.4,2404.2 L237,2405.2 L236.8,2406.3 L236.5,2407.3 L236.2,2408.3 L236,2409.3 L235.7,2410.3 L235.3,2411.3 L234.9,2412.3 L234.4,2413.3 L233.8,2414.3 L233.1,2415.3 L232.4,2416.3 L231.6,2417.3 L230.8,2418.3 L230,2419.3 L229.2,2420.3 L228.3,2421.3 L227.5,2422.3 L226.7,2423.3 L225.9,2424.3 L225.1,2425.3 L224.3,2426.3 L223.4,2427.3 L222.5,2428.3 L221.7,2429.3 L220.8,2430.3 L219.9,2431.3 L219,2432.3 L218.1,2433.3 L217.3,2434.3 L216.4,2435.3 L216.4,2435.3 L215.5,2434.3 L214.7,2433.3 L213.8,2432.3 L212.9,2431.3 L212,2430.3 L211.1,2429.3 L210.3,2428.3 L209.4,2427.3 L208.5,2426.3 L207.7,2425.3 L206.9,2424.3 L206.1,2423.3 L205.3,2422.3 L204.5,2421.3 L203.6,2420.3 L202.8,2419.3 L202,2418.3 L201.2,2417.3 L200.4,2416.3 L199.7,2415.3 L199,2414.3 L198.4,2413.3 L197.9,2412.3 L197.5,2411.3 L197.1,2410.3 L196.8,2409.3 L196.6,2408.3 L196.3,2407.3 L196,2406.3 L195.8,2405.2 L195.4,2404.2 L195,2403.2 L194.5,2402.2 L194,2401.2 L193.5,2400.2 L192.9,2399.2 L192.3,2398.2 L191.6,2397.2 L191,2396.2 L190.3,2395.2 L189.7,2394.2 L189.1,2393.2 L188.5,2392.2 L187.9,2391.2 L187.4,2390.2 L186.9,2389.2 L186.4,2388.2 L185.9,2387.2 L185.5,2386.2 L185,2385.2 L184.5,2384.2 L184.1,2383.2 L183.6,2382.2 L183.2,2381.2 L182.8,2380.2 L182.5,2379.2 L182.1,2378.2 L181.8,2377.2 L181.5,2376.2 L181.2,2375.2 L181,2374.2 L180.7,2373.2 L180.4,2372.2 L180.1,2371.2 L179.9,2370.2 L179.7,2369.2 L179.5,2368.2 L179.3,2367.2 L179.1,2366.2 L179,2365.2 L179,2364.2 L179,2363.2 L179,2362.2 L179,2361.2 L179,2360.2 L179.1,2359.2 L179.1,2358.2 L179.2,2357.2 L179.3,2356.2 L179.3,2355.2 L179.4,2354.2 L179.5,2353.2 L179.6,2352.2 L179.7,2351.2 L179.8,2350.2 L179.9,2349.2 L180,2348.2 L180.2,2347.2 L180.4,2346.2 L180.6,2345.2 L180.9,2344.2 L181.1,2343.2 L181.3,2342.2 L181.5,2341.2 L181.7,2340.2 L181.9,2339.2 L182,2338.2 L182.1,2337.2 L182.1,2336.2 L182.1,2335.2 L182.1,2334.2 L182.1,2333.2 L182.1,2332.2 L182.1,2331.2 L182.1,2330.2 L182.1,2329.2 L182.1,2328.2 L182.1,2327.2 L182.1,2326.2 L182.1,2325.2 L182.1,2324.2 L182.1,2323.2 L182.1,2322.2 L182,2321.2 L181.9,2320.2 L181.8,2319.2 L181.6,2318.2 L181.3,2317.2 L181,2316.2 L180.7,2315.2 L180.4,2314.2 L180.1,2313.2 L179.8,2312.2 L179.5,2311.2 L179.2,2310.2 L179,2309.2 L178.7,2308.2 L178.4,2307.2 L178.2,2306.2 L177.9,2305.2 L177.6,2304.2 L177.4,2303.2 L177.1,2302.2 L176.8,2301.2 L176.6,2300.2 L176.3,2299.2 L176.1,2298.2 L175.8,2297.2 L175.5,2296.2 L175.2,2295.2 L174.9,2294.2 L174.6,2293.2 L174.3,2292.2 L174,2291.2 L173.8,2290.2 L173.5,2289.2 L173.3,2288.2 L173.2,2287.2 L173,2286.2 L173,2285.2 L172.9,2284.2 L172.9,2283.2 L173,2282.1 L173,2281.1 L173.1,2280.1 L173.2,2279.1 L173.3,2278.1 L173.4,2277.1 L173.6,2276.1 L173.7,2275.1 L173.9,2274.1 L174,2273.1 L174.2,2272.1 L174.4,2271.1 L174.5,2270.1 L174.7,2269.1 L174.9,2268.1 L175.2,2267.1 L175.4,2266.1 L175.7,2265.1 L176,2264.1 L176.3,2263.1 L176.6,2262.1 L177,2261.1 L177.4,2260.1 L177.8,2259.1 L178.2,2258.1 L178.6,2257.1 L179.1,2256.1 L179.7,2255.1 L180.4,2254.1 L181.2,2253.1 L182,2252.1 L182.8,2251.1 L183.7,2250.1 L184.5,2249.1 L185.4,2248.1 L186.2,2247.1 L187,2246.1 L187.7,2245.1 L188.4,2244.1 L189.2,2243.1 L190.1,2242.1 L190.9,2241.1 L191.8,2240.1 L192.6,2239.1 L193.4,2238.1 L194.2,2237.1 L194.9,2236.1 L195.6,2235.1 L196.1,2234.1 L196.6,2233.1 L197,2232.1 L197.2,2231.1 L197.4,2230.1 L197.5,2229.1 L197.7,2228.1 L197.8,2227.1 L198,2226.1 L198.1,2225.1 L198.2,2224.1 L198.3,2223.1 L198.3,2222.1 L198.4,2221.1 L198.5,2220.1 L198.5,2219.1 L198.5,2218.1 L198.5,2217.1 L198.4,2216.1 L198.3,2215.1 L198.1,2214.1 L198,2213.1 L197.7,2212.1 L197.5,2211.1 L197.2,2210.1 L197,2209.1 L196.7,2208.1 L196.4,2207.1 L196.1,2206.1 L195.9,2205.1 L195.6,2204.1 L195.4,2203.1 L195.1,2202.1 L194.8,2201.1 L194.5,2200.1 L194.2,2199.1 L193.9,2198.1 L193.6,2197.1 L193.3,2196.1 L193,2195.1 L192.6,2194.1 L192.3,2193.1 L191.9,2192.1 L191.5,2191.1 L191.1,2190.1 L190.7,2189.1 L190.2,2188.1 L189.8,2187.1 L189.3,2186.1 L188.9,2185.1 L188.5,2184.1 L188.1,2183.1 L187.7,2182.1 L187.4,2181.1 L187.1,2180.1 L186.8,2179.1 L186.6,2178.1 L186.4,2177.1 L186.2,2176.1 L186,2175.1 L185.8,2174.1 L185.7,2173.1 L185.5,2172.1 L185.4,2171.1 L185.2,2170.1 L185.1,2169.1 L185,2168.1 L184.8,2167.1 L184.7,2166.1 L184.6,2165.1 L184.4,2164.1 L184.3,2163.1 L184.2,2162.1 L184.1,2161.1 L184,2160.1 L183.9,2159 L183.7,2158 L183.6,2157 L183.5,2156 L183.4,2155 L183.3,2154 L183.1,2153 L183,2152 L182.9,2151 L182.7,2150 L182.6,2149 L182.5,2148 L182.3,2147 L182.2,2146 L182.1,2145 L181.9,2144 L181.8,2143 L181.6,2142 L181.4,2141 L181.3,2140 L181.1,2139 L180.9,2138 L180.6,2137 L180.4,2136 L180.1,2135 L179.9,2134 L179.6,2133 L179.3,2132 L179,2131 L178.7,2130 L178.4,2129 L178.2,2128 L177.9,2127 L177.7,2126 L177.4,2125 L177.2,2124 L177,2123 L176.8,2122 L176.6,2121 L176.4,2120 L176.2,2119 L176,2118 L175.8,2117 L175.6,2116 L175.4,2115 L175.2,2114 L175,2113 L174.8,2112 L174.5,2111 L174.3,2110 L174,2109 L173.7,2108 L173.4,2107 L173.1,2106 L172.8,2105 L172.6,2104 L172.3,2103 L172.1,2102 L172,2101 L171.9,2100 L171.8,2099 L171.8,2098 L171.9,2097 L172,2096 L172,2095 L172.2,2094 L172.3,2093 L172.5,2092 L172.6,2091 L172.8,2090 L173,2089 L173.2,2088 L173.5,2087 L173.7,2086 L173.9,2085 L174.2,2084 L174.5,2083 L174.9,2082 L175.3,2081 L175.7,2080 L176.2,2079 L176.8,2078 L177.3,2077 L177.9,2076 L178.5,2075 L179.1,2074 L179.6,2073 L180.2,2072 L180.8,2071 L181.3,2070 L181.9,2069 L182.6,2068 L183.2,2067 L183.8,2066 L184.5,2065 L185.2,2064 L185.9,2063 L186.5,2062 L187.2,2061 L188,2060 L188.7,2059 L189.4,2058 L190.2,2057 L191.1,2056 L191.9,2055 L192.8,2054 L193.7,2053 L194.6,2052 L195.5,2051 L196.3,2050 L197.1,2049 L197.8,2048 L198.5,2047 L199.1,2046 L199.6,2045 L200.2,2044 L200.6,2043 L201.1,2042 L201.5,2041 L202,2040 L202.4,2039 L202.8,2038 L203.2,2037 L203.5,2035.9 L203.9,2034.9 L204.3,2033.9 L204.7,2032.9 L205.1,2031.9 L205.5,2030.9 L205.9,2029.9 L206.4,2028.9 L206.8,2027.9 L207.3,2026.9 L207.8,2025.9 L208.4,2024.9 L208.9,2023.9 L209.4,2022.9 L209.9,2021.9 L210.5,2020.9 L211,2019.9 L211.5,2018.9 L211.9,2017.9 L212.4,2016.9 L212.8,2015.9 L213.2,2014.9 L213.5,2013.9 L213.9,2012.9 L214.1,2011.9 L214.3,2010.9 L214.5,2009.9 L214.7,2008.9 L214.9,2007.9 L215.1,2006.9 L215.2,2005.9 L215.3,2004.9 L215.5,2003.9 L215.6,2002.9 L215.7,2001.9 L215.9,2000.9 L216,1999.9 L216.1,1998.9 L216.3,1997.9 L216.4,1996.9Z" fill="#EE9D63"/>
<path d="M337.3,2021.2 L337.5,2022.2 L337.7,2023.2 L337.9,2024.2 L338.1,2025.2 L338.3,2026.2 L338.5,2027.2 L338.7,2028.2 L338.9,2029.2 L339.1,2030.2 L339.4,2031.2 L339.7,2032.2 L340,2033.2 L340.3,2034.2 L340.7,2035.2 L341.1,2036.2 L341.5,2037.2 L342,2038.2 L342.5,2039.2 L342.9,2040.3 L343.4,2041.3 L344,2042.3 L344.5,2043.3 L345,2044.3 L345.6,2045.3 L346.1,2046.3 L346.7,2047.3 L347.2,2048.3 L347.8,2049.3 L348.5,2050.3 L349.1,2051.3 L349.8,2052.3 L350.4,2053.3 L351.1,2054.3 L351.8,2055.3 L352.5,2056.3 L353.2,2057.3 L354,2058.3 L354.7,2059.3 L355.4,2060.3 L356.2,2061.3 L356.9,2062.3 L357.7,2063.3 L358.5,2064.3 L359.3,2065.3 L360.1,2066.3 L360.9,2067.3 L361.8,2068.3 L362.6,2069.3 L363.4,2070.3 L364.3,2071.3 L365.1,2072.3 L366,2073.4 L366.9,2074.4 L367.8,2075.4 L368.8,2076.4 L369.7,2077.4 L370.7,2078.4 L371.7,2079.4 L372.6,2080.4 L373.5,2081.4 L374.4,2082.4 L375.3,2083.4 L376,2084.4 L376.7,2085.4 L377.4,2086.4 L378,2087.4 L378.7,2088.4 L379.4,2089.4 L380,2090.4 L380.6,2091.4 L381.1,2092.4 L381.6,2093.4 L382,2094.4 L382.2,2095.4 L382.4,2096.4 L382.3,2097.4 L382.1,2098.4 L381.6,2099.4 L381,2100.4 L380.3,2101.4 L379.4,2102.4 L378.5,2103.4 L377.5,2104.4 L376.5,2105.4 L375.5,2106.5 L374.5,2107.5 L373.5,2108.5 L372.4,2109.5 L371.2,2110.5 L369.9,2111.5 L368.5,2112.5 L367.1,2113.5 L365.7,2114.5 L364.3,2115.5 L362.9,2116.5 L361.5,2117.5 L360.3,2118.5 L359.1,2119.5 L358,2120.5 L356.9,2121.5 L355.8,2122.5 L354.7,2123.5 L353.7,2124.5 L352.7,2125.5 L351.8,2126.5 L351,2127.5 L350.4,2128.5 L350,2129.5 L349.6,2130.5 L349.2,2131.5 L348.8,2132.5 L348.5,2133.5 L348.1,2134.5 L347.9,2135.5 L347.7,2136.5 L347.5,2137.5 L347.4,2138.5 L347.3,2139.6 L347.3,2140.6 L347.4,2141.6 L347.5,2142.6 L347.7,2143.6 L348,2144.6 L348.3,2145.6 L348.7,2146.6 L349,2147.6 L349.5,2148.6 L349.9,2149.6 L350.3,2150.6 L350.7,2151.6 L351.2,2152.6 L351.9,2153.6 L352.6,2154.6 L353.4,2155.6 L354.3,2156.6 L355.2,2157.6 L356.2,2158.6 L357.2,2159.6 L358.1,2160.6 L359,2161.6 L359.9,2162.6 L360.7,2163.6 L361.5,2164.6 L362.2,2165.6 L362.9,2166.6 L363.6,2167.6 L364.3,2168.6 L365,2169.6 L365.6,2170.6 L366.3,2171.6 L366.9,2172.7 L367.5,2173.7 L368.1,2174.7 L368.6,2175.7 L369.1,2176.7 L369.5,2177.7 L369.9,2178.7 L370.3,2179.7 L370.7,2180.7 L371.1,2181.7 L371.4,2182.7 L371.7,2183.7 L371.9,2184.7 L372,2185.7 L371.9,2186.7 L371.7,2187.7 L371.4,2188.7 L371,2189.7 L370.4,2190.7 L369.8,2191.7 L369.2,2192.7 L368.4,2193.7 L367.7,2194.7 L367,2195.7 L366.2,2196.7 L365.4,2197.7 L364.4,2198.7 L363.3,2199.7 L362,2200.7 L360.8,2201.7 L359.4,2202.7 L358.2,2203.7 L356.9,2204.7 L355.8,2205.8 L354.8,2206.8 L353.9,2207.8 L353.1,2208.8 L352.2,2209.8 L351.4,2210.8 L350.6,2211.8 L349.8,2212.8 L349,2213.8 L348.3,2214.8 L347.7,2215.8 L347.1,2216.8 L346.6,2217.8 L346.2,2218.8 L345.9,2219.8 L345.7,2220.8 L345.6,2221.8 L345.5,2222.8 L345.4,2223.8 L345.3,2224.8 L345.2,2225.8 L345.1,2226.8 L345.1,2227.8 L345,2228.8 L345,2229.8 L344.9,2230.8 L344.9,2231.8 L344.9,2232.8 L344.9,2233.8 L344.9,2234.8 L344.9,2235.8 L344.9,2236.8 L344.9,2237.8 L344.9,2238.9 L344.9,2239.9 L344.9,2240.9 L344.9,2241.9 L344.9,2242.9 L344.9,2243.9 L344.9,2244.9 L344.9,2245.9 L344.9,2246.9 L344.9,2247.9 L344.9,2248.9 L344.8,2249.9 L344.8,2250.9 L344.8,2251.9 L344.8,2252.9 L344.8,2253.9 L344.8,2254.9 L344.8,2255.9 L344.8,2256.9 L344.7,2257.9 L344.7,2258.9 L344.7,2259.9 L344.7,2260.9 L344.7,2261.9 L344.7,2262.9 L344.7,2263.9 L344.8,2264.9 L344.8,2265.9 L344.8,2266.9 L344.9,2267.9 L344.9,2268.9 L344.9,2269.9 L344.9,2270.9 L345,2272 L345,2273 L345,2274 L345,2275 L345,2276 L344.9,2277 L344.9,2278 L344.8,2279 L344.7,2280 L344.5,2281 L344.4,2282 L344.3,2283 L344.1,2284 L343.9,2285 L343.7,2286 L343.4,2287 L343.1,2288 L342.8,2289 L342.4,2290 L342,2291 L341.6,2292 L341.3,2293 L341,2294 L340.7,2295 L340.5,2296 L340.2,2297 L340,2298 L339.8,2299 L339.6,2300 L339.4,2301 L339.2,2302 L339,2303 L338.8,2304 L338.6,2305.1 L338.5,2306.1 L338.3,2307.1 L338.2,2308.1 L338.1,2309.1 L338,2310.1 L337.9,2311.1 L337.8,2312.1 L337.7,2313.1 L337.6,2314.1 L337.5,2315.1 L337.5,2316.1 L337.4,2317.1 L337.3,2318.1 L337.3,2318.1 L337.2,2317.1 L337.1,2316.1 L337.1,2315.1 L337,2314.1 L336.9,2313.1 L336.8,2312.1 L336.7,2311.1 L336.6,2310.1 L336.5,2309.1 L336.4,2308.1 L336.3,2307.1 L336.1,2306.1 L336,2305.1 L335.8,2304 L335.6,2303 L335.4,2302 L335.2,2301 L335,2300 L334.8,2299 L334.6,2298 L334.4,2297 L334.1,2296 L333.9,2295 L333.6,2294 L333.3,2293 L333,2292 L332.6,2291 L332.2,2290 L331.8,2289 L331.5,2288 L331.2,2287 L330.9,2286 L330.7,2285 L330.5,2284 L330.3,2283 L330.2,2282 L330.1,2281 L329.9,2280 L329.8,2279 L329.7,2278 L329.7,2277 L329.6,2276 L329.6,2275 L329.6,2274 L329.6,2273 L329.6,2272 L329.7,2270.9 L329.7,2269.9 L329.7,2268.9 L329.7,2267.9 L329.8,2266.9 L329.8,2265.9 L329.8,2264.9 L329.9,2263.9 L329.9,2262.9 L329.9,2261.9 L329.9,2260.9 L329.9,2259.9 L329.9,2258.9 L329.9,2257.9 L329.8,2256.9 L329.8,2255.9 L329.8,2254.9 L329.8,2253.9 L329.8,2252.9 L329.8,2251.9 L329.8,2250.9 L329.8,2249.9 L329.7,2248.9 L329.7,2247.9 L329.7,2246.9 L329.7,2245.9 L329.7,2244.9 L329.7,2243.9 L329.7,2242.9 L329.7,2241.9 L329.7,2240.9 L329.7,2239.9 L329.7,2238.9 L329.7,2237.8 L329.7,2236.8 L329.7,2235.8 L329.7,2234.8 L329.7,2233.8 L329.7,2232.8 L329.7,2231.8 L329.7,2230.8 L329.6,2229.8 L329.6,2228.8 L329.5,2227.8 L329.5,2226.8 L329.4,2225.8 L329.3,2224.8 L329.2,2223.8 L329.1,2222.8 L329,2221.8 L328.9,2220.8 L328.7,2219.8 L328.4,2218.8 L328,2217.8 L327.5,2216.8 L326.9,2215.8 L326.3,2214.8 L325.6,2213.8 L324.8,2212.8 L324,2211.8 L323.2,2210.8 L322.4,2209.8 L321.5,2208.8 L320.7,2207.8 L319.8,2206.8 L318.8,2205.8 L317.7,2204.7 L316.4,2203.7 L315.2,2202.7 L313.8,2201.7 L312.6,2200.7 L311.3,2199.7 L310.2,2198.7 L309.2,2197.7 L308.4,2196.7 L307.6,2195.7 L306.9,2194.7 L306.2,2193.7 L305.4,2192.7 L304.8,2191.7 L304.2,2190.7 L303.6,2189.7 L303.2,2188.7 L302.9,2187.7 L302.7,2186.7 L302.6,2185.7 L302.7,2184.7 L302.9,2183.7 L303.2,2182.7 L303.5,2181.7 L303.9,2180.7 L304.3,2179.7 L304.7,2178.7 L305.1,2177.7 L305.5,2176.7 L306,2175.7 L306.5,2174.7 L307.1,2173.7 L307.7,2172.7 L308.3,2171.6 L309,2170.6 L309.6,2169.6 L310.3,2168.6 L311,2167.6 L311.7,2166.6 L312.4,2165.6 L313.1,2164.6 L313.9,2163.6 L314.7,2162.6 L315.6,2161.6 L316.5,2160.6 L317.4,2159.6 L318.4,2158.6 L319.4,2157.6 L320.3,2156.6 L321.2,2155.6 L322,2154.6 L322.7,2153.6 L323.4,2152.6 L323.9,2151.6 L324.3,2150.6 L324.7,2149.6 L325.1,2148.6 L325.6,2147.6 L325.9,2146.6 L326.3,2145.6 L326.6,2144.6 L326.9,2143.6 L327.1,2142.6 L327.2,2141.6 L327.3,2140.6 L327.3,2139.6 L327.2,2138.5 L327.1,2137.5 L326.9,2136.5 L326.7,2135.5 L326.5,2134.5 L326.1,2133.5 L325.8,2132.5 L325.4,2131.5 L325,2130.5 L324.6,2129.5 L324.2,2128.5 L323.6,2127.5 L322.8,2126.5 L321.9,2125.5 L320.9,2124.5 L319.9,2123.5 L318.8,2122.5 L317.7,2121.5 L316.6,2120.5 L315.5,2119.5 L314.3,2118.5 L313.1,2117.5 L311.7,2116.5 L310.3,2115.5 L308.9,2114.5 L307.5,2113.5 L306.1,2112.5 L304.7,2111.5 L303.4,2110.5 L302.2,2109.5 L301.1,2108.5 L300.1,2107.5 L299.1,2106.5 L298.1,2105.4 L297.1,2104.4 L296.1,2103.4 L295.2,2102.4 L294.3,2101.4 L293.6,2100.4 L293,2099.4 L292.5,2098.4 L292.3,2097.4 L292.2,2096.4 L292.4,2095.4 L292.6,2094.4 L293,2093.4 L293.5,2092.4 L294,2091.4 L294.6,2090.4 L295.2,2089.4 L295.9,2088.4 L296.6,2087.4 L297.2,2086.4 L297.9,2085.4 L298.6,2084.4 L299.3,2083.4 L300.2,2082.4 L301.1,2081.4 L302,2080.4 L302.9,2079.4 L303.9,2078.4 L304.9,2077.4 L305.8,2076.4 L306.8,2075.4 L307.7,2074.4 L308.6,2073.4 L309.5,2072.3 L310.3,2071.3 L311.2,2070.3 L312,2069.3 L312.8,2068.3 L313.7,2067.3 L314.5,2066.3 L315.3,2065.3 L316.1,2064.3 L316.9,2063.3 L317.7,2062.3 L318.4,2061.3 L319.2,2060.3 L319.9,2059.3 L320.6,2058.3 L321.4,2057.3 L322.1,2056.3 L322.8,2055.3 L323.5,2054.3 L324.2,2053.3 L324.8,2052.3 L325.5,2051.3 L326.1,2050.3 L326.8,2049.3 L327.4,2048.3 L327.9,2047.3 L328.5,2046.3 L329,2045.3 L329.6,2044.3 L330.1,2043.3 L330.6,2042.3 L331.2,2041.3 L331.7,2040.3 L332.1,2039.2 L332.6,2038.2 L333.1,2037.2 L333.5,2036.2 L333.9,2035.2 L334.3,2034.2 L334.6,2033.2 L334.9,2032.2 L335.2,2031.2 L335.5,2030.2 L335.7,2029.2 L335.9,2028.2 L336.1,2027.2 L336.3,2026.2 L336.5,2025.2 L336.7,2024.2 L336.9,2023.2 L337.1,2022.2 L337.3,2021.2Z" fill="#60AEFC"/>
<path d="M458,2000.6 L458.2,2001.7 L458.5,2002.7 L458.7,2003.7 L458.9,2004.7 L459.1,2005.7 L459.4,2006.7 L459.6,2007.7 L459.8,2008.7 L460.1,2009.7 L460.3,2010.7 L460.6,2011.7 L460.9,2012.7 L461.2,2013.7 L461.5,2014.7 L461.9,2015.7 L462.3,2016.7 L462.7,2017.7 L463.2,2018.7 L463.6,2019.7 L464.1,2020.7 L464.6,2021.7 L465,2022.7 L465.5,2023.7 L465.9,2024.7 L466.4,2025.7 L466.8,2026.7 L467.2,2027.7 L467.6,2028.7 L468.1,2029.7 L468.5,2030.7 L468.9,2031.7 L469.3,2032.8 L469.7,2033.8 L470.1,2034.8 L470.6,2035.8 L471,2036.8 L471.4,2037.8 L471.9,2038.8 L472.3,2039.8 L472.7,2040.8 L473.2,2041.8 L473.6,2042.8 L474.1,2043.8 L474.6,2044.8 L475.1,2045.8 L475.7,2046.8 L476.3,2047.8 L476.9,2048.8 L477.6,2049.8 L478.3,2050.8 L479,2051.8 L479.7,2052.8 L480.4,2053.8 L481.2,2054.8 L481.9,2055.8 L482.7,2056.8 L483.5,2057.8 L484.4,2058.8 L485.3,2059.8 L486.2,2060.8 L487.2,2061.8 L488,2062.8 L488.9,2063.9 L489.6,2064.9 L490.3,2065.9 L490.9,2066.9 L491.6,2067.9 L492.2,2068.9 L492.9,2069.9 L493.5,2070.9 L494,2071.9 L494.4,2072.9 L494.7,2073.9 L494.8,2074.9 L494.8,2075.9 L494.6,2076.9 L494.4,2077.9 L494.1,2078.9 L493.8,2079.9 L493.4,2080.9 L493,2081.9 L492.6,2082.9 L492.1,2083.9 L491.4,2084.9 L490.7,2085.9 L489.9,2086.9 L489.1,2087.9 L488.2,2088.9 L487.5,2089.9 L486.7,2090.9 L486,2091.9 L485.1,2092.9 L484.3,2093.9 L483.5,2094.9 L482.8,2096 L482.1,2097 L481.5,2098 L481,2099 L480.6,2100 L480.2,2101 L479.8,2102 L479.4,2103 L479.1,2104 L478.8,2105 L478.6,2106 L478.4,2107 L478.4,2108 L478.4,2109 L478.4,2110 L478.4,2111 L478.4,2112 L478.4,2113 L478.4,2114 L478.4,2115 L478.4,2116 L478.4,2117 L478.4,2118 L478.4,2119 L478.4,2120 L478.4,2121 L478.4,2122 L478.5,2123 L478.6,2124 L478.7,2125 L478.8,2126 L479,2127.1 L479.1,2128.1 L479.3,2129.1 L479.5,2130.1 L479.7,2131.1 L479.9,2132.1 L480.2,2133.1 L480.5,2134.1 L481,2135.1 L481.5,2136.1 L482.1,2137.1 L482.7,2138.1 L483.3,2139.1 L484,2140.1 L484.6,2141.1 L485.3,2142.1 L486,2143.1 L486.6,2144.1 L487.2,2145.1 L487.9,2146.1 L488.6,2147.1 L489.4,2148.1 L490.1,2149.1 L490.9,2150.1 L491.6,2151.1 L492.3,2152.1 L493,2153.1 L493.7,2154.1 L494.4,2155.1 L495,2156.1 L495.6,2157.1 L496.2,2158.2 L496.8,2159.2 L497.4,2160.2 L497.9,2161.2 L498.4,2162.2 L498.9,2163.2 L499.3,2164.2 L499.7,2165.2 L500,2166.2 L500.3,2167.2 L500.6,2168.2 L500.9,2169.2 L501.2,2170.2 L501.5,2171.2 L501.7,2172.2 L501.9,2173.2 L502.1,2174.2 L502.3,2175.2 L502.4,2176.2 L502.5,2177.2 L502.5,2178.2 L502.5,2179.2 L502.4,2180.2 L502.3,2181.2 L502.2,2182.2 L502,2183.2 L501.8,2184.2 L501.6,2185.2 L501.3,2186.2 L501.1,2187.2 L500.8,2188.2 L500.5,2189.3 L500.3,2190.3 L500,2191.3 L499.6,2192.3 L499.2,2193.3 L498.8,2194.3 L498.3,2195.3 L497.7,2196.3 L497.1,2197.3 L496.5,2198.3 L495.9,2199.3 L495.2,2200.3 L494.5,2201.3 L493.9,2202.3 L493.2,2203.3 L492.5,2204.3 L491.9,2205.3 L491.2,2206.3 L490.5,2207.3 L489.7,2208.3 L489,2209.3 L488.2,2210.3 L487.5,2211.3 L486.7,2212.3 L486,2213.3 L485.2,2214.3 L484.5,2215.3 L483.7,2216.3 L483,2217.3 L482.2,2218.3 L481.4,2219.3 L480.7,2220.4 L479.9,2221.4 L479.1,2222.4 L478.4,2223.4 L477.6,2224.4 L476.9,2225.4 L476.1,2226.4 L475.4,2227.4 L474.7,2228.4 L474,2229.4 L473.3,2230.4 L472.6,2231.4 L472,2232.4 L471.3,2233.4 L470.6,2234.4 L470,2235.4 L469.3,2236.4 L468.7,2237.4 L468.1,2238.4 L467.5,2239.4 L466.9,2240.4 L466.3,2241.4 L465.7,2242.4 L465.2,2243.4 L464.7,2244.4 L464.2,2245.4 L463.8,2246.4 L463.3,2247.4 L462.8,2248.4 L462.4,2249.4 L461.9,2250.4 L461.5,2251.4 L461.1,2252.5 L460.7,2253.5 L460.4,2254.5 L460,2255.5 L459.7,2256.5 L459.4,2257.5 L459.2,2258.5 L459,2259.5 L458.8,2260.5 L458.6,2261.5 L458.4,2262.5 L458.2,2263.5 L458,2264.5 L458,2264.5 L457.8,2263.5 L457.6,2262.5 L457.4,2261.5 L457.2,2260.5 L457,2259.5 L456.8,2258.5 L456.6,2257.5 L456.3,2256.5 L456,2255.5 L455.6,2254.5 L455.3,2253.5 L454.9,2252.5 L454.5,2251.4 L454.1,2250.4 L453.6,2249.4 L453.2,2248.4 L452.7,2247.4 L452.2,2246.4 L451.8,2245.4 L451.3,2244.4 L450.8,2243.4 L450.3,2242.4 L449.7,2241.4 L449.1,2240.4 L448.5,2239.4 L447.9,2238.4 L447.3,2237.4 L446.7,2236.4 L446,2235.4 L445.4,2234.4 L444.7,2233.4 L444,2232.4 L443.4,2231.4 L442.7,2230.4 L442,2229.4 L441.3,2228.4 L440.6,2227.4 L439.9,2226.4 L439.1,2225.4 L438.4,2224.4 L437.6,2223.4 L436.9,2222.4 L436.1,2221.4 L435.3,2220.4 L434.6,2219.3 L433.8,2218.3 L433,2217.3 L432.3,2216.3 L431.5,2215.3 L430.8,2214.3 L430,2213.3 L429.3,2212.3 L428.5,2211.3 L427.8,2210.3 L427,2209.3 L426.3,2208.3 L425.5,2207.3 L424.8,2206.3 L424.1,2205.3 L423.5,2204.3 L422.8,2203.3 L422.1,2202.3 L421.5,2201.3 L420.8,2200.3 L420.1,2199.3 L419.5,2198.3 L418.9,2197.3 L418.3,2196.3 L417.7,2195.3 L417.2,2194.3 L416.8,2193.3 L416.4,2192.3 L416,2191.3 L415.7,2190.3 L415.5,2189.3 L415.2,2188.2 L414.9,2187.2 L414.7,2186.2 L414.4,2185.2 L414.2,2184.2 L414,2183.2 L413.8,2182.2 L413.7,2181.2 L413.6,2180.2 L413.5,2179.2 L413.5,2178.2 L413.5,2177.2 L413.6,2176.2 L413.7,2175.2 L413.9,2174.2 L414.1,2173.2 L414.3,2172.2 L414.5,2171.2 L414.8,2170.2 L415.1,2169.2 L415.4,2168.2 L415.7,2167.2 L416,2166.2 L416.3,2165.2 L416.7,2164.2 L417.1,2163.2 L417.6,2162.2 L418.1,2161.2 L418.6,2160.2 L419.2,2159.2 L419.8,2158.2 L420.4,2157.1 L421,2156.1 L421.6,2155.1 L422.3,2154.1 L423,2153.1 L423.7,2152.1 L424.4,2151.1 L425.1,2150.1 L425.9,2149.1 L426.6,2148.1 L427.4,2147.1 L428.1,2146.1 L428.8,2145.1 L429.4,2144.1 L430,2143.1 L430.7,2142.1 L431.4,2141.1 L432,2140.1 L432.7,2139.1 L433.3,2138.1 L433.9,2137.1 L434.5,2136.1 L435,2135.1 L435.5,2134.1 L435.8,2133.1 L436.1,2132.1 L436.3,2131.1 L436.5,2130.1 L436.7,2129.1 L436.9,2128.1 L437,2127.1 L437.2,2126 L437.3,2125 L437.4,2124 L437.5,2123 L437.6,2122 L437.6,2121 L437.6,2120 L437.6,2119 L437.6,2118 L437.6,2117 L437.6,2116 L437.6,2115 L437.6,2114 L437.6,2113 L437.6,2112 L437.6,2111 L437.6,2110 L437.6,2109 L437.6,2108 L437.6,2107 L437.4,2106 L437.2,2105 L436.9,2104 L436.6,2103 L436.2,2102 L435.8,2101 L435.4,2100 L435,2099 L434.5,2098 L433.9,2097 L433.2,2096 L432.5,2094.9 L431.7,2093.9 L430.9,2092.9 L430,2091.9 L429.3,2090.9 L428.5,2089.9 L427.8,2088.9 L426.9,2087.9 L426.1,2086.9 L425.3,2085.9 L424.6,2084.9 L423.9,2083.9 L423.4,2082.9 L423,2081.9 L422.6,2080.9 L422.2,2079.9 L421.9,2078.9 L421.6,2077.9 L421.4,2076.9 L421.2,2075.9 L421.2,2074.9 L421.3,2073.9 L421.6,2072.9 L422,2071.9 L422.5,2070.9 L423.1,2069.9 L423.8,2068.9 L424.4,2067.9 L425.1,2066.9 L425.7,2065.9 L426.4,2064.9 L427.1,2063.9 L428,2062.8 L428.8,2061.8 L429.8,2060.8 L430.7,2059.8 L431.6,2058.8 L432.5,2057.8 L433.3,2056.8 L434.1,2055.8 L434.8,2054.8 L435.6,2053.8 L436.3,2052.8 L437,2051.8 L437.7,2050.8 L438.4,2049.8 L439.1,2048.8 L439.7,2047.8 L440.3,2046.8 L440.9,2045.8 L441.4,2044.8 L441.9,2043.8 L442.4,2042.8 L442.8,2041.8 L443.3,2040.8 L443.7,2039.8 L444.1,2038.8 L444.6,2037.8 L445,2036.8 L445.4,2035.8 L445.9,2034.8 L446.3,2033.8 L446.7,2032.8 L447.1,2031.7 L447.5,2030.7 L447.9,2029.7 L448.4,2028.7 L448.8,2027.7 L449.2,2026.7 L449.6,2025.7 L450.1,2024.7 L450.5,2023.7 L451,2022.7 L451.4,2021.7 L451.9,2020.7 L452.4,2019.7 L452.8,2018.7 L453.3,2017.7 L453.7,2016.7 L454.1,2015.7 L454.5,2014.7 L454.8,2013.7 L455.1,2012.7 L455.4,2011.7 L455.7,2010.7 L455.9,2009.7 L456.2,2008.7 L456.4,2007.7 L456.6,2006.7 L456.9,2005.7 L457.1,2004.7 L457.3,2003.7 L457.5,2002.7 L457.8,2001.7 L458,2000.6Z" fill="#B46FFC"/>
<path d="M578.5,2034.5 L578.9,2035.5 L579.3,2036.5 L579.7,2037.5 L580.1,2038.5 L580.6,2039.5 L581.1,2040.5 L581.9,2041.5 L583.1,2042.6 L584.6,2043.6 L586.2,2044.6 L587.8,2045.6 L589,2046.6 L589.9,2047.6 L590.6,2048.6 L591.3,2049.6 L591.9,2050.6 L592.4,2051.6 L592.7,2052.6 L592.8,2053.6 L592.5,2054.6 L591.8,2055.6 L590.9,2056.6 L589.9,2057.6 L589,2058.6 L588.4,2059.6 L588,2060.6 L587.7,2061.6 L587.5,2062.6 L587.3,2063.6 L587.2,2064.6 L587.2,2065.6 L587.2,2066.6 L587.3,2067.6 L587.4,2068.6 L587.5,2069.6 L587.6,2070.6 L587.7,2071.6 L588,2072.6 L588.3,2073.6 L588.8,2074.6 L589.4,2075.7 L589.9,2076.7 L590.3,2077.7 L590.7,2078.7 L590.9,2079.7 L590.9,2080.7 L590.7,2081.7 L590.5,2082.7 L590.2,2083.7 L589.8,2084.7 L589.5,2085.7 L589.2,2086.7 L588.8,2087.7 L588.4,2088.7 L588,2089.7 L587.6,2090.7 L587.3,2091.7 L587.2,2092.7 L587.4,2093.7 L587.9,2094.7 L588.7,2095.7 L589.6,2096.7 L590.7,2097.7 L591.7,2098.7 L592.8,2099.7 L594.1,2100.7 L595.5,2101.7 L597.1,2102.7 L598.7,2103.7 L600.4,2104.7 L602.1,2105.7 L603.7,2106.7 L605.2,2107.8 L606.8,2108.8 L608.5,2109.8 L610.2,2110.8 L611.8,2111.8 L613.4,2112.8 L614.9,2113.8 L616.3,2114.8 L617.4,2115.8 L618.4,2116.8 L619.4,2117.8 L620.4,2118.8 L621.2,2119.8 L622,2120.8 L622.6,2121.8 L622.9,2122.8 L622.9,2123.8 L622.8,2124.8 L622.5,2125.8 L622.1,2126.8 L621.6,2127.8 L621,2128.8 L620.4,2129.8 L619.8,2130.8 L619.1,2131.8 L618.1,2132.8 L617,2133.8 L615.7,2134.8 L614.4,2135.8 L613.1,2136.8 L611.8,2137.8 L610.7,2138.8 L609.7,2139.8 L609,2140.9 L608.5,2141.9 L608.2,2142.9 L607.9,2143.9 L607.7,2144.9 L607.5,2145.9 L607.3,2146.9 L607.1,2147.9 L606.9,2148.9 L606.7,2149.9 L606.4,2150.9 L606.1,2151.9 L605.6,2152.9 L604.8,2153.9 L603.9,2154.9 L602.8,2155.9 L601.7,2156.9 L600.4,2157.9 L599.1,2158.9 L597.9,2159.9 L596.7,2160.9 L595.6,2161.9 L594.6,2162.9 L593.7,2163.9 L592.8,2164.9 L592,2165.9 L591.1,2166.9 L590.3,2167.9 L589.5,2168.9 L588.8,2169.9 L588.1,2170.9 L587.4,2171.9 L586.7,2173 L585.9,2174 L585.2,2175 L584.6,2176 L584.2,2177 L584,2178 L584,2179 L584.1,2180 L584.1,2181 L584.2,2182 L584.4,2183 L584.5,2184 L584.6,2185 L584.7,2186 L584.8,2187 L584.8,2188 L584.9,2189 L584.8,2190 L584.8,2191 L584.7,2192 L584.6,2193 L584.4,2194 L584.2,2195 L584,2196 L583.8,2197 L583.6,2198 L583.4,2199 L583.2,2200 L582.9,2201 L582.5,2202 L582.1,2203 L581.7,2204 L581.3,2205 L580.9,2206.1 L580.5,2207.1 L580.1,2208.1 L579.8,2209.1 L579.5,2210.1 L579.3,2211.1 L579,2212.1 L578.8,2213.1 L578.6,2214.1 L578.5,2215.1 L578.5,2216.1 L578.5,2217.1 L578.5,2218.1 L578.5,2219.1 L578.5,2220.1 L578.5,2221.1 L578.5,2222.1 L578.5,2223.1 L578.5,2224.1 L578.5,2225.1 L578.5,2226.1 L578.5,2227.1 L578.5,2228.1 L578.5,2229.1 L578.5,2230.1 L578.5,2231.1 L578.5,2232.1 L578.5,2233.1 L578.5,2234.1 L578.5,2235.1 L578.7,2236.1 L579,2237.1 L579.3,2238.1 L579.7,2239.2 L580.1,2240.2 L580.5,2241.2 L580.9,2242.2 L581.3,2243.2 L581.7,2244.2 L582.1,2245.2 L582.5,2246.2 L582.9,2247.2 L583.1,2248.2 L583.3,2249.2 L583.2,2250.2 L583,2251.2 L582.7,2252.2 L582.3,2253.2 L581.9,2254.2 L581.4,2255.2 L580.9,2256.2 L580.5,2257.2 L580.2,2258.2 L579.9,2259.2 L579.6,2260.2 L579.3,2261.2 L579.1,2262.2 L578.8,2263.2 L578.5,2264.2 L578.5,2264.2 L578.2,2263.2 L577.9,2262.2 L577.7,2261.2 L577.4,2260.2 L577.1,2259.2 L576.8,2258.2 L576.5,2257.2 L576.1,2256.2 L575.6,2255.2 L575.1,2254.2 L574.7,2253.2 L574.3,2252.2 L574,2251.2 L573.8,2250.2 L573.7,2249.2 L573.9,2248.2 L574.1,2247.2 L574.5,2246.2 L574.9,2245.2 L575.3,2244.2 L575.7,2243.2 L576.1,2242.2 L576.5,2241.2 L576.9,2240.2 L577.3,2239.2 L577.7,2238.1 L578,2237.1 L578.3,2236.1 L578.5,2235.1 L578.5,2234.1 L578.5,2233.1 L578.5,2232.1 L578.5,2231.1 L578.5,2230.1 L578.5,2229.1 L578.5,2228.1 L578.5,2227.1 L578.5,2226.1 L578.5,2225.1 L578.5,2224.1 L578.5,2223.1 L578.5,2222.1 L578.5,2221.1 L578.5,2220.1 L578.5,2219.1 L578.5,2218.1 L578.5,2217.1 L578.5,2216.1 L578.5,2215.1 L578.4,2214.1 L578.2,2213.1 L578,2212.1 L577.7,2211.1 L577.5,2210.1 L577.2,2209.1 L576.9,2208.1 L576.5,2207.1 L576.1,2206.1 L575.7,2205 L575.3,2204 L574.9,2203 L574.5,2202 L574.1,2201 L573.8,2200 L573.6,2199 L573.4,2198 L573.2,2197 L573,2196 L572.8,2195 L572.6,2194 L572.4,2193 L572.3,2192 L572.2,2191 L572.2,2190 L572.1,2189 L572.2,2188 L572.2,2187 L572.3,2186 L572.4,2185 L572.5,2184 L572.6,2183 L572.8,2182 L572.9,2181 L572.9,2180 L573,2179 L573,2178 L572.8,2177 L572.4,2176 L571.8,2175 L571.1,2174 L570.3,2173 L569.6,2171.9 L568.9,2170.9 L568.2,2169.9 L567.5,2168.9 L566.7,2167.9 L565.9,2166.9 L565,2165.9 L564.2,2164.9 L563.3,2163.9 L562.4,2162.9 L561.4,2161.9 L560.3,2160.9 L559.1,2159.9 L557.9,2158.9 L556.6,2157.9 L555.3,2156.9 L554.2,2155.9 L553.1,2154.9 L552.2,2153.9 L551.4,2152.9 L550.9,2151.9 L550.6,2150.9 L550.3,2149.9 L550.1,2148.9 L549.9,2147.9 L549.7,2146.9 L549.5,2145.9 L549.3,2144.9 L549.1,2143.9 L548.8,2142.9 L548.5,2141.9 L548,2140.9 L547.3,2139.8 L546.3,2138.8 L545.2,2137.8 L543.9,2136.8 L542.6,2135.8 L541.3,2134.8 L540,2133.8 L538.9,2132.8 L537.9,2131.8 L537.2,2130.8 L536.6,2129.8 L536,2128.8 L535.4,2127.8 L534.9,2126.8 L534.5,2125.8 L534.2,2124.8 L534.1,2123.8 L534.1,2122.8 L534.4,2121.8 L535,2120.8 L535.8,2119.8 L536.6,2118.8 L537.6,2117.8 L538.6,2116.8 L539.6,2115.8 L540.7,2114.8 L542.1,2113.8 L543.6,2112.8 L545.2,2111.8 L546.8,2110.8 L548.5,2109.8 L550.2,2108.8 L551.8,2107.8 L553.3,2106.7 L554.9,2105.7 L556.6,2104.7 L558.3,2103.7 L559.9,2102.7 L561.5,2101.7 L562.9,2100.7 L564.2,2099.7 L565.3,2098.7 L566.3,2097.7 L567.4,2096.7 L568.3,2095.7 L569.1,2094.7 L569.6,2093.7 L569.8,2092.7 L569.7,2091.7 L569.4,2090.7 L569,2089.7 L568.6,2088.7 L568.2,2087.7 L567.8,2086.7 L567.5,2085.7 L567.2,2084.7 L566.8,2083.7 L566.5,2082.7 L566.3,2081.7 L566.1,2080.7 L566.1,2079.7 L566.3,2078.7 L566.7,2077.7 L567.1,2076.7 L567.6,2075.7 L568.2,2074.6 L568.7,2073.6 L569,2072.6 L569.3,2071.6 L569.4,2070.6 L569.5,2069.6 L569.6,2068.6 L569.7,2067.6 L569.8,2066.6 L569.8,2065.6 L569.8,2064.6 L569.7,2063.6 L569.5,2062.6 L569.3,2061.6 L569,2060.6 L568.6,2059.6 L568,2058.6 L567.1,2057.6 L566.1,2056.6 L565.2,2055.6 L564.5,2054.6 L564.2,2053.6 L564.3,2052.6 L564.6,2051.6 L565.1,2050.6 L565.7,2049.6 L566.4,2048.6 L567.1,2047.6 L568,2046.6 L569.2,2045.6 L570.8,2044.6 L572.4,2043.6 L573.9,2042.6 L575.1,2041.5 L575.9,2040.5 L576.4,2039.5 L576.9,2038.5 L577.3,2037.5 L577.7,2036.5 L578.1,2035.5 L578.5,2034.5Z" fill="#FF57AF"/>
<circle class="d" cx="211.8" cy="2076.7" r="4.1"/>
<circle class="d" cx="235.2" cy="2085" r="4.1"/>
<circle class="d" cx="216.9" cy="2105.2" r="4.1"/>
<circle class="d" cx="199.4" cy="2123.3" r="4.1"/>
<circle class="d" cx="219.1" cy="2174.6" r="4.1"/>
<circle class="d" cx="237.9" cy="2262.1" r="4.1"/>
<circle class="d" cx="193" cy="2270.5" r="4.1"/>
<circle class="d" cx="238.8" cy="2287.7" r="4.1"/>
<circle class="d" cx="196.3" cy="2311.1" r="4.1"/>
<circle class="d" cx="201.2" cy="2363.7" r="4.1"/>
<circle class="d" cx="229.7" cy="2363.7" r="4.1"/>
<circle class="d" cx="209.6" cy="2389.8" r="4.1"/>
<circle class="d" cx="352.6" cy="2065.5" r="4.1"/>
<circle class="d" cx="353.7" cy="2079.2" r="4.1"/>
<circle class="d" cx="343.1" cy="2085.7" r="4.1"/>
<circle class="d" cx="341.5" cy="2093.4" r="4.1"/>
<circle class="d" cx="324.9" cy="2103.8" r="4.1"/>
<circle class="d" cx="354.9" cy="2100.3" r="4.1"/>
<circle class="d" cx="348.1" cy="2105.9" r="4.1"/>
<circle class="d" cx="358" cy="2107.8" r="4.1"/>
<circle class="d" cx="355" cy="2152.8" r="4.1"/>
<circle class="d" cx="318.4" cy="2181.1" r="4.1"/>
<circle class="d" cx="346.9" cy="2178.1" r="4.1"/>
<circle class="d" cx="351.5" cy="2186.5" r="4.1"/>
<circle class="d" cx="333.7" cy="2191.9" r="4.1"/>
<circle class="d" cx="349.5" cy="2198.3" r="4.1"/>
<circle class="d" cx="342.7" cy="2242.1" r="4.1"/>
<circle class="d" cx="318.8" cy="2281" r="4.1"/>
<circle class="d" cx="452.4" cy="2029.4" r="4.1"/>
<circle class="d" cx="435.5" cy="2047.6" r="4.1"/>
<circle class="d" cx="435" cy="2063.4" r="4.1"/>
<circle class="d" cx="436.5" cy="2069" r="4.1"/>
<circle class="d" cx="450.9" cy="2077.2" r="4.1"/>
<circle class="d" cx="448.6" cy="2080.2" r="4.1"/>
<circle class="d" cx="435.9" cy="2082.9" r="4.1"/>
<circle class="d" cx="482" cy="2092" r="4.1"/>
<circle class="d" cx="474.3" cy="2113" r="4.1"/>
<circle class="d" cx="446.7" cy="2121.1" r="4.1"/>
<circle class="d" cx="435.6" cy="2134.6" r="4.1"/>
<circle class="d" cx="471.6" cy="2150.6" r="4.1"/>
<circle class="d" cx="458.6" cy="2155.6" r="4.1"/>
<circle class="d" cx="457.7" cy="2160.4" r="4.1"/>
<circle class="d" cx="448.3" cy="2169.5" r="4.1"/>
<circle class="d" cx="453.6" cy="2171" r="4.1"/>
<circle class="d" cx="466" cy="2178.1" r="4.1"/>
<circle class="d" cx="480.5" cy="2185.5" r="4.1"/>
<circle class="d" cx="470.8" cy="2187.8" r="4.1"/>
<circle class="d" cx="435.9" cy="2192.9" r="4.1"/>
<circle class="d" cx="457.7" cy="2206.5" r="4.1"/>
<circle class="d" cx="452.7" cy="2209.1" r="4.1"/>
<circle class="d" cx="446.7" cy="2213.6" r="4.1"/>
<circle class="d" cx="458" cy="2234.9" r="4.1"/>
<circle class="d" cx="559.3" cy="2050.4" r="4.1"/>
<circle class="d" cx="557" cy="2054.6" r="4.1"/>
<circle class="d" cx="566.9" cy="2058" r="4.1"/>
<circle class="d" cx="599.7" cy="2072.8" r="4.1"/>
<circle class="d" cx="588.9" cy="2081.4" r="4.1"/>
<circle class="d" cx="573.9" cy="2084" r="4.1"/>
<circle class="d" cx="573" cy="2100.4" r="4.1"/>
<circle class="d" cx="568" cy="2105.2" r="4.1"/>
<circle class="d" cx="591.9" cy="2111.3" r="4.1"/>
<circle class="d" cx="574.1" cy="2113.4" r="4.1"/>
<circle class="d" cx="557.2" cy="2117.1" r="4.1"/>
<circle class="d" cx="560.6" cy="2120.3" r="4.1"/>
<circle class="d" cx="565.3" cy="2120.8" r="4.1"/>
<circle class="d" cx="585.2" cy="2121.5" r="4.1"/>
<circle class="d" cx="567.2" cy="2124.5" r="4.1"/>
<circle class="d" cx="599" cy="2127.1" r="4.1"/>
<circle class="d" cx="602.2" cy="2128.2" r="4.1"/>
<circle class="d" cx="554.5" cy="2132.7" r="4.1"/>
<circle class="d" cx="588.4" cy="2133" r="4.1"/>
<circle class="d" cx="569.9" cy="2137.7" r="4.1"/>
<circle class="d" cx="575.7" cy="2137.7" r="4.1"/>
<circle class="d" cx="594" cy="2139.3" r="4.1"/>
<circle class="d" cx="590" cy="2142.5" r="4.1"/>
<circle class="d" cx="559.1" cy="2152.6" r="4.1"/>
<circle class="d" cx="571.8" cy="2151.5" r="4.1"/>
<circle class="d" cx="580.5" cy="2151.8" r="4.1"/>
<circle class="d" cx="567" cy="2157.8" r="4.1"/>
<circle class="d" cx="580.7" cy="2164.2" r="4.1"/>
<circle class="d" cx="596.3" cy="2170.9" r="4.1"/>
<circle class="d" cx="558.8" cy="2188.5" r="4.1"/>
<circle class="d" cx="584.9" cy="2201.6" r="4.1"/>
<circle class="d" cx="569.9" cy="2249.7" r="4.1"/>
</g>
<line x1="216.4" x2="216.4" y1="2117.5" y2="2342.1" stroke="#1610F0" stroke-width="3.2"/>
<circle cx="216.4" cy="2230.2" r="8.3" fill="#1414F0"/>
<line x1="337.3" x2="337.3" y1="2083.9" y2="2210.8" stroke="#1610F0" stroke-width="3.2"/>
<circle cx="337.3" cy="2146.7" r="8.3" fill="#1414F0"/>
<line x1="458" x2="458" y1="2079.3" y2="2198.2" stroke="#1610F0" stroke-width="3.2"/>
<circle cx="458" cy="2138.5" r="8.3" fill="#1414F0"/>
<line x1="578.5" x2="578.5" y1="2085.3" y2="2170.5" stroke="#1610F0" stroke-width="3.2"/>
<circle cx="578.5" cy="2127.4" r="8.3" fill="#1414F0"/>
<g stroke="#333333" stroke-width="3.4">
<line x1="136.7" x2="144.2" y1="2389.8" y2="2389.8"/>
<line x1="136.7" x2="144.2" y1="2336.9" y2="2336.9"/>
<line x1="136.7" x2="144.2" y1="2284" y2="2284"/>
<line x1="136.7" x2="144.2" y1="2231.1" y2="2231.1"/>
<line x1="136.7" x2="144.2" y1="2178.2" y2="2178.2"/>
<line x1="136.7" x2="144.2" y1="2125.3" y2="2125.3"/>
<line x1="136.7" x2="144.2" y1="2072.4" y2="2072.4"/>
<line x1="136.7" x2="144.2" y1="2019.5" y2="2019.5"/>
<line x1="216.4" x2="216.4" y1="2411" y2="2418.5"/>
<line x1="337.3" x2="337.3" y1="2411" y2="2418.5"/>
<line x1="458" x2="458" y1="2411" y2="2418.5"/>
<line x1="578.5" x2="578.5" y1="2411" y2="2418.5"/>
</g>
<path d="M144.2,1973.8 V2411 H648.8" fill="none" stroke="#000" stroke-width="2.8"/>
<g font-family="'Liberation Sans', Arial, Helvetica, sans-serif" font-size="31" fill="#000">
<text x="130.7" y="2401" text-anchor="end">0</text>
<text x="130.7" y="2348.1" text-anchor="end">2</text>
<text x="130.7" y="2295.2" text-anchor="end">4</text>
<text x="130.7" y="2242.3" text-anchor="end">6</text>
<text x="130.7" y="2189.4" text-anchor="end">8</text>
<text x="130.7" y="2136.5" text-anchor="end">10</text>
<text x="130.7" y="2083.6" text-anchor="end">12</text>
<text x="130.7" y="2030.7" text-anchor="end">14</text>
<text x="216.4" y="2446.6" text-anchor="middle" font-size="31.8">AAH</text>
<text x="337.3" y="2446.6" text-anchor="middle" font-size="31.8">AIS</text>
<text x="458" y="2446.6" text-anchor="middle" font-size="31.8">MIA</text>
<text x="578.5" y="2446.6" text-anchor="middle" font-size="31.8">ADC</text>
</g>
<text x="396.5" y="2480.6" text-anchor="middle" font-family="'Liberation Sans', Arial, Helvetica, sans-serif" font-weight="bold" font-size="28.9">Stages</text>
<text transform="translate(84.1,2191.8) rotate(-90)" text-anchor="middle" font-family="'Liberation Sans', Arial, Helvetica, sans-serif" font-size="28.9">log2 (Number of DMRs inside PMDs)</text>
<text transform="translate(143.5,1958.4) scale(1,1.07)" font-family="'Liberation Sans', Arial, Helvetica, sans-serif" font-size="30" letter-spacing="-0.5" fill="#CD3131">p−value = 0.04392 (Kruskal−Wallis test)</text>
<text x="-1" y="1915" font-family="'DejaVu Sans', 'Liberation Sans', sans-serif" font-size="54" fill="#000" stroke="#000" stroke-width="1.1">g</text>
<text x="671.2" y="2004.4" font-family="'Liberation Sans', Arial, Helvetica, sans-serif" font-size="26.4">Stages</text>
<rect x="672.4" y="2020.6" width="28.2" height="26.9" fill="#EE9D63"/>
<line x1="686.5" x2="686.5" y1="2022.5" y2="2045.5" stroke="#1010FF" stroke-width="2.6"/>
<circle cx="686.5" cy="2034" r="8" fill="#1414F0"/>
<text x="713.6" y="2042.6" font-family="'Liberation Sans', Arial, Helvetica, sans-serif" font-size="23.7">AAH</text>
<rect x="672.4" y="2049" width="28.2" height="26.9" fill="#60AEFC"/>
<line x1="686.5" x2="686.5" y1="2050.9" y2="2073.9" stroke="#1010FF" stroke-width="2.6"/>
<circle cx="686.5" cy="2062.4" r="8" fill="#1414F0"/>
<text x="713.6" y="2071" font-family="'Liberation Sans', Arial, Helvetica, sans-serif" font-size="23.7">AIS</text>
<rect x="672.4" y="2077.4" width="28.2" height="26.9" fill="#B46FFC"/>
<line x1="686.5" x2="686.5" y1="2079.3" y2="2102.3" stroke="#1010FF" stroke-width="2.6"/>
<circle cx="686.5" cy="2090.8" r="8" fill="#1414F0"/>
<text x="713.6" y="2099.4" font-family="'Liberation Sans', Arial, Helvetica, sans-serif" font-size="23.7">MIA</text>
<rect x="672.4" y="2105.8" width="28.2" height="26.9" fill="#FF57AF"/>
<line x1="686.5" x2="686.5" y1="2107.7" y2="2130.7" stroke="#1010FF" stroke-width="2.6"/>
<circle cx="686.5" cy="2119.2" r="8" fill="#1414F0"/>
<text x="713.6" y="2127.8" font-family="'Liberation Sans', Arial, Helvetica, sans-serif" font-size="23.7">ADC</text>
<clipPath id="c7"><rect x="940.3" y="1973.8" width="505" height="437.2"/></clipPath>
<rect x="940.3" y="1973.8" width="505" height="437.2" fill="#F8F9FD"/>
<g stroke="#FFFFFF"><line x1="940.3" x2="1445.3" y1="2389.8" y2="2389.8" stroke-width="1.6"/><line x1="940.3" x2="1445.3" y1="2363.4" y2="2363.4" stroke-width="0.9"/><line x1="940.3" x2="1445.3" y1="2336.9" y2="2336.9" stroke-width="1.6"/><line x1="940.3" x2="1445.3" y1="2310.5" y2="2310.5" stroke-width="0.9"/><line x1="940.3" x2="1445.3" y1="2284" y2="2284" stroke-width="1.6"/><line x1="940.3" x2="1445.3" y1="2257.6" y2="2257.6" stroke-width="0.9"/><line x1="940.3" x2="1445.3" y1="2231.1" y2="2231.1" stroke-width="1.6"/><line x1="940.3" x2="1445.3" y1="2204.7" y2="2204.7" stroke-width="0.9"/><line x1="940.3" x2="1445.3" y1="2178.2" y2="2178.2" stroke-width="1.6"/><line x1="940.3" x2="1445.3" y1="2151.8" y2="2151.8" stroke-width="0.9"/><line x1="940.3" x2="1445.3" y1="2125.3" y2="2125.3" stroke-width="1.6"/><line x1="940.3" x2="1445.3" y1="2098.9" y2="2098.9" stroke-width="0.9"/><line x1="940.3" x2="1445.3" y1="2072.4" y2="2072.4" stroke-width="1.6"/><line x1="940.3" x2="1445.3" y1="2046" y2="2046" stroke-width="0.9"/><line x1="940.3" x2="1445.3" y1="2019.5" y2="2019.5" stroke-width="1.6"/><line x1="940.3" x2="1445.3" y1="1993.1" y2="1993.1" stroke-width="0.9"/><line x1="1011.8" x2="1011.8" y1="1973.8" y2="2411" stroke-width="1.6"/><line x1="1133.3" x2="1133.3" y1="1973.8" y2="2411" stroke-width="1.6"/><line x1="1253.6" x2="1253.6" y1="1973.8" y2="2411" stroke-width="1.6"/><line x1="1374.3" x2="1374.3" y1="1973.8" y2="2411" stroke-width="1.6"/></g>
<g clip-path="url(#c7)">
<path d="M1011.8,1998.7 L1012,1999.7 L1012.1,2000.7 L1012.3,2001.7 L1012.4,2002.7 L1012.6,2003.7 L1012.7,2004.7 L1012.9,2005.7 L1013,2006.8 L1013.2,2007.8 L1013.4,2008.8 L1013.6,2009.8 L1013.8,2010.8 L1014,2011.8 L1014.3,2012.8 L1014.6,2013.8 L1014.9,2014.8 L1015.3,2015.8 L1015.7,2016.8 L1016.1,2017.8 L1016.5,2018.8 L1017,2019.8 L1017.4,2020.8 L1017.9,2021.8 L1018.4,2022.8 L1018.9,2023.8 L1019.4,2024.8 L1019.9,2025.8 L1020.4,2026.8 L1020.9,2027.8 L1021.4,2028.8 L1021.8,2029.8 L1022.3,2030.8 L1022.8,2031.8 L1023.3,2032.8 L1023.8,2033.8 L1024.2,2034.8 L1024.7,2035.8 L1025.2,2036.8 L1025.8,2037.8 L1026.3,2038.8 L1026.8,2039.8 L1027.4,2040.8 L1027.9,2041.8 L1028.5,2042.8 L1029.1,2043.8 L1029.7,2044.8 L1030.3,2045.8 L1030.9,2046.8 L1031.6,2047.8 L1032.3,2048.8 L1033,2049.8 L1033.8,2050.8 L1034.5,2051.8 L1035.3,2052.8 L1036.1,2053.8 L1036.9,2054.8 L1037.7,2055.8 L1038.5,2056.8 L1039.2,2057.8 L1039.9,2058.8 L1040.7,2059.8 L1041.4,2060.8 L1042.1,2061.8 L1042.9,2062.8 L1043.6,2063.8 L1044.3,2064.8 L1045,2065.8 L1045.7,2066.8 L1046.4,2067.8 L1047.1,2068.8 L1047.7,2069.8 L1048.3,2070.8 L1048.9,2071.8 L1049.4,2072.8 L1049.9,2073.8 L1050.4,2074.8 L1050.9,2075.8 L1051.4,2076.8 L1051.8,2077.8 L1052.3,2078.8 L1052.7,2079.8 L1053.1,2080.8 L1053.4,2081.8 L1053.7,2082.8 L1054,2083.8 L1054.2,2084.8 L1054.4,2085.8 L1054.6,2086.8 L1054.8,2087.8 L1055,2088.8 L1055.2,2089.8 L1055.4,2090.8 L1055.6,2091.8 L1055.7,2092.8 L1055.9,2093.8 L1056,2094.8 L1056.1,2095.8 L1056.1,2096.8 L1056.2,2097.8 L1056.2,2098.8 L1056.2,2099.8 L1056.1,2100.8 L1056,2101.8 L1055.8,2102.8 L1055.6,2103.8 L1055.4,2104.8 L1055.1,2105.8 L1054.9,2106.8 L1054.6,2107.8 L1054.3,2108.8 L1054,2109.8 L1053.8,2110.8 L1053.5,2111.8 L1053.2,2112.8 L1052.9,2113.8 L1052.6,2114.8 L1052.3,2115.8 L1051.9,2116.8 L1051.5,2117.8 L1051.2,2118.8 L1050.8,2119.8 L1050.4,2120.8 L1050,2121.8 L1049.7,2122.8 L1049.3,2123.8 L1049,2124.8 L1048.7,2125.8 L1048.4,2126.8 L1048.2,2127.8 L1047.9,2128.9 L1047.6,2129.9 L1047.3,2130.9 L1047.1,2131.9 L1046.8,2132.9 L1046.6,2133.9 L1046.3,2134.9 L1046.1,2135.9 L1045.8,2136.9 L1045.6,2137.9 L1045.3,2138.9 L1045.1,2139.9 L1044.9,2140.9 L1044.6,2141.9 L1044.3,2142.9 L1044.1,2143.9 L1043.8,2144.9 L1043.6,2145.9 L1043.4,2146.9 L1043.1,2147.9 L1042.9,2148.9 L1042.8,2149.9 L1042.6,2150.9 L1042.5,2151.9 L1042.4,2152.9 L1042.3,2153.9 L1042.2,2154.9 L1042.1,2155.9 L1042,2156.9 L1041.9,2157.9 L1041.8,2158.9 L1041.7,2159.9 L1041.6,2160.9 L1041.5,2161.9 L1041.5,2162.9 L1041.4,2163.9 L1041.3,2164.9 L1041.3,2165.9 L1041.2,2166.9 L1041.1,2167.9 L1041.1,2168.9 L1041,2169.9 L1041,2170.9 L1040.9,2171.9 L1040.9,2172.9 L1040.8,2173.9 L1040.8,2174.9 L1040.7,2175.9 L1040.7,2176.9 L1040.7,2177.9 L1040.6,2178.9 L1040.6,2179.9 L1040.6,2180.9 L1040.5,2181.9 L1040.5,2182.9 L1040.5,2183.9 L1040.5,2184.9 L1040.4,2185.9 L1040.4,2186.9 L1040.4,2187.9 L1040.3,2188.9 L1040.3,2189.9 L1040.3,2190.9 L1040.3,2191.9 L1040.2,2192.9 L1040.2,2193.9 L1040.2,2194.9 L1040.2,2195.9 L1040.2,2196.9 L1040.2,2197.9 L1040.1,2198.9 L1040.1,2199.9 L1040.1,2200.9 L1040.1,2201.9 L1040.1,2202.9 L1040.1,2203.9 L1040.1,2204.9 L1040.1,2205.9 L1040.2,2206.9 L1040.2,2207.9 L1040.2,2208.9 L1040.3,2209.9 L1040.4,2210.9 L1040.5,2211.9 L1040.6,2212.9 L1040.7,2213.9 L1040.8,2214.9 L1040.9,2215.9 L1041,2216.9 L1041.1,2217.9 L1041.2,2218.9 L1041.4,2219.9 L1041.5,2220.9 L1041.6,2221.9 L1041.8,2222.9 L1041.9,2223.9 L1042.1,2224.9 L1042.3,2225.9 L1042.5,2226.9 L1042.7,2227.9 L1042.9,2228.9 L1043.1,2229.9 L1043.4,2230.9 L1043.6,2231.9 L1043.9,2232.9 L1044.1,2233.9 L1044.4,2234.9 L1044.7,2235.9 L1045,2236.9 L1045.3,2237.9 L1045.6,2238.9 L1045.9,2239.9 L1046.2,2240.9 L1046.5,2241.9 L1046.8,2242.9 L1047.1,2243.9 L1047.3,2244.9 L1047.6,2245.9 L1047.8,2246.9 L1048,2247.9 L1048.3,2248.9 L1048.5,2249.9 L1048.7,2250.9 L1048.9,2252 L1049.1,2253 L1049.3,2254 L1049.4,2255 L1049.6,2256 L1049.7,2257 L1049.8,2258 L1049.9,2259 L1050,2260 L1050.1,2261 L1050.2,2262 L1050.3,2263 L1050.4,2264 L1050.5,2265 L1050.5,2266 L1050.6,2267 L1050.6,2268 L1050.7,2269 L1050.7,2270 L1050.7,2271 L1050.7,2272 L1050.6,2273 L1050.5,2274 L1050.3,2275 L1050.1,2276 L1049.9,2277 L1049.7,2278 L1049.4,2279 L1049.1,2280 L1048.9,2281 L1048.6,2282 L1048.3,2283 L1048,2284 L1047.7,2285 L1047.3,2286 L1047,2287 L1046.6,2288 L1046.1,2289 L1045.7,2290 L1045.2,2291 L1044.7,2292 L1044.2,2293 L1043.7,2294 L1043.2,2295 L1042.7,2296 L1042.1,2297 L1041.7,2298 L1041.2,2299 L1040.7,2300 L1040.3,2301 L1039.8,2302 L1039.3,2303 L1038.8,2304 L1038.4,2305 L1037.9,2306 L1037.4,2307 L1037,2308 L1036.6,2309 L1036.3,2310 L1035.9,2311 L1035.6,2312 L1035.3,2313 L1035,2314 L1034.6,2315 L1034.3,2316 L1034,2317 L1033.7,2318 L1033.4,2319 L1033.2,2320 L1033,2321 L1032.8,2322 L1032.6,2323 L1032.5,2324 L1032.5,2325 L1032.4,2326 L1032.4,2327 L1032.4,2328 L1032.4,2329 L1032.4,2330 L1032.4,2331 L1032.4,2332 L1032.4,2333 L1032.4,2334 L1032.4,2335 L1032.4,2336 L1032.4,2337 L1032.5,2338 L1032.6,2339 L1032.8,2340 L1033.1,2341 L1033.4,2342 L1033.8,2343 L1034.2,2344 L1034.6,2345 L1035,2346 L1035.4,2347 L1035.9,2348 L1036.3,2349 L1036.7,2350 L1037.2,2351 L1037.7,2352 L1038.3,2353 L1038.9,2354 L1039.5,2355 L1040.1,2356 L1040.7,2357 L1041.4,2358 L1042,2359 L1042.6,2360 L1043.2,2361 L1043.7,2362 L1044.2,2363 L1044.6,2364 L1045.1,2365 L1045.6,2366 L1046,2367 L1046.5,2368 L1047,2369 L1047.4,2370 L1047.8,2371 L1048.2,2372 L1048.5,2373 L1048.8,2374 L1049,2375.1 L1049.2,2376.1 L1049.3,2377.1 L1049.3,2378.1 L1049.4,2379.1 L1049.5,2380.1 L1049.5,2381.1 L1049.6,2382.1 L1049.6,2383.1 L1049.7,2384.1 L1049.7,2385.1 L1049.7,2386.1 L1049.8,2387.1 L1049.8,2388.1 L1049.8,2389.1 L1049.8,2390.1 L1049.7,2391.1 L1049.6,2392.1 L1049.4,2393.1 L1049.1,2394.1 L1048.7,2395.1 L1048.4,2396.1 L1048,2397.1 L1047.6,2398.1 L1047.1,2399.1 L1046.7,2400.1 L1046.3,2401.1 L1045.9,2402.1 L1045.6,2403.1 L1045.3,2404.1 L1045,2405.1 L1044.8,2406.1 L1044.6,2407.1 L1044.4,2408.1 L1044.1,2409.1 L1043.9,2410.1 L1043.6,2411.1 L1043.2,2412.1 L1042.7,2413.1 L1042.1,2414.1 L1041.4,2415.1 L1040.6,2416.1 L1039.7,2417.1 L1038.7,2418.1 L1037.7,2419.1 L1036.7,2420.1 L1035.6,2421.1 L1034.4,2422.1 L1033.3,2423.1 L1032.1,2424.1 L1031,2425.1 L1029.7,2426.1 L1028.3,2427.1 L1026.8,2428.1 L1025.2,2429.1 L1023.5,2430.1 L1021.9,2431.1 L1020.2,2432.1 L1018.5,2433.1 L1016.7,2434.1 L1015.1,2435.1 L1013.4,2436.1 L1011.8,2437.1 L1011.8,2437.1 L1010.2,2436.1 L1008.5,2435.1 L1006.9,2434.1 L1005.1,2433.1 L1003.4,2432.1 L1001.7,2431.1 L1000.1,2430.1 L998.4,2429.1 L996.8,2428.1 L995.3,2427.1 L993.9,2426.1 L992.6,2425.1 L991.5,2424.1 L990.3,2423.1 L989.2,2422.1 L988,2421.1 L986.9,2420.1 L985.9,2419.1 L984.9,2418.1 L983.9,2417.1 L983,2416.1 L982.2,2415.1 L981.5,2414.1 L980.9,2413.1 L980.4,2412.1 L980,2411.1 L979.7,2410.1 L979.5,2409.1 L979.2,2408.1 L979,2407.1 L978.8,2406.1 L978.6,2405.1 L978.3,2404.1 L978,2403.1 L977.7,2402.1 L977.3,2401.1 L976.9,2400.1 L976.5,2399.1 L976,2398.1 L975.6,2397.1 L975.2,2396.1 L974.9,2395.1 L974.5,2394.1 L974.2,2393.1 L974,2392.1 L973.9,2391.1 L973.8,2390.1 L973.8,2389.1 L973.8,2388.1 L973.8,2387.1 L973.9,2386.1 L973.9,2385.1 L973.9,2384.1 L974,2383.1 L974,2382.1 L974.1,2381.1 L974.1,2380.1 L974.2,2379.1 L974.3,2378.1 L974.3,2377.1 L974.4,2376.1 L974.6,2375.1 L974.8,2374 L975.1,2373 L975.4,2372 L975.8,2371 L976.2,2370 L976.6,2369 L977.1,2368 L977.6,2367 L978,2366 L978.5,2365 L979,2364 L979.4,2363 L979.9,2362 L980.4,2361 L981,2360 L981.6,2359 L982.2,2358 L982.9,2357 L983.5,2356 L984.1,2355 L984.7,2354 L985.3,2353 L985.9,2352 L986.4,2351 L986.9,2350 L987.3,2349 L987.7,2348 L988.2,2347 L988.6,2346 L989,2345 L989.4,2344 L989.8,2343 L990.2,2342 L990.5,2341 L990.8,2340 L991,2339 L991.1,2338 L991.2,2337 L991.2,2336 L991.2,2335 L991.2,2334 L991.2,2333 L991.2,2332 L991.2,2331 L991.2,2330 L991.2,2329 L991.2,2328 L991.2,2327 L991.2,2326 L991.1,2325 L991.1,2324 L991,2323 L990.8,2322 L990.6,2321 L990.4,2320 L990.2,2319 L989.9,2318 L989.6,2317 L989.3,2316 L989,2315 L988.6,2314 L988.3,2313 L988,2312 L987.7,2311 L987.3,2310 L987,2309 L986.6,2308 L986.2,2307 L985.7,2306 L985.2,2305 L984.8,2304 L984.3,2303 L983.8,2302 L983.3,2301 L982.9,2300 L982.4,2299 L981.9,2298 L981.5,2297 L980.9,2296 L980.4,2295 L979.9,2294 L979.4,2293 L978.9,2292 L978.4,2291 L977.9,2290 L977.5,2289 L977,2288 L976.6,2287 L976.3,2286 L975.9,2285 L975.6,2284 L975.3,2283 L975,2282 L974.7,2281 L974.5,2280 L974.2,2279 L973.9,2278 L973.7,2277 L973.5,2276 L973.3,2275 L973.1,2274 L973,2273 L972.9,2272 L972.9,2271 L972.9,2270 L972.9,2269 L973,2268 L973,2267 L973.1,2266 L973.1,2265 L973.2,2264 L973.3,2263 L973.4,2262 L973.5,2261 L973.6,2260 L973.7,2259 L973.8,2258 L973.9,2257 L974,2256 L974.2,2255 L974.3,2254 L974.5,2253 L974.7,2252 L974.9,2250.9 L975.1,2249.9 L975.3,2248.9 L975.6,2247.9 L975.8,2246.9 L976,2245.9 L976.3,2244.9 L976.5,2243.9 L976.8,2242.9 L977.1,2241.9 L977.4,2240.9 L977.7,2239.9 L978,2238.9 L978.3,2237.9 L978.6,2236.9 L978.9,2235.9 L979.2,2234.9 L979.5,2233.9 L979.7,2232.9 L980,2231.9 L980.2,2230.9 L980.5,2229.9 L980.7,2228.9 L980.9,2227.9 L981.1,2226.9 L981.3,2225.9 L981.5,2224.9 L981.7,2223.9 L981.8,2222.9 L982,2221.9 L982.1,2220.9 L982.2,2219.9 L982.4,2218.9 L982.5,2217.9 L982.6,2216.9 L982.7,2215.9 L982.8,2214.9 L982.9,2213.9 L983,2212.9 L983.1,2211.9 L983.2,2210.9 L983.3,2209.9 L983.4,2208.9 L983.4,2207.9 L983.4,2206.9 L983.5,2205.9 L983.5,2204.9 L983.5,2203.9 L983.5,2202.9 L983.5,2201.9 L983.5,2200.9 L983.5,2199.9 L983.5,2198.9 L983.4,2197.9 L983.4,2196.9 L983.4,2195.9 L983.4,2194.9 L983.4,2193.9 L983.4,2192.9 L983.3,2191.9 L983.3,2190.9 L983.3,2189.9 L983.3,2188.9 L983.2,2187.9 L983.2,2186.9 L983.2,2185.9 L983.1,2184.9 L983.1,2183.9 L983.1,2182.9 L983.1,2181.9 L983,2180.9 L983,2179.9 L983,2178.9 L982.9,2177.9 L982.9,2176.9 L982.9,2175.9 L982.8,2174.9 L982.8,2173.9 L982.7,2172.9 L982.7,2171.9 L982.6,2170.9 L982.6,2169.9 L982.5,2168.9 L982.5,2167.9 L982.4,2166.9 L982.3,2165.9 L982.3,2164.9 L982.2,2163.9 L982.1,2162.9 L982.1,2161.9 L982,2160.9 L981.9,2159.9 L981.8,2158.9 L981.7,2157.9 L981.6,2156.9 L981.5,2155.9 L981.4,2154.9 L981.3,2153.9 L981.2,2152.9 L981.1,2151.9 L981,2150.9 L980.8,2149.9 L980.7,2148.9 L980.5,2147.9 L980.2,2146.9 L980,2145.9 L979.8,2144.9 L979.5,2143.9 L979.3,2142.9 L979,2141.9 L978.7,2140.9 L978.5,2139.9 L978.3,2138.9 L978,2137.9 L977.8,2136.9 L977.5,2135.9 L977.3,2134.9 L977,2133.9 L976.8,2132.9 L976.5,2131.9 L976.3,2130.9 L976,2129.9 L975.7,2128.9 L975.4,2127.8 L975.2,2126.8 L974.9,2125.8 L974.6,2124.8 L974.3,2123.8 L973.9,2122.8 L973.6,2121.8 L973.2,2120.8 L972.8,2119.8 L972.4,2118.8 L972.1,2117.8 L971.7,2116.8 L971.3,2115.8 L971,2114.8 L970.7,2113.8 L970.4,2112.8 L970.1,2111.8 L969.8,2110.8 L969.6,2109.8 L969.3,2108.8 L969,2107.8 L968.7,2106.8 L968.5,2105.8 L968.2,2104.8 L968,2103.8 L967.8,2102.8 L967.6,2101.8 L967.5,2100.8 L967.4,2099.8 L967.4,2098.8 L967.4,2097.8 L967.5,2096.8 L967.5,2095.8 L967.6,2094.8 L967.7,2093.8 L967.9,2092.8 L968,2091.8 L968.2,2090.8 L968.4,2089.8 L968.6,2088.8 L968.8,2087.8 L969,2086.8 L969.2,2085.8 L969.4,2084.8 L969.6,2083.8 L969.9,2082.8 L970.2,2081.8 L970.5,2080.8 L970.9,2079.8 L971.3,2078.8 L971.8,2077.8 L972.2,2076.8 L972.7,2075.8 L973.2,2074.8 L973.7,2073.8 L974.2,2072.8 L974.7,2071.8 L975.3,2070.8 L975.9,2069.8 L976.5,2068.8 L977.2,2067.8 L977.9,2066.8 L978.6,2065.8 L979.3,2064.8 L980,2063.8 L980.7,2062.8 L981.5,2061.8 L982.2,2060.8 L982.9,2059.8 L983.7,2058.8 L984.4,2057.8 L985.1,2056.8 L985.9,2055.8 L986.7,2054.8 L987.5,2053.8 L988.3,2052.8 L989.1,2051.8 L989.8,2050.8 L990.6,2049.8 L991.3,2048.8 L992,2047.8 L992.7,2046.8 L993.3,2045.8 L993.9,2044.8 L994.5,2043.8 L995.1,2042.8 L995.7,2041.8 L996.2,2040.8 L996.8,2039.8 L997.3,2038.8 L997.8,2037.8 L998.4,2036.8 L998.9,2035.8 L999.4,2034.8 L999.8,2033.8 L1000.3,2032.8 L1000.8,2031.8 L1001.3,2030.8 L1001.8,2029.8 L1002.2,2028.8 L1002.7,2027.8 L1003.2,2026.8 L1003.7,2025.8 L1004.2,2024.8 L1004.7,2023.8 L1005.2,2022.8 L1005.7,2021.8 L1006.2,2020.8 L1006.6,2019.8 L1007.1,2018.8 L1007.5,2017.8 L1007.9,2016.8 L1008.3,2015.8 L1008.7,2014.8 L1009,2013.8 L1009.3,2012.8 L1009.6,2011.8 L1009.8,2010.8 L1010,2009.8 L1010.2,2008.8 L1010.4,2007.8 L1010.6,2006.8 L1010.7,2005.7 L1010.9,2004.7 L1011,2003.7 L1011.2,2002.7 L1011.3,2001.7 L1011.5,2000.7 L1011.6,1999.7 L1011.8,1998.7Z" fill="#EE9D63"/>
<path d="M1133.3,2009.4 L1133.5,2010.4 L1133.7,2011.5 L1133.8,2012.5 L1134,2013.5 L1134.1,2014.5 L1134.3,2015.5 L1134.5,2016.5 L1134.7,2017.5 L1134.9,2018.5 L1135.1,2019.5 L1135.4,2020.5 L1135.7,2021.5 L1136,2022.5 L1136.4,2023.5 L1136.9,2024.5 L1137.3,2025.5 L1137.8,2026.5 L1138.3,2027.5 L1138.9,2028.5 L1139.5,2029.5 L1140.1,2030.5 L1140.7,2031.5 L1141.3,2032.5 L1141.9,2033.5 L1142.6,2034.5 L1143.3,2035.5 L1144.1,2036.5 L1144.9,2037.5 L1145.8,2038.5 L1146.7,2039.5 L1147.6,2040.5 L1148.6,2041.5 L1149.6,2042.6 L1150.6,2043.6 L1151.6,2044.6 L1152.5,2045.6 L1153.6,2046.6 L1154.6,2047.6 L1155.7,2048.6 L1156.9,2049.6 L1158.1,2050.6 L1159.3,2051.6 L1160.5,2052.6 L1161.7,2053.6 L1162.8,2054.6 L1164,2055.6 L1165.1,2056.6 L1166.1,2057.6 L1167,2058.6 L1167.9,2059.6 L1168.7,2060.6 L1169.6,2061.6 L1170.4,2062.6 L1171.2,2063.6 L1172,2064.6 L1172.8,2065.6 L1173.5,2066.6 L1174.2,2067.6 L1174.8,2068.6 L1175.4,2069.6 L1175.8,2070.6 L1176.3,2071.6 L1176.6,2072.6 L1176.9,2073.6 L1177.2,2074.7 L1177.4,2075.7 L1177.7,2076.7 L1177.9,2077.7 L1178.1,2078.7 L1178.2,2079.7 L1178.2,2080.7 L1178.2,2081.7 L1178.1,2082.7 L1177.9,2083.7 L1177.6,2084.7 L1177.2,2085.7 L1176.8,2086.7 L1176.4,2087.7 L1175.9,2088.7 L1175.4,2089.7 L1175,2090.7 L1174.5,2091.7 L1174,2092.7 L1173.5,2093.7 L1172.9,2094.7 L1172.3,2095.7 L1171.6,2096.7 L1170.9,2097.7 L1170.2,2098.7 L1169.6,2099.7 L1168.9,2100.7 L1168.2,2101.7 L1167.6,2102.7 L1167,2103.7 L1166.4,2104.7 L1165.7,2105.7 L1165.1,2106.8 L1164.4,2107.8 L1163.8,2108.8 L1163.2,2109.8 L1162.6,2110.8 L1162,2111.8 L1161.5,2112.8 L1161,2113.8 L1160.5,2114.8 L1160.1,2115.8 L1159.6,2116.8 L1159.2,2117.8 L1158.7,2118.8 L1158.3,2119.8 L1157.9,2120.8 L1157.6,2121.8 L1157.3,2122.8 L1157.1,2123.8 L1157,2124.8 L1156.9,2125.8 L1156.8,2126.8 L1156.8,2127.8 L1156.7,2128.8 L1156.7,2129.8 L1156.6,2130.8 L1156.6,2131.8 L1156.6,2132.8 L1156.6,2133.8 L1156.5,2134.8 L1156.5,2135.8 L1156.5,2136.8 L1156.5,2137.8 L1156.5,2138.9 L1156.6,2139.9 L1156.7,2140.9 L1156.8,2141.9 L1156.9,2142.9 L1157.1,2143.9 L1157.2,2144.9 L1157.4,2145.9 L1157.6,2146.9 L1157.8,2147.9 L1158,2148.9 L1158.3,2149.9 L1158.5,2150.9 L1158.7,2151.9 L1159,2152.9 L1159.4,2153.9 L1159.8,2154.9 L1160.2,2155.9 L1160.7,2156.9 L1161.2,2157.9 L1161.7,2158.9 L1162.1,2159.9 L1162.6,2160.9 L1163,2161.9 L1163.4,2162.9 L1163.8,2163.9 L1164.2,2164.9 L1164.7,2165.9 L1165.1,2166.9 L1165.6,2167.9 L1166,2168.9 L1166.4,2170 L1166.8,2171 L1167.2,2172 L1167.5,2173 L1167.8,2174 L1168,2175 L1168.2,2176 L1168.3,2177 L1168.4,2178 L1168.3,2179 L1168.2,2180 L1167.9,2181 L1167.6,2182 L1167.1,2183 L1166.6,2184 L1166.1,2185 L1165.5,2186 L1164.9,2187 L1164.2,2188 L1163.6,2189 L1162.9,2190 L1161.9,2191 L1160.8,2192 L1159.5,2193 L1158.1,2194 L1156.7,2195 L1155.2,2196 L1153.6,2197 L1152.1,2198 L1150.7,2199 L1149.3,2200 L1148,2201 L1146.8,2202.1 L1145.9,2203.1 L1145.1,2204.1 L1144.5,2205.1 L1144,2206.1 L1143.5,2207.1 L1143,2208.1 L1142.6,2209.1 L1142.2,2210.1 L1141.8,2211.1 L1141.5,2212.1 L1141.2,2213.1 L1141,2214.1 L1140.8,2215.1 L1140.7,2216.1 L1140.6,2217.1 L1140.6,2218.1 L1140.5,2219.1 L1140.5,2220.1 L1140.5,2221.1 L1140.5,2222.1 L1140.6,2223.1 L1140.9,2224.1 L1141.2,2225.1 L1141.5,2226.1 L1141.9,2227.1 L1142.3,2228.1 L1142.7,2229.1 L1143.1,2230.1 L1143.5,2231.1 L1143.8,2232.1 L1144.2,2233.1 L1144.5,2234.2 L1144.9,2235.2 L1145.3,2236.2 L1145.7,2237.2 L1146.1,2238.2 L1146.4,2239.2 L1146.7,2240.2 L1147,2241.2 L1147.3,2242.2 L1147.5,2243.2 L1147.7,2244.2 L1147.9,2245.2 L1148.2,2246.2 L1148.4,2247.2 L1148.5,2248.2 L1148.7,2249.2 L1148.8,2250.2 L1149,2251.2 L1149,2252.2 L1149.1,2253.2 L1149.1,2254.2 L1149,2255.2 L1149,2256.2 L1148.9,2257.2 L1148.7,2258.2 L1148.6,2259.2 L1148.4,2260.2 L1148.2,2261.2 L1148,2262.2 L1147.8,2263.2 L1147.5,2264.2 L1147.3,2265.2 L1147,2266.3 L1146.6,2267.3 L1146.2,2268.3 L1145.7,2269.3 L1145.2,2270.3 L1144.7,2271.3 L1144.2,2272.3 L1143.7,2273.3 L1143.2,2274.3 L1142.7,2275.3 L1142.2,2276.3 L1141.8,2277.3 L1141.4,2278.3 L1140.9,2279.3 L1140.5,2280.3 L1140,2281.3 L1139.6,2282.3 L1139.2,2283.3 L1138.7,2284.3 L1138.3,2285.3 L1137.9,2286.3 L1137.6,2287.3 L1137.2,2288.3 L1136.9,2289.3 L1136.6,2290.3 L1136.4,2291.3 L1136.1,2292.3 L1135.9,2293.3 L1135.6,2294.3 L1135.4,2295.3 L1135.2,2296.3 L1135,2297.4 L1134.8,2298.4 L1134.6,2299.4 L1134.5,2300.4 L1134.3,2301.4 L1134.1,2302.4 L1134,2303.4 L1133.9,2304.4 L1133.8,2305.4 L1133.7,2306.4 L1133.6,2307.4 L1133.5,2308.4 L1133.4,2309.4 L1133.3,2310.4 L1133.3,2310.4 L1133.2,2309.4 L1133.1,2308.4 L1133,2307.4 L1132.9,2306.4 L1132.8,2305.4 L1132.7,2304.4 L1132.6,2303.4 L1132.5,2302.4 L1132.3,2301.4 L1132.1,2300.4 L1132,2299.4 L1131.8,2298.4 L1131.6,2297.4 L1131.4,2296.3 L1131.2,2295.3 L1131,2294.3 L1130.7,2293.3 L1130.5,2292.3 L1130.2,2291.3 L1130,2290.3 L1129.7,2289.3 L1129.4,2288.3 L1129,2287.3 L1128.7,2286.3 L1128.3,2285.3 L1127.9,2284.3 L1127.4,2283.3 L1127,2282.3 L1126.6,2281.3 L1126.1,2280.3 L1125.7,2279.3 L1125.2,2278.3 L1124.8,2277.3 L1124.4,2276.3 L1123.9,2275.3 L1123.4,2274.3 L1122.9,2273.3 L1122.4,2272.3 L1121.9,2271.3 L1121.4,2270.3 L1120.9,2269.3 L1120.4,2268.3 L1120,2267.3 L1119.6,2266.3 L1119.3,2265.2 L1119.1,2264.2 L1118.8,2263.2 L1118.6,2262.2 L1118.4,2261.2 L1118.2,2260.2 L1118,2259.2 L1117.9,2258.2 L1117.7,2257.2 L1117.6,2256.2 L1117.6,2255.2 L1117.5,2254.2 L1117.5,2253.2 L1117.6,2252.2 L1117.6,2251.2 L1117.8,2250.2 L1117.9,2249.2 L1118.1,2248.2 L1118.2,2247.2 L1118.4,2246.2 L1118.7,2245.2 L1118.9,2244.2 L1119.1,2243.2 L1119.3,2242.2 L1119.6,2241.2 L1119.9,2240.2 L1120.2,2239.2 L1120.5,2238.2 L1120.9,2237.2 L1121.3,2236.2 L1121.7,2235.2 L1122.1,2234.2 L1122.4,2233.1 L1122.8,2232.1 L1123.1,2231.1 L1123.5,2230.1 L1123.9,2229.1 L1124.3,2228.1 L1124.7,2227.1 L1125.1,2226.1 L1125.4,2225.1 L1125.7,2224.1 L1126,2223.1 L1126.1,2222.1 L1126.1,2221.1 L1126.1,2220.1 L1126.1,2219.1 L1126,2218.1 L1126,2217.1 L1125.9,2216.1 L1125.8,2215.1 L1125.6,2214.1 L1125.4,2213.1 L1125.1,2212.1 L1124.8,2211.1 L1124.4,2210.1 L1124,2209.1 L1123.6,2208.1 L1123.1,2207.1 L1122.6,2206.1 L1122.1,2205.1 L1121.5,2204.1 L1120.7,2203.1 L1119.8,2202.1 L1118.6,2201 L1117.3,2200 L1115.9,2199 L1114.5,2198 L1113,2197 L1111.4,2196 L1109.9,2195 L1108.5,2194 L1107.1,2193 L1105.8,2192 L1104.7,2191 L1103.7,2190 L1103,2189 L1102.4,2188 L1101.7,2187 L1101.1,2186 L1100.5,2185 L1100,2184 L1099.5,2183 L1099,2182 L1098.7,2181 L1098.4,2180 L1098.3,2179 L1098.2,2178 L1098.3,2177 L1098.4,2176 L1098.6,2175 L1098.8,2174 L1099.1,2173 L1099.4,2172 L1099.8,2171 L1100.2,2170 L1100.6,2168.9 L1101,2167.9 L1101.5,2166.9 L1101.9,2165.9 L1102.4,2164.9 L1102.8,2163.9 L1103.2,2162.9 L1103.6,2161.9 L1104,2160.9 L1104.5,2159.9 L1104.9,2158.9 L1105.4,2157.9 L1105.9,2156.9 L1106.4,2155.9 L1106.8,2154.9 L1107.2,2153.9 L1107.6,2152.9 L1107.9,2151.9 L1108.1,2150.9 L1108.3,2149.9 L1108.6,2148.9 L1108.8,2147.9 L1109,2146.9 L1109.2,2145.9 L1109.4,2144.9 L1109.5,2143.9 L1109.7,2142.9 L1109.8,2141.9 L1109.9,2140.9 L1110,2139.9 L1110.1,2138.9 L1110.1,2137.8 L1110.1,2136.8 L1110.1,2135.8 L1110.1,2134.8 L1110,2133.8 L1110,2132.8 L1110,2131.8 L1110,2130.8 L1109.9,2129.8 L1109.9,2128.8 L1109.8,2127.8 L1109.8,2126.8 L1109.7,2125.8 L1109.6,2124.8 L1109.5,2123.8 L1109.3,2122.8 L1109,2121.8 L1108.7,2120.8 L1108.3,2119.8 L1107.9,2118.8 L1107.4,2117.8 L1107,2116.8 L1106.5,2115.8 L1106.1,2114.8 L1105.6,2113.8 L1105.1,2112.8 L1104.6,2111.8 L1104,2110.8 L1103.4,2109.8 L1102.8,2108.8 L1102.2,2107.8 L1101.5,2106.8 L1100.9,2105.7 L1100.2,2104.7 L1099.6,2103.7 L1099,2102.7 L1098.4,2101.7 L1097.7,2100.7 L1097,2099.7 L1096.4,2098.7 L1095.7,2097.7 L1095,2096.7 L1094.3,2095.7 L1093.7,2094.7 L1093.1,2093.7 L1092.6,2092.7 L1092.1,2091.7 L1091.6,2090.7 L1091.2,2089.7 L1090.7,2088.7 L1090.2,2087.7 L1089.8,2086.7 L1089.4,2085.7 L1089,2084.7 L1088.7,2083.7 L1088.5,2082.7 L1088.4,2081.7 L1088.4,2080.7 L1088.4,2079.7 L1088.5,2078.7 L1088.7,2077.7 L1088.9,2076.7 L1089.2,2075.7 L1089.4,2074.7 L1089.7,2073.6 L1090,2072.6 L1090.3,2071.6 L1090.8,2070.6 L1091.2,2069.6 L1091.8,2068.6 L1092.4,2067.6 L1093.1,2066.6 L1093.8,2065.6 L1094.6,2064.6 L1095.4,2063.6 L1096.2,2062.6 L1097,2061.6 L1097.9,2060.6 L1098.7,2059.6 L1099.6,2058.6 L1100.5,2057.6 L1101.5,2056.6 L1102.6,2055.6 L1103.8,2054.6 L1104.9,2053.6 L1106.1,2052.6 L1107.3,2051.6 L1108.5,2050.6 L1109.7,2049.6 L1110.9,2048.6 L1112,2047.6 L1113,2046.6 L1114.1,2045.6 L1115,2044.6 L1116,2043.6 L1117,2042.6 L1118,2041.5 L1119,2040.5 L1119.9,2039.5 L1120.8,2038.5 L1121.7,2037.5 L1122.5,2036.5 L1123.3,2035.5 L1124,2034.5 L1124.7,2033.5 L1125.3,2032.5 L1125.9,2031.5 L1126.5,2030.5 L1127.1,2029.5 L1127.7,2028.5 L1128.3,2027.5 L1128.8,2026.5 L1129.3,2025.5 L1129.7,2024.5 L1130.2,2023.5 L1130.6,2022.5 L1130.9,2021.5 L1131.2,2020.5 L1131.5,2019.5 L1131.7,2018.5 L1131.9,2017.5 L1132.1,2016.5 L1132.3,2015.5 L1132.5,2014.5 L1132.6,2013.5 L1132.8,2012.5 L1132.9,2011.5 L1133.1,2010.4 L1133.3,2009.4Z" fill="#60AEFC"/>
<path d="M1253.6,2013 L1253.9,2014 L1254.2,2015 L1254.5,2016 L1254.8,2017 L1255.2,2018 L1255.6,2019 L1256,2020 L1256.6,2021 L1257.3,2022 L1258,2023 L1258.8,2024 L1259.7,2025 L1260.5,2026 L1261.4,2027 L1262.3,2028 L1263.2,2029 L1264.2,2030 L1265.2,2031 L1266.2,2032 L1267.2,2033 L1268.2,2034 L1269.2,2035 L1270.2,2036 L1271.2,2037 L1272.1,2038.1 L1273.1,2039.1 L1274.1,2040.1 L1275,2041.1 L1276,2042.1 L1276.9,2043.1 L1277.8,2044.1 L1278.8,2045.1 L1279.7,2046.1 L1280.6,2047.1 L1281.6,2048.1 L1282.5,2049.1 L1283.5,2050.1 L1284.4,2051.1 L1285.4,2052.1 L1286.2,2053.1 L1287.1,2054.1 L1287.9,2055.1 L1288.7,2056.1 L1289.4,2057.1 L1290.2,2058.1 L1290.9,2059.1 L1291.6,2060.1 L1292.3,2061.1 L1292.9,2062.2 L1293.4,2063.2 L1293.9,2064.2 L1294.2,2065.2 L1294.5,2066.2 L1294.8,2067.2 L1295,2068.2 L1295.2,2069.2 L1295.3,2070.2 L1295.4,2071.2 L1295.3,2072.2 L1295,2073.2 L1294.5,2074.2 L1294,2075.2 L1293.5,2076.2 L1292.9,2077.2 L1292.4,2078.2 L1291.9,2079.2 L1291.3,2080.2 L1290.8,2081.2 L1290.2,2082.2 L1289.6,2083.2 L1289,2084.2 L1288.4,2085.2 L1287.9,2086.3 L1287.3,2087.3 L1286.8,2088.3 L1286.2,2089.3 L1285.7,2090.3 L1285.2,2091.3 L1284.7,2092.3 L1284.2,2093.3 L1283.8,2094.3 L1283.4,2095.3 L1283,2096.3 L1282.6,2097.3 L1282.2,2098.3 L1281.9,2099.3 L1281.6,2100.3 L1281.2,2101.3 L1280.9,2102.3 L1280.7,2103.3 L1280.4,2104.3 L1280.1,2105.3 L1279.9,2106.3 L1279.6,2107.3 L1279.4,2108.3 L1279.2,2109.3 L1279,2110.4 L1278.8,2111.4 L1278.6,2112.4 L1278.4,2113.4 L1278.3,2114.4 L1278.1,2115.4 L1277.9,2116.4 L1277.8,2117.4 L1277.6,2118.4 L1277.5,2119.4 L1277.3,2120.4 L1277.2,2121.4 L1277.1,2122.4 L1277.1,2123.4 L1277,2124.4 L1277,2125.4 L1277.1,2126.4 L1277.3,2127.4 L1277.5,2128.4 L1277.8,2129.4 L1278.2,2130.4 L1278.6,2131.4 L1279,2132.4 L1279.4,2133.4 L1279.9,2134.5 L1280.3,2135.5 L1280.8,2136.5 L1281.3,2137.5 L1282,2138.5 L1282.6,2139.5 L1283.1,2140.5 L1283.7,2141.5 L1284.1,2142.5 L1284.3,2143.5 L1284.5,2144.5 L1284.7,2145.5 L1284.9,2146.5 L1285,2147.5 L1285.1,2148.5 L1285.2,2149.5 L1285.3,2150.5 L1285.3,2151.5 L1285.3,2152.5 L1285.3,2153.5 L1285.2,2154.5 L1285.1,2155.5 L1285,2156.5 L1284.9,2157.5 L1284.8,2158.6 L1284.7,2159.6 L1284.6,2160.6 L1284.6,2161.6 L1284.6,2162.6 L1284.9,2163.6 L1285.3,2164.6 L1285.8,2165.6 L1286.5,2166.6 L1287.2,2167.6 L1287.9,2168.6 L1288.6,2169.6 L1289.3,2170.6 L1290,2171.6 L1290.8,2172.6 L1291.7,2173.6 L1292.5,2174.6 L1293.4,2175.6 L1294.2,2176.6 L1294.8,2177.6 L1295.4,2178.6 L1295.9,2179.6 L1296.5,2180.6 L1297,2181.6 L1297.4,2182.6 L1297.8,2183.7 L1298,2184.7 L1298.1,2185.7 L1297.9,2186.7 L1297.5,2187.7 L1297,2188.7 L1296.2,2189.7 L1295.4,2190.7 L1294.4,2191.7 L1293.4,2192.7 L1292.4,2193.7 L1291.5,2194.7 L1290.3,2195.7 L1289,2196.7 L1287.5,2197.7 L1286,2198.7 L1284.4,2199.7 L1282.8,2200.7 L1281.2,2201.7 L1279.8,2202.7 L1278.4,2203.7 L1277.2,2204.7 L1276.1,2205.7 L1275.1,2206.7 L1274.1,2207.8 L1273.1,2208.8 L1272.1,2209.8 L1271.2,2210.8 L1270.4,2211.8 L1269.5,2212.8 L1268.7,2213.8 L1267.9,2214.8 L1267.1,2215.8 L1266.4,2216.8 L1265.7,2217.8 L1264.9,2218.8 L1264.3,2219.8 L1263.6,2220.8 L1262.9,2221.8 L1262.3,2222.8 L1261.7,2223.8 L1261.1,2224.8 L1260.5,2225.8 L1260,2226.8 L1259.4,2227.8 L1258.8,2228.8 L1258.3,2229.8 L1257.7,2230.8 L1257.2,2231.9 L1256.7,2232.9 L1256.2,2233.9 L1255.8,2234.9 L1255.4,2235.9 L1255.1,2236.9 L1254.8,2237.9 L1254.5,2238.9 L1254.3,2239.9 L1254.1,2240.9 L1254,2241.9 L1253.8,2242.9 L1253.6,2243.9 L1253.6,2243.9 L1253.4,2242.9 L1253.2,2241.9 L1253.1,2240.9 L1252.9,2239.9 L1252.7,2238.9 L1252.4,2237.9 L1252.1,2236.9 L1251.8,2235.9 L1251.4,2234.9 L1251,2233.9 L1250.5,2232.9 L1250,2231.9 L1249.5,2230.8 L1248.9,2229.8 L1248.4,2228.8 L1247.8,2227.8 L1247.2,2226.8 L1246.7,2225.8 L1246.1,2224.8 L1245.5,2223.8 L1244.9,2222.8 L1244.3,2221.8 L1243.6,2220.8 L1242.9,2219.8 L1242.3,2218.8 L1241.5,2217.8 L1240.8,2216.8 L1240.1,2215.8 L1239.3,2214.8 L1238.5,2213.8 L1237.7,2212.8 L1236.8,2211.8 L1236,2210.8 L1235.1,2209.8 L1234.1,2208.8 L1233.1,2207.8 L1232.1,2206.7 L1231.1,2205.7 L1230,2204.7 L1228.8,2203.7 L1227.4,2202.7 L1226,2201.7 L1224.4,2200.7 L1222.8,2199.7 L1221.2,2198.7 L1219.7,2197.7 L1218.2,2196.7 L1216.9,2195.7 L1215.7,2194.7 L1214.8,2193.7 L1213.8,2192.7 L1212.8,2191.7 L1211.8,2190.7 L1211,2189.7 L1210.2,2188.7 L1209.7,2187.7 L1209.3,2186.7 L1209.1,2185.7 L1209.2,2184.7 L1209.4,2183.7 L1209.8,2182.6 L1210.2,2181.6 L1210.7,2180.6 L1211.3,2179.6 L1211.8,2178.6 L1212.4,2177.6 L1213,2176.6 L1213.8,2175.6 L1214.7,2174.6 L1215.5,2173.6 L1216.4,2172.6 L1217.2,2171.6 L1217.9,2170.6 L1218.6,2169.6 L1219.3,2168.6 L1220,2167.6 L1220.7,2166.6 L1221.4,2165.6 L1221.9,2164.6 L1222.3,2163.6 L1222.6,2162.6 L1222.6,2161.6 L1222.6,2160.6 L1222.5,2159.6 L1222.4,2158.6 L1222.3,2157.5 L1222.2,2156.5 L1222.1,2155.5 L1222,2154.5 L1221.9,2153.5 L1221.9,2152.5 L1221.9,2151.5 L1221.9,2150.5 L1222,2149.5 L1222.1,2148.5 L1222.2,2147.5 L1222.3,2146.5 L1222.5,2145.5 L1222.7,2144.5 L1222.9,2143.5 L1223.1,2142.5 L1223.5,2141.5 L1224.1,2140.5 L1224.6,2139.5 L1225.2,2138.5 L1225.9,2137.5 L1226.4,2136.5 L1226.9,2135.5 L1227.3,2134.5 L1227.8,2133.4 L1228.2,2132.4 L1228.6,2131.4 L1229,2130.4 L1229.4,2129.4 L1229.7,2128.4 L1229.9,2127.4 L1230.1,2126.4 L1230.2,2125.4 L1230.2,2124.4 L1230.1,2123.4 L1230.1,2122.4 L1230,2121.4 L1229.9,2120.4 L1229.7,2119.4 L1229.6,2118.4 L1229.4,2117.4 L1229.3,2116.4 L1229.1,2115.4 L1228.9,2114.4 L1228.8,2113.4 L1228.6,2112.4 L1228.4,2111.4 L1228.2,2110.4 L1228,2109.3 L1227.8,2108.3 L1227.6,2107.3 L1227.3,2106.3 L1227.1,2105.3 L1226.8,2104.3 L1226.5,2103.3 L1226.3,2102.3 L1226,2101.3 L1225.6,2100.3 L1225.3,2099.3 L1225,2098.3 L1224.6,2097.3 L1224.2,2096.3 L1223.8,2095.3 L1223.4,2094.3 L1223,2093.3 L1222.5,2092.3 L1222,2091.3 L1221.5,2090.3 L1221,2089.3 L1220.4,2088.3 L1219.9,2087.3 L1219.3,2086.3 L1218.8,2085.2 L1218.2,2084.2 L1217.6,2083.2 L1217,2082.2 L1216.4,2081.2 L1215.9,2080.2 L1215.3,2079.2 L1214.8,2078.2 L1214.3,2077.2 L1213.7,2076.2 L1213.2,2075.2 L1212.7,2074.2 L1212.2,2073.2 L1211.9,2072.2 L1211.8,2071.2 L1211.9,2070.2 L1212,2069.2 L1212.2,2068.2 L1212.4,2067.2 L1212.7,2066.2 L1213,2065.2 L1213.3,2064.2 L1213.8,2063.2 L1214.3,2062.2 L1214.9,2061.1 L1215.6,2060.1 L1216.3,2059.1 L1217,2058.1 L1217.8,2057.1 L1218.5,2056.1 L1219.3,2055.1 L1220.1,2054.1 L1221,2053.1 L1221.8,2052.1 L1222.8,2051.1 L1223.7,2050.1 L1224.7,2049.1 L1225.6,2048.1 L1226.6,2047.1 L1227.5,2046.1 L1228.4,2045.1 L1229.4,2044.1 L1230.3,2043.1 L1231.2,2042.1 L1232.2,2041.1 L1233.1,2040.1 L1234.1,2039.1 L1235.1,2038.1 L1236,2037 L1237,2036 L1238,2035 L1239,2034 L1240,2033 L1241,2032 L1242,2031 L1243,2030 L1244,2029 L1244.9,2028 L1245.8,2027 L1246.7,2026 L1247.5,2025 L1248.4,2024 L1249.2,2023 L1249.9,2022 L1250.6,2021 L1251.2,2020 L1251.6,2019 L1252,2018 L1252.4,2017 L1252.7,2016 L1253,2015 L1253.3,2014 L1253.6,2013Z" fill="#B46FFC"/>
<path d="M1374.3,1998.3 L1374.8,1999.3 L1375.2,2000.3 L1375.6,2001.3 L1376.1,2002.3 L1376.5,2003.3 L1376.9,2004.3 L1377.4,2005.3 L1377.9,2006.3 L1378.4,2007.3 L1379,2008.3 L1379.8,2009.3 L1380.7,2010.3 L1381.6,2011.3 L1382.5,2012.3 L1383.3,2013.3 L1384,2014.3 L1384.5,2015.3 L1384.6,2016.3 L1384.7,2017.3 L1384.8,2018.3 L1384.8,2019.3 L1384.9,2020.3 L1384.9,2021.3 L1384.9,2022.4 L1384.9,2023.4 L1384.8,2024.4 L1384.5,2025.4 L1384.1,2026.4 L1383.6,2027.4 L1383.1,2028.4 L1382.6,2029.4 L1382.2,2030.4 L1382,2031.4 L1381.9,2032.4 L1381.7,2033.4 L1381.6,2034.4 L1381.5,2035.4 L1381.4,2036.4 L1381.4,2037.4 L1381.3,2038.4 L1381.3,2039.4 L1381.3,2040.4 L1381.3,2041.4 L1381.4,2042.4 L1381.5,2043.4 L1381.7,2044.4 L1381.8,2045.4 L1382,2046.4 L1382.2,2047.4 L1382.4,2048.4 L1382.7,2049.4 L1383.1,2050.4 L1383.7,2051.4 L1384.4,2052.4 L1385.3,2053.4 L1386.3,2054.4 L1387.3,2055.4 L1388.3,2056.5 L1389.2,2057.5 L1390.1,2058.5 L1391,2059.5 L1392,2060.5 L1393,2061.5 L1394.1,2062.5 L1395,2063.5 L1395.9,2064.5 L1396.5,2065.5 L1396.9,2066.5 L1397.1,2067.5 L1397.2,2068.5 L1397.3,2069.5 L1397.4,2070.5 L1397.5,2071.5 L1397.5,2072.5 L1397.6,2073.5 L1397.6,2074.5 L1397.6,2075.5 L1397.5,2076.5 L1397.3,2077.5 L1397,2078.5 L1396.7,2079.5 L1396.4,2080.5 L1396.1,2081.5 L1395.9,2082.5 L1395.7,2083.5 L1395.6,2084.5 L1395.7,2085.5 L1396.2,2086.5 L1396.9,2087.5 L1397.7,2088.5 L1398.7,2089.5 L1399.7,2090.5 L1400.7,2091.6 L1401.8,2092.6 L1403.1,2093.6 L1404.5,2094.6 L1406,2095.6 L1407.5,2096.6 L1408.9,2097.6 L1410.1,2098.6 L1411.1,2099.6 L1412.1,2100.6 L1413.1,2101.6 L1414,2102.6 L1414.9,2103.6 L1415.7,2104.6 L1416.4,2105.6 L1417,2106.6 L1417.3,2107.6 L1417.5,2108.6 L1417.6,2109.6 L1417.7,2110.6 L1417.8,2111.6 L1417.9,2112.6 L1418,2113.6 L1418,2114.6 L1418.1,2115.6 L1418.1,2116.6 L1418.2,2117.6 L1418.2,2118.6 L1418.3,2119.6 L1418.3,2120.6 L1418.4,2121.6 L1418.5,2122.6 L1418.5,2123.6 L1418.6,2124.6 L1418.6,2125.7 L1418.6,2126.7 L1418.7,2127.7 L1418.7,2128.7 L1418.3,2129.7 L1417.7,2130.7 L1416.7,2131.7 L1415.6,2132.7 L1414.3,2133.7 L1413.1,2134.7 L1412,2135.7 L1410.9,2136.7 L1409.6,2137.7 L1408.4,2138.7 L1407,2139.7 L1405.7,2140.7 L1404.3,2141.7 L1403,2142.7 L1401.6,2143.7 L1400.4,2144.7 L1399.1,2145.7 L1397.9,2146.7 L1396.6,2147.7 L1395.3,2148.7 L1394,2149.7 L1392.7,2150.7 L1391.4,2151.7 L1389.9,2152.7 L1388.1,2153.7 L1386.2,2154.7 L1384.4,2155.7 L1382.9,2156.7 L1382.1,2157.7 L1381.8,2158.7 L1381.6,2159.7 L1381.4,2160.8 L1381.2,2161.8 L1381.1,2162.8 L1381,2163.8 L1380.9,2164.8 L1380.8,2165.8 L1380.8,2166.8 L1380.8,2167.8 L1380.8,2168.8 L1380.9,2169.8 L1380.9,2170.8 L1381,2171.8 L1381.1,2172.8 L1381.2,2173.8 L1381.3,2174.8 L1381.3,2175.8 L1381.4,2176.8 L1381.4,2177.8 L1381.4,2178.8 L1381.3,2179.8 L1381.1,2180.8 L1380.9,2181.8 L1380.6,2182.8 L1380.3,2183.8 L1380,2184.8 L1379.7,2185.8 L1379.3,2186.8 L1379,2187.8 L1378.7,2188.8 L1378.3,2189.8 L1378,2190.8 L1377.6,2191.8 L1377.2,2192.8 L1376.8,2193.8 L1376.4,2194.9 L1376,2195.9 L1375.6,2196.9 L1375.3,2197.9 L1375.1,2198.9 L1374.8,2199.9 L1374.6,2200.9 L1374.4,2201.9 L1374.3,2202.9 L1374.3,2203.9 L1374.3,2204.9 L1374.3,2205.9 L1374.3,2206.9 L1374.3,2207.9 L1374.3,2208.9 L1374.3,2209.9 L1374.3,2210.9 L1374.3,2211.9 L1374.3,2212.9 L1374.3,2213.9 L1374.3,2214.9 L1374.3,2215.9 L1374.3,2216.9 L1374.3,2217.9 L1374.3,2218.9 L1374.3,2219.9 L1374.3,2220.9 L1374.3,2221.9 L1374.3,2222.9 L1374.4,2223.9 L1374.5,2224.9 L1374.7,2225.9 L1374.9,2226.9 L1375.1,2227.9 L1375.4,2229 L1375.6,2230 L1375.9,2231 L1376.2,2232 L1376.4,2233 L1376.8,2234 L1377.3,2235 L1377.8,2236 L1378.3,2237 L1378.7,2238 L1379,2239 L1379,2240 L1378.9,2241 L1378.6,2242 L1378.2,2243 L1377.8,2244 L1377.3,2245 L1376.8,2246 L1376.4,2247 L1376.1,2248 L1375.8,2249 L1375.5,2250 L1375.3,2251 L1375,2252 L1374.8,2253 L1374.5,2254 L1374.3,2255 L1374.3,2255 L1374.1,2254 L1373.8,2253 L1373.6,2252 L1373.3,2251 L1373.1,2250 L1372.8,2249 L1372.5,2248 L1372.2,2247 L1371.8,2246 L1371.3,2245 L1370.8,2244 L1370.4,2243 L1370,2242 L1369.7,2241 L1369.6,2240 L1369.6,2239 L1369.9,2238 L1370.3,2237 L1370.8,2236 L1371.3,2235 L1371.8,2234 L1372.2,2233 L1372.4,2232 L1372.7,2231 L1373,2230 L1373.2,2229 L1373.5,2227.9 L1373.7,2226.9 L1373.9,2225.9 L1374.1,2224.9 L1374.2,2223.9 L1374.3,2222.9 L1374.3,2221.9 L1374.3,2220.9 L1374.3,2219.9 L1374.3,2218.9 L1374.3,2217.9 L1374.3,2216.9 L1374.3,2215.9 L1374.3,2214.9 L1374.3,2213.9 L1374.3,2212.9 L1374.3,2211.9 L1374.3,2210.9 L1374.3,2209.9 L1374.3,2208.9 L1374.3,2207.9 L1374.3,2206.9 L1374.3,2205.9 L1374.3,2204.9 L1374.3,2203.9 L1374.3,2202.9 L1374.2,2201.9 L1374,2200.9 L1373.8,2199.9 L1373.5,2198.9 L1373.3,2197.9 L1373,2196.9 L1372.6,2195.9 L1372.2,2194.9 L1371.8,2193.8 L1371.4,2192.8 L1371,2191.8 L1370.6,2190.8 L1370.3,2189.8 L1369.9,2188.8 L1369.6,2187.8 L1369.3,2186.8 L1368.9,2185.8 L1368.6,2184.8 L1368.3,2183.8 L1368,2182.8 L1367.7,2181.8 L1367.5,2180.8 L1367.3,2179.8 L1367.2,2178.8 L1367.2,2177.8 L1367.2,2176.8 L1367.3,2175.8 L1367.3,2174.8 L1367.4,2173.8 L1367.5,2172.8 L1367.6,2171.8 L1367.7,2170.8 L1367.7,2169.8 L1367.8,2168.8 L1367.8,2167.8 L1367.8,2166.8 L1367.8,2165.8 L1367.7,2164.8 L1367.6,2163.8 L1367.5,2162.8 L1367.4,2161.8 L1367.2,2160.8 L1367,2159.7 L1366.8,2158.7 L1366.5,2157.7 L1365.7,2156.7 L1364.2,2155.7 L1362.4,2154.7 L1360.5,2153.7 L1358.7,2152.7 L1357.2,2151.7 L1355.9,2150.7 L1354.6,2149.7 L1353.3,2148.7 L1352,2147.7 L1350.7,2146.7 L1349.5,2145.7 L1348.2,2144.7 L1347,2143.7 L1345.6,2142.7 L1344.3,2141.7 L1342.9,2140.7 L1341.6,2139.7 L1340.2,2138.7 L1339,2137.7 L1337.7,2136.7 L1336.6,2135.7 L1335.5,2134.7 L1334.3,2133.7 L1333,2132.7 L1331.9,2131.7 L1330.9,2130.7 L1330.3,2129.7 L1329.9,2128.7 L1329.9,2127.7 L1330,2126.7 L1330,2125.7 L1330,2124.6 L1330.1,2123.6 L1330.1,2122.6 L1330.2,2121.6 L1330.3,2120.6 L1330.3,2119.6 L1330.4,2118.6 L1330.4,2117.6 L1330.5,2116.6 L1330.5,2115.6 L1330.6,2114.6 L1330.6,2113.6 L1330.7,2112.6 L1330.8,2111.6 L1330.9,2110.6 L1331,2109.6 L1331.1,2108.6 L1331.3,2107.6 L1331.6,2106.6 L1332.2,2105.6 L1332.9,2104.6 L1333.7,2103.6 L1334.6,2102.6 L1335.5,2101.6 L1336.5,2100.6 L1337.5,2099.6 L1338.5,2098.6 L1339.7,2097.6 L1341.1,2096.6 L1342.6,2095.6 L1344.1,2094.6 L1345.5,2093.6 L1346.8,2092.6 L1347.9,2091.6 L1348.9,2090.5 L1349.9,2089.5 L1350.9,2088.5 L1351.7,2087.5 L1352.4,2086.5 L1352.9,2085.5 L1353,2084.5 L1352.9,2083.5 L1352.7,2082.5 L1352.5,2081.5 L1352.2,2080.5 L1351.9,2079.5 L1351.6,2078.5 L1351.3,2077.5 L1351.1,2076.5 L1351,2075.5 L1351,2074.5 L1351,2073.5 L1351.1,2072.5 L1351.1,2071.5 L1351.2,2070.5 L1351.3,2069.5 L1351.4,2068.5 L1351.5,2067.5 L1351.7,2066.5 L1352.1,2065.5 L1352.7,2064.5 L1353.6,2063.5 L1354.5,2062.5 L1355.6,2061.5 L1356.6,2060.5 L1357.6,2059.5 L1358.5,2058.5 L1359.4,2057.5 L1360.3,2056.5 L1361.3,2055.4 L1362.3,2054.4 L1363.3,2053.4 L1364.2,2052.4 L1364.9,2051.4 L1365.5,2050.4 L1365.9,2049.4 L1366.2,2048.4 L1366.4,2047.4 L1366.6,2046.4 L1366.8,2045.4 L1366.9,2044.4 L1367.1,2043.4 L1367.2,2042.4 L1367.3,2041.4 L1367.3,2040.4 L1367.3,2039.4 L1367.3,2038.4 L1367.2,2037.4 L1367.2,2036.4 L1367.1,2035.4 L1367,2034.4 L1366.9,2033.4 L1366.7,2032.4 L1366.6,2031.4 L1366.4,2030.4 L1366,2029.4 L1365.5,2028.4 L1365,2027.4 L1364.5,2026.4 L1364.1,2025.4 L1363.8,2024.4 L1363.7,2023.4 L1363.7,2022.4 L1363.7,2021.3 L1363.7,2020.3 L1363.8,2019.3 L1363.8,2018.3 L1363.9,2017.3 L1364,2016.3 L1364.1,2015.3 L1364.6,2014.3 L1365.3,2013.3 L1366.1,2012.3 L1367,2011.3 L1367.9,2010.3 L1368.8,2009.3 L1369.6,2008.3 L1370.2,2007.3 L1370.7,2006.3 L1371.2,2005.3 L1371.7,2004.3 L1372.1,2003.3 L1372.5,2002.3 L1373,2001.3 L1373.4,2000.3 L1373.8,1999.3 L1374.3,1998.3Z" fill="#FF57AF"/>
<circle class="d" cx="1016.8" cy="2076.7" r="4.1"/>
<circle class="d" cx="1027.2" cy="2090.1" r="4.1"/>
<circle class="d" cx="998.9" cy="2105.2" r="4.1"/>
<circle class="d" cx="1014.9" cy="2122.9" r="4.1"/>
<circle class="d" cx="1002.7" cy="2173.7" r="4.1"/>
<circle class="d" cx="1029.2" cy="2190.5" r="4.1"/>
<circle class="d" cx="1023.7" cy="2246.8" r="4.1"/>
<circle class="d" cx="1032.6" cy="2255.9" r="4.1"/>
<circle class="d" cx="1020.4" cy="2295.5" r="4.1"/>
<circle class="d" cx="1029.5" cy="2299.2" r="4.1"/>
<circle class="d" cx="1022.6" cy="2389.8" r="4.1"/>
<circle class="d" cx="1032.6" cy="2389.8" r="4.1"/>
<circle class="d" cx="1151.7" cy="2054.7" r="4.1"/>
<circle class="d" cx="1141.6" cy="2068.2" r="4.1"/>
<circle class="d" cx="1116.2" cy="2072.5" r="4.1"/>
<circle class="d" cx="1122" cy="2071.1" r="4.1"/>
<circle class="d" cx="1136.7" cy="2089.5" r="4.1"/>
<circle class="d" cx="1129.4" cy="2098.1" r="4.1"/>
<circle class="d" cx="1117.5" cy="2113.1" r="4.1"/>
<circle class="d" cx="1113.5" cy="2142.8" r="4.1"/>
<circle class="d" cx="1146.1" cy="2141" r="4.1"/>
<circle class="d" cx="1123.6" cy="2174.8" r="4.1"/>
<circle class="d" cx="1138.7" cy="2176.1" r="4.1"/>
<circle class="d" cx="1124" cy="2182.5" r="4.1"/>
<circle class="d" cx="1122.7" cy="2192.3" r="4.1"/>
<circle class="d" cx="1113.5" cy="2242.9" r="4.1"/>
<circle class="d" cx="1133.7" cy="2260.9" r="4.1"/>
<circle class="d" cx="1270.9" cy="2040.5" r="4.1"/>
<circle class="d" cx="1241.2" cy="2049.1" r="4.1"/>
<circle class="d" cx="1270.9" cy="2054" r="4.1"/>
<circle class="d" cx="1229.1" cy="2069.1" r="4.1"/>
<circle class="d" cx="1241.2" cy="2069.1" r="4.1"/>
<circle class="d" cx="1272" cy="2066.9" r="4.1"/>
<circle class="d" cx="1234.1" cy="2080.1" r="4.1"/>
<circle class="d" cx="1244.2" cy="2080.9" r="4.1"/>
<circle class="d" cx="1231.2" cy="2095" r="4.1"/>
<circle class="d" cx="1259.3" cy="2098.4" r="4.1"/>
<circle class="d" cx="1240.1" cy="2112.8" r="4.1"/>
<circle class="d" cx="1239.7" cy="2118.2" r="4.1"/>
<circle class="d" cx="1242" cy="2136.8" r="4.1"/>
<circle class="d" cx="1229.4" cy="2142.2" r="4.1"/>
<circle class="d" cx="1230.2" cy="2149.8" r="4.1"/>
<circle class="d" cx="1261.1" cy="2154.9" r="4.1"/>
<circle class="d" cx="1241.2" cy="2163.2" r="4.1"/>
<circle class="d" cx="1267.2" cy="2179.7" r="4.1"/>
<circle class="d" cx="1264.4" cy="2188.3" r="4.1"/>
<circle class="d" cx="1273.9" cy="2190.8" r="4.1"/>
<circle class="d" cx="1264.9" cy="2194.8" r="4.1"/>
<circle class="d" cx="1250.9" cy="2217.2" r="4.1"/>
<circle class="d" cx="1369.3" cy="2020.2" r="4.1"/>
<circle class="d" cx="1379.3" cy="2017.8" r="4.1"/>
<circle class="d" cx="1356.9" cy="2037.3" r="4.1"/>
<circle class="d" cx="1361.6" cy="2054.8" r="4.1"/>
<circle class="d" cx="1357.5" cy="2063.4" r="4.1"/>
<circle class="d" cx="1385.3" cy="2068.1" r="4.1"/>
<circle class="d" cx="1395.6" cy="2074" r="4.1"/>
<circle class="d" cx="1351" cy="2078.5" r="4.1"/>
<circle class="d" cx="1354.5" cy="2090.8" r="4.1"/>
<circle class="d" cx="1361.7" cy="2096.8" r="4.1"/>
<circle class="d" cx="1368.2" cy="2096.8" r="4.1"/>
<circle class="d" cx="1395.6" cy="2099.1" r="4.1"/>
<circle class="d" cx="1353.6" cy="2104.2" r="4.1"/>
<circle class="d" cx="1389.1" cy="2106.3" r="4.1"/>
<circle class="d" cx="1361.3" cy="2112.5" r="4.1"/>
<circle class="d" cx="1381.2" cy="2108.9" r="4.1"/>
<circle class="d" cx="1361.6" cy="2119.6" r="4.1"/>
<circle class="d" cx="1362.9" cy="2122.3" r="4.1"/>
<circle class="d" cx="1381.4" cy="2116.6" r="4.1"/>
<circle class="d" cx="1369.6" cy="2127.2" r="4.1"/>
<circle class="d" cx="1358.4" cy="2130.2" r="4.1"/>
<circle class="d" cx="1380.6" cy="2132.6" r="4.1"/>
<circle class="d" cx="1395" cy="2130.2" r="4.1"/>
<circle class="d" cx="1398" cy="2131.4" r="4.1"/>
<circle class="d" cx="1369.6" cy="2138.2" r="4.1"/>
<circle class="d" cx="1396.5" cy="2140" r="4.1"/>
<circle class="d" cx="1389.5" cy="2145.6" r="4.1"/>
<circle class="d" cx="1377.1" cy="2149.1" r="4.1"/>
<circle class="d" cx="1362.7" cy="2170.8" r="4.1"/>
<circle class="d" cx="1362.7" cy="2185.5" r="4.1"/>
<circle class="d" cx="1366.7" cy="2239.4" r="4.1"/>
</g>
<line x1="1011.8" x2="1011.8" y1="2116.6" y2="2349.4" stroke="#1610F0" stroke-width="3.3"/>
<circle cx="1011.8" cy="2233.4" r="8.3" fill="#1414F0"/>
<line x1="1133.3" x2="1133.3" y1="2072.9" y2="2199.7" stroke="#1610F0" stroke-width="3.3"/>
<circle cx="1133.3" cy="2136" r="8.3" fill="#1414F0"/>
<line x1="1253.6" x2="1253.6" y1="2071.8" y2="2180.8" stroke="#1610F0" stroke-width="3.3"/>
<circle cx="1253.6" cy="2125.7" r="8.3" fill="#1414F0"/>
<line x1="1374.3" x2="1374.3" y1="2063.4" y2="2155" stroke="#1610F0" stroke-width="3.3"/>
<circle cx="1374.3" cy="2108.9" r="8.3" fill="#1414F0"/>
<g stroke="#333333" stroke-width="3.4">
<line x1="932.8" x2="940.3" y1="2389.8" y2="2389.8"/>
<line x1="932.8" x2="940.3" y1="2336.9" y2="2336.9"/>
<line x1="932.8" x2="940.3" y1="2284" y2="2284"/>
<line x1="932.8" x2="940.3" y1="2231.1" y2="2231.1"/>
<line x1="932.8" x2="940.3" y1="2178.2" y2="2178.2"/>
<line x1="932.8" x2="940.3" y1="2125.3" y2="2125.3"/>
<line x1="932.8" x2="940.3" y1="2072.4" y2="2072.4"/>
<line x1="932.8" x2="940.3" y1="2019.5" y2="2019.5"/>
<line x1="1011.8" x2="1011.8" y1="2411" y2="2418.5"/>
<line x1="1133.3" x2="1133.3" y1="2411" y2="2418.5"/>
<line x1="1253.6" x2="1253.6" y1="2411" y2="2418.5"/>
<line x1="1374.3" x2="1374.3" y1="2411" y2="2418.5"/>
</g>
<path d="M940.3,1973.8 V2411 H1445.3" fill="none" stroke="#000" stroke-width="2.8"/>
<g font-family="'Liberation Sans', Arial, Helvetica, sans-serif" font-size="31" fill="#000">
<text x="926.8" y="2401" text-anchor="end">0</text>
<text x="926.8" y="2348.1" text-anchor="end">2</text>
<text x="926.8" y="2295.2" text-anchor="end">4</text>
<text x="926.8" y="2242.3" text-anchor="end">6</text>
<text x="926.8" y="2189.4" text-anchor="end">8</text>
<text x="926.8" y="2136.5" text-anchor="end">10</text>
<text x="926.8" y="2083.6" text-anchor="end">12</text>
<text x="926.8" y="2030.7" text-anchor="end">14</text>
<text x="1011.8" y="2446.6" text-anchor="middle" font-size="31.8">AAH</text>
<text x="1133.3" y="2446.6" text-anchor="middle" font-size="31.8">AIS</text>
<text x="1253.6" y="2446.6" text-anchor="middle" font-size="31.8">MIA</text>
<text x="1374.3" y="2446.6" text-anchor="middle" font-size="31.8">ADC</text>
</g>
<text x="1192.8" y="2480.6" text-anchor="middle" font-family="'Liberation Sans', Arial, Helvetica, sans-serif" font-weight="bold" font-size="28.9">Stages</text>
<text transform="translate(880,2191) rotate(-90)" text-anchor="middle" font-family="'Liberation Sans', Arial, Helvetica, sans-serif" font-size="28.6">log2 (Number of DMRs outside PMDs)</text>
<text transform="translate(939.6,1958.4) scale(1,1.07)" font-family="'Liberation Sans', Arial, Helvetica, sans-serif" font-size="30" letter-spacing="-0.5" fill="#CD3131">p−value = 0.006386 (Kruskal−Wallis test)</text>
<text x="787.5" y="1917.2" font-family="'DejaVu Sans', 'Liberation Sans', sans-serif" font-size="54" fill="#000" stroke="#000" stroke-width="1.1">h</text>
<text x="1467.6" y="2004.4" font-family="'Liberation Sans', Arial, Helvetica, sans-serif" font-size="26.4">Stages</text>
<rect x="1468.8" y="2020.6" width="27.2" height="26.9" fill="#EE9D63"/>
<line x1="1482.4" x2="1482.4" y1="2022.5" y2="2045.5" stroke="#1010FF" stroke-width="2.6"/>
<circle cx="1482.4" cy="2034" r="8" fill="#1414F0"/>
<text x="1510" y="2042.6" font-family="'Liberation Sans', Arial, Helvetica, sans-serif" font-size="23.7">AAH</text>
<rect x="1468.8" y="2049" width="27.2" height="26.9" fill="#60AEFC"/>
<line x1="1482.4" x2="1482.4" y1="2050.9" y2="2073.9" stroke="#1010FF" stroke-width="2.6"/>
<circle cx="1482.4" cy="2062.4" r="8" fill="#1414F0"/>
<text x="1510" y="2071" font-family="'Liberation Sans', Arial, Helvetica, sans-serif" font-size="23.7">AIS</text>
<rect x="1468.8" y="2077.4" width="27.2" height="26.9" fill="#B46FFC"/>
<line x1="1482.4" x2="1482.4" y1="2079.3" y2="2102.3" stroke="#1010FF" stroke-width="2.6"/>
<circle cx="1482.4" cy="2090.8" r="8" fill="#1414F0"/>
<text x="1510" y="2099.4" font-family="'Liberation Sans', Arial, Helvetica, sans-serif" font-size="23.7">MIA</text>
<rect x="1468.8" y="2105.8" width="27.2" height="26.9" fill="#FF57AF"/>
<line x1="1482.4" x2="1482.4" y1="2107.7" y2="2130.7" stroke="#1010FF" stroke-width="2.6"/>
<circle cx="1482.4" cy="2119.2" r="8" fill="#1414F0"/>
<text x="1510" y="2127.8" font-family="'Liberation Sans', Arial, Helvetica, sans-serif" font-size="23.7">ADC</text>
</svg>
</body></html>
